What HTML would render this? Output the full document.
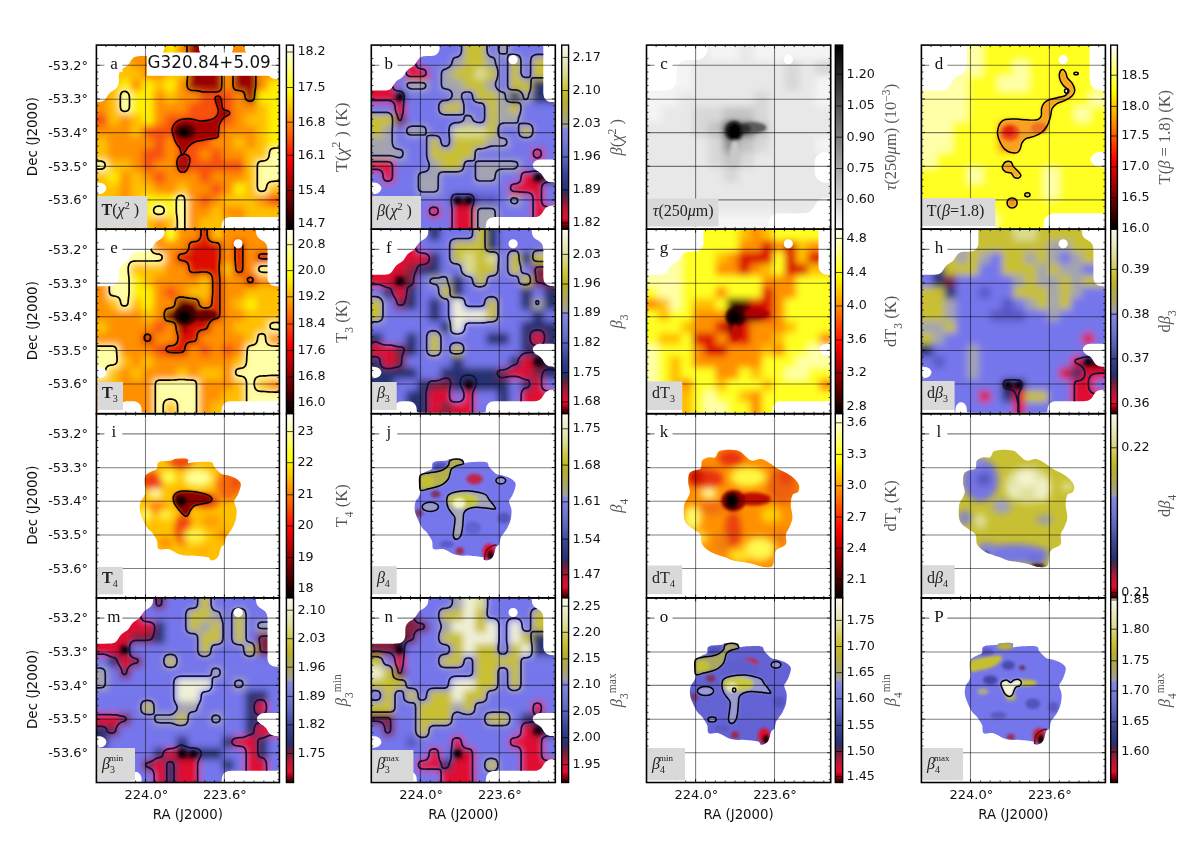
<!DOCTYPE html><html><head><meta charset="utf-8"><title>G320.84+5.09 maps</title><style>html,body{margin:0;padding:0;background:#fff;}svg{display:block}</style></head><body>
<svg width="1200" height="842" viewBox="0 0 1200 842">
<defs>
<linearGradient id="ghot" x1="0" y1="1" x2="0" y2="0"><stop offset="0.000" stop-color="#000000"/><stop offset="0.125" stop-color="#550000"/><stop offset="0.250" stop-color="#aa0000"/><stop offset="0.375" stop-color="#ff0000"/><stop offset="0.500" stop-color="#ff5500"/><stop offset="0.625" stop-color="#ffaa00"/><stop offset="0.750" stop-color="#ffff00"/><stop offset="0.875" stop-color="#ffff80"/><stop offset="1.000" stop-color="#ffffff"/></linearGradient>
<linearGradient id="gbeta" x1="0" y1="1" x2="0" y2="0"><stop offset="0.000" stop-color="#200000"/><stop offset="0.030" stop-color="#900010"/><stop offset="0.060" stop-color="#e01030"/><stop offset="0.120" stop-color="#b01838"/><stop offset="0.180" stop-color="#5a2444"/><stop offset="0.210" stop-color="#283070"/><stop offset="0.300" stop-color="#3a4490"/><stop offset="0.375" stop-color="#5860b8"/><stop offset="0.460" stop-color="#7078d0"/><stop offset="0.545" stop-color="#8888e0"/><stop offset="0.555" stop-color="#a0a0a8"/><stop offset="0.600" stop-color="#a8a470"/><stop offset="0.700" stop-color="#b8b030"/><stop offset="0.750" stop-color="#c8c030"/><stop offset="0.850" stop-color="#dcdc98"/><stop offset="0.930" stop-color="#ececc8"/><stop offset="1.000" stop-color="#f8f8f0"/></linearGradient>
<linearGradient id="ggrey" x1="0" y1="1" x2="0" y2="0"><stop offset="0.000" stop-color="#f8f8f8"/><stop offset="1.000" stop-color="#000000"/></linearGradient>
<filter id="bl" x="-5%" y="-5%" width="110%" height="110%"><feGaussianBlur stdDeviation="3.5"/></filter>
<filter id="bl2" x="-20%" y="-20%" width="140%" height="140%"><feGaussianBlur stdDeviation="1.5"/></filter>
</defs>
<rect width="1200" height="842" fill="#fff"/>
<clipPath id="cpa"><rect x="96.4" y="45.1" width="183.0" height="184.1"/></clipPath>
<g clip-path="url(#cpa)">
<clipPath id="fpa"><path clip-rule="evenodd" transform="translate(96.40,45.10)" d="M125.0,183.1 123.0,183.3 121.0,183.4 119.0,183.5 117.0,183.5 115.0,183.5 113.0,183.5 111.0,183.5 109.0,183.5 107.0,183.5 105.0,183.5 103.0,183.5 101.0,183.5 99.0,183.5 97.0,183.5 95.0,183.5 93.0,183.5 91.0,183.5 89.0,183.5 87.0,183.5 85.0,183.5 83.0,183.5 81.0,183.5 79.0,183.5 77.0,183.5 75.0,183.5 73.0,183.5 71.0,183.5 69.0,183.5 67.0,183.5 65.0,183.5 63.0,183.5 61.0,183.5 59.0,183.5 57.0,183.5 55.0,183.5 53.0,183.5 51.0,183.5 49.0,183.5 47.0,183.5 45.0,183.5 43.0,183.5 41.0,183.5 39.0,183.5 37.0,183.5 35.0,183.5 33.0,183.5 31.0,183.5 29.0,183.5 27.0,183.5 25.0,183.5 23.0,183.5 21.0,183.5 19.0,183.5 17.0,183.5 15.0,183.5 13.0,183.5 11.0,183.5 9.0,183.5 7.0,183.5 5.0,183.5 3.0,183.5 1.0,183.5 -0.5,183.0 -0.5,181.0 -0.5,179.0 -0.5,177.0 -0.5,175.0 -0.5,173.0 -0.5,171.0 -0.5,169.0 -0.5,167.0 -0.5,165.0 -0.5,163.0 -0.5,161.0 -0.5,159.0 -0.5,157.0 -0.5,155.0 -0.4,153.0 -0.3,151.0 -0.0,149.0 1.0,149.0 3.0,148.9 5.0,148.6 6.6,148.0 8.0,147.0 9.0,146.0 9.6,145.0 10.0,143.0 9.3,141.0 8.6,140.0 7.4,139.0 6.0,138.2 5.0,137.9 3.0,137.6 1.0,137.5 -0.1,137.0 -0.3,135.0 -0.4,133.0 -0.5,131.0 -0.5,129.0 -0.5,127.0 -0.5,125.0 -0.5,123.0 -0.5,121.0 -0.5,119.0 -0.5,117.0 -0.5,115.0 -0.5,113.0 -0.5,111.0 -0.5,109.0 -0.5,107.0 -0.5,105.0 -0.5,103.0 -0.5,101.0 -0.5,99.0 -0.5,97.0 -0.5,95.0 -0.5,93.0 -0.5,91.0 -0.5,89.0 -0.5,87.0 -0.5,85.0 -0.5,83.0 -0.5,81.0 -0.5,79.0 -0.5,77.0 -0.5,75.0 -0.5,73.0 -0.5,71.0 -0.5,69.0 -0.5,67.0 -0.5,65.0 -0.5,63.0 -0.4,61.0 -0.3,59.0 -0.0,57.0 1.0,57.0 3.0,56.9 5.0,56.6 6.6,56.0 8.0,55.1 9.0,54.1 9.9,53.0 10.5,52.0 11.1,51.0 12.0,49.5 13.0,48.3 14.0,47.3 15.0,46.5 16.0,45.9 17.5,45.0 19.0,44.0 20.0,43.1 20.9,42.0 21.5,41.0 22.0,39.5 22.3,38.0 22.4,36.0 22.4,34.0 22.4,32.0 22.5,30.0 22.9,28.0 23.3,27.0 24.0,25.8 25.0,24.7 26.0,23.8 27.3,23.0 28.9,22.0 30.0,21.3 31.0,20.5 32.0,19.5 33.0,18.1 33.7,17.0 34.3,16.0 35.0,14.9 36.0,13.6 37.0,12.7 38.2,12.0 40.0,11.3 42.0,11.1 44.0,11.0 46.0,11.0 48.0,11.0 50.0,11.0 52.0,11.0 54.0,11.0 56.0,11.0 58.0,11.0 60.0,10.9 62.0,10.7 63.8,10.0 65.0,9.2 66.0,8.3 66.9,7.0 67.4,6.0 68.0,4.0 68.1,3.0 68.1,1.0 69.0,-0.1 71.0,-0.3 73.0,-0.4 75.0,-0.5 77.0,-0.5 79.0,-0.5 81.0,-0.5 83.0,-0.5 85.0,-0.5 87.0,-0.5 89.0,-0.5 91.0,-0.5 93.0,-0.5 95.0,-0.5 97.0,-0.5 99.0,-0.4 101.0,-0.2 102.4,0.0 102.5,2.0 102.6,4.0 103.0,5.6 103.6,7.0 104.3,8.0 105.3,9.0 106.8,10.0 108.0,10.5 110.0,10.9 112.0,11.0 114.0,11.0 116.0,11.0 118.0,11.0 120.0,11.0 122.0,11.0 124.0,11.0 126.0,11.0 128.0,11.0 130.0,10.8 132.0,10.2 133.0,9.7 134.0,8.9 135.0,7.8 136.0,6.1 136.4,5.0 136.7,3.0 136.7,1.0 137.0,-0.0 139.0,-0.3 141.0,-0.4 143.0,-0.4 145.0,-0.3 147.0,-0.2 148.2,0.0 148.2,2.0 148.4,4.0 148.9,6.0 149.4,7.0 150.1,8.0 151.1,9.0 152.5,10.0 154.0,10.6 156.0,10.9 158.0,11.0 159.6,11.0 161.0,11.0 163.0,11.1 165.0,11.3 166.7,12.0 168.0,12.8 169.0,13.8 169.9,15.0 170.4,16.0 170.9,18.0 171.0,19.1 171.1,21.0 171.1,23.0 171.1,25.0 171.2,27.0 171.8,29.0 172.2,30.0 173.0,31.1 174.0,32.1 175.4,33.0 177.0,33.6 179.0,33.9 181.0,34.0 182.0,34.0 182.3,36.0 182.4,38.0 182.5,40.0 182.5,42.0 182.5,44.0 182.5,46.0 182.5,48.0 182.5,50.0 182.5,52.0 182.5,54.0 182.5,56.0 182.5,58.0 182.5,60.0 182.5,62.0 182.5,64.0 182.5,66.0 182.5,68.0 182.5,70.0 182.5,72.0 182.5,74.0 182.5,76.0 182.5,78.0 182.5,80.0 182.5,82.0 182.5,84.0 182.5,86.0 182.5,88.0 182.5,90.0 182.5,92.0 182.5,94.0 182.5,96.0 182.5,98.0 182.5,100.0 182.5,102.0 182.5,104.0 182.5,106.0 182.5,108.0 182.5,110.0 182.5,112.0 182.5,114.0 182.5,116.0 182.5,118.0 182.5,120.0 182.5,122.0 182.5,124.0 182.5,126.0 182.5,128.0 182.5,130.0 182.5,132.0 182.5,134.0 182.5,136.0 182.5,138.0 182.5,140.0 182.5,142.0 182.5,144.0 182.5,146.0 182.5,148.0 182.5,150.0 182.5,152.0 182.5,154.0 182.5,156.0 182.5,158.0 182.5,160.0 182.5,162.0 182.5,164.0 182.5,166.0 182.4,168.0 182.3,170.0 182.0,172.0 180.0,172.0 178.0,172.0 176.0,172.0 174.0,172.0 172.0,172.0 170.0,172.0 168.0,172.0 166.0,172.0 164.0,172.0 162.0,172.0 160.0,172.0 158.0,172.0 156.0,172.0 154.0,172.0 152.0,172.0 150.0,172.0 148.0,172.0 146.0,172.0 144.0,172.0 142.0,172.0 140.0,172.0 138.0,172.0 136.0,172.0 134.0,172.0 132.0,172.2 130.0,172.8 129.0,173.4 128.0,174.2 127.0,175.3 126.0,177.0 125.7,178.0 125.4,180.0 125.3,182.0 125.0,183.1Z"/></clipPath>
<g clip-path="url(#fpa)"><g filter="url(#bl)">
<rect x="88.40" y="37.10" width="31.48" height="20.11" fill="#ffc000"/>
<rect x="119.28" y="37.10" width="46.35" height="20.11" fill="#ff9000"/>
<rect x="165.02" y="37.10" width="12.04" height="20.11" fill="#fff000"/>
<rect x="176.46" y="37.10" width="12.04" height="20.11" fill="#ff9000"/>
<rect x="187.90" y="37.10" width="34.91" height="20.11" fill="#9a0000"/>
<rect x="222.21" y="37.10" width="65.79" height="20.11" fill="#ff9000"/>
<rect x="88.40" y="56.61" width="42.91" height="12.11" fill="#ffc000"/>
<rect x="130.71" y="56.61" width="57.79" height="12.11" fill="#ff9000"/>
<rect x="187.90" y="56.61" width="34.91" height="12.11" fill="#9a0000"/>
<rect x="222.21" y="56.61" width="12.04" height="12.11" fill="#ff9000"/>
<rect x="233.65" y="56.61" width="12.04" height="12.11" fill="#9a0000"/>
<rect x="245.09" y="56.61" width="42.91" height="12.11" fill="#ff9000"/>
<rect x="88.40" y="68.11" width="54.35" height="12.11" fill="#ffc000"/>
<rect x="142.15" y="68.11" width="23.47" height="12.11" fill="#ff9000"/>
<rect x="165.02" y="68.11" width="23.48" height="12.11" fill="#ffc000"/>
<rect x="187.90" y="68.11" width="34.91" height="12.11" fill="#9a0000"/>
<rect x="222.21" y="68.11" width="12.04" height="12.11" fill="#ff9000"/>
<rect x="233.65" y="68.11" width="23.48" height="12.11" fill="#9a0000"/>
<rect x="256.52" y="68.11" width="31.48" height="12.11" fill="#ff9000"/>
<rect x="88.40" y="79.62" width="31.48" height="12.11" fill="#ffc000"/>
<rect x="119.28" y="79.62" width="12.04" height="12.11" fill="#fff000"/>
<rect x="130.71" y="79.62" width="12.04" height="12.11" fill="#ff9000"/>
<rect x="142.15" y="79.62" width="12.04" height="12.11" fill="#fff000"/>
<rect x="153.59" y="79.62" width="12.04" height="12.11" fill="#ffc000"/>
<rect x="165.02" y="79.62" width="12.04" height="12.11" fill="#fff000"/>
<rect x="176.46" y="79.62" width="12.04" height="12.11" fill="#ff9000"/>
<rect x="187.90" y="79.62" width="34.91" height="12.11" fill="#9a0000"/>
<rect x="222.21" y="79.62" width="12.04" height="12.11" fill="#ff9000"/>
<rect x="233.65" y="79.62" width="23.48" height="12.11" fill="#9a0000"/>
<rect x="256.52" y="79.62" width="12.04" height="12.11" fill="#ff9000"/>
<rect x="267.96" y="79.62" width="20.04" height="12.11" fill="#fff000"/>
<rect x="88.40" y="91.12" width="20.04" height="12.11" fill="#ff9000"/>
<rect x="107.84" y="91.12" width="12.04" height="12.11" fill="#ffc000"/>
<rect x="119.28" y="91.12" width="12.04" height="12.11" fill="#ffffa8"/>
<rect x="130.71" y="91.12" width="23.48" height="12.11" fill="#fff000"/>
<rect x="153.59" y="91.12" width="12.04" height="12.11" fill="#ff9000"/>
<rect x="165.02" y="91.12" width="12.04" height="12.11" fill="#ffc000"/>
<rect x="176.46" y="91.12" width="23.48" height="12.11" fill="#ff9000"/>
<rect x="199.34" y="91.12" width="34.91" height="12.11" fill="#f85010"/>
<rect x="233.65" y="91.12" width="12.04" height="12.11" fill="#ff9000"/>
<rect x="245.09" y="91.12" width="12.04" height="12.11" fill="#9a0000"/>
<rect x="256.52" y="91.12" width="31.48" height="12.11" fill="#fff000"/>
<rect x="88.40" y="102.63" width="20.04" height="12.11" fill="#ff9000"/>
<rect x="107.84" y="102.63" width="12.04" height="12.11" fill="#ffc000"/>
<rect x="119.28" y="102.63" width="12.04" height="12.11" fill="#ffffa8"/>
<rect x="130.71" y="102.63" width="23.48" height="12.11" fill="#fff000"/>
<rect x="153.59" y="102.63" width="34.91" height="12.11" fill="#ff9000"/>
<rect x="187.90" y="102.63" width="46.35" height="12.11" fill="#f85010"/>
<rect x="233.65" y="102.63" width="23.48" height="12.11" fill="#ff9000"/>
<rect x="256.52" y="102.63" width="12.04" height="12.11" fill="#ffc000"/>
<rect x="267.96" y="102.63" width="20.04" height="12.11" fill="#fff000"/>
<rect x="88.40" y="114.14" width="20.04" height="12.11" fill="#f85010"/>
<rect x="107.84" y="114.14" width="12.04" height="12.11" fill="#ffc000"/>
<rect x="119.28" y="114.14" width="12.04" height="12.11" fill="#ff9000"/>
<rect x="130.71" y="114.14" width="12.04" height="12.11" fill="#ffc000"/>
<rect x="142.15" y="114.14" width="12.04" height="12.11" fill="#fff000"/>
<rect x="153.59" y="114.14" width="12.04" height="12.11" fill="#ff9000"/>
<rect x="165.02" y="114.14" width="69.22" height="12.11" fill="#f85010"/>
<rect x="233.65" y="114.14" width="12.04" height="12.11" fill="#ff9000"/>
<rect x="245.09" y="114.14" width="23.48" height="12.11" fill="#ffc000"/>
<rect x="267.96" y="114.14" width="20.04" height="12.11" fill="#fff000"/>
<rect x="88.40" y="125.64" width="42.91" height="12.11" fill="#ff9000"/>
<rect x="130.71" y="125.64" width="12.04" height="12.11" fill="#ffc000"/>
<rect x="142.15" y="125.64" width="80.66" height="12.11" fill="#f85010"/>
<rect x="222.21" y="125.64" width="34.91" height="12.11" fill="#ff9000"/>
<rect x="256.52" y="125.64" width="12.04" height="12.11" fill="#ffc000"/>
<rect x="267.96" y="125.64" width="20.04" height="12.11" fill="#fff000"/>
<rect x="88.40" y="137.15" width="20.04" height="12.11" fill="#ffc000"/>
<rect x="107.84" y="137.15" width="46.35" height="12.11" fill="#ff9000"/>
<rect x="153.59" y="137.15" width="12.04" height="12.11" fill="#f85010"/>
<rect x="165.02" y="137.15" width="12.04" height="12.11" fill="#ff9000"/>
<rect x="176.46" y="137.15" width="34.91" height="12.11" fill="#f85010"/>
<rect x="210.77" y="137.15" width="23.48" height="12.11" fill="#ff9000"/>
<rect x="233.65" y="137.15" width="12.04" height="12.11" fill="#ffc000"/>
<rect x="245.09" y="137.15" width="12.04" height="12.11" fill="#ff9000"/>
<rect x="256.52" y="137.15" width="12.04" height="12.11" fill="#ffc000"/>
<rect x="267.96" y="137.15" width="20.04" height="12.11" fill="#fff000"/>
<rect x="88.40" y="148.66" width="20.04" height="12.11" fill="#ffc000"/>
<rect x="107.84" y="148.66" width="34.91" height="12.11" fill="#ff9000"/>
<rect x="142.15" y="148.66" width="23.47" height="12.11" fill="#f85010"/>
<rect x="165.02" y="148.66" width="12.04" height="12.11" fill="#ff9000"/>
<rect x="176.46" y="148.66" width="23.48" height="12.11" fill="#f85010"/>
<rect x="199.34" y="148.66" width="12.04" height="12.11" fill="#ff9000"/>
<rect x="210.77" y="148.66" width="12.04" height="12.11" fill="#f85010"/>
<rect x="222.21" y="148.66" width="23.48" height="12.11" fill="#ff9000"/>
<rect x="245.09" y="148.66" width="23.48" height="12.11" fill="#ffc000"/>
<rect x="267.96" y="148.66" width="20.04" height="12.11" fill="#ffffa8"/>
<rect x="88.40" y="160.16" width="20.04" height="12.11" fill="#ffffa8"/>
<rect x="107.84" y="160.16" width="23.48" height="12.11" fill="#ffc000"/>
<rect x="130.71" y="160.16" width="12.04" height="12.11" fill="#ff9000"/>
<rect x="142.15" y="160.16" width="12.04" height="12.11" fill="#f85010"/>
<rect x="153.59" y="160.16" width="23.47" height="12.11" fill="#ff9000"/>
<rect x="176.46" y="160.16" width="69.22" height="12.11" fill="#f85010"/>
<rect x="245.09" y="160.16" width="12.04" height="12.11" fill="#ffc000"/>
<rect x="256.52" y="160.16" width="31.48" height="12.11" fill="#ffffa8"/>
<rect x="88.40" y="171.67" width="20.04" height="12.11" fill="#ffc000"/>
<rect x="107.84" y="171.67" width="12.04" height="12.11" fill="#fff000"/>
<rect x="119.28" y="171.67" width="12.04" height="12.11" fill="#ff9000"/>
<rect x="130.71" y="171.67" width="12.04" height="12.11" fill="#ffc000"/>
<rect x="142.15" y="171.67" width="12.04" height="12.11" fill="#ff9000"/>
<rect x="153.59" y="171.67" width="12.04" height="12.11" fill="#f85010"/>
<rect x="165.02" y="171.67" width="34.91" height="12.11" fill="#ff9000"/>
<rect x="199.34" y="171.67" width="12.04" height="12.11" fill="#f85010"/>
<rect x="210.77" y="171.67" width="34.91" height="12.11" fill="#ff9000"/>
<rect x="245.09" y="171.67" width="12.04" height="12.11" fill="#ffc000"/>
<rect x="256.52" y="171.67" width="31.48" height="12.11" fill="#ffffa8"/>
<rect x="88.40" y="183.17" width="31.48" height="12.11" fill="#ffc000"/>
<rect x="119.28" y="183.17" width="12.04" height="12.11" fill="#ff9000"/>
<rect x="130.71" y="183.17" width="23.48" height="12.11" fill="#ffc000"/>
<rect x="153.59" y="183.17" width="23.47" height="12.11" fill="#ff9000"/>
<rect x="176.46" y="183.17" width="12.04" height="12.11" fill="#ffc000"/>
<rect x="187.90" y="183.17" width="23.48" height="12.11" fill="#ff9000"/>
<rect x="210.77" y="183.17" width="12.04" height="12.11" fill="#f85010"/>
<rect x="222.21" y="183.17" width="12.04" height="12.11" fill="#ff9000"/>
<rect x="233.65" y="183.17" width="12.04" height="12.11" fill="#fff000"/>
<rect x="245.09" y="183.17" width="12.04" height="12.11" fill="#ffc000"/>
<rect x="256.52" y="183.17" width="12.04" height="12.11" fill="#ffffa8"/>
<rect x="267.96" y="183.17" width="20.04" height="12.11" fill="#ffc000"/>
<rect x="88.40" y="194.68" width="31.48" height="12.11" fill="#ffc000"/>
<rect x="119.28" y="194.68" width="12.04" height="12.11" fill="#ff9000"/>
<rect x="130.71" y="194.68" width="12.04" height="12.11" fill="#ffc000"/>
<rect x="142.15" y="194.68" width="34.91" height="12.11" fill="#fff000"/>
<rect x="176.46" y="194.68" width="12.04" height="12.11" fill="#ffffa8"/>
<rect x="187.90" y="194.68" width="12.04" height="12.11" fill="#ff9000"/>
<rect x="199.34" y="194.68" width="12.04" height="12.11" fill="#f85010"/>
<rect x="210.77" y="194.68" width="12.04" height="12.11" fill="#ff9000"/>
<rect x="222.21" y="194.68" width="34.91" height="12.11" fill="#ffc000"/>
<rect x="256.52" y="194.68" width="12.04" height="12.11" fill="#ff9000"/>
<rect x="267.96" y="194.68" width="20.04" height="12.11" fill="#f85010"/>
<rect x="88.40" y="206.19" width="31.48" height="12.11" fill="#ffc000"/>
<rect x="119.28" y="206.19" width="12.04" height="12.11" fill="#ff9000"/>
<rect x="130.71" y="206.19" width="23.48" height="12.11" fill="#fff000"/>
<rect x="153.59" y="206.19" width="12.04" height="12.11" fill="#ffffa8"/>
<rect x="165.02" y="206.19" width="12.04" height="12.11" fill="#fff000"/>
<rect x="176.46" y="206.19" width="12.04" height="12.11" fill="#ffffa8"/>
<rect x="187.90" y="206.19" width="23.48" height="12.11" fill="#ff9000"/>
<rect x="210.77" y="206.19" width="12.04" height="12.11" fill="#ffc000"/>
<rect x="222.21" y="206.19" width="23.48" height="12.11" fill="#ff9000"/>
<rect x="245.09" y="206.19" width="42.91" height="12.11" fill="#ffc000"/>
<rect x="88.40" y="217.69" width="65.79" height="20.11" fill="#ffc000"/>
<rect x="153.59" y="217.69" width="12.04" height="20.11" fill="#ff9000"/>
<rect x="165.02" y="217.69" width="12.04" height="20.11" fill="#ffc000"/>
<rect x="176.46" y="217.69" width="12.04" height="20.11" fill="#ffffa8"/>
<rect x="187.90" y="217.69" width="12.04" height="20.11" fill="#ff9000"/>
<rect x="199.34" y="217.69" width="34.91" height="20.11" fill="#ffc000"/>
<rect x="233.65" y="217.69" width="12.04" height="20.11" fill="#ff9000"/>
<rect x="245.09" y="217.69" width="42.91" height="20.11" fill="#ffc000"/>
</g>
<g transform="translate(96.40,45.10)"><g filter="url(#bl2)"><path d="M75.8,83.5 C76.5,80.8 78.6,77.5 81.3,75.8 C84.1,74.2 88.6,73.6 92.3,73.6 C96.0,73.6 99.6,75.6 103.3,75.8 C107.0,76.0 111.5,75.5 114.3,74.7 C117.0,74.0 118.5,72.9 119.8,71.4 C121.1,70.0 122.0,68.1 122.0,65.9 C122.0,63.7 120.3,60.4 119.8,58.2 C119.2,56.0 118.3,54.0 118.7,52.7 C119.0,51.5 121.0,50.8 122.0,51.0 C123.0,51.2 124.1,51.7 124.8,53.8 C125.6,56.0 125.2,61.7 126.4,63.7 C127.5,65.8 130.8,65.0 131.9,65.9 C133.0,66.8 133.7,68.1 133.0,69.2 C132.2,70.3 129.1,70.9 127.5,72.5 C125.8,74.2 124.0,76.6 123.1,79.1 C122.2,81.7 122.3,85.7 122.0,87.9 C121.6,90.1 122.9,91.2 120.9,92.3 C118.9,93.4 113.6,93.8 109.9,94.5 C106.2,95.2 101.8,95.6 98.9,96.7 C96.0,97.8 94.1,99.3 92.3,101.1 C90.5,102.9 89.1,106.2 87.9,107.7 C86.7,109.2 86.0,110.6 85.3,109.9 C84.5,109.2 84.4,105.1 83.5,103.3 C82.7,101.5 81.2,100.7 80.2,98.9 C79.2,97.1 78.1,94.9 77.4,92.3 C76.6,89.7 75.2,86.3 75.8,83.5Z" fill="#a80000" /><path d="M80.9,114.3 C81.5,112.5 83.1,110.7 84.6,109.9 C86.2,109.1 88.6,108.9 90.1,109.5 C91.6,110.0 93.0,111.3 93.4,113.2 C93.8,115.1 93.0,118.7 92.3,120.9 C91.6,123.1 90.5,125.5 89.0,126.4 C87.5,127.3 84.9,127.3 83.5,126.4 C82.2,125.5 81.3,122.9 80.9,120.9 C80.4,118.9 80.3,116.1 80.9,114.3Z" fill="#b00808" /><ellipse cx="89.0" cy="86.2" rx="10.5" ry="7.9" fill="#500000" transform="rotate(0 89.0 86.2)"/><ellipse cx="87.5" cy="86.8" rx="5.7" ry="4.8" fill="#0a0000" transform="rotate(0 87.5 86.8)"/></g></g>
<path transform="translate(96.40,45.10)" d="M90.6,-1.0 90.6,1.0 90.6,3.0 90.6,5.0 90.6,7.0 90.6,9.0 90.6,11.0 90.6,13.0 90.6,15.0 90.6,17.0 90.7,19.0 90.9,21.0 91.0,22.4 91.2,24.0 91.3,26.0 91.3,28.0 91.3,30.0 91.2,32.0 91.0,33.6 90.9,35.0 90.7,37.0 90.7,39.0 90.8,41.0 91.0,42.0 92.0,43.8 93.0,44.5 94.1,45.0 96.0,45.3 98.0,45.4 100.0,45.6 102.0,45.9 103.0,46.1 105.0,46.5 107.0,46.8 109.0,46.9 111.0,46.9 113.0,46.9 115.0,46.9 117.0,46.9 119.0,46.9 121.0,46.7 123.0,46.1 124.0,45.3 124.8,44.0 125.1,43.0 125.3,41.0 125.4,39.0 125.4,37.0 125.4,35.0 125.4,33.0 125.4,31.0 125.4,29.0 125.4,27.0 125.4,25.0 125.4,23.0 125.4,21.0 125.4,19.0 125.4,17.0 125.4,15.0 125.4,13.0 125.4,11.0 125.4,9.0 125.4,7.0 125.4,5.0 125.4,3.0 125.4,1.0 125.4,-1.0M154.9,56.0 156.0,55.6 157.0,54.7 157.8,53.0 158.0,52.0 158.2,50.0 158.3,48.0 158.6,46.0 158.9,44.0 159.1,43.0 159.3,41.0 159.4,39.0 159.4,37.0 159.4,35.0 159.4,33.0 159.4,31.0 159.4,29.0 159.2,27.0 159.0,26.0 158.0,24.2 157.0,23.4 155.9,23.0 154.0,22.6 152.0,22.2 151.0,21.8 149.9,21.0 149.0,19.6 148.6,18.0 148.3,16.0 148.0,14.1 147.5,13.0 146.8,12.0 145.0,11.0 144.0,10.8 142.0,10.7 140.2,11.0 139.0,11.5 138.0,12.2 137.0,14.0 136.8,15.0 136.6,17.0 136.6,19.0 136.6,21.0 136.6,23.0 136.6,25.0 136.6,27.0 136.6,29.0 136.6,31.0 136.6,33.0 136.6,35.0 136.6,37.0 136.6,39.0 136.8,41.0 137.0,42.3 137.9,44.0 139.0,44.8 140.0,45.1 142.0,45.4 144.0,45.6 145.6,46.0 147.0,46.9 147.8,48.0 148.2,49.0 148.6,51.0 149.0,52.9 149.5,54.0 150.2,55.0 152.0,55.9 153.0,56.1 154.9,56.0ZM30.0,66.0 28.0,66.2 26.6,66.0 25.0,65.1 24.4,64.0 24.0,62.2 23.9,61.0 23.9,59.0 23.9,57.0 23.9,55.0 23.9,53.0 24.0,51.0 24.1,50.0 24.8,48.0 25.7,47.0 27.0,46.4 29.0,46.3 30.6,47.0 31.7,48.0 32.3,49.0 32.9,51.0 33.0,52.0 33.1,54.0 33.1,56.0 33.1,58.0 33.1,60.0 33.0,62.0 32.9,63.0 32.0,64.9 31.0,65.6 30.0,66.0ZM183.0,136.1 181.0,136.1 179.0,136.1 177.0,136.2 175.0,136.4 173.1,137.0 172.0,137.8 171.1,139.0 170.6,140.0 170.1,142.0 169.9,143.0 169.0,144.9 168.0,145.7 167.0,146.1 165.0,146.2 163.6,146.0 162.0,145.1 161.4,144.0 161.0,142.2 160.9,141.0 160.9,139.0 160.9,137.0 160.9,135.0 160.9,133.0 160.9,131.0 160.9,129.0 160.9,127.0 160.9,125.0 160.9,123.0 161.0,121.0 161.0,120.0 161.6,118.0 162.4,117.0 164.0,116.2 165.1,116.0 167.0,115.8 169.0,115.4 170.0,114.9 171.2,114.0 172.0,112.9 172.6,111.0 172.9,109.0 173.0,107.8 173.4,106.0 174.0,104.7 175.0,103.8 177.0,103.1 178.0,103.0 180.0,102.9 182.0,102.9 183.0,102.9M-1.0,115.9 1.0,115.9 3.0,115.9 4.4,116.0 6.0,116.3 7.4,117.0 8.3,118.0 8.8,120.0 8.4,122.0 7.7,123.0 6.0,123.8 4.7,124.0 3.0,124.1 1.0,124.1 -1.0,124.1M80.9,184.0 80.9,182.0 80.9,180.0 80.9,178.0 80.9,176.0 80.8,174.0 80.6,172.0 80.3,170.0 80.0,168.0 80.0,167.0 79.9,165.0 79.9,163.0 79.9,161.0 79.9,159.0 79.9,157.0 80.0,155.0 80.1,154.0 80.9,152.0 81.9,151.0 83.0,150.5 85.0,150.3 87.0,151.0 87.7,152.0 88.1,153.0 88.3,155.0 88.4,157.0 88.4,159.0 88.4,161.0 88.4,163.0 88.4,165.0 88.4,167.0 88.4,169.0 88.4,171.0 88.4,173.0 88.4,175.0 88.4,177.0 88.4,179.0 88.4,181.0 88.4,183.0 88.4,184.0M65.0,169.0 63.0,169.3 61.0,169.2 59.9,169.0 58.1,168.0 57.5,167.0 57.2,165.0 57.8,163.0 58.8,162.0 60.0,161.4 62.0,161.0 64.0,161.1 66.0,161.8 67.0,162.8 67.6,164.0 67.8,166.0 67.0,167.9 66.0,168.6 65.0,169.0Z" fill="none" stroke="#000" stroke-width="1.7" stroke-linejoin="round"/>
</g>
<line x1="96.4" x2="279.4" y1="65.3" y2="65.3" stroke="#000" stroke-width="1.1" opacity="0.5"/>
<line x1="96.4" x2="279.4" y1="99.2" y2="99.2" stroke="#000" stroke-width="1.1" opacity="0.5"/>
<line x1="96.4" x2="279.4" y1="132.6" y2="132.6" stroke="#000" stroke-width="1.1" opacity="0.5"/>
<line x1="96.4" x2="279.4" y1="166.4" y2="166.4" stroke="#000" stroke-width="1.1" opacity="0.5"/>
<line x1="96.4" x2="279.4" y1="199.9" y2="199.9" stroke="#000" stroke-width="1.1" opacity="0.5"/>
<line x1="145.5" x2="145.5" y1="45.1" y2="229.2" stroke="#000" stroke-width="1.1" opacity="0.5"/>
<line x1="224.4" x2="224.4" y1="45.1" y2="229.2" stroke="#000" stroke-width="1.1" opacity="0.5"/>
<g transform="translate(96.40,45.10)" fill="none" stroke="#000" stroke-width="1.5" stroke-linejoin="round"><path d="M75.8,83.5 C76.5,80.8 78.6,77.5 81.3,75.8 C84.1,74.2 88.6,73.6 92.3,73.6 C96.0,73.6 99.6,75.6 103.3,75.8 C107.0,76.0 111.5,75.5 114.3,74.7 C117.0,74.0 118.5,72.9 119.8,71.4 C121.1,70.0 122.0,68.1 122.0,65.9 C122.0,63.7 120.3,60.4 119.8,58.2 C119.2,56.0 118.3,54.0 118.7,52.7 C119.0,51.5 121.0,50.8 122.0,51.0 C123.0,51.2 124.1,51.7 124.8,53.8 C125.6,56.0 125.2,61.7 126.4,63.7 C127.5,65.8 130.8,65.0 131.9,65.9 C133.0,66.8 133.7,68.1 133.0,69.2 C132.2,70.3 129.1,70.9 127.5,72.5 C125.8,74.2 124.0,76.6 123.1,79.1 C122.2,81.7 122.3,85.7 122.0,87.9 C121.6,90.1 122.9,91.2 120.9,92.3 C118.9,93.4 113.6,93.8 109.9,94.5 C106.2,95.2 101.8,95.6 98.9,96.7 C96.0,97.8 94.1,99.3 92.3,101.1 C90.5,102.9 89.1,106.2 87.9,107.7 C86.7,109.2 86.0,110.6 85.3,109.9 C84.5,109.2 84.4,105.1 83.5,103.3 C82.7,101.5 81.2,100.7 80.2,98.9 C79.2,97.1 78.1,94.9 77.4,92.3 C76.6,89.7 75.2,86.3 75.8,83.5Z"/><path d="M80.9,114.3 C81.5,112.5 83.1,110.7 84.6,109.9 C86.2,109.1 88.6,108.9 90.1,109.5 C91.6,110.0 93.0,111.3 93.4,113.2 C93.8,115.1 93.0,118.7 92.3,120.9 C91.6,123.1 90.5,125.5 89.0,126.4 C87.5,127.3 84.9,127.3 83.5,126.4 C82.2,125.5 81.3,122.9 80.9,120.9 C80.4,118.9 80.3,116.1 80.9,114.3Z"/></g>
<path d="M96.4,58.6h2M279.4,58.6h-2M96.4,65.3h3.5M279.4,65.3h-3.5M96.4,72.0h2M279.4,72.0h-2M96.4,78.8h2M279.4,78.8h-2M96.4,85.5h2M279.4,85.5h-2M96.4,92.2h2M279.4,92.2h-2M96.4,98.9h3.5M279.4,98.9h-3.5M96.4,105.7h2M279.4,105.7h-2M96.4,112.4h2M279.4,112.4h-2M96.4,119.1h2M279.4,119.1h-2M96.4,125.9h2M279.4,125.9h-2M96.4,132.6h3.5M279.4,132.6h-3.5M96.4,139.3h2M279.4,139.3h-2M96.4,146.1h2M279.4,146.1h-2M96.4,152.8h2M279.4,152.8h-2M96.4,159.5h2M279.4,159.5h-2M96.4,166.2h3.5M279.4,166.2h-3.5M96.4,173.0h2M279.4,173.0h-2M96.4,179.7h2M279.4,179.7h-2M96.4,186.4h2M279.4,186.4h-2M96.4,193.2h2M279.4,193.2h-2M96.4,199.9h3.5M279.4,199.9h-3.5M96.4,206.6h2M279.4,206.6h-2M96.4,213.4h2M279.4,213.4h-2M96.4,220.1h2M279.4,220.1h-2M96.4,226.8h2M279.4,226.8h-2M106.0,229.2v-2M106.0,45.1v2M115.9,229.2v-2M115.9,45.1v2M125.8,229.2v-2M125.8,45.1v2M135.6,229.2v-2M135.6,45.1v2M145.5,229.2v-3.5M145.5,45.1v3.5M155.4,229.2v-2M155.4,45.1v2M165.2,229.2v-2M165.2,45.1v2M175.1,229.2v-2M175.1,45.1v2M184.9,229.2v-2M184.9,45.1v2M194.8,229.2v-2M194.8,45.1v2M204.7,229.2v-2M204.7,45.1v2M214.5,229.2v-2M214.5,45.1v2M224.4,229.2v-3.5M224.4,45.1v3.5M234.3,229.2v-2M234.3,45.1v2M244.1,229.2v-2M244.1,45.1v2M254.0,229.2v-2M254.0,45.1v2M263.9,229.2v-2M263.9,45.1v2M273.7,229.2v-2M273.7,45.1v2" stroke="#000" stroke-width="0.8" fill="none"/>
<rect x="104.4" y="57.1" width="18" height="15" fill="#fff"/>
<text x="113.9" y="68.7" font-family="'Liberation Serif','DejaVu Serif',serif" font-size="17" text-anchor="middle" fill="#111">a</text>
<rect x="97.0" y="227.5" width="50.4" height="2.2" fill="#fff"/>
<rect x="97.0" y="196.0" width="50.4" height="31.5" fill="#d9d9d9"/>
<text x="101.6" y="214.7" font-family="'Liberation Serif','DejaVu Serif',serif" font-size="16" fill="#222"><tspan font-weight="bold">T</tspan><tspan>(</tspan><tspan font-style="italic">χ</tspan><tspan dy="-6" font-size="10">2</tspan><tspan dy="6"> )</tspan></text>
</g>
<rect x="96.4" y="45.1" width="183.0" height="184.1" fill="none" stroke="#000" stroke-width="1.6"/>
<rect x="286.4" y="45.1" width="7.1" height="184.1" fill="url(#ghot)" stroke="#000" stroke-width="1.4"/>
<line x1="286.4" x2="293.5" y1="52.0" y2="52.0" stroke="#000" stroke-width="0.9" opacity="0.8"/>
<text x="297.4" y="55.4" font-family="'DejaVu Sans','Liberation Sans',sans-serif" font-size="12.7" fill="#111">18.2</text>
<line x1="286.4" x2="293.5" y1="87.5" y2="87.5" stroke="#000" stroke-width="0.9" opacity="0.8"/>
<text x="297.4" y="90.9" font-family="'DejaVu Sans','Liberation Sans',sans-serif" font-size="12.7" fill="#111">17.5</text>
<line x1="286.4" x2="293.5" y1="122.2" y2="122.2" stroke="#000" stroke-width="0.9" opacity="0.8"/>
<text x="297.4" y="125.6" font-family="'DejaVu Sans','Liberation Sans',sans-serif" font-size="12.7" fill="#111">16.8</text>
<line x1="286.4" x2="293.5" y1="155.3" y2="155.3" stroke="#000" stroke-width="0.9" opacity="0.8"/>
<text x="297.4" y="158.7" font-family="'DejaVu Sans','Liberation Sans',sans-serif" font-size="12.7" fill="#111">16.1</text>
<line x1="286.4" x2="293.5" y1="190.5" y2="190.5" stroke="#000" stroke-width="0.9" opacity="0.8"/>
<text x="297.4" y="193.9" font-family="'DejaVu Sans','Liberation Sans',sans-serif" font-size="12.7" fill="#111">15.4</text>
<line x1="286.4" x2="293.5" y1="224.0" y2="224.0" stroke="#000" stroke-width="0.9" opacity="0.8"/>
<text x="297.4" y="227.4" font-family="'DejaVu Sans','Liberation Sans',sans-serif" font-size="12.7" fill="#111">14.7</text>
<text transform="translate(346.5,137.2) rotate(-90)" text-anchor="middle" font-family="'Liberation Serif','DejaVu Serif',serif" font-size="17.6" fill="#555"><tspan>T(</tspan><tspan font-style="italic">χ</tspan><tspan baseline-shift="super" font-size="70%">2</tspan><tspan> ) (K)</tspan></text>
<clipPath id="cpb"><rect x="371.3" y="45.1" width="184.0" height="184.1"/></clipPath>
<g clip-path="url(#cpb)">
<clipPath id="fpb"><path clip-rule="evenodd" transform="translate(371.30,45.10)" d="M114.0,183.1 112.0,183.3 110.0,183.4 108.0,183.5 106.0,183.5 104.0,183.5 102.0,183.5 100.0,183.5 98.0,183.5 96.0,183.5 94.0,183.5 92.0,183.5 90.0,183.5 88.0,183.5 86.0,183.5 84.0,183.5 82.0,183.5 80.0,183.5 78.0,183.5 76.0,183.5 74.0,183.5 72.0,183.5 70.0,183.5 68.0,183.5 66.0,183.5 64.0,183.5 62.0,183.5 60.0,183.5 58.0,183.5 56.0,183.5 54.0,183.5 52.0,183.5 50.0,183.5 48.0,183.5 46.0,183.5 44.0,183.5 42.0,183.5 40.0,183.5 38.0,183.5 36.0,183.5 34.0,183.5 32.0,183.5 30.0,183.5 28.0,183.5 26.0,183.5 24.0,183.5 22.0,183.5 20.0,183.5 18.0,183.5 16.0,183.5 14.0,183.5 12.0,183.5 10.0,183.5 8.0,183.5 6.0,183.5 4.0,183.5 2.0,183.5 0.0,183.5 -0.5,182.0 -0.5,180.0 -0.5,178.0 -0.5,176.0 -0.5,174.0 -0.5,172.0 -0.5,170.0 -0.5,168.0 -0.5,166.0 -0.5,164.0 -0.5,162.0 -0.5,160.0 -0.5,158.0 -0.5,156.0 -0.4,154.0 -0.3,152.0 -0.1,150.0 0.0,149.0 2.0,149.0 4.0,148.8 6.0,148.3 7.0,147.8 8.1,147.0 9.0,146.0 10.0,144.0 10.1,143.0 9.9,142.0 9.0,140.5 8.0,139.4 7.0,138.7 5.4,138.0 4.0,137.7 2.0,137.5 0.0,137.5 -0.2,136.0 -0.4,134.0 -0.5,132.0 -0.5,130.0 -0.5,128.0 -0.5,126.0 -0.5,124.0 -0.5,122.0 -0.5,120.0 -0.5,118.0 -0.5,116.0 -0.5,114.0 -0.5,112.0 -0.5,110.0 -0.5,108.0 -0.5,106.0 -0.5,104.0 -0.5,102.0 -0.5,100.0 -0.5,98.0 -0.5,96.0 -0.5,94.0 -0.5,92.0 -0.5,90.0 -0.5,88.0 -0.5,86.0 -0.5,84.0 -0.5,82.0 -0.5,80.0 -0.5,78.0 -0.5,76.0 -0.5,74.0 -0.5,72.0 -0.5,70.0 -0.5,68.0 -0.5,66.0 -0.5,64.0 -0.5,62.0 -0.5,60.0 -0.5,58.0 -0.5,56.0 -0.5,54.0 -0.5,52.0 -0.4,50.0 -0.3,48.0 -0.1,46.0 1.0,45.5 3.0,45.5 5.0,45.5 7.0,45.5 9.0,45.5 11.0,45.5 13.0,45.5 15.0,45.4 17.0,45.0 18.0,44.6 19.0,44.0 20.2,43.0 21.0,42.0 22.0,40.6 22.9,39.0 23.6,38.0 24.4,37.0 25.3,36.0 26.6,35.0 28.0,34.1 29.0,33.6 30.0,32.9 31.2,32.0 32.1,31.0 33.0,29.9 34.0,28.2 34.8,27.0 35.4,26.0 36.3,25.0 37.4,24.0 38.9,23.0 40.0,22.4 41.0,21.7 42.1,21.0 43.2,20.0 44.1,19.0 45.0,17.6 45.9,16.0 46.6,15.0 47.4,14.0 48.4,13.0 49.8,12.0 51.0,11.5 53.0,11.1 55.0,11.0 57.0,11.0 58.0,11.0 60.0,11.0 62.0,10.7 64.0,10.1 65.0,9.5 66.0,8.6 67.0,7.5 67.8,6.0 68.1,5.0 68.4,3.0 68.5,1.0 69.0,-0.1 71.0,-0.3 73.0,-0.4 75.0,-0.5 77.0,-0.5 79.0,-0.5 81.0,-0.5 83.0,-0.5 85.0,-0.5 87.0,-0.5 89.0,-0.5 91.0,-0.5 93.0,-0.5 95.0,-0.5 97.0,-0.5 99.0,-0.5 101.0,-0.5 103.0,-0.5 105.0,-0.5 107.0,-0.5 109.0,-0.5 111.0,-0.5 113.0,-0.5 115.0,-0.5 117.0,-0.5 119.0,-0.5 121.0,-0.5 123.0,-0.5 125.0,-0.5 127.0,-0.5 129.0,-0.5 131.0,-0.5 133.0,-0.5 135.0,-0.5 137.0,-0.5 139.0,-0.5 141.0,-0.5 143.0,-0.5 145.0,-0.5 147.0,-0.5 149.0,-0.5 151.0,-0.5 153.0,-0.5 155.0,-0.5 157.0,-0.5 159.0,-0.5 161.0,-0.5 163.0,-0.5 165.0,-0.5 167.0,-0.4 169.0,-0.3 171.0,-0.1 172.0,1.0 172.0,3.0 172.0,5.0 172.0,7.0 172.0,9.0 172.0,11.0 172.0,13.0 172.0,15.0 172.0,17.0 172.0,19.0 172.0,21.0 172.0,23.0 172.0,25.0 172.0,27.0 172.0,29.0 172.0,31.0 172.0,33.0 172.0,35.0 172.0,37.0 172.0,39.0 172.0,41.0 172.0,43.0 172.0,45.0 172.0,47.0 172.1,49.0 172.4,51.0 173.0,52.6 173.9,54.0 174.9,55.0 176.0,55.8 177.0,56.3 179.0,56.8 181.0,57.0 183.0,57.0 183.1,58.0 183.3,60.0 183.4,62.0 183.5,64.0 183.5,66.0 183.5,68.0 183.5,70.0 183.5,72.0 183.5,74.0 183.5,76.0 183.5,78.0 183.5,80.0 183.5,82.0 183.5,84.0 183.5,86.0 183.5,88.0 183.5,90.0 183.5,92.0 183.5,94.0 183.5,96.0 183.5,98.0 183.5,100.0 183.5,102.0 183.5,104.0 183.5,106.0 183.5,108.0 183.4,110.0 183.3,112.0 183.1,114.0 182.0,114.5 180.0,114.5 178.0,114.5 176.0,114.5 174.0,114.5 172.0,114.5 170.0,114.5 168.0,114.6 166.0,115.0 165.0,115.4 164.0,116.0 162.9,117.0 162.0,118.2 161.4,120.0 161.8,122.0 162.5,123.0 163.4,124.0 164.6,125.0 166.0,125.9 167.0,126.4 168.0,127.1 169.2,128.0 170.1,129.0 171.0,130.1 172.0,131.7 172.8,133.0 173.5,134.0 174.3,135.0 175.5,136.0 177.0,136.8 178.0,137.1 180.0,137.4 182.0,137.5 183.1,138.0 183.3,140.0 183.4,142.0 183.5,144.0 183.5,146.0 183.5,148.0 183.5,150.0 183.5,152.0 183.5,154.0 183.4,156.0 183.3,158.0 183.1,160.0 182.0,160.5 180.0,160.6 178.0,160.9 177.0,161.2 175.5,162.0 174.3,163.0 173.5,164.0 172.8,165.0 172.0,166.2 171.0,167.9 170.1,169.0 169.1,170.0 168.0,170.8 167.0,171.3 165.0,171.8 163.0,172.0 161.0,172.0 159.0,172.0 157.0,172.0 155.0,172.0 153.0,172.0 151.0,172.0 149.0,172.0 147.0,172.0 145.0,172.0 143.0,172.0 141.0,172.0 139.0,172.0 137.0,172.0 135.0,172.0 133.0,172.0 131.0,172.0 129.0,172.0 127.0,172.0 125.0,172.0 123.0,172.0 121.0,172.3 119.0,172.9 118.0,173.5 117.0,174.4 116.0,175.5 115.2,177.0 114.9,178.0 114.6,180.0 114.5,182.0 114.0,183.1ZM137.2,14.6a4.6,4.6 0 1,0 9.2,0a4.6,4.6 0 1,0 -9.2,0Z"/></clipPath>
<g clip-path="url(#fpb)"><g filter="url(#bl)">
<rect x="363.30" y="37.10" width="20.10" height="20.11" fill="#7676ec"/>
<rect x="382.80" y="37.10" width="23.60" height="20.11" fill="#e01030"/>
<rect x="405.80" y="37.10" width="58.10" height="20.11" fill="#7676ec"/>
<rect x="463.30" y="37.10" width="23.60" height="20.11" fill="#c8c030"/>
<rect x="486.30" y="37.10" width="12.10" height="20.11" fill="#7676ec"/>
<rect x="497.80" y="37.10" width="12.10" height="20.11" fill="#a4a4b0"/>
<rect x="509.30" y="37.10" width="54.60" height="20.11" fill="#7676ec"/>
<rect x="363.30" y="56.61" width="31.60" height="12.11" fill="#7676ec"/>
<rect x="394.30" y="56.61" width="23.60" height="12.11" fill="#e01030"/>
<rect x="417.30" y="56.61" width="35.10" height="12.11" fill="#7676ec"/>
<rect x="451.80" y="56.61" width="12.10" height="12.11" fill="#a4a4b0"/>
<rect x="463.30" y="56.61" width="23.60" height="12.11" fill="#c8c030"/>
<rect x="486.30" y="56.61" width="12.10" height="12.11" fill="#a4a4b0"/>
<rect x="497.80" y="56.61" width="12.10" height="12.11" fill="#7676ec"/>
<rect x="509.30" y="56.61" width="12.10" height="12.11" fill="#c8c030"/>
<rect x="520.80" y="56.61" width="12.10" height="12.11" fill="#7676ec"/>
<rect x="532.30" y="56.61" width="31.60" height="12.11" fill="#c8c030"/>
<rect x="363.30" y="68.11" width="20.10" height="12.11" fill="#e01030"/>
<rect x="382.80" y="68.11" width="23.60" height="12.11" fill="#7676ec"/>
<rect x="405.80" y="68.11" width="23.60" height="12.11" fill="#e01030"/>
<rect x="428.80" y="68.11" width="12.10" height="12.11" fill="#7676ec"/>
<rect x="440.30" y="68.11" width="12.10" height="12.11" fill="#a4a4b0"/>
<rect x="451.80" y="68.11" width="23.60" height="12.11" fill="#c8c030"/>
<rect x="474.80" y="68.11" width="12.10" height="12.11" fill="#dcdc90"/>
<rect x="486.30" y="68.11" width="12.10" height="12.11" fill="#c8c030"/>
<rect x="497.80" y="68.11" width="12.10" height="12.11" fill="#7676ec"/>
<rect x="509.30" y="68.11" width="12.10" height="12.11" fill="#c8c030"/>
<rect x="520.80" y="68.11" width="12.10" height="12.11" fill="#7676ec"/>
<rect x="532.30" y="68.11" width="31.60" height="12.11" fill="#c8c030"/>
<rect x="363.30" y="79.62" width="31.60" height="12.11" fill="#e01030"/>
<rect x="394.30" y="79.62" width="12.10" height="12.11" fill="#7676ec"/>
<rect x="405.80" y="79.62" width="23.60" height="12.11" fill="#a4a4b0"/>
<rect x="428.80" y="79.62" width="12.10" height="12.11" fill="#7676ec"/>
<rect x="440.30" y="79.62" width="23.60" height="12.11" fill="#a4a4b0"/>
<rect x="463.30" y="79.62" width="23.60" height="12.11" fill="#c8c030"/>
<rect x="486.30" y="79.62" width="12.10" height="12.11" fill="#a4a4b0"/>
<rect x="497.80" y="79.62" width="12.10" height="12.11" fill="#7676ec"/>
<rect x="509.30" y="79.62" width="23.60" height="12.11" fill="#c8c030"/>
<rect x="532.30" y="79.62" width="31.60" height="12.11" fill="#283070"/>
<rect x="363.30" y="91.12" width="31.60" height="12.11" fill="#e01030"/>
<rect x="394.30" y="91.12" width="12.10" height="12.11" fill="#200008"/>
<rect x="405.80" y="91.12" width="46.60" height="12.11" fill="#7676ec"/>
<rect x="451.80" y="91.12" width="12.10" height="12.11" fill="#a4a4b0"/>
<rect x="463.30" y="91.12" width="12.10" height="12.11" fill="#7676ec"/>
<rect x="474.80" y="91.12" width="23.60" height="12.11" fill="#c8c030"/>
<rect x="497.80" y="91.12" width="12.10" height="12.11" fill="#a4a4b0"/>
<rect x="509.30" y="91.12" width="12.10" height="12.11" fill="#283070"/>
<rect x="520.80" y="91.12" width="12.10" height="12.11" fill="#a4a4b0"/>
<rect x="532.30" y="91.12" width="31.60" height="12.11" fill="#283070"/>
<rect x="363.30" y="102.63" width="31.60" height="12.11" fill="#7676ec"/>
<rect x="394.30" y="102.63" width="12.10" height="12.11" fill="#e01030"/>
<rect x="405.80" y="102.63" width="35.10" height="12.11" fill="#7676ec"/>
<rect x="440.30" y="102.63" width="23.60" height="12.11" fill="#c8c030"/>
<rect x="463.30" y="102.63" width="23.60" height="12.11" fill="#7676ec"/>
<rect x="486.30" y="102.63" width="12.10" height="12.11" fill="#c8c030"/>
<rect x="497.80" y="102.63" width="12.10" height="12.11" fill="#a4a4b0"/>
<rect x="509.30" y="102.63" width="12.10" height="12.11" fill="#c8c030"/>
<rect x="520.80" y="102.63" width="43.10" height="12.11" fill="#7676ec"/>
<rect x="363.30" y="114.14" width="31.60" height="12.11" fill="#c8c030"/>
<rect x="394.30" y="114.14" width="12.10" height="12.11" fill="#802040"/>
<rect x="405.80" y="114.14" width="58.10" height="12.11" fill="#7676ec"/>
<rect x="463.30" y="114.14" width="12.10" height="12.11" fill="#a4a4b0"/>
<rect x="474.80" y="114.14" width="12.10" height="12.11" fill="#7676ec"/>
<rect x="486.30" y="114.14" width="12.10" height="12.11" fill="#c8c030"/>
<rect x="497.80" y="114.14" width="23.60" height="12.11" fill="#a4a4b0"/>
<rect x="520.80" y="114.14" width="43.10" height="12.11" fill="#7676ec"/>
<rect x="363.30" y="125.64" width="20.10" height="12.11" fill="#c8c030"/>
<rect x="382.80" y="125.64" width="12.10" height="12.11" fill="#a4a4b0"/>
<rect x="394.30" y="125.64" width="12.10" height="12.11" fill="#7676ec"/>
<rect x="405.80" y="125.64" width="23.60" height="12.11" fill="#a4a4b0"/>
<rect x="428.80" y="125.64" width="23.60" height="12.11" fill="#7676ec"/>
<rect x="451.80" y="125.64" width="35.10" height="12.11" fill="#dcdc90"/>
<rect x="486.30" y="125.64" width="12.10" height="12.11" fill="#c8c030"/>
<rect x="497.80" y="125.64" width="23.60" height="12.11" fill="#7676ec"/>
<rect x="520.80" y="125.64" width="12.10" height="12.11" fill="#c8c030"/>
<rect x="532.30" y="125.64" width="31.60" height="12.11" fill="#7676ec"/>
<rect x="363.30" y="137.15" width="31.60" height="12.11" fill="#a4a4b0"/>
<rect x="394.30" y="137.15" width="35.10" height="12.11" fill="#7676ec"/>
<rect x="428.80" y="137.15" width="12.10" height="12.11" fill="#c8c030"/>
<rect x="440.30" y="137.15" width="12.10" height="12.11" fill="#7676ec"/>
<rect x="451.80" y="137.15" width="35.10" height="12.11" fill="#c8c030"/>
<rect x="486.30" y="137.15" width="23.60" height="12.11" fill="#a4a4b0"/>
<rect x="509.30" y="137.15" width="54.60" height="12.11" fill="#7676ec"/>
<rect x="363.30" y="148.66" width="43.10" height="12.11" fill="#a4a4b0"/>
<rect x="405.80" y="148.66" width="23.60" height="12.11" fill="#7676ec"/>
<rect x="428.80" y="148.66" width="46.60" height="12.11" fill="#c8c030"/>
<rect x="474.80" y="148.66" width="58.10" height="12.11" fill="#7676ec"/>
<rect x="532.30" y="148.66" width="12.10" height="12.11" fill="#e01030"/>
<rect x="543.80" y="148.66" width="20.10" height="12.11" fill="#7676ec"/>
<rect x="363.30" y="160.16" width="31.60" height="12.11" fill="#e01030"/>
<rect x="394.30" y="160.16" width="35.10" height="12.11" fill="#7676ec"/>
<rect x="428.80" y="160.16" width="12.10" height="12.11" fill="#a4a4b0"/>
<rect x="440.30" y="160.16" width="23.60" height="12.11" fill="#c8c030"/>
<rect x="463.30" y="160.16" width="12.10" height="12.11" fill="#7676ec"/>
<rect x="474.80" y="160.16" width="46.60" height="12.11" fill="#a4a4b0"/>
<rect x="520.80" y="160.16" width="43.10" height="12.11" fill="#7676ec"/>
<rect x="363.30" y="171.67" width="20.10" height="12.11" fill="#7676ec"/>
<rect x="382.80" y="171.67" width="12.10" height="12.11" fill="#e01030"/>
<rect x="394.30" y="171.67" width="23.60" height="12.11" fill="#7676ec"/>
<rect x="417.30" y="171.67" width="23.60" height="12.11" fill="#a4a4b0"/>
<rect x="440.30" y="171.67" width="35.10" height="12.11" fill="#7676ec"/>
<rect x="474.80" y="171.67" width="23.60" height="12.11" fill="#a4a4b0"/>
<rect x="497.80" y="171.67" width="23.60" height="12.11" fill="#7676ec"/>
<rect x="520.80" y="171.67" width="12.10" height="12.11" fill="#e01030"/>
<rect x="532.30" y="171.67" width="31.60" height="12.11" fill="#200008"/>
<rect x="363.30" y="183.17" width="54.60" height="12.11" fill="#7676ec"/>
<rect x="417.30" y="183.17" width="23.60" height="12.11" fill="#a4a4b0"/>
<rect x="440.30" y="183.17" width="69.60" height="12.11" fill="#7676ec"/>
<rect x="509.30" y="183.17" width="35.10" height="12.11" fill="#e01030"/>
<rect x="543.80" y="183.17" width="20.10" height="12.11" fill="#7676ec"/>
<rect x="363.30" y="194.68" width="89.10" height="12.11" fill="#7676ec"/>
<rect x="451.80" y="194.68" width="23.60" height="12.11" fill="#200008"/>
<rect x="474.80" y="194.68" width="23.60" height="12.11" fill="#5656c4"/>
<rect x="497.80" y="194.68" width="12.10" height="12.11" fill="#7676ec"/>
<rect x="509.30" y="194.68" width="12.10" height="12.11" fill="#a4a4b0"/>
<rect x="520.80" y="194.68" width="12.10" height="12.11" fill="#7676ec"/>
<rect x="532.30" y="194.68" width="12.10" height="12.11" fill="#e01030"/>
<rect x="543.80" y="194.68" width="20.10" height="12.11" fill="#7676ec"/>
<rect x="363.30" y="206.19" width="66.10" height="12.11" fill="#7676ec"/>
<rect x="428.80" y="206.19" width="12.10" height="12.11" fill="#e01030"/>
<rect x="440.30" y="206.19" width="12.10" height="12.11" fill="#7676ec"/>
<rect x="451.80" y="206.19" width="23.60" height="12.11" fill="#e01030"/>
<rect x="474.80" y="206.19" width="23.60" height="12.11" fill="#a4a4b0"/>
<rect x="497.80" y="206.19" width="35.10" height="12.11" fill="#7676ec"/>
<rect x="532.30" y="206.19" width="31.60" height="12.11" fill="#e01030"/>
<rect x="363.30" y="217.69" width="89.10" height="20.11" fill="#7676ec"/>
<rect x="451.80" y="217.69" width="23.60" height="20.11" fill="#e01030"/>
<rect x="474.80" y="217.69" width="23.60" height="20.11" fill="#a4a4b0"/>
<rect x="497.80" y="217.69" width="35.10" height="20.11" fill="#7676ec"/>
<rect x="532.30" y="217.69" width="31.60" height="20.11" fill="#e01030"/>
</g>
<g fill="#100008" filter="url(#bl2)"><circle cx="400.1" cy="96.9" r="3.4"/><circle cx="538.0" cy="177.4" r="3.4"/><circle cx="457.5" cy="200.4" r="3.4"/><circle cx="469.0" cy="200.4" r="3.4"/></g>
<path transform="translate(371.30,45.10)" d="M11.8,-1.0 11.8,1.0 11.9,3.0 12.0,5.0 12.2,6.0 13.0,7.7 14.0,8.5 15.7,9.0 17.0,9.2 19.0,9.4 20.7,10.0 22.0,10.9 22.9,12.0 23.3,13.0 23.7,15.0 23.9,17.0 24.2,18.0 25.0,19.7 26.0,20.5 27.6,21.0 29.0,21.2 31.0,21.7 32.0,22.1 33.1,23.0 34.0,24.3 34.6,26.0 35.0,28.0 35.3,29.0 36.0,30.2 37.4,31.0 39.0,31.3 41.0,31.4 43.0,31.4 45.0,31.4 47.0,31.4 49.0,31.4 51.0,31.3 52.6,31.0 54.0,30.1 54.6,29.0 54.7,27.0 54.0,25.3 53.0,24.5 51.4,24.0 50.0,23.8 48.0,23.3 47.0,22.9 45.9,22.0 45.0,20.7 44.4,19.0 44.2,17.0 44.0,15.7 43.5,14.0 42.7,13.0 41.0,12.2 40.0,11.9 38.0,11.7 36.0,11.3 35.0,10.9 33.9,10.0 33.0,8.7 32.4,7.0 32.2,5.0 32.2,3.0 32.2,1.0 32.2,-1.0M-1.0,55.2 1.0,55.2 3.0,55.2 5.0,55.2 7.0,55.2 9.0,55.2 11.0,55.2 13.0,55.2 15.0,55.2 17.0,55.2 19.0,55.5 20.2,56.0 21.7,57.0 22.6,58.0 23.1,59.0 23.7,61.0 23.9,63.0 24.0,64.1 24.4,66.0 25.0,67.9 25.5,69.0 26.0,70.6 26.5,72.0 27.0,74.0 27.7,75.0 29.0,75.2 30.0,74.2 30.3,73.0 30.8,71.0 31.1,70.0 31.6,68.0 31.9,66.0 32.0,65.0 32.1,63.0 32.2,61.0 32.3,59.0 32.6,57.0 32.8,55.0 32.9,53.0 32.9,51.0 32.5,49.0 31.9,48.0 30.9,47.0 29.0,46.2 27.7,46.0 26.0,45.8 24.0,45.2 23.0,44.6 22.0,43.3 21.5,42.0 21.2,40.0 21.0,38.7 20.5,37.0 19.7,36.0 18.0,35.2 17.0,34.9 15.0,34.7 13.0,34.3 12.0,33.9 10.9,33.0 10.0,31.7 9.4,30.0 9.1,28.0 8.9,27.0 8.0,25.3 7.0,24.5 5.2,24.0 4.0,23.9 2.0,23.9 0.0,23.8 -1.0,23.8M168.7,112.0 169.4,111.0 170.0,109.0 169.8,107.0 169.0,105.3 168.0,104.6 166.0,104.1 164.0,104.6 163.0,105.3 162.2,107.0 162.0,109.0 162.6,111.0 163.3,112.0 165.0,112.8 167.0,112.8 168.7,112.0ZM-1.0,124.2 1.0,124.2 3.0,124.2 5.0,124.2 7.0,124.4 8.7,125.0 10.0,125.9 10.9,127.0 11.3,128.0 11.7,130.0 11.9,132.0 12.2,133.0 13.0,134.7 14.0,135.5 16.0,136.0 18.0,135.8 19.7,135.0 20.5,134.0 21.0,132.2 21.1,131.0 21.1,129.0 21.2,127.0 21.2,125.0 21.1,123.0 21.1,121.0 21.0,120.0 20.1,118.0 19.0,117.2 18.0,116.9 16.0,116.6 14.0,116.6 12.0,116.6 10.0,116.6 8.0,116.6 6.0,116.6 4.0,116.6 2.0,116.6 0.0,116.6 -1.0,116.6M184.0,126.0 182.0,126.0 180.0,126.0 178.0,126.0 176.0,126.0 174.0,126.0 172.0,126.0 170.0,126.0 168.0,126.0 166.0,126.0 164.9,126.0 163.0,126.1 161.0,126.3 159.0,126.5 157.0,126.7 155.0,126.9 153.9,127.0 152.0,127.6 151.0,128.4 150.2,130.0 150.0,131.0 149.7,133.0 149.3,135.0 148.9,136.0 148.0,137.1 146.7,138.0 145.0,138.6 143.0,138.9 142.0,139.1 140.3,140.0 139.6,141.0 139.2,143.0 139.9,145.0 141.0,145.8 142.0,146.2 144.0,146.4 146.0,146.5 148.0,146.7 150.0,146.9 151.0,147.0 153.0,147.1 155.0,147.2 157.0,147.4 158.7,148.0 160.0,148.9 160.9,150.0 161.3,151.0 161.7,153.0 161.8,155.0 161.8,157.0 161.8,159.0 161.8,161.0 161.8,163.0 161.8,165.0 161.8,167.0 161.8,169.0 161.8,171.0 161.8,173.0 161.8,175.0 161.8,177.0 161.8,179.0 161.8,181.0 161.8,183.0 161.8,184.0M184.0,161.8 182.0,161.8 180.0,161.8 178.0,161.8 176.0,161.7 174.0,161.3 173.0,160.9 171.9,160.0 171.0,158.7 170.4,157.0 170.2,155.0 170.2,153.0 170.2,151.0 170.2,149.0 170.2,147.0 170.2,145.0 170.3,143.0 170.6,141.0 171.0,140.0 172.0,138.8 173.1,138.0 175.0,137.3 177.0,137.1 179.0,137.1 181.0,137.0 183.0,137.0 184.0,137.0M100.4,184.0 100.4,182.0 100.4,180.0 100.4,178.0 100.4,176.0 100.4,174.0 100.4,172.0 100.4,170.0 100.4,168.0 100.5,166.0 100.6,164.0 101.0,162.3 101.3,161.0 102.0,159.1 102.3,158.0 102.7,156.0 102.7,154.0 102.3,152.0 101.7,151.0 100.6,150.0 99.0,149.3 97.0,149.0 96.0,149.0 94.0,149.0 92.0,149.0 90.0,149.0 88.0,149.0 86.0,149.0 85.0,149.1 83.0,149.4 81.9,150.0 80.9,151.0 80.2,153.0 80.0,155.0 80.0,157.0 80.2,159.0 80.4,161.0 80.7,163.0 80.8,165.0 80.8,167.0 80.8,169.0 80.8,171.0 80.8,173.0 80.8,175.0 80.8,177.0 80.8,179.0 80.8,181.0 80.8,183.0 80.8,184.0M65.7,169.0 66.4,168.0 66.9,166.0 66.4,164.0 65.7,163.0 64.0,162.2 62.0,162.0 60.0,162.6 59.0,163.3 58.2,165.0 58.2,167.0 59.0,168.7 60.0,169.4 62.0,170.0 64.0,169.8 65.7,169.0ZM115.7,-1.0 115.7,1.0 115.7,3.0 115.8,5.0 116.0,7.0 116.2,8.0 117.0,9.7 118.0,10.8 119.0,11.5 120.5,12.0 122.0,12.5 123.0,13.3 123.7,15.0 124.0,16.6 124.2,18.0 124.9,20.0 125.3,21.0 126.0,23.0 126.2,24.0 126.6,26.0 126.6,28.0 126.6,30.0 126.2,32.0 126.0,33.0 125.3,35.0 124.9,36.0 124.3,38.0 124.2,40.0 124.8,42.0 125.4,43.0 126.2,44.0 127.2,45.0 128.6,46.0 130.0,46.7 131.2,47.0 133.0,47.8 133.7,49.0 134.0,50.2 134.2,52.0 134.6,54.0 135.1,55.0 136.0,56.0 138.0,56.9 139.0,57.1 141.0,57.3 143.0,57.3 145.0,57.4 147.0,57.6 148.1,58.0 149.1,59.0 149.6,61.0 149.7,63.0 149.6,65.0 149.2,67.0 149.0,68.0 148.3,70.0 147.9,71.0 147.2,73.0 147.0,74.6 146.8,76.0 146.0,77.5 144.0,77.9 142.0,77.9 140.0,77.9 138.0,77.9 136.0,77.9 134.0,77.9 132.5,78.0 131.0,78.2 129.3,79.0 128.2,80.0 127.6,81.0 127.0,82.9 126.8,84.0 126.8,86.0 126.8,88.0 127.0,89.3 127.6,91.0 128.4,92.0 130.0,92.8 131.0,93.0 133.0,93.4 134.2,94.0 135.1,95.0 135.6,97.0 135.1,99.0 134.2,100.0 133.0,100.5 131.0,100.8 129.0,100.9 127.0,100.9 125.0,100.9 123.0,100.9 121.0,101.0 120.0,101.1 118.0,101.5 116.7,102.0 115.0,102.6 113.9,103.0 112.0,103.4 110.0,103.7 108.0,103.8 107.0,104.0 105.0,105.0 104.4,106.0 104.0,107.0 103.8,109.0 103.7,111.0 103.6,113.0 103.1,115.0 102.0,115.5 100.0,115.7 98.0,115.8 96.0,116.0 95.0,116.4 94.0,117.0 93.0,118.9 92.8,120.0 92.4,122.0 92.0,123.4 91.0,124.9 90.0,125.7 89.0,126.1 87.0,126.6 85.0,126.7 83.0,126.7 81.0,126.7 79.0,126.7 77.0,126.7 75.0,126.7 73.0,126.8 71.0,126.9 70.0,127.2 68.3,128.0 67.5,129.0 67.0,131.0 67.0,132.0 66.9,134.0 66.9,136.0 66.9,138.0 66.9,140.0 66.9,142.0 66.6,144.0 66.0,145.2 65.0,146.2 63.0,146.8 61.0,146.9 59.0,146.9 57.0,146.9 55.0,146.9 53.0,146.9 51.0,146.8 49.0,146.2 48.0,145.2 47.4,144.0 47.1,142.0 47.1,140.0 47.1,138.0 47.1,136.0 47.1,134.0 47.1,132.0 47.4,130.0 48.0,128.8 49.0,127.8 51.0,127.2 52.0,127.0 54.0,126.6 55.3,126.0 56.5,125.0 57.2,124.0 57.8,122.0 57.9,120.0 57.5,118.0 57.0,116.7 56.4,115.0 56.0,113.9 55.6,112.0 55.4,110.0 55.3,108.0 55.3,106.0 55.3,104.0 55.3,102.0 55.3,100.0 55.3,98.0 55.3,96.0 55.3,94.0 55.5,92.0 56.0,90.9 58.0,90.4 60.0,90.3 62.0,90.3 64.0,90.4 66.0,90.9 67.0,91.3 68.0,92.1 69.0,93.6 69.4,95.0 69.8,97.0 70.0,98.1 71.0,100.0 72.0,100.6 73.6,101.0 74.4,101.0 76.0,100.6 77.0,100.0 78.0,98.0 78.1,97.0 78.2,95.0 78.1,93.0 78.0,92.0 77.8,90.0 77.7,88.0 77.6,86.0 77.7,84.0 78.0,82.4 78.4,81.0 79.1,80.0 80.1,79.0 82.0,78.1 83.0,77.8 85.0,77.6 87.0,77.5 89.0,77.1 90.0,76.7 91.2,76.0 92.2,75.0 92.9,73.0 93.1,72.0 94.0,70.5 96.0,70.2 98.0,70.5 99.3,71.0 100.2,72.0 101.0,73.5 101.8,75.0 102.7,76.0 104.0,76.7 105.0,77.1 107.0,77.4 109.0,77.5 111.0,77.1 112.0,76.4 112.9,75.0 113.1,74.0 113.3,72.0 113.3,70.0 113.3,68.0 113.3,66.0 113.3,64.0 113.2,62.0 113.0,61.0 112.0,59.0 111.0,58.4 110.0,58.0 108.0,57.7 106.0,57.4 104.7,57.0 103.1,56.0 102.3,55.0 101.8,54.0 101.4,52.0 101.0,50.0 100.6,49.0 100.0,48.0 98.0,47.0 97.0,46.9 95.0,46.9 93.7,47.0 92.0,47.6 91.0,48.4 90.3,50.0 90.3,52.0 90.9,54.0 91.3,55.0 92.0,57.0 92.2,58.0 92.6,60.0 92.7,62.0 92.7,64.0 92.7,66.0 92.5,68.0 92.0,69.1 90.0,69.6 88.0,69.7 86.0,69.7 84.0,69.7 82.0,69.7 80.0,69.7 78.0,69.7 76.0,69.7 74.0,69.7 72.0,69.4 70.7,69.0 69.1,68.0 68.3,67.0 67.9,66.0 67.4,64.0 67.4,62.0 67.6,60.0 68.0,58.7 69.0,57.1 70.0,56.3 71.0,55.8 73.0,55.4 75.0,55.2 76.2,55.0 78.0,54.4 79.0,53.8 80.0,52.7 80.7,51.0 80.8,49.0 80.2,47.0 79.5,46.0 78.3,45.0 77.0,44.4 75.0,44.0 74.0,43.8 72.0,43.2 71.0,42.2 70.4,41.0 70.1,39.0 70.1,37.0 70.1,35.0 70.1,33.0 70.1,31.0 70.1,29.0 70.4,27.0 71.0,25.7 72.0,24.8 74.0,24.0 75.0,23.7 76.4,23.0 77.8,22.0 78.8,21.0 79.6,20.0 80.2,19.0 80.9,17.0 81.1,16.0 81.8,14.0 82.7,13.0 84.0,12.4 85.4,12.0 87.0,11.5 88.0,10.8 89.0,9.7 89.8,8.0 90.0,7.0 90.2,5.0 90.3,3.0 90.3,1.0 90.3,-1.0M135.9,-1.0 135.9,1.0 135.9,3.0 135.9,5.0 135.8,7.0 135.0,8.5 133.0,8.8 131.0,8.8 129.0,8.4 128.0,7.7 127.3,6.0 127.1,4.0 127.1,2.0 127.1,0.0 127.1,-1.0M184.0,32.7 182.0,32.7 180.0,32.7 178.0,32.7 176.0,32.7 174.0,32.7 172.0,32.7 170.0,32.7 168.0,32.7 166.0,32.7 164.0,32.7 162.0,32.8 160.9,33.0 160.0,34.0 159.7,36.0 159.7,38.0 159.6,40.0 159.5,42.0 159.2,44.0 159.0,45.0 158.3,47.0 157.9,48.0 157.3,50.0 157.0,51.6 156.5,53.0 155.7,54.0 154.0,54.4 152.9,54.0 152.0,52.0 151.8,51.0 151.1,49.0 150.5,48.0 149.6,47.0 148.3,46.0 147.0,45.4 145.6,45.0 144.0,44.8 142.0,44.7 140.0,44.5 138.0,44.0 137.0,43.1 136.6,42.0 136.3,40.0 136.3,38.0 136.3,36.0 136.3,34.0 136.3,32.0 136.3,30.0 136.3,28.0 136.3,26.0 136.3,24.0 136.3,22.0 136.3,20.0 136.3,18.0 136.3,16.0 136.3,14.0 136.4,12.0 136.9,10.0 138.0,9.5 140.0,9.3 142.0,9.3 144.0,9.4 146.0,9.9 147.0,10.3 148.0,11.1 149.0,12.7 149.4,14.0 149.7,16.0 149.7,18.0 149.7,20.0 149.7,22.0 149.7,24.0 149.7,26.0 149.8,28.0 150.0,29.0 151.0,31.0 152.0,31.6 153.0,32.0 155.0,32.2 157.0,32.2 158.1,32.0 159.0,31.0 159.2,29.0 159.3,27.0 159.3,25.0 159.3,23.0 159.3,21.0 159.3,19.0 159.3,17.0 159.4,15.0 159.9,13.0 160.3,12.0 161.1,11.0 162.7,10.0 164.0,9.6 166.0,9.3 168.0,9.3 170.0,9.3 172.0,9.3 174.0,9.3 176.0,9.3 178.0,9.3 180.0,9.3 182.0,9.3 184.0,9.3M53.0,43.2 51.0,43.8 49.0,43.9 47.0,43.9 45.0,43.9 43.0,43.9 41.0,43.9 39.0,43.6 37.7,43.0 36.5,42.0 35.9,41.0 35.9,39.0 37.0,38.0 38.0,37.8 40.0,37.6 42.0,37.6 44.0,37.5 46.0,37.5 48.0,37.6 50.0,37.6 52.0,37.8 53.0,38.0 54.2,39.0 54.5,41.0 54.0,42.2 53.0,43.2ZM-1.0,67.3 1.0,67.3 3.0,67.3 5.0,67.3 7.0,67.3 9.0,67.3 11.0,67.3 13.0,67.3 15.0,67.3 17.0,67.6 18.1,68.0 19.5,69.0 20.2,70.0 21.0,72.0 21.1,73.0 21.3,75.0 21.3,77.0 21.2,79.0 21.2,81.0 21.0,83.0 21.0,84.0 20.9,86.0 20.9,88.0 20.9,90.0 20.9,92.0 20.9,94.0 20.9,96.0 21.0,97.3 21.2,99.0 21.8,101.0 22.5,102.0 23.7,103.0 25.0,103.6 27.0,104.0 28.0,104.2 30.0,104.8 31.0,105.8 31.5,107.0 31.7,109.0 31.1,111.0 30.2,112.0 29.0,112.5 27.0,112.5 25.0,112.0 24.0,111.7 22.0,111.1 21.0,110.9 19.0,110.6 17.0,110.5 15.0,110.5 13.0,110.5 11.0,110.5 9.0,110.5 7.0,110.5 5.0,110.5 3.0,110.5 1.0,110.5 -1.0,110.5M158.0,92.1 156.0,92.6 154.0,92.6 152.0,92.4 150.7,92.0 149.1,91.0 148.3,90.0 147.9,89.0 147.4,87.0 147.3,85.0 147.3,83.0 147.4,81.0 147.9,79.0 149.0,78.5 151.0,78.3 153.0,78.3 155.0,78.4 157.0,78.6 158.3,79.0 159.9,80.0 160.7,81.0 161.1,82.0 161.6,84.0 161.6,86.0 161.4,88.0 161.0,89.3 160.0,90.9 159.0,91.7 158.0,92.1ZM54.0,89.5 52.0,89.9 50.0,89.9 48.0,89.9 46.0,89.9 44.0,89.9 42.0,89.9 40.0,89.9 38.0,89.6 36.8,89.0 35.9,88.0 35.4,86.0 35.7,84.0 36.3,83.0 37.4,82.0 39.0,81.4 41.0,81.1 43.0,81.1 45.0,81.1 47.0,81.1 49.0,81.1 51.0,81.2 53.0,81.8 54.0,82.8 54.5,84.0 54.8,86.0 54.8,88.0 54.0,89.5ZM122.0,135.2 120.0,135.8 118.0,135.9 116.0,135.9 114.0,135.9 112.0,135.9 110.0,135.9 108.0,135.8 106.0,135.2 105.0,134.2 104.4,133.0 104.1,131.0 104.1,129.0 104.1,127.0 104.1,125.0 104.1,123.0 104.1,121.0 104.1,119.0 104.5,117.0 106.0,116.2 108.0,116.1 110.0,116.1 112.0,116.1 114.0,116.1 116.0,116.1 118.0,116.1 120.0,116.1 122.0,116.1 124.0,116.1 126.0,116.1 128.0,116.1 130.0,116.1 132.0,116.1 134.0,116.1 136.0,116.1 138.0,116.1 140.0,116.1 142.0,116.2 144.0,116.5 145.2,117.0 146.1,118.0 146.4,120.0 146.0,121.4 145.0,122.6 144.0,123.3 142.0,123.8 140.0,123.9 138.0,123.9 136.0,123.9 134.0,123.9 132.0,123.9 130.7,124.0 129.0,124.2 127.0,124.8 126.0,125.5 125.0,126.7 124.4,128.0 124.0,130.0 123.9,131.0 123.6,133.0 123.0,134.2 122.0,135.2ZM145.0,158.1 143.0,158.6 141.0,158.1 140.0,157.2 139.5,156.0 139.8,154.0 141.0,153.0 142.0,152.8 144.0,152.9 145.0,153.2 146.1,154.0 146.4,156.0 146.0,157.2 145.0,158.1ZM106.5,184.0 106.5,182.0 106.5,180.0 106.5,178.0 106.5,176.0 106.5,174.0 106.5,172.0 106.5,170.0 106.6,168.0 106.7,166.0 107.0,165.0 108.0,163.9 110.0,163.3 112.0,163.2 114.0,163.2 116.0,163.2 118.0,163.2 120.0,163.4 122.0,163.8 123.0,164.6 123.6,166.0 123.9,168.0 123.9,170.0 123.9,172.0 123.9,174.0 123.9,176.0 123.9,178.0 123.9,180.0 123.9,182.0 123.9,184.0" fill="none" stroke="#10103a" stroke-width="1.7" stroke-linejoin="round"/>
</g>
<line x1="371.3" x2="555.3" y1="65.3" y2="65.3" stroke="#000" stroke-width="1.1" opacity="0.5"/>
<line x1="371.3" x2="555.3" y1="99.2" y2="99.2" stroke="#000" stroke-width="1.1" opacity="0.5"/>
<line x1="371.3" x2="555.3" y1="132.6" y2="132.6" stroke="#000" stroke-width="1.1" opacity="0.5"/>
<line x1="371.3" x2="555.3" y1="166.4" y2="166.4" stroke="#000" stroke-width="1.1" opacity="0.5"/>
<line x1="371.3" x2="555.3" y1="199.9" y2="199.9" stroke="#000" stroke-width="1.1" opacity="0.5"/>
<line x1="420.4" x2="420.4" y1="45.1" y2="229.2" stroke="#000" stroke-width="1.1" opacity="0.5"/>
<line x1="499.3" x2="499.3" y1="45.1" y2="229.2" stroke="#000" stroke-width="1.1" opacity="0.5"/>
<path d="M371.3,58.6h2M555.3,58.6h-2M371.3,65.3h3.5M555.3,65.3h-3.5M371.3,72.0h2M555.3,72.0h-2M371.3,78.8h2M555.3,78.8h-2M371.3,85.5h2M555.3,85.5h-2M371.3,92.2h2M555.3,92.2h-2M371.3,98.9h3.5M555.3,98.9h-3.5M371.3,105.7h2M555.3,105.7h-2M371.3,112.4h2M555.3,112.4h-2M371.3,119.1h2M555.3,119.1h-2M371.3,125.9h2M555.3,125.9h-2M371.3,132.6h3.5M555.3,132.6h-3.5M371.3,139.3h2M555.3,139.3h-2M371.3,146.1h2M555.3,146.1h-2M371.3,152.8h2M555.3,152.8h-2M371.3,159.5h2M555.3,159.5h-2M371.3,166.2h3.5M555.3,166.2h-3.5M371.3,173.0h2M555.3,173.0h-2M371.3,179.7h2M555.3,179.7h-2M371.3,186.4h2M555.3,186.4h-2M371.3,193.2h2M555.3,193.2h-2M371.3,199.9h3.5M555.3,199.9h-3.5M371.3,206.6h2M555.3,206.6h-2M371.3,213.4h2M555.3,213.4h-2M371.3,220.1h2M555.3,220.1h-2M371.3,226.8h2M555.3,226.8h-2M381.0,229.2v-2M381.0,45.1v2M390.8,229.2v-2M390.8,45.1v2M400.7,229.2v-2M400.7,45.1v2M410.5,229.2v-2M410.5,45.1v2M420.4,229.2v-3.5M420.4,45.1v3.5M430.3,229.2v-2M430.3,45.1v2M440.1,229.2v-2M440.1,45.1v2M450.0,229.2v-2M450.0,45.1v2M459.9,229.2v-2M459.9,45.1v2M469.7,229.2v-2M469.7,45.1v2M479.6,229.2v-2M479.6,45.1v2M489.4,229.2v-2M489.4,45.1v2M499.3,229.2v-3.5M499.3,45.1v3.5M509.2,229.2v-2M509.2,45.1v2M519.0,229.2v-2M519.0,45.1v2M528.9,229.2v-2M528.9,45.1v2M538.8,229.2v-2M538.8,45.1v2M548.6,229.2v-2M548.6,45.1v2" stroke="#000" stroke-width="0.8" fill="none"/>
<rect x="379.3" y="57.1" width="18" height="15" fill="#fff"/>
<text x="388.8" y="68.7" font-family="'Liberation Serif','DejaVu Serif',serif" font-size="17" text-anchor="middle" fill="#111">b</text>
<rect x="372.0" y="227.3" width="49" height="2.4" fill="#fff"/>
<rect x="372.0" y="196.0" width="49" height="31.3" fill="#d9d9d9"/>
<text x="377.1" y="215.7" font-family="'Liberation Serif','DejaVu Serif',serif" font-size="16" fill="#222"><tspan font-style="italic">β</tspan><tspan>(</tspan><tspan font-style="italic">χ</tspan><tspan dy="-6" font-size="10">2</tspan><tspan dy="6"> )</tspan></text>
</g>
<rect x="371.3" y="45.1" width="184.0" height="184.1" fill="none" stroke="#000" stroke-width="1.6"/>
<rect x="561.7" y="45.1" width="6.9" height="184.1" fill="url(#gbeta)" stroke="#000" stroke-width="1.4"/>
<line x1="561.7" x2="568.6" y1="57.4" y2="57.4" stroke="#000" stroke-width="0.9" opacity="0.8"/>
<text x="572.5" y="60.8" font-family="'DejaVu Sans','Liberation Sans',sans-serif" font-size="12.7" fill="#111">2.17</text>
<line x1="561.7" x2="568.6" y1="90.5" y2="90.5" stroke="#000" stroke-width="0.9" opacity="0.8"/>
<text x="572.5" y="93.9" font-family="'DejaVu Sans','Liberation Sans',sans-serif" font-size="12.7" fill="#111">2.10</text>
<line x1="561.7" x2="568.6" y1="124.0" y2="124.0" stroke="#000" stroke-width="0.9" opacity="0.8"/>
<text x="572.5" y="127.4" font-family="'DejaVu Sans','Liberation Sans',sans-serif" font-size="12.7" fill="#111">2.03</text>
<line x1="561.7" x2="568.6" y1="157.0" y2="157.0" stroke="#000" stroke-width="0.9" opacity="0.8"/>
<text x="572.5" y="160.4" font-family="'DejaVu Sans','Liberation Sans',sans-serif" font-size="12.7" fill="#111">1.96</text>
<line x1="561.7" x2="568.6" y1="190.0" y2="190.0" stroke="#000" stroke-width="0.9" opacity="0.8"/>
<text x="572.5" y="193.4" font-family="'DejaVu Sans','Liberation Sans',sans-serif" font-size="12.7" fill="#111">1.89</text>
<line x1="561.7" x2="568.6" y1="223.0" y2="223.0" stroke="#000" stroke-width="0.9" opacity="0.8"/>
<text x="572.5" y="226.4" font-family="'DejaVu Sans','Liberation Sans',sans-serif" font-size="12.7" fill="#111">1.82</text>
<text transform="translate(621.6,137.2) rotate(-90)" text-anchor="middle" font-family="'Liberation Serif','DejaVu Serif',serif" font-size="16.5" fill="#555"><tspan font-style="italic">β</tspan><tspan>(</tspan><tspan font-style="italic">χ</tspan><tspan baseline-shift="super" font-size="70%">2</tspan><tspan> )</tspan></text>
<clipPath id="cpc"><rect x="646.5" y="45.1" width="184.2" height="184.1"/></clipPath>
<g clip-path="url(#cpc)">
<clipPath id="fpc"><path clip-rule="evenodd" transform="translate(646.50,45.10)" d="M122.0,183.0 120.0,183.2 118.0,183.4 116.0,183.4 114.0,183.5 112.0,183.5 110.0,183.5 108.0,183.5 106.0,183.5 104.0,183.5 102.0,183.5 100.0,183.5 98.0,183.5 96.0,183.5 94.0,183.5 92.0,183.5 90.0,183.5 88.0,183.5 86.0,183.5 84.0,183.5 82.0,183.5 80.0,183.5 78.0,183.5 76.0,183.5 74.0,183.5 72.0,183.5 70.0,183.5 68.0,183.5 66.0,183.5 64.0,183.5 62.0,183.5 60.0,183.5 58.0,183.5 56.0,183.5 54.0,183.5 52.0,183.5 50.0,183.5 48.0,183.5 46.0,183.5 44.0,183.5 42.0,183.5 40.0,183.5 38.0,183.5 36.0,183.5 34.0,183.5 32.0,183.5 30.0,183.5 28.0,183.5 26.0,183.5 24.0,183.5 22.0,183.5 20.0,183.5 18.0,183.5 16.0,183.5 14.0,183.5 12.0,183.5 10.0,183.5 8.0,183.5 6.0,183.5 4.0,183.5 2.0,183.5 0.0,183.5 -0.5,182.0 -0.5,180.0 -0.5,178.0 -0.5,176.0 -0.5,174.0 -0.5,172.0 -0.5,170.0 -0.5,168.0 -0.5,166.0 -0.5,164.0 -0.5,162.0 -0.5,160.0 -0.5,158.0 -0.5,156.0 -0.5,154.0 -0.5,152.0 -0.5,150.0 -0.5,148.0 -0.5,146.0 -0.5,144.0 -0.5,142.0 -0.5,140.0 -0.5,138.0 -0.5,136.0 -0.5,134.0 -0.5,132.0 -0.5,130.0 -0.5,128.0 -0.5,126.0 -0.5,124.0 -0.5,122.0 -0.5,120.0 -0.5,118.0 -0.5,116.0 -0.5,114.0 -0.5,112.0 -0.5,110.0 -0.5,108.0 -0.5,106.0 -0.5,104.0 -0.5,102.0 -0.5,100.0 -0.5,98.0 -0.5,96.0 -0.5,94.0 -0.5,92.0 -0.5,90.0 -0.5,88.0 -0.5,86.0 -0.5,84.0 -0.5,82.0 -0.5,80.0 -0.5,78.0 -0.5,76.0 -0.5,74.0 -0.5,72.0 -0.5,70.0 -0.5,68.0 -0.5,66.0 -0.5,64.0 -0.5,62.0 -0.5,60.0 -0.5,58.0 -0.5,56.0 -0.5,54.0 -0.4,52.0 -0.4,50.0 -0.2,48.0 -0.1,46.0 1.0,45.5 3.0,45.5 5.0,45.5 7.0,45.5 9.0,45.5 11.0,45.5 13.0,45.5 15.0,45.5 17.0,45.5 19.0,45.5 21.0,45.4 22.7,45.0 24.0,44.5 25.0,43.9 26.2,43.0 27.3,42.0 28.1,41.0 29.0,39.6 29.7,38.0 30.0,36.5 30.1,35.0 30.2,33.0 30.2,31.0 30.2,29.0 30.2,27.0 30.2,25.0 30.5,23.0 31.0,21.4 31.7,20.0 32.5,19.0 33.4,18.0 34.5,17.0 36.0,16.0 37.0,15.5 39.0,15.0 40.0,14.9 42.0,14.8 44.0,14.8 46.0,14.8 48.0,14.8 50.0,14.8 52.0,14.7 54.0,14.1 55.0,13.7 56.1,13.0 57.3,12.0 58.3,11.0 59.0,10.0 60.0,8.3 60.5,7.0 60.8,5.0 60.8,3.0 60.8,1.0 61.0,-0.0 63.0,-0.2 65.0,-0.4 67.0,-0.4 69.0,-0.5 71.0,-0.5 73.0,-0.5 75.0,-0.5 77.0,-0.5 79.0,-0.5 81.0,-0.5 83.0,-0.5 85.0,-0.5 87.0,-0.5 89.0,-0.5 91.0,-0.5 93.0,-0.5 95.0,-0.5 97.0,-0.5 99.0,-0.5 101.0,-0.5 103.0,-0.5 105.0,-0.5 107.0,-0.5 109.0,-0.5 111.0,-0.5 113.0,-0.5 115.0,-0.5 117.0,-0.5 119.0,-0.5 121.0,-0.5 123.0,-0.5 125.0,-0.5 127.0,-0.5 129.0,-0.5 131.0,-0.5 133.0,-0.5 135.0,-0.5 137.0,-0.5 139.0,-0.5 141.0,-0.5 143.0,-0.5 145.0,-0.5 147.0,-0.5 149.0,-0.5 151.0,-0.5 153.0,-0.5 155.0,-0.5 157.0,-0.5 159.0,-0.5 161.0,-0.5 163.0,-0.5 165.0,-0.5 167.0,-0.5 169.0,-0.5 171.0,-0.5 173.0,-0.5 175.0,-0.5 177.0,-0.5 179.0,-0.5 181.0,-0.5 183.0,-0.5 183.5,1.0 183.5,3.0 183.5,5.0 183.5,7.0 183.5,9.0 183.5,11.0 183.5,13.0 183.5,15.0 183.5,17.0 183.5,19.0 183.5,21.0 183.5,23.0 183.5,25.0 183.5,27.0 183.5,29.0 183.5,31.0 183.5,33.0 183.5,35.0 183.5,37.0 183.5,39.0 183.5,41.0 183.5,43.0 183.5,45.0 183.5,47.0 183.5,49.0 183.5,51.0 183.5,53.0 183.5,55.0 183.5,57.0 183.5,59.0 183.5,61.0 183.5,63.0 183.5,65.0 183.5,67.0 183.5,69.0 183.5,71.0 183.5,73.0 183.5,75.0 183.5,77.0 183.5,79.0 183.5,81.0 183.5,83.0 183.5,85.0 183.5,87.0 183.5,89.0 183.5,91.0 183.5,93.0 183.5,95.0 183.5,97.0 183.5,99.0 183.4,101.0 183.3,103.0 183.2,105.0 183.0,106.8 181.0,106.8 179.0,106.9 177.1,107.0 176.0,107.2 174.0,108.0 173.0,108.6 172.0,109.4 171.0,110.4 170.0,111.6 169.2,113.0 168.7,114.0 168.3,116.0 168.2,118.0 168.2,120.0 168.2,122.0 168.2,124.0 168.2,126.0 168.3,128.0 168.6,130.0 169.0,131.0 170.0,132.7 171.0,134.0 172.0,134.9 173.0,135.7 174.0,136.3 175.6,137.0 177.0,137.3 179.0,137.5 181.0,137.5 183.0,137.5 183.2,139.0 183.3,141.0 183.4,143.0 183.4,145.0 183.4,147.0 183.3,149.0 183.2,151.0 183.0,152.8 181.0,152.8 179.0,152.9 177.1,153.0 176.0,153.2 174.0,154.0 173.0,154.6 172.0,155.4 171.0,156.4 170.0,157.6 169.0,159.0 168.4,160.0 167.9,161.0 167.0,162.5 166.0,163.9 165.0,165.0 164.0,165.9 163.0,166.6 162.0,167.2 160.0,167.9 159.0,168.0 157.0,168.1 155.0,168.2 153.0,168.2 151.0,168.2 149.0,168.2 147.0,168.2 145.0,168.2 143.0,168.2 141.0,168.2 139.0,168.2 137.0,168.2 135.0,168.2 133.0,168.2 131.0,168.3 129.0,168.9 128.0,169.3 126.9,170.0 125.7,171.0 124.7,172.0 124.0,173.0 123.0,174.7 122.5,176.0 122.2,178.0 122.2,180.0 122.2,182.0 122.0,183.0ZM137.2,14.6a4.6,4.6 0 1,0 9.2,0a4.6,4.6 0 1,0 -9.2,0Z"/></clipPath>
<g clip-path="url(#fpc)"><g filter="url(#bl)">
<rect x="638.50" y="37.10" width="54.65" height="23.94" fill="#f4f4f4"/>
<rect x="692.55" y="37.10" width="15.95" height="23.94" fill="#e8e8e8"/>
<rect x="707.90" y="37.10" width="31.30" height="23.94" fill="#f4f4f4"/>
<rect x="738.60" y="37.10" width="15.95" height="23.94" fill="#e8e8e8"/>
<rect x="753.95" y="37.10" width="85.35" height="23.94" fill="#f4f4f4"/>
<rect x="638.50" y="60.44" width="54.65" height="15.94" fill="#f4f4f4"/>
<rect x="692.55" y="60.44" width="92.70" height="15.94" fill="#e8e8e8"/>
<rect x="784.65" y="60.44" width="15.95" height="15.94" fill="#d8d8d8"/>
<rect x="800.00" y="60.44" width="15.95" height="15.94" fill="#e8e8e8"/>
<rect x="815.35" y="60.44" width="23.95" height="15.94" fill="#d8d8d8"/>
<rect x="638.50" y="75.78" width="54.65" height="15.94" fill="#f4f4f4"/>
<rect x="692.55" y="75.78" width="92.70" height="15.94" fill="#e8e8e8"/>
<rect x="784.65" y="75.78" width="15.95" height="15.94" fill="#d8d8d8"/>
<rect x="800.00" y="75.78" width="15.95" height="15.94" fill="#e8e8e8"/>
<rect x="815.35" y="75.78" width="23.95" height="15.94" fill="#f4f4f4"/>
<rect x="638.50" y="91.12" width="39.30" height="15.94" fill="#f4f4f4"/>
<rect x="677.20" y="91.12" width="77.35" height="15.94" fill="#e8e8e8"/>
<rect x="753.95" y="91.12" width="15.95" height="15.94" fill="#d8d8d8"/>
<rect x="769.30" y="91.12" width="46.65" height="15.94" fill="#e8e8e8"/>
<rect x="815.35" y="91.12" width="23.95" height="15.94" fill="#f4f4f4"/>
<rect x="638.50" y="106.47" width="23.95" height="15.94" fill="#f4f4f4"/>
<rect x="661.85" y="106.47" width="31.30" height="15.94" fill="#e8e8e8"/>
<rect x="692.55" y="106.47" width="31.30" height="15.94" fill="#d8d8d8"/>
<rect x="723.25" y="106.47" width="31.30" height="15.94" fill="#c4c4c4"/>
<rect x="753.95" y="106.47" width="15.95" height="15.94" fill="#d8d8d8"/>
<rect x="769.30" y="106.47" width="70.00" height="15.94" fill="#e8e8e8"/>
<rect x="638.50" y="121.81" width="54.65" height="15.94" fill="#e8e8e8"/>
<rect x="692.55" y="121.81" width="15.95" height="15.94" fill="#d8d8d8"/>
<rect x="707.90" y="121.81" width="15.95" height="15.94" fill="#c4c4c4"/>
<rect x="723.25" y="121.81" width="15.95" height="15.94" fill="#101010"/>
<rect x="738.60" y="121.81" width="15.95" height="15.94" fill="#707070"/>
<rect x="753.95" y="121.81" width="15.95" height="15.94" fill="#c4c4c4"/>
<rect x="769.30" y="121.81" width="70.00" height="15.94" fill="#e8e8e8"/>
<rect x="638.50" y="137.15" width="70.00" height="15.94" fill="#e8e8e8"/>
<rect x="707.90" y="137.15" width="15.95" height="15.94" fill="#d8d8d8"/>
<rect x="723.25" y="137.15" width="15.95" height="15.94" fill="#909090"/>
<rect x="738.60" y="137.15" width="15.95" height="15.94" fill="#c4c4c4"/>
<rect x="753.95" y="137.15" width="15.95" height="15.94" fill="#d8d8d8"/>
<rect x="769.30" y="137.15" width="46.65" height="15.94" fill="#e8e8e8"/>
<rect x="815.35" y="137.15" width="23.95" height="15.94" fill="#f4f4f4"/>
<rect x="638.50" y="152.49" width="70.00" height="15.94" fill="#e8e8e8"/>
<rect x="707.90" y="152.49" width="15.95" height="15.94" fill="#d8d8d8"/>
<rect x="723.25" y="152.49" width="15.95" height="15.94" fill="#c4c4c4"/>
<rect x="738.60" y="152.49" width="15.95" height="15.94" fill="#d8d8d8"/>
<rect x="753.95" y="152.49" width="85.35" height="15.94" fill="#e8e8e8"/>
<rect x="638.50" y="167.83" width="85.35" height="15.94" fill="#e8e8e8"/>
<rect x="723.25" y="167.83" width="15.95" height="15.94" fill="#d8d8d8"/>
<rect x="738.60" y="167.83" width="100.70" height="15.94" fill="#e8e8e8"/>
<rect x="638.50" y="183.17" width="200.80" height="15.94" fill="#e8e8e8"/>
<rect x="638.50" y="198.52" width="200.80" height="15.94" fill="#e8e8e8"/>
<rect x="638.50" y="213.86" width="54.65" height="23.94" fill="#e8e8e8"/>
<rect x="692.55" y="213.86" width="92.70" height="23.94" fill="#f4f4f4"/>
<rect x="784.65" y="213.86" width="54.65" height="23.94" fill="#e8e8e8"/>
</g>
<g transform="translate(646.50,45.10)"><g filter="url(#bl2)"><ellipse cx="88.5" cy="109.3" rx="5.2" ry="14.2" fill="#c8c8c8" transform="rotate(0 88.5 109.3)"/><ellipse cx="106.0" cy="82.6" rx="14.0" ry="5.7" fill="#5a5a5a" transform="rotate(0 106.0 82.6)"/><ellipse cx="97.2" cy="83.5" rx="7.4" ry="5.2" fill="#303030" transform="rotate(0 97.2 83.5)"/><ellipse cx="87.8" cy="85.7" rx="9.2" ry="10.1" fill="#202020" transform="rotate(0 87.8 85.7)"/><ellipse cx="87.8" cy="86.3" rx="6.6" ry="7.9" fill="#000000" transform="rotate(0 87.8 86.3)"/></g></g>
</g>
<line x1="646.5" x2="830.7" y1="65.3" y2="65.3" stroke="#000" stroke-width="1.1" opacity="0.5"/>
<line x1="646.5" x2="830.7" y1="99.2" y2="99.2" stroke="#000" stroke-width="1.1" opacity="0.5"/>
<line x1="646.5" x2="830.7" y1="132.6" y2="132.6" stroke="#000" stroke-width="1.1" opacity="0.5"/>
<line x1="646.5" x2="830.7" y1="166.4" y2="166.4" stroke="#000" stroke-width="1.1" opacity="0.5"/>
<line x1="646.5" x2="830.7" y1="199.9" y2="199.9" stroke="#000" stroke-width="1.1" opacity="0.5"/>
<line x1="695.6" x2="695.6" y1="45.1" y2="229.2" stroke="#000" stroke-width="1.1" opacity="0.5"/>
<line x1="774.5" x2="774.5" y1="45.1" y2="229.2" stroke="#000" stroke-width="1.1" opacity="0.5"/>
<path d="M646.5,58.6h2M830.7,58.6h-2M646.5,65.3h3.5M830.7,65.3h-3.5M646.5,72.0h2M830.7,72.0h-2M646.5,78.8h2M830.7,78.8h-2M646.5,85.5h2M830.7,85.5h-2M646.5,92.2h2M830.7,92.2h-2M646.5,98.9h3.5M830.7,98.9h-3.5M646.5,105.7h2M830.7,105.7h-2M646.5,112.4h2M830.7,112.4h-2M646.5,119.1h2M830.7,119.1h-2M646.5,125.9h2M830.7,125.9h-2M646.5,132.6h3.5M830.7,132.6h-3.5M646.5,139.3h2M830.7,139.3h-2M646.5,146.1h2M830.7,146.1h-2M646.5,152.8h2M830.7,152.8h-2M646.5,159.5h2M830.7,159.5h-2M646.5,166.2h3.5M830.7,166.2h-3.5M646.5,173.0h2M830.7,173.0h-2M646.5,179.7h2M830.7,179.7h-2M646.5,186.4h2M830.7,186.4h-2M646.5,193.2h2M830.7,193.2h-2M646.5,199.9h3.5M830.7,199.9h-3.5M646.5,206.6h2M830.7,206.6h-2M646.5,213.4h2M830.7,213.4h-2M646.5,220.1h2M830.7,220.1h-2M646.5,226.8h2M830.7,226.8h-2M656.1,229.2v-2M656.1,45.1v2M666.0,229.2v-2M666.0,45.1v2M675.9,229.2v-2M675.9,45.1v2M685.7,229.2v-2M685.7,45.1v2M695.6,229.2v-3.5M695.6,45.1v3.5M705.5,229.2v-2M705.5,45.1v2M715.3,229.2v-2M715.3,45.1v2M725.2,229.2v-2M725.2,45.1v2M735.1,229.2v-2M735.1,45.1v2M744.9,229.2v-2M744.9,45.1v2M754.8,229.2v-2M754.8,45.1v2M764.6,229.2v-2M764.6,45.1v2M774.5,229.2v-3.5M774.5,45.1v3.5M784.4,229.2v-2M784.4,45.1v2M794.2,229.2v-2M794.2,45.1v2M804.1,229.2v-2M804.1,45.1v2M814.0,229.2v-2M814.0,45.1v2M823.8,229.2v-2M823.8,45.1v2" stroke="#000" stroke-width="0.8" fill="none"/>
<rect x="654.5" y="57.1" width="18" height="15" fill="#fff"/>
<text x="664.0" y="68.7" font-family="'Liberation Serif','DejaVu Serif',serif" font-size="17" text-anchor="middle" fill="#111">c</text>
<rect x="647.0" y="226.5" width="71.5" height="3.2" fill="#fff"/>
<rect x="647.0" y="198.5" width="71.5" height="28" fill="#d9d9d9"/>
<text x="652.7" y="215.5" font-family="'Liberation Serif','DejaVu Serif',serif" font-size="16" fill="#222"><tspan font-style="italic">τ</tspan><tspan>(250</tspan><tspan font-style="italic">μ</tspan><tspan>m)</tspan></text>
</g>
<rect x="646.5" y="45.1" width="184.2" height="184.1" fill="none" stroke="#000" stroke-width="1.6"/>
<rect x="835.3" y="45.1" width="7.4" height="184.1" fill="url(#ggrey)" stroke="#000" stroke-width="1.4"/>
<line x1="835.3" x2="842.7" y1="74.3" y2="74.3" stroke="#000" stroke-width="0.9" opacity="0.8"/>
<text x="846.6" y="77.7" font-family="'DejaVu Sans','Liberation Sans',sans-serif" font-size="12.7" fill="#111">1.20</text>
<line x1="835.3" x2="842.7" y1="106.0" y2="106.0" stroke="#000" stroke-width="0.9" opacity="0.8"/>
<text x="846.6" y="109.4" font-family="'DejaVu Sans','Liberation Sans',sans-serif" font-size="12.7" fill="#111">1.05</text>
<line x1="835.3" x2="842.7" y1="137.2" y2="137.2" stroke="#000" stroke-width="0.9" opacity="0.8"/>
<text x="846.6" y="140.6" font-family="'DejaVu Sans','Liberation Sans',sans-serif" font-size="12.7" fill="#111">0.90</text>
<line x1="835.3" x2="842.7" y1="168.5" y2="168.5" stroke="#000" stroke-width="0.9" opacity="0.8"/>
<text x="846.6" y="171.9" font-family="'DejaVu Sans','Liberation Sans',sans-serif" font-size="12.7" fill="#111">0.75</text>
<line x1="835.3" x2="842.7" y1="199.3" y2="199.3" stroke="#000" stroke-width="0.9" opacity="0.8"/>
<text x="846.6" y="202.7" font-family="'DejaVu Sans','Liberation Sans',sans-serif" font-size="12.7" fill="#111">0.60</text>
<text transform="translate(895.7,137.2) rotate(-90)" text-anchor="middle" font-family="'Liberation Serif','DejaVu Serif',serif" font-size="16.5" fill="#555"><tspan font-style="italic">τ</tspan><tspan>(250</tspan><tspan font-style="italic">μ</tspan><tspan>m) (10</tspan><tspan baseline-shift="super" font-size="70%">−3</tspan><tspan>)</tspan></text>
<clipPath id="cpd"><rect x="921.4" y="45.1" width="184.0" height="184.1"/></clipPath>
<g clip-path="url(#cpd)">
<clipPath id="fpd"><path clip-rule="evenodd" transform="translate(921.40,45.10)" d="M122.0,183.0 120.0,183.2 118.0,183.4 116.0,183.4 114.0,183.5 112.0,183.5 110.0,183.5 108.0,183.5 106.0,183.5 104.0,183.5 102.0,183.5 100.0,183.5 98.0,183.5 96.0,183.5 94.0,183.5 92.0,183.5 90.0,183.5 88.0,183.5 86.0,183.5 84.0,183.5 82.0,183.5 80.0,183.5 78.0,183.5 76.0,183.5 74.0,183.5 72.0,183.5 70.0,183.5 68.0,183.5 66.0,183.5 64.0,183.5 62.0,183.5 60.0,183.5 58.0,183.5 56.0,183.5 54.0,183.5 52.0,183.5 50.0,183.5 48.0,183.5 46.0,183.5 44.0,183.5 42.0,183.5 40.0,183.5 38.0,183.5 36.0,183.5 34.0,183.5 32.0,183.5 30.0,183.5 28.0,183.5 26.0,183.5 24.0,183.5 22.0,183.5 20.0,183.5 18.0,183.5 16.0,183.5 14.0,183.5 12.0,183.5 10.0,183.5 8.0,183.5 6.0,183.5 4.0,183.5 2.0,183.5 0.0,183.5 -0.5,182.0 -0.5,180.0 -0.5,178.0 -0.5,176.0 -0.5,174.0 -0.5,172.0 -0.5,170.0 -0.5,168.0 -0.5,166.0 -0.5,164.0 -0.5,162.0 -0.5,160.0 -0.5,158.0 -0.5,156.0 -0.5,154.0 -0.5,152.0 -0.5,150.0 -0.5,148.0 -0.5,146.0 -0.5,144.0 -0.5,142.0 -0.5,140.0 -0.5,138.0 -0.5,136.0 -0.5,134.0 -0.5,132.0 -0.5,130.0 -0.5,128.0 -0.5,126.0 -0.5,124.0 -0.5,122.0 -0.5,120.0 -0.5,118.0 -0.5,116.0 -0.5,114.0 -0.5,112.0 -0.5,110.0 -0.5,108.0 -0.5,106.0 -0.5,104.0 -0.5,102.0 -0.5,100.0 -0.5,98.0 -0.5,96.0 -0.5,94.0 -0.5,92.0 -0.5,90.0 -0.5,88.0 -0.5,86.0 -0.5,84.0 -0.5,82.0 -0.5,80.0 -0.5,78.0 -0.5,76.0 -0.5,74.0 -0.5,72.0 -0.5,70.0 -0.5,68.0 -0.5,66.0 -0.5,64.0 -0.5,62.0 -0.5,60.0 -0.5,58.0 -0.5,56.0 -0.5,54.0 -0.4,52.0 -0.4,50.0 -0.2,48.0 -0.1,46.0 1.0,45.5 3.0,45.5 5.0,45.5 7.0,45.5 9.0,45.5 11.0,45.5 13.0,45.5 15.0,45.5 17.0,45.5 19.0,45.5 21.0,45.4 22.7,45.0 24.0,44.5 25.0,43.9 26.2,43.0 27.3,42.0 28.2,41.0 29.0,39.8 30.0,38.1 30.6,37.0 31.2,36.0 32.0,34.9 33.0,33.7 34.0,32.7 35.0,31.9 36.4,31.0 38.0,30.1 39.0,29.5 40.0,28.9 41.2,28.0 42.3,27.0 43.2,26.0 44.0,24.9 44.9,23.0 45.2,22.0 45.4,20.0 45.5,18.0 45.5,16.0 45.5,14.0 45.5,12.0 45.5,10.0 45.5,8.0 45.5,6.0 45.5,4.0 45.5,2.0 45.5,0.0 47.0,-0.2 49.0,-0.3 51.0,-0.4 53.0,-0.5 55.0,-0.5 57.0,-0.5 59.0,-0.5 61.0,-0.5 63.0,-0.5 65.0,-0.5 67.0,-0.5 69.0,-0.5 71.0,-0.5 73.0,-0.5 75.0,-0.5 77.0,-0.5 79.0,-0.5 81.0,-0.5 83.0,-0.5 85.0,-0.5 87.0,-0.5 89.0,-0.5 91.0,-0.5 93.0,-0.5 95.0,-0.5 97.0,-0.5 99.0,-0.5 101.0,-0.5 103.0,-0.5 105.0,-0.5 107.0,-0.5 109.0,-0.5 111.0,-0.5 113.0,-0.5 115.0,-0.5 117.0,-0.5 119.0,-0.5 121.0,-0.5 123.0,-0.5 125.0,-0.5 127.0,-0.5 129.0,-0.5 131.0,-0.5 133.0,-0.5 135.0,-0.5 137.0,-0.5 139.0,-0.5 141.0,-0.5 143.0,-0.5 145.0,-0.5 147.0,-0.5 149.0,-0.5 151.0,-0.5 153.0,-0.5 155.0,-0.5 157.0,-0.5 159.0,-0.5 161.0,-0.5 163.0,-0.4 165.0,-0.3 167.0,-0.1 168.2,0.0 168.2,2.0 168.2,4.0 168.2,6.0 168.2,8.0 168.2,10.0 168.2,12.0 168.2,14.0 168.2,16.0 168.2,18.0 168.2,20.0 168.2,22.0 168.2,24.0 168.2,26.0 168.2,28.0 168.2,30.0 168.2,32.0 168.2,34.0 168.3,36.0 168.6,38.0 169.0,39.0 170.0,40.7 171.0,42.0 172.0,42.9 173.0,43.7 174.0,44.3 175.6,45.0 177.0,45.3 179.0,45.5 181.0,45.5 183.0,45.5 183.2,47.0 183.3,49.0 183.4,51.0 183.5,53.0 183.5,55.0 183.5,57.0 183.5,59.0 183.5,61.0 183.5,63.0 183.5,65.0 183.5,67.0 183.5,69.0 183.5,71.0 183.5,73.0 183.5,75.0 183.5,77.0 183.5,79.0 183.5,81.0 183.5,83.0 183.5,85.0 183.5,87.0 183.5,89.0 183.5,91.0 183.5,93.0 183.5,95.0 183.5,97.0 183.5,99.0 183.4,101.0 183.3,103.0 183.2,105.0 183.0,106.8 181.0,106.8 179.0,106.9 177.1,107.0 176.0,107.2 174.0,108.0 173.0,108.6 172.0,109.4 171.0,110.4 170.0,111.7 169.3,113.0 169.1,115.0 169.8,117.0 170.5,118.0 171.4,119.0 172.5,120.0 174.0,121.0 175.0,121.5 177.0,122.0 178.0,122.1 180.0,122.2 182.0,122.2 183.1,123.0 183.3,125.0 183.4,127.0 183.5,129.0 183.5,131.0 183.5,133.0 183.5,135.0 183.5,137.0 183.5,139.0 183.5,141.0 183.5,143.0 183.5,145.0 183.5,147.0 183.5,149.0 183.5,151.0 183.5,153.0 183.5,155.0 183.5,157.0 183.5,159.0 183.5,161.0 183.4,163.0 183.3,165.0 183.1,167.0 183.0,168.2 181.0,168.2 179.0,168.2 177.0,168.2 175.0,168.2 173.0,168.2 171.0,168.2 169.0,168.2 167.0,168.2 165.0,168.2 163.0,168.2 161.0,168.2 159.0,168.2 157.0,168.2 155.0,168.2 153.0,168.2 151.0,168.2 149.0,168.2 147.0,168.2 145.0,168.2 143.0,168.2 141.0,168.2 139.0,168.2 137.0,168.2 135.0,168.2 133.0,168.2 131.0,168.3 129.0,168.9 128.0,169.3 126.9,170.0 125.7,171.0 124.7,172.0 124.0,173.0 123.0,174.7 122.5,176.0 122.2,178.0 122.2,180.0 122.2,182.0 122.0,183.0ZM137.2,14.6a4.6,4.6 0 1,0 9.2,0a4.6,4.6 0 1,0 -9.2,0Z"/></clipPath>
<g clip-path="url(#fpd)"><g filter="url(#bl)">
<rect x="913.40" y="37.10" width="69.93" height="23.94" fill="#ffffa8"/>
<rect x="982.73" y="37.10" width="131.27" height="23.94" fill="#ffff20"/>
<rect x="913.40" y="60.44" width="69.93" height="15.94" fill="#ffffa8"/>
<rect x="982.73" y="60.44" width="31.27" height="15.94" fill="#ffff20"/>
<rect x="1013.40" y="60.44" width="15.93" height="15.94" fill="#ffffa8"/>
<rect x="1028.73" y="60.44" width="85.27" height="15.94" fill="#ffff20"/>
<rect x="913.40" y="75.78" width="54.60" height="15.94" fill="#ffffa8"/>
<rect x="967.40" y="75.78" width="31.27" height="15.94" fill="#ffff20"/>
<rect x="998.07" y="75.78" width="31.27" height="15.94" fill="#ffffa8"/>
<rect x="1028.73" y="75.78" width="85.27" height="15.94" fill="#ffff20"/>
<rect x="913.40" y="91.12" width="54.60" height="15.94" fill="#ffffa8"/>
<rect x="967.40" y="91.12" width="123.27" height="15.94" fill="#ffff20"/>
<rect x="1090.07" y="91.12" width="23.93" height="15.94" fill="#ffffa8"/>
<rect x="913.40" y="106.47" width="54.60" height="15.94" fill="#ffffa8"/>
<rect x="967.40" y="106.47" width="107.93" height="15.94" fill="#ffff20"/>
<rect x="1074.73" y="106.47" width="15.93" height="15.94" fill="#ffffa8"/>
<rect x="1090.07" y="106.47" width="23.93" height="15.94" fill="#ffff20"/>
<rect x="913.40" y="121.81" width="39.27" height="15.94" fill="#ffffa8"/>
<rect x="952.07" y="121.81" width="46.60" height="15.94" fill="#ffff20"/>
<rect x="998.07" y="121.81" width="31.27" height="15.94" fill="#ff9000"/>
<rect x="1028.73" y="121.81" width="85.27" height="15.94" fill="#ffff20"/>
<rect x="913.40" y="137.15" width="39.27" height="15.94" fill="#ffffa8"/>
<rect x="952.07" y="137.15" width="46.60" height="15.94" fill="#ffff20"/>
<rect x="998.07" y="137.15" width="15.93" height="15.94" fill="#ff9000"/>
<rect x="1013.40" y="137.15" width="100.60" height="15.94" fill="#ffff20"/>
<rect x="913.40" y="152.49" width="23.93" height="15.94" fill="#ffffa8"/>
<rect x="936.73" y="152.49" width="177.27" height="15.94" fill="#ffff20"/>
<rect x="913.40" y="167.83" width="54.60" height="15.94" fill="#ffff20"/>
<rect x="967.40" y="167.83" width="15.93" height="15.94" fill="#ffffa8"/>
<rect x="982.73" y="167.83" width="61.93" height="15.94" fill="#ffff20"/>
<rect x="1044.07" y="167.83" width="15.93" height="15.94" fill="#ffffa8"/>
<rect x="1059.40" y="167.83" width="54.60" height="15.94" fill="#ffff20"/>
<rect x="913.40" y="183.17" width="131.27" height="15.94" fill="#ffff20"/>
<rect x="1044.07" y="183.17" width="15.93" height="15.94" fill="#ffffa8"/>
<rect x="1059.40" y="183.17" width="54.60" height="15.94" fill="#ffff20"/>
<rect x="913.40" y="198.52" width="200.60" height="15.94" fill="#ffff20"/>
<rect x="913.40" y="213.86" width="54.60" height="23.94" fill="#ffff20"/>
<rect x="967.40" y="213.86" width="31.27" height="23.94" fill="#ffffa8"/>
<rect x="998.07" y="213.86" width="115.93" height="23.94" fill="#ffff20"/>
</g>
<g transform="translate(921.40,45.10)"><g filter="url(#bl2)"><path d="M141.0,24.5 C142.0,24.3 143.4,25.9 144.2,27.3 C145.1,28.7 144.9,31.0 146.0,32.8 C147.1,34.6 149.5,36.2 150.8,38.2 C152.0,40.2 153.4,42.7 153.4,44.8 C153.4,46.9 152.3,49.0 150.8,50.7 C149.3,52.4 146.8,53.8 144.2,55.1 C141.7,56.4 137.7,57.2 135.5,58.6 C133.2,60.0 131.8,61.1 130.7,63.4 C129.6,65.6 129.8,69.2 128.9,72.1 C128.1,75.0 127.0,78.4 125.7,80.9 C124.3,83.3 122.8,85.2 120.6,87.0 C118.4,88.7 115.2,90.3 112.5,91.3 C109.8,92.4 106.5,92.4 104.5,93.5 C102.5,94.6 101.5,96.2 100.5,97.9 C99.6,99.6 99.6,102.2 98.8,103.8 C98.0,105.4 97.4,107.0 95.7,107.5 C94.0,108.1 90.6,107.7 88.5,107.1 C86.4,106.5 84.6,105.3 83.0,103.8 C81.5,102.3 80.2,100.1 79.1,97.9 C78.0,95.7 76.9,93.0 76.5,90.7 C76.0,88.4 76.0,86.3 76.5,84.1 C76.9,81.9 77.8,79.2 79.1,77.6 C80.4,75.9 81.7,74.9 84.1,74.3 C86.6,73.7 90.5,73.8 94.0,73.9 C97.4,73.9 101.3,74.6 104.9,74.7 C108.5,74.9 113.3,75.4 115.8,74.7 C118.3,74.1 119.0,72.9 119.8,71.0 C120.5,69.1 119.7,65.6 120.2,63.4 C120.7,61.2 121.5,59.4 122.8,57.9 C124.1,56.5 125.5,55.5 127.8,54.6 C130.1,53.7 133.9,53.2 136.6,52.4 C139.3,51.7 142.6,51.5 144.2,50.3 C145.9,49.0 146.8,46.4 146.4,44.8 C146.1,43.2 143.3,42.1 142.0,40.4 C140.8,38.8 139.4,37.0 138.8,35.0 C138.1,33.0 137.7,30.2 138.1,28.4 C138.5,26.7 139.9,24.7 141.0,24.5Z" fill="#f8a020" /><path d="M84.1,116.9 C85.6,116.0 88.3,116.2 89.6,116.9 C90.9,117.6 90.7,119.8 91.8,121.3 C92.9,122.7 94.9,124.2 96.2,125.7 C97.4,127.1 99.2,128.8 99.4,130.0 C99.6,131.2 98.3,132.5 97.2,132.9 C96.2,133.2 94.2,133.0 92.9,132.2 C91.6,131.4 91.1,128.8 89.6,127.8 C88.1,126.9 85.6,127.7 84.1,126.7 C82.7,125.8 80.9,124.0 80.9,122.4 C80.9,120.7 82.7,117.8 84.1,116.9Z" fill="#f8a828" /><ellipse cx="90.7" cy="157.8" rx="4.8" ry="4.8" fill="#f09020" transform="rotate(0 90.7 157.8)"/><ellipse cx="106.0" cy="149.7" rx="2.4" ry="1.7" fill="#f8b030" transform="rotate(0 106.0 149.7)"/><ellipse cx="88.5" cy="87.4" rx="9.8" ry="8.7" fill="#f05018" transform="rotate(0 88.5 87.4)"/><ellipse cx="87.4" cy="86.3" rx="5.5" ry="5.5" fill="#e82010" transform="rotate(0 87.4 86.3)"/><ellipse cx="118.0" cy="83.0" rx="8.7" ry="5.5" fill="#f07020" transform="rotate(0 118.0 83.0)"/><ellipse cx="145.3" cy="45.9" rx="2.0" ry="2.0" fill="#ffffe0" transform="rotate(0 145.3 45.9)"/></g></g>
</g>
<line x1="921.4" x2="1105.4" y1="65.3" y2="65.3" stroke="#000" stroke-width="1.1" opacity="0.5"/>
<line x1="921.4" x2="1105.4" y1="99.2" y2="99.2" stroke="#000" stroke-width="1.1" opacity="0.5"/>
<line x1="921.4" x2="1105.4" y1="132.6" y2="132.6" stroke="#000" stroke-width="1.1" opacity="0.5"/>
<line x1="921.4" x2="1105.4" y1="166.4" y2="166.4" stroke="#000" stroke-width="1.1" opacity="0.5"/>
<line x1="921.4" x2="1105.4" y1="199.9" y2="199.9" stroke="#000" stroke-width="1.1" opacity="0.5"/>
<line x1="970.5" x2="970.5" y1="45.1" y2="229.2" stroke="#000" stroke-width="1.1" opacity="0.5"/>
<line x1="1049.4" x2="1049.4" y1="45.1" y2="229.2" stroke="#000" stroke-width="1.1" opacity="0.5"/>
<g transform="translate(921.40,45.10)" fill="none" stroke="#000" stroke-width="1.5" stroke-linejoin="round"><path d="M141.0,24.5 C142.0,24.3 143.4,25.9 144.2,27.3 C145.1,28.7 144.9,31.0 146.0,32.8 C147.1,34.6 149.5,36.2 150.8,38.2 C152.0,40.2 153.4,42.7 153.4,44.8 C153.4,46.9 152.3,49.0 150.8,50.7 C149.3,52.4 146.8,53.8 144.2,55.1 C141.7,56.4 137.7,57.2 135.5,58.6 C133.2,60.0 131.8,61.1 130.7,63.4 C129.6,65.6 129.8,69.2 128.9,72.1 C128.1,75.0 127.0,78.4 125.7,80.9 C124.3,83.3 122.8,85.2 120.6,87.0 C118.4,88.7 115.2,90.3 112.5,91.3 C109.8,92.4 106.5,92.4 104.5,93.5 C102.5,94.6 101.5,96.2 100.5,97.9 C99.6,99.6 99.6,102.2 98.8,103.8 C98.0,105.4 97.4,107.0 95.7,107.5 C94.0,108.1 90.6,107.7 88.5,107.1 C86.4,106.5 84.6,105.3 83.0,103.8 C81.5,102.3 80.2,100.1 79.1,97.9 C78.0,95.7 76.9,93.0 76.5,90.7 C76.0,88.4 76.0,86.3 76.5,84.1 C76.9,81.9 77.8,79.2 79.1,77.6 C80.4,75.9 81.7,74.9 84.1,74.3 C86.6,73.7 90.5,73.8 94.0,73.9 C97.4,73.9 101.3,74.6 104.9,74.7 C108.5,74.9 113.3,75.4 115.8,74.7 C118.3,74.1 119.0,72.9 119.8,71.0 C120.5,69.1 119.7,65.6 120.2,63.4 C120.7,61.2 121.5,59.4 122.8,57.9 C124.1,56.5 125.5,55.5 127.8,54.6 C130.1,53.7 133.9,53.2 136.6,52.4 C139.3,51.7 142.6,51.5 144.2,50.3 C145.9,49.0 146.8,46.4 146.4,44.8 C146.1,43.2 143.3,42.1 142.0,40.4 C140.8,38.8 139.4,37.0 138.8,35.0 C138.1,33.0 137.7,30.2 138.1,28.4 C138.5,26.7 139.9,24.7 141.0,24.5Z"/><path d="M84.1,116.9 C85.6,116.0 88.3,116.2 89.6,116.9 C90.9,117.6 90.7,119.8 91.8,121.3 C92.9,122.7 94.9,124.2 96.2,125.7 C97.4,127.1 99.2,128.8 99.4,130.0 C99.6,131.2 98.3,132.5 97.2,132.9 C96.2,133.2 94.2,133.0 92.9,132.2 C91.6,131.4 91.1,128.8 89.6,127.8 C88.1,126.9 85.6,127.7 84.1,126.7 C82.7,125.8 80.9,124.0 80.9,122.4 C80.9,120.7 82.7,117.8 84.1,116.9Z"/><circle cx="90.7" cy="157.8" r="5.0"/><ellipse cx="106.0" cy="149.7" rx="2.6" ry="2.0"/><ellipse cx="154.7" cy="28.4" rx="2.2" ry="1.3"/><circle cx="145.3" cy="45.9" r="2.2"/></g>
<path d="M921.4,58.6h2M1105.4,58.6h-2M921.4,65.3h3.5M1105.4,65.3h-3.5M921.4,72.0h2M1105.4,72.0h-2M921.4,78.8h2M1105.4,78.8h-2M921.4,85.5h2M1105.4,85.5h-2M921.4,92.2h2M1105.4,92.2h-2M921.4,98.9h3.5M1105.4,98.9h-3.5M921.4,105.7h2M1105.4,105.7h-2M921.4,112.4h2M1105.4,112.4h-2M921.4,119.1h2M1105.4,119.1h-2M921.4,125.9h2M1105.4,125.9h-2M921.4,132.6h3.5M1105.4,132.6h-3.5M921.4,139.3h2M1105.4,139.3h-2M921.4,146.1h2M1105.4,146.1h-2M921.4,152.8h2M1105.4,152.8h-2M921.4,159.5h2M1105.4,159.5h-2M921.4,166.2h3.5M1105.4,166.2h-3.5M921.4,173.0h2M1105.4,173.0h-2M921.4,179.7h2M1105.4,179.7h-2M921.4,186.4h2M1105.4,186.4h-2M921.4,193.2h2M1105.4,193.2h-2M921.4,199.9h3.5M1105.4,199.9h-3.5M921.4,206.6h2M1105.4,206.6h-2M921.4,213.4h2M1105.4,213.4h-2M921.4,220.1h2M1105.4,220.1h-2M921.4,226.8h2M1105.4,226.8h-2M931.0,229.2v-2M931.0,45.1v2M940.9,229.2v-2M940.9,45.1v2M950.8,229.2v-2M950.8,45.1v2M960.6,229.2v-2M960.6,45.1v2M970.5,229.2v-3.5M970.5,45.1v3.5M980.4,229.2v-2M980.4,45.1v2M990.2,229.2v-2M990.2,45.1v2M1000.1,229.2v-2M1000.1,45.1v2M1010.0,229.2v-2M1010.0,45.1v2M1019.8,229.2v-2M1019.8,45.1v2M1029.7,229.2v-2M1029.7,45.1v2M1039.5,229.2v-2M1039.5,45.1v2M1049.4,229.2v-3.5M1049.4,45.1v3.5M1059.3,229.2v-2M1059.3,45.1v2M1069.1,229.2v-2M1069.1,45.1v2M1079.0,229.2v-2M1079.0,45.1v2M1088.8,229.2v-2M1088.8,45.1v2M1098.7,229.2v-2M1098.7,45.1v2" stroke="#000" stroke-width="0.8" fill="none"/>
<rect x="929.4" y="57.1" width="18" height="15" fill="#fff"/>
<text x="938.9" y="68.7" font-family="'Liberation Serif','DejaVu Serif',serif" font-size="17" text-anchor="middle" fill="#111">d</text>
<rect x="922.0" y="226.0" width="73.4" height="3.7" fill="#fff"/>
<rect x="922.0" y="198.0" width="73.4" height="28" fill="#d9d9d9"/>
<text x="926.8" y="215.5" font-family="'Liberation Serif','DejaVu Serif',serif" font-size="16" fill="#222"><tspan>T(</tspan><tspan font-style="italic">β</tspan><tspan>=1.8)</tspan></text>
</g>
<rect x="921.4" y="45.1" width="184.0" height="184.1" fill="none" stroke="#000" stroke-width="1.6"/>
<rect x="1110.7" y="45.1" width="6.7" height="184.1" fill="url(#ghot)" stroke="#000" stroke-width="1.4"/>
<line x1="1110.7" x2="1117.4" y1="75.2" y2="75.2" stroke="#000" stroke-width="0.9" opacity="0.8"/>
<text x="1121.3" y="78.6" font-family="'DejaVu Sans','Liberation Sans',sans-serif" font-size="12.7" fill="#111">18.5</text>
<line x1="1110.7" x2="1117.4" y1="106.4" y2="106.4" stroke="#000" stroke-width="0.9" opacity="0.8"/>
<text x="1121.3" y="109.8" font-family="'DejaVu Sans','Liberation Sans',sans-serif" font-size="12.7" fill="#111">18.0</text>
<line x1="1110.7" x2="1117.4" y1="136.0" y2="136.0" stroke="#000" stroke-width="0.9" opacity="0.8"/>
<text x="1121.3" y="139.4" font-family="'DejaVu Sans','Liberation Sans',sans-serif" font-size="12.7" fill="#111">17.5</text>
<line x1="1110.7" x2="1117.4" y1="166.9" y2="166.9" stroke="#000" stroke-width="0.9" opacity="0.8"/>
<text x="1121.3" y="170.3" font-family="'DejaVu Sans','Liberation Sans',sans-serif" font-size="12.7" fill="#111">17.0</text>
<line x1="1110.7" x2="1117.4" y1="198.0" y2="198.0" stroke="#000" stroke-width="0.9" opacity="0.8"/>
<text x="1121.3" y="201.4" font-family="'DejaVu Sans','Liberation Sans',sans-serif" font-size="12.7" fill="#111">16.5</text>
<line x1="1110.7" x2="1117.4" y1="228.7" y2="228.7" stroke="#000" stroke-width="0.9" opacity="0.8"/>
<text x="1121.3" y="232.1" font-family="'DejaVu Sans','Liberation Sans',sans-serif" font-size="12.7" fill="#111">16.0</text>
<text transform="translate(1170.4,137.2) rotate(-90)" text-anchor="middle" font-family="'Liberation Serif','DejaVu Serif',serif" font-size="16.5" fill="#555"><tspan>T(</tspan><tspan font-style="italic">β</tspan><tspan> = 1.8) (K)</tspan></text>
<clipPath id="cpe"><rect x="96.4" y="229.2" width="183.0" height="184.5"/></clipPath>
<g clip-path="url(#cpe)">
<clipPath id="fpe"><path clip-rule="evenodd" transform="translate(96.40,229.20)" d="M125.0,183.1 123.0,183.3 121.0,183.4 119.0,183.5 117.0,183.5 115.0,183.5 113.0,183.5 111.0,183.5 109.0,183.5 107.0,183.5 105.0,183.5 103.0,183.5 101.0,183.5 99.0,183.5 97.0,183.5 95.0,183.5 93.0,183.5 91.0,183.5 89.0,183.5 87.0,183.5 85.0,183.5 83.0,183.5 81.0,183.5 79.0,183.5 77.0,183.5 75.0,183.5 73.0,183.5 71.0,183.5 69.0,183.5 67.0,183.5 65.0,183.5 63.0,183.5 61.0,183.5 59.0,183.5 57.0,183.5 55.0,183.5 53.0,183.5 51.0,183.5 49.0,183.4 47.0,183.2 45.2,183.0 45.2,181.0 45.1,179.0 44.9,178.0 44.1,176.0 43.4,175.0 42.4,174.0 41.0,173.0 40.0,172.6 38.0,172.1 36.0,172.0 34.0,172.0 32.0,172.0 30.0,172.1 28.0,172.5 26.7,173.0 25.2,174.0 24.3,175.0 23.6,176.0 23.0,177.2 22.5,179.0 22.4,181.0 22.4,183.0 21.0,183.2 19.0,183.4 17.0,183.5 15.0,183.5 13.0,183.5 11.0,183.5 9.0,183.5 7.0,183.5 5.0,183.5 3.0,183.5 1.0,183.5 -0.5,183.0 -0.5,181.0 -0.5,179.0 -0.5,177.0 -0.5,175.0 -0.5,173.0 -0.5,171.0 -0.5,169.0 -0.5,167.0 -0.5,165.0 -0.5,163.0 -0.5,161.0 -0.5,159.0 -0.5,157.0 -0.5,155.0 -0.4,153.0 -0.3,151.0 -0.0,149.0 1.0,149.0 3.0,148.9 5.0,148.6 6.6,148.0 8.0,147.0 9.0,146.0 9.6,145.0 10.0,143.0 9.3,141.0 8.6,140.0 7.4,139.0 6.0,138.2 5.0,137.9 3.0,137.6 1.0,137.5 -0.1,137.0 -0.3,135.0 -0.4,133.0 -0.5,131.0 -0.5,129.0 -0.5,127.0 -0.5,125.0 -0.5,123.0 -0.5,121.0 -0.5,119.0 -0.5,117.0 -0.5,115.0 -0.5,113.0 -0.5,111.0 -0.5,109.0 -0.5,107.0 -0.5,105.0 -0.5,103.0 -0.5,101.0 -0.5,99.0 -0.5,97.0 -0.5,95.0 -0.5,93.0 -0.5,91.0 -0.5,89.0 -0.5,87.0 -0.5,85.0 -0.5,83.0 -0.5,81.0 -0.5,79.0 -0.5,77.0 -0.5,75.0 -0.5,73.0 -0.5,71.0 -0.5,69.0 -0.5,67.0 -0.5,65.0 -0.5,63.0 -0.4,61.0 -0.3,59.0 0.0,57.0 2.0,57.0 4.0,57.0 6.0,57.0 8.0,57.0 10.0,57.0 12.0,57.0 14.0,57.0 16.0,56.7 18.0,56.0 19.0,55.4 20.0,54.5 21.0,53.3 21.7,52.0 22.0,51.0 22.3,49.0 22.4,47.0 22.4,45.0 22.4,43.0 22.5,41.0 23.0,39.2 23.6,38.0 24.3,37.0 25.2,36.0 26.5,35.0 28.0,34.1 29.0,33.5 30.0,32.8 31.0,32.0 32.0,31.0 33.0,29.6 34.0,28.0 34.6,27.0 35.3,26.0 36.1,25.0 37.3,24.0 39.0,23.1 40.0,22.8 42.0,22.6 44.0,22.5 46.0,22.5 48.0,22.5 50.0,22.3 51.2,22.0 53.0,21.1 54.0,20.4 55.0,19.3 55.9,18.0 56.5,17.0 57.1,16.0 58.0,14.7 59.0,13.5 60.0,12.6 61.0,11.9 62.4,11.0 64.0,10.0 65.0,9.3 66.0,8.3 66.9,7.0 67.4,6.0 68.0,4.0 68.1,3.0 68.1,1.0 69.0,-0.1 71.0,-0.3 73.0,-0.4 75.0,-0.5 77.0,-0.5 79.0,-0.5 81.0,-0.5 83.0,-0.5 85.0,-0.5 87.0,-0.5 89.0,-0.5 91.0,-0.5 93.0,-0.5 95.0,-0.5 97.0,-0.5 99.0,-0.5 101.0,-0.5 103.0,-0.5 105.0,-0.5 107.0,-0.5 109.0,-0.5 111.0,-0.5 113.0,-0.5 115.0,-0.5 117.0,-0.5 119.0,-0.5 121.0,-0.5 123.0,-0.5 125.0,-0.5 127.0,-0.5 129.0,-0.5 131.0,-0.5 133.0,-0.5 135.0,-0.5 137.0,-0.5 139.0,-0.5 141.0,-0.5 143.0,-0.5 145.0,-0.5 147.0,-0.5 149.0,-0.5 151.0,-0.5 153.0,-0.5 155.0,-0.4 157.0,-0.3 159.0,-0.1 159.6,1.0 159.7,3.0 160.0,5.0 160.3,6.0 161.0,7.3 162.0,8.6 163.0,9.5 164.0,10.2 165.3,11.0 167.0,12.0 168.0,12.8 169.0,13.8 169.9,15.0 170.4,16.0 170.9,18.0 171.0,19.1 171.1,21.0 171.1,23.0 171.1,25.0 171.1,27.0 171.1,29.0 171.1,31.0 171.1,33.0 171.1,35.0 171.1,37.0 171.1,39.0 171.1,41.0 171.1,43.0 171.1,45.0 171.1,47.0 171.1,49.0 171.4,51.0 172.0,52.5 173.0,54.0 173.9,55.0 175.0,55.8 176.0,56.3 178.0,56.8 180.0,57.0 182.0,57.0 182.1,58.0 182.3,60.0 182.4,62.0 182.5,64.0 182.5,66.0 182.5,68.0 182.5,70.0 182.5,72.0 182.5,74.0 182.5,76.0 182.5,78.0 182.5,80.0 182.5,82.0 182.5,84.0 182.5,86.0 182.5,88.0 182.5,90.0 182.5,92.0 182.5,94.0 182.5,96.0 182.5,98.0 182.5,100.0 182.5,102.0 182.5,104.0 182.5,106.0 182.5,108.0 182.5,110.0 182.5,112.0 182.5,114.0 182.5,116.0 182.5,118.0 182.5,120.0 182.5,122.0 182.5,124.0 182.5,126.0 182.5,128.0 182.5,130.0 182.5,132.0 182.5,134.0 182.5,136.0 182.5,138.0 182.5,140.0 182.5,142.0 182.5,144.0 182.5,146.0 182.5,148.0 182.5,150.0 182.5,152.0 182.5,154.0 182.5,156.0 182.5,158.0 182.5,160.0 182.5,162.0 182.5,164.0 182.5,166.0 182.4,168.0 182.3,170.0 182.0,172.0 180.0,172.0 178.0,172.0 176.0,172.0 174.0,172.0 172.0,172.0 170.0,172.0 168.0,172.0 166.0,172.0 164.0,172.0 162.0,172.0 160.0,172.0 158.0,172.0 156.0,172.0 154.0,172.0 152.0,172.0 150.0,172.0 148.0,172.0 146.0,172.0 144.0,172.0 142.0,172.0 140.0,172.0 138.0,172.0 136.0,172.0 134.0,172.0 132.0,172.2 130.0,172.8 129.0,173.4 128.0,174.2 127.0,175.3 126.0,177.0 125.7,178.0 125.4,180.0 125.3,182.0 125.0,183.1ZM137.2,14.6a4.6,4.6 0 1,0 9.2,0a4.6,4.6 0 1,0 -9.2,0Z"/></clipPath>
<g clip-path="url(#fpe)"><g filter="url(#bl)">
<rect x="88.40" y="221.20" width="54.35" height="20.13" fill="#ffffa8"/>
<rect x="142.15" y="221.20" width="23.47" height="20.13" fill="#ff9000"/>
<rect x="165.02" y="221.20" width="12.04" height="20.13" fill="#ffff20"/>
<rect x="176.46" y="221.20" width="23.48" height="20.13" fill="#ff9000"/>
<rect x="199.34" y="221.20" width="12.04" height="20.13" fill="#dc1000"/>
<rect x="210.77" y="221.20" width="12.04" height="20.13" fill="#ffc000"/>
<rect x="222.21" y="221.20" width="65.79" height="20.13" fill="#ff9000"/>
<rect x="88.40" y="240.73" width="65.79" height="12.13" fill="#ffffa8"/>
<rect x="153.59" y="240.73" width="34.91" height="12.13" fill="#ff9000"/>
<rect x="187.90" y="240.73" width="34.91" height="12.13" fill="#dc1000"/>
<rect x="222.21" y="240.73" width="12.04" height="12.13" fill="#ff9000"/>
<rect x="233.65" y="240.73" width="12.04" height="12.13" fill="#dc1000"/>
<rect x="245.09" y="240.73" width="42.91" height="12.13" fill="#ff9000"/>
<rect x="88.40" y="252.26" width="77.22" height="12.13" fill="#ffffa8"/>
<rect x="165.02" y="252.26" width="12.04" height="12.13" fill="#ff9000"/>
<rect x="176.46" y="252.26" width="46.35" height="12.13" fill="#dc1000"/>
<rect x="222.21" y="252.26" width="12.04" height="12.13" fill="#ff9000"/>
<rect x="233.65" y="252.26" width="12.04" height="12.13" fill="#dc1000"/>
<rect x="245.09" y="252.26" width="12.04" height="12.13" fill="#ff9000"/>
<rect x="256.52" y="252.26" width="31.48" height="12.13" fill="#dc1000"/>
<rect x="88.40" y="263.79" width="20.04" height="12.13" fill="#ff9000"/>
<rect x="107.84" y="263.79" width="23.48" height="12.13" fill="#ffffa8"/>
<rect x="130.71" y="263.79" width="34.91" height="12.13" fill="#ffc000"/>
<rect x="165.02" y="263.79" width="23.48" height="12.13" fill="#ff9000"/>
<rect x="187.90" y="263.79" width="34.91" height="12.13" fill="#dc1000"/>
<rect x="222.21" y="263.79" width="12.04" height="12.13" fill="#ffc000"/>
<rect x="233.65" y="263.79" width="12.04" height="12.13" fill="#dc1000"/>
<rect x="245.09" y="263.79" width="12.04" height="12.13" fill="#ff9000"/>
<rect x="256.52" y="263.79" width="31.48" height="12.13" fill="#ffffa8"/>
<rect x="88.40" y="275.32" width="20.04" height="12.13" fill="#ff9000"/>
<rect x="107.84" y="275.32" width="23.48" height="12.13" fill="#ffffa8"/>
<rect x="130.71" y="275.32" width="12.04" height="12.13" fill="#fff000"/>
<rect x="142.15" y="275.32" width="12.04" height="12.13" fill="#ffc000"/>
<rect x="153.59" y="275.32" width="46.35" height="12.13" fill="#ff9000"/>
<rect x="199.34" y="275.32" width="12.04" height="12.13" fill="#ffc000"/>
<rect x="210.77" y="275.32" width="12.04" height="12.13" fill="#dc1000"/>
<rect x="222.21" y="275.32" width="23.48" height="12.13" fill="#ff9000"/>
<rect x="245.09" y="275.32" width="12.04" height="12.13" fill="#dc1000"/>
<rect x="256.52" y="275.32" width="31.48" height="12.13" fill="#ff9000"/>
<rect x="88.40" y="286.86" width="20.04" height="12.13" fill="#ff9000"/>
<rect x="107.84" y="286.86" width="23.48" height="12.13" fill="#ffffa8"/>
<rect x="130.71" y="286.86" width="23.48" height="12.13" fill="#fff000"/>
<rect x="153.59" y="286.86" width="12.04" height="12.13" fill="#ff9000"/>
<rect x="165.02" y="286.86" width="12.04" height="12.13" fill="#f85010"/>
<rect x="176.46" y="286.86" width="12.04" height="12.13" fill="#ff9000"/>
<rect x="187.90" y="286.86" width="23.48" height="12.13" fill="#ffc000"/>
<rect x="210.77" y="286.86" width="12.04" height="12.13" fill="#dc1000"/>
<rect x="222.21" y="286.86" width="23.48" height="12.13" fill="#ff9000"/>
<rect x="245.09" y="286.86" width="42.91" height="12.13" fill="#ffc000"/>
<rect x="88.40" y="298.39" width="20.04" height="12.13" fill="#ff9000"/>
<rect x="107.84" y="298.39" width="12.04" height="12.13" fill="#ffc000"/>
<rect x="119.28" y="298.39" width="12.04" height="12.13" fill="#ffffa8"/>
<rect x="130.71" y="298.39" width="12.04" height="12.13" fill="#ffc000"/>
<rect x="142.15" y="298.39" width="12.04" height="12.13" fill="#fff000"/>
<rect x="153.59" y="298.39" width="23.47" height="12.13" fill="#ff9000"/>
<rect x="176.46" y="298.39" width="12.04" height="12.13" fill="#5a0000"/>
<rect x="187.90" y="298.39" width="12.04" height="12.13" fill="#9a0000"/>
<rect x="199.34" y="298.39" width="12.04" height="12.13" fill="#ff9000"/>
<rect x="210.77" y="298.39" width="12.04" height="12.13" fill="#dc1000"/>
<rect x="222.21" y="298.39" width="12.04" height="12.13" fill="#ff9000"/>
<rect x="233.65" y="298.39" width="12.04" height="12.13" fill="#ffc000"/>
<rect x="245.09" y="298.39" width="12.04" height="12.13" fill="#fff000"/>
<rect x="256.52" y="298.39" width="31.48" height="12.13" fill="#ffc000"/>
<rect x="88.40" y="309.92" width="54.35" height="12.13" fill="#ff9000"/>
<rect x="142.15" y="309.92" width="12.04" height="12.13" fill="#ffc000"/>
<rect x="153.59" y="309.92" width="12.04" height="12.13" fill="#ff9000"/>
<rect x="165.02" y="309.92" width="12.04" height="12.13" fill="#5a0000"/>
<rect x="176.46" y="309.92" width="23.48" height="12.13" fill="#140000"/>
<rect x="199.34" y="309.92" width="12.04" height="12.13" fill="#5a0000"/>
<rect x="210.77" y="309.92" width="12.04" height="12.13" fill="#dc1000"/>
<rect x="222.21" y="309.92" width="23.48" height="12.13" fill="#ff9000"/>
<rect x="245.09" y="309.92" width="42.91" height="12.13" fill="#ffc000"/>
<rect x="88.40" y="321.45" width="20.04" height="12.13" fill="#ffc000"/>
<rect x="107.84" y="321.45" width="46.35" height="12.13" fill="#ff9000"/>
<rect x="153.59" y="321.45" width="12.04" height="12.13" fill="#f85010"/>
<rect x="165.02" y="321.45" width="12.04" height="12.13" fill="#ff9000"/>
<rect x="176.46" y="321.45" width="12.04" height="12.13" fill="#9a0000"/>
<rect x="187.90" y="321.45" width="23.48" height="12.13" fill="#dc1000"/>
<rect x="210.77" y="321.45" width="23.48" height="12.13" fill="#ff9000"/>
<rect x="233.65" y="321.45" width="34.91" height="12.13" fill="#ffc000"/>
<rect x="267.96" y="321.45" width="20.04" height="12.13" fill="#ffffa8"/>
<rect x="88.40" y="332.98" width="54.35" height="12.13" fill="#ff9000"/>
<rect x="142.15" y="332.98" width="12.04" height="12.13" fill="#dc1000"/>
<rect x="153.59" y="332.98" width="23.47" height="12.13" fill="#ff9000"/>
<rect x="176.46" y="332.98" width="23.48" height="12.13" fill="#dc1000"/>
<rect x="199.34" y="332.98" width="46.35" height="12.13" fill="#ff9000"/>
<rect x="245.09" y="332.98" width="12.04" height="12.13" fill="#ffc000"/>
<rect x="256.52" y="332.98" width="12.04" height="12.13" fill="#ffffa8"/>
<rect x="267.96" y="332.98" width="20.04" height="12.13" fill="#ff9000"/>
<rect x="88.40" y="344.51" width="31.48" height="12.13" fill="#ffffa8"/>
<rect x="119.28" y="344.51" width="34.91" height="12.13" fill="#ff9000"/>
<rect x="153.59" y="344.51" width="12.04" height="12.13" fill="#f85010"/>
<rect x="165.02" y="344.51" width="23.48" height="12.13" fill="#dc1000"/>
<rect x="187.90" y="344.51" width="12.04" height="12.13" fill="#ff9000"/>
<rect x="199.34" y="344.51" width="12.04" height="12.13" fill="#f85010"/>
<rect x="210.77" y="344.51" width="12.04" height="12.13" fill="#ff9000"/>
<rect x="222.21" y="344.51" width="12.04" height="12.13" fill="#f85010"/>
<rect x="233.65" y="344.51" width="12.04" height="12.13" fill="#ff9000"/>
<rect x="245.09" y="344.51" width="42.91" height="12.13" fill="#ffffa8"/>
<rect x="88.40" y="356.04" width="31.48" height="12.13" fill="#ffffa8"/>
<rect x="119.28" y="356.04" width="12.04" height="12.13" fill="#ffc000"/>
<rect x="130.71" y="356.04" width="12.04" height="12.13" fill="#ff9000"/>
<rect x="142.15" y="356.04" width="12.04" height="12.13" fill="#ffc000"/>
<rect x="153.59" y="356.04" width="80.66" height="12.13" fill="#ff9000"/>
<rect x="233.65" y="356.04" width="12.04" height="12.13" fill="#ffc000"/>
<rect x="245.09" y="356.04" width="42.91" height="12.13" fill="#ffffa8"/>
<rect x="88.40" y="367.57" width="20.04" height="12.13" fill="#ffffa8"/>
<rect x="107.84" y="367.57" width="12.04" height="12.13" fill="#ffc000"/>
<rect x="119.28" y="367.57" width="12.04" height="12.13" fill="#ff9000"/>
<rect x="130.71" y="367.57" width="12.04" height="12.13" fill="#ffc000"/>
<rect x="142.15" y="367.57" width="34.91" height="12.13" fill="#ff9000"/>
<rect x="176.46" y="367.57" width="12.04" height="12.13" fill="#ffc000"/>
<rect x="187.90" y="367.57" width="12.04" height="12.13" fill="#ff9000"/>
<rect x="199.34" y="367.57" width="23.48" height="12.13" fill="#ffc000"/>
<rect x="222.21" y="367.57" width="12.04" height="12.13" fill="#ff9000"/>
<rect x="233.65" y="367.57" width="54.35" height="12.13" fill="#ffffa8"/>
<rect x="88.40" y="379.11" width="31.48" height="12.13" fill="#ffc000"/>
<rect x="119.28" y="379.11" width="34.91" height="12.13" fill="#ff9000"/>
<rect x="153.59" y="379.11" width="46.35" height="12.13" fill="#ffffa8"/>
<rect x="199.34" y="379.11" width="34.91" height="12.13" fill="#ff9000"/>
<rect x="233.65" y="379.11" width="12.04" height="12.13" fill="#ffc000"/>
<rect x="245.09" y="379.11" width="12.04" height="12.13" fill="#ffffa8"/>
<rect x="256.52" y="379.11" width="12.04" height="12.13" fill="#ffc000"/>
<rect x="267.96" y="379.11" width="20.04" height="12.13" fill="#ff9000"/>
<rect x="88.40" y="390.64" width="65.79" height="12.13" fill="#ff9000"/>
<rect x="153.59" y="390.64" width="46.35" height="12.13" fill="#ffffa8"/>
<rect x="199.34" y="390.64" width="23.48" height="12.13" fill="#ff9000"/>
<rect x="222.21" y="390.64" width="23.48" height="12.13" fill="#ffc000"/>
<rect x="245.09" y="390.64" width="42.91" height="12.13" fill="#ffffa8"/>
<rect x="88.40" y="402.17" width="65.79" height="20.13" fill="#ff9000"/>
<rect x="153.59" y="402.17" width="12.04" height="20.13" fill="#ffffa8"/>
<rect x="165.02" y="402.17" width="12.04" height="20.13" fill="#ffc000"/>
<rect x="176.46" y="402.17" width="23.48" height="20.13" fill="#ffffa8"/>
<rect x="199.34" y="402.17" width="12.04" height="20.13" fill="#ff9000"/>
<rect x="210.77" y="402.17" width="34.91" height="20.13" fill="#ffc000"/>
<rect x="245.09" y="402.17" width="42.91" height="20.13" fill="#ffffa8"/>
</g>
<g transform="translate(96.40,229.20)"><g filter="url(#bl2)"><ellipse cx="89.0" cy="86.2" rx="11.0" ry="9.9" fill="#400000" transform="rotate(0 89.0 86.2)"/><ellipse cx="87.9" cy="87.5" rx="6.6" ry="6.2" fill="#050000" transform="rotate(0 87.9 87.5)"/><ellipse cx="109.9" cy="85.7" rx="11.0" ry="5.5" fill="#700000" transform="rotate(0 109.9 85.7)"/></g></g>
<path transform="translate(96.40,229.20)" d="M104.6,-1.0 104.6,1.0 104.6,3.0 104.6,5.0 104.4,7.0 104.0,8.4 103.2,10.0 102.3,11.0 101.0,11.8 100.0,12.2 98.0,12.5 96.0,12.8 95.0,13.0 93.6,14.0 93.0,15.0 92.6,17.0 92.4,19.0 92.0,20.4 91.2,22.0 90.3,23.0 89.0,23.8 88.0,24.2 86.0,24.6 84.0,25.0 83.0,25.6 82.1,27.0 82.0,28.0 82.1,29.0 83.0,30.4 84.0,31.0 86.0,31.4 88.0,31.8 89.0,32.2 90.3,33.0 91.2,34.0 92.0,35.6 92.4,37.0 92.6,39.0 93.0,41.0 93.6,42.0 95.0,43.0 96.0,43.2 98.0,43.3 100.0,43.2 102.0,43.1 103.0,43.0 105.0,42.8 107.0,42.8 109.0,42.8 110.3,43.0 112.0,43.4 113.2,44.0 114.4,45.0 115.1,46.0 115.9,48.0 116.1,49.0 116.2,51.0 116.3,53.0 116.3,55.0 116.3,57.0 116.3,59.0 116.3,61.0 116.3,63.0 116.2,65.0 116.1,67.0 116.0,68.1 115.8,70.0 115.7,72.0 115.5,74.0 115.1,76.0 114.5,77.0 113.2,78.0 112.0,78.4 110.0,78.6 108.0,78.6 106.0,78.3 105.0,77.9 103.9,77.0 103.0,75.7 102.4,74.0 102.0,72.6 101.1,71.0 100.0,70.2 99.0,69.8 97.0,69.4 95.0,69.3 93.0,69.0 92.0,68.9 90.0,68.4 88.0,68.1 87.0,67.9 85.0,67.8 83.0,68.0 82.0,68.2 80.4,69.0 79.6,70.0 79.0,71.8 78.8,73.0 78.5,75.0 78.0,76.3 77.0,77.5 76.0,78.2 74.0,78.7 72.3,79.0 71.0,79.4 69.9,80.0 68.9,81.0 68.1,83.0 67.9,84.0 67.8,86.0 68.0,88.0 68.2,89.0 69.0,90.6 70.0,91.4 71.8,92.0 73.0,92.2 75.0,92.5 76.7,93.0 78.0,93.9 78.8,95.0 79.2,96.0 79.6,98.0 79.8,100.0 80.0,101.0 80.5,103.0 81.0,104.9 81.3,106.0 81.5,108.0 81.5,110.0 81.1,112.0 80.8,113.0 80.0,114.3 79.0,115.2 77.4,116.0 76.0,116.4 74.0,116.7 72.2,117.0 71.0,117.6 70.0,118.6 69.6,120.0 70.0,121.4 71.0,122.4 72.2,123.0 74.0,123.3 76.0,123.4 78.0,123.4 80.0,123.4 82.0,123.4 84.0,123.3 86.0,123.0 87.0,122.4 88.0,121.0 88.3,120.0 88.6,118.0 89.0,116.6 89.8,115.0 90.7,114.0 92.0,113.2 93.0,112.9 95.0,112.5 97.0,112.3 98.1,112.0 99.5,111.0 100.0,110.0 100.4,108.0 100.6,106.0 101.0,104.6 101.8,103.0 102.7,102.0 104.0,101.2 105.0,100.8 107.0,100.4 109.0,100.0 110.0,99.4 111.0,98.2 111.4,97.0 112.0,95.6 112.8,94.0 113.6,93.0 114.6,92.0 115.8,91.0 117.0,90.2 118.0,89.8 120.0,89.3 121.1,89.0 122.4,88.0 123.0,87.0 123.3,85.0 123.4,83.0 123.4,81.0 123.4,79.0 123.4,77.0 123.4,75.0 123.4,73.0 123.4,71.0 123.4,69.0 123.4,67.0 123.4,65.0 123.4,63.0 123.4,61.0 123.4,59.0 123.4,57.0 123.4,55.0 123.4,53.0 123.4,51.0 123.3,49.0 123.2,47.0 123.0,45.1 122.9,44.0 122.8,42.0 122.7,40.0 122.7,38.0 122.8,36.0 123.0,34.0 123.1,33.0 123.2,31.0 123.3,29.0 123.4,27.0 123.4,25.0 123.4,23.0 123.4,21.0 123.4,19.0 123.3,17.0 123.0,15.6 122.0,14.1 121.0,13.7 119.0,13.3 117.0,13.1 116.0,12.9 114.0,12.1 113.0,11.4 112.0,10.2 111.4,9.0 111.0,7.3 110.8,6.0 110.7,4.0 110.7,2.0 110.7,0.0 110.7,-1.0M144.2,43.0 145.6,42.0 146.1,41.0 146.3,39.0 146.4,37.0 146.4,35.0 146.4,33.0 146.4,31.0 146.4,29.0 146.4,27.0 146.4,25.0 146.4,23.0 146.4,21.0 146.4,19.0 146.3,17.0 146.0,15.0 145.4,14.0 144.0,13.0 143.0,12.9 141.2,13.0 140.0,13.6 139.0,15.0 138.8,16.0 138.6,18.0 138.6,20.0 138.6,22.0 138.6,24.0 138.6,26.0 138.6,28.0 138.7,30.0 138.8,32.0 139.0,33.9 139.1,35.0 139.2,37.0 139.4,39.0 139.7,41.0 140.2,42.0 141.7,43.0 143.0,43.2 144.2,43.0ZM183.0,24.6 181.0,24.6 179.0,24.6 177.0,24.6 175.0,24.6 173.0,24.6 171.0,24.6 169.0,24.6 167.0,24.7 165.0,24.8 164.0,25.0 162.7,26.0 162.4,28.0 163.2,29.0 165.0,29.5 167.0,29.6 169.0,29.6 171.0,29.6 173.0,29.6 175.0,29.6 177.0,29.6 179.0,29.6 181.0,29.6 183.0,29.6M155.5,53.0 156.5,52.0 156.6,50.0 156.0,48.9 154.0,48.0 152.0,48.5 151.0,50.0 151.4,52.0 152.4,53.0 154.0,53.3 155.5,53.0ZM51.5,112.0 53.0,111.5 54.0,110.0 54.2,109.0 54.0,107.0 53.5,106.0 52.0,105.1 51.0,105.0 50.0,105.1 48.6,106.0 48.0,107.2 47.9,109.0 48.1,110.0 49.0,111.4 50.6,112.0 51.5,112.0ZM43.1,-1.0 43.1,1.0 43.1,3.0 43.2,5.0 43.4,7.0 43.9,9.0 44.4,10.0 45.3,11.0 46.8,12.0 48.0,12.5 50.0,12.8 51.0,13.0 53.0,14.0 53.6,15.0 54.0,16.2 54.2,18.0 54.5,20.0 55.0,21.2 56.0,22.7 57.0,23.6 58.0,24.1 60.0,24.7 62.0,24.9 63.0,25.0 65.0,26.0 65.6,27.0 65.7,29.0 65.0,30.4 64.0,31.2 62.0,31.7 60.0,31.7 58.0,31.8 56.0,31.8 54.0,31.8 52.0,31.8 50.0,31.8 48.0,31.8 46.0,31.8 44.0,31.8 42.0,31.8 40.0,31.8 38.0,31.9 37.0,32.0 35.0,32.6 34.0,33.3 33.0,34.4 32.3,36.0 32.0,37.3 31.8,39.0 31.8,41.0 31.9,43.0 32.0,44.0 32.2,46.0 32.5,48.0 32.6,50.0 32.7,52.0 32.7,54.0 32.7,56.0 32.7,58.0 32.7,60.0 32.7,62.0 32.6,64.0 32.5,66.0 32.2,68.0 32.0,70.0 31.9,71.0 31.7,73.0 31.2,75.0 30.5,76.0 29.0,76.7 27.0,76.7 25.5,76.0 24.8,75.0 24.2,73.0 24.0,72.0 23.4,70.0 22.7,69.0 21.6,68.0 20.0,67.3 18.8,67.0 17.0,66.7 15.0,66.2 14.0,65.5 13.2,64.0 13.0,63.0 12.9,61.0 12.9,59.0 12.9,57.0 12.9,55.0 12.9,53.0 12.9,51.0 12.9,49.0 12.9,47.0 12.9,45.0 12.9,43.0 12.9,41.0 12.8,39.0 12.6,37.0 12.1,35.0 11.6,34.0 10.7,33.0 9.2,32.0 8.0,31.5 6.0,31.2 4.0,31.2 2.0,31.1 0.0,31.1 -1.0,31.1M183.0,43.1 181.0,43.1 179.0,43.1 177.0,43.1 175.0,43.1 173.0,43.1 171.0,43.1 169.0,43.1 167.0,43.1 165.6,43.0 164.0,42.6 163.0,41.9 162.3,40.0 162.8,38.0 164.0,37.2 165.0,36.9 167.0,36.8 169.0,36.8 171.0,36.8 173.0,36.8 175.0,36.8 177.0,36.8 179.0,36.8 181.0,36.8 183.0,36.8M183.0,100.1 181.0,100.1 179.0,100.1 177.0,100.0 176.0,99.9 174.2,99.0 173.7,98.0 173.7,96.0 174.1,95.0 175.0,94.0 177.0,93.4 179.0,93.3 181.0,93.2 183.0,93.2M150.2,184.0 150.2,182.0 150.2,180.0 150.2,178.0 150.2,176.0 150.2,174.0 150.2,172.0 150.2,170.0 150.2,168.0 150.2,166.0 150.2,164.0 150.2,162.0 150.2,160.0 150.2,158.0 150.2,156.0 150.2,154.0 150.0,152.3 149.7,151.0 149.0,149.4 148.0,148.3 147.0,147.6 145.0,147.0 144.0,146.9 142.0,146.5 140.6,146.0 139.7,145.0 139.2,143.0 139.7,141.0 140.6,140.0 142.0,139.5 144.0,139.1 145.0,139.0 147.0,138.4 148.0,137.7 149.0,136.6 149.7,135.0 150.0,133.7 150.2,132.0 150.3,130.0 150.4,128.0 150.5,126.0 150.7,124.0 150.8,122.0 151.0,120.0 151.2,119.0 152.0,117.5 153.0,116.8 155.0,116.2 156.0,116.0 158.0,115.4 159.0,114.7 160.0,113.6 160.7,112.0 161.0,110.8 161.2,109.0 161.6,107.0 162.0,106.0 163.0,105.0 165.0,104.5 167.0,104.7 168.0,105.2 168.9,107.0 169.1,108.0 169.2,110.0 169.5,112.0 170.0,113.2 171.0,114.7 172.0,115.6 173.0,116.1 175.0,116.6 177.0,116.8 179.0,116.9 181.0,116.9 183.0,116.9M-1.0,116.9 1.0,116.9 3.0,116.9 5.0,116.9 7.0,116.9 9.0,116.9 11.0,116.9 13.0,116.9 15.0,116.9 16.6,117.0 18.0,117.4 19.0,118.0 20.0,120.0 20.1,121.0 20.2,123.0 20.4,125.0 20.5,127.0 20.7,129.0 20.7,131.0 20.4,133.0 19.9,134.0 18.8,135.0 17.0,135.6 15.0,135.9 14.0,136.0 12.0,136.6 11.0,137.3 10.0,138.4 9.3,140.0 9.0,141.1 8.7,143.0 8.0,145.0 7.0,146.0 6.0,146.4 4.0,146.7 2.0,146.8 0.0,146.8 -1.0,146.8M183.0,146.1 181.0,146.1 179.0,146.1 177.0,146.2 175.0,146.2 173.0,146.3 171.0,146.5 169.0,146.6 167.0,146.7 165.0,146.8 163.3,147.0 162.0,147.3 160.4,148.0 159.3,149.0 158.6,150.0 158.0,152.0 157.9,153.0 157.8,155.0 158.0,156.7 158.3,158.0 159.0,159.6 160.0,160.7 161.0,161.4 163.0,162.0 164.0,162.1 166.0,162.2 168.0,162.3 170.0,162.5 172.0,162.6 174.0,162.8 176.0,162.8 178.0,162.9 180.0,162.9 182.0,162.9 183.0,162.9M58.9,184.0 58.9,182.0 58.9,180.0 58.9,178.0 58.9,176.0 58.9,174.0 58.9,172.0 58.9,170.0 58.9,168.0 58.9,166.0 58.9,164.0 58.9,162.0 58.9,160.0 58.9,158.0 58.9,156.0 59.0,154.4 59.4,153.0 60.0,152.0 62.0,151.1 63.0,150.9 65.0,150.9 67.0,150.9 69.0,150.9 71.0,150.9 73.0,150.9 75.0,150.8 77.0,150.8 79.0,150.6 81.0,150.5 83.0,150.3 85.0,150.3 87.0,150.3 89.0,150.5 91.0,150.6 93.0,150.8 95.0,150.9 96.8,151.0 98.0,151.3 99.1,152.0 100.0,154.0 100.1,155.0 100.1,157.0 100.1,159.0 100.1,161.0 100.1,163.0 100.1,165.0 100.1,167.0 100.1,169.0 100.1,171.0 100.1,173.0 100.1,175.0 100.1,177.0 100.1,179.0 100.1,181.0 100.1,183.0 100.1,184.0M81.2,184.0 81.2,182.0 81.2,180.0 81.2,178.0 81.1,176.0 81.0,175.0 80.4,173.0 79.7,172.0 78.6,171.0 77.0,170.3 75.5,170.0 74.0,169.9 72.5,170.0 71.0,170.3 69.4,171.0 68.3,172.0 67.6,173.0 67.0,175.0 66.9,176.0 66.8,178.0 66.8,180.0 66.8,182.0 66.8,184.0" fill="none" stroke="#000" stroke-width="1.7" stroke-linejoin="round"/>
</g>
<line x1="96.4" x2="279.4" y1="249.4" y2="249.4" stroke="#000" stroke-width="1.1" opacity="0.5"/>
<line x1="96.4" x2="279.4" y1="283.3" y2="283.3" stroke="#000" stroke-width="1.1" opacity="0.5"/>
<line x1="96.4" x2="279.4" y1="316.7" y2="316.7" stroke="#000" stroke-width="1.1" opacity="0.5"/>
<line x1="96.4" x2="279.4" y1="350.5" y2="350.5" stroke="#000" stroke-width="1.1" opacity="0.5"/>
<line x1="96.4" x2="279.4" y1="384.0" y2="384.0" stroke="#000" stroke-width="1.1" opacity="0.5"/>
<line x1="145.5" x2="145.5" y1="229.2" y2="413.7" stroke="#000" stroke-width="1.1" opacity="0.5"/>
<line x1="224.4" x2="224.4" y1="229.2" y2="413.7" stroke="#000" stroke-width="1.1" opacity="0.5"/>
<path d="M96.4,242.7h2M279.4,242.7h-2M96.4,249.4h3.5M279.4,249.4h-3.5M96.4,256.1h2M279.4,256.1h-2M96.4,262.9h2M279.4,262.9h-2M96.4,269.6h2M279.4,269.6h-2M96.4,276.3h2M279.4,276.3h-2M96.4,283.0h3.5M279.4,283.0h-3.5M96.4,289.8h2M279.4,289.8h-2M96.4,296.5h2M279.4,296.5h-2M96.4,303.2h2M279.4,303.2h-2M96.4,310.0h2M279.4,310.0h-2M96.4,316.7h3.5M279.4,316.7h-3.5M96.4,323.4h2M279.4,323.4h-2M96.4,330.2h2M279.4,330.2h-2M96.4,336.9h2M279.4,336.9h-2M96.4,343.6h2M279.4,343.6h-2M96.4,350.3h3.5M279.4,350.3h-3.5M96.4,357.1h2M279.4,357.1h-2M96.4,363.8h2M279.4,363.8h-2M96.4,370.5h2M279.4,370.5h-2M96.4,377.3h2M279.4,377.3h-2M96.4,384.0h3.5M279.4,384.0h-3.5M96.4,390.7h2M279.4,390.7h-2M96.4,397.5h2M279.4,397.5h-2M96.4,404.2h2M279.4,404.2h-2M96.4,410.9h2M279.4,410.9h-2M106.0,413.7v-2M106.0,229.2v2M115.9,413.7v-2M115.9,229.2v2M125.8,413.7v-2M125.8,229.2v2M135.6,413.7v-2M135.6,229.2v2M145.5,413.7v-3.5M145.5,229.2v3.5M155.4,413.7v-2M155.4,229.2v2M165.2,413.7v-2M165.2,229.2v2M175.1,413.7v-2M175.1,229.2v2M184.9,413.7v-2M184.9,229.2v2M194.8,413.7v-2M194.8,229.2v2M204.7,413.7v-2M204.7,229.2v2M214.5,413.7v-2M214.5,229.2v2M224.4,413.7v-3.5M224.4,229.2v3.5M234.3,413.7v-2M234.3,229.2v2M244.1,413.7v-2M244.1,229.2v2M254.0,413.7v-2M254.0,229.2v2M263.9,413.7v-2M263.9,229.2v2M273.7,413.7v-2M273.7,229.2v2" stroke="#000" stroke-width="0.8" fill="none"/>
<rect x="104.4" y="241.2" width="18" height="15" fill="#fff"/>
<text x="113.9" y="252.8" font-family="'Liberation Serif','DejaVu Serif',serif" font-size="17" text-anchor="middle" fill="#111">e</text>
<rect x="97.4" y="410.0" width="25.6" height="4.2" fill="#fff"/>
<rect x="97.4" y="382.0" width="25.6" height="28" fill="#d9d9d9"/>
<text x="102.0" y="398.4" font-family="'Liberation Serif','DejaVu Serif',serif" font-size="16" fill="#222"><tspan font-weight="bold">T</tspan><tspan dy="4" font-size="10">3</tspan></text>
</g>
<rect x="96.4" y="229.2" width="183.0" height="184.5" fill="none" stroke="#000" stroke-width="1.6"/>
<rect x="286.4" y="229.2" width="7.1" height="184.5" fill="url(#ghot)" stroke="#000" stroke-width="1.4"/>
<line x1="286.4" x2="293.5" y1="244.7" y2="244.7" stroke="#000" stroke-width="0.9" opacity="0.8"/>
<text x="297.4" y="248.1" font-family="'DejaVu Sans','Liberation Sans',sans-serif" font-size="12.7" fill="#111">20.8</text>
<line x1="286.4" x2="293.5" y1="270.6" y2="270.6" stroke="#000" stroke-width="0.9" opacity="0.8"/>
<text x="297.4" y="274.0" font-family="'DejaVu Sans','Liberation Sans',sans-serif" font-size="12.7" fill="#111">20.0</text>
<line x1="286.4" x2="293.5" y1="296.8" y2="296.8" stroke="#000" stroke-width="0.9" opacity="0.8"/>
<text x="297.4" y="300.2" font-family="'DejaVu Sans','Liberation Sans',sans-serif" font-size="12.7" fill="#111">19.2</text>
<line x1="286.4" x2="293.5" y1="324.0" y2="324.0" stroke="#000" stroke-width="0.9" opacity="0.8"/>
<text x="297.4" y="327.4" font-family="'DejaVu Sans','Liberation Sans',sans-serif" font-size="12.7" fill="#111">18.4</text>
<line x1="286.4" x2="293.5" y1="350.5" y2="350.5" stroke="#000" stroke-width="0.9" opacity="0.8"/>
<text x="297.4" y="353.9" font-family="'DejaVu Sans','Liberation Sans',sans-serif" font-size="12.7" fill="#111">17.6</text>
<line x1="286.4" x2="293.5" y1="377.0" y2="377.0" stroke="#000" stroke-width="0.9" opacity="0.8"/>
<text x="297.4" y="380.4" font-family="'DejaVu Sans','Liberation Sans',sans-serif" font-size="12.7" fill="#111">16.8</text>
<line x1="286.4" x2="293.5" y1="402.8" y2="402.8" stroke="#000" stroke-width="0.9" opacity="0.8"/>
<text x="297.4" y="406.2" font-family="'DejaVu Sans','Liberation Sans',sans-serif" font-size="12.7" fill="#111">16.0</text>
<text transform="translate(346.5,321.4) rotate(-90)" text-anchor="middle" font-family="'Liberation Serif','DejaVu Serif',serif" font-size="16.5" fill="#555"><tspan>T</tspan><tspan baseline-shift="sub" font-size="70%">3</tspan><tspan> (K)</tspan></text>
<clipPath id="cpf"><rect x="371.3" y="229.2" width="184.0" height="184.5"/></clipPath>
<g clip-path="url(#cpf)">
<clipPath id="fpf"><path clip-rule="evenodd" transform="translate(371.30,229.20)" d="M114.0,183.1 112.0,183.3 110.0,183.4 108.0,183.5 106.0,183.5 104.0,183.5 102.0,183.5 100.0,183.5 98.0,183.5 96.0,183.5 94.0,183.5 92.0,183.5 90.0,183.5 88.0,183.5 86.0,183.5 84.0,183.5 82.0,183.5 80.0,183.5 78.0,183.5 76.0,183.5 74.0,183.5 72.0,183.5 70.0,183.5 68.0,183.5 66.0,183.5 64.0,183.5 62.0,183.5 60.0,183.5 58.0,183.5 56.0,183.5 54.0,183.5 52.0,183.5 50.0,183.4 48.0,183.3 46.0,183.1 45.5,182.0 45.4,180.0 45.1,178.0 44.8,177.0 44.0,175.5 43.0,174.4 42.0,173.5 41.0,172.9 39.0,172.3 37.0,172.0 35.0,172.0 33.0,172.0 31.0,172.0 29.0,172.3 27.0,172.9 26.0,173.5 25.0,174.4 24.0,175.5 23.2,177.0 22.9,178.0 22.6,180.0 22.5,182.0 22.0,183.1 20.0,183.3 18.0,183.4 16.0,183.5 14.0,183.5 12.0,183.5 10.0,183.5 8.0,183.5 6.0,183.5 4.0,183.5 2.0,183.5 0.0,183.5 -0.5,182.0 -0.5,180.0 -0.5,178.0 -0.5,176.0 -0.5,174.0 -0.5,172.0 -0.5,170.0 -0.5,168.0 -0.5,166.0 -0.5,164.0 -0.5,162.0 -0.5,160.0 -0.5,158.0 -0.5,156.0 -0.4,154.0 -0.3,152.0 -0.1,150.0 0.0,149.0 2.0,149.0 4.0,148.8 6.0,148.3 7.0,147.8 8.1,147.0 9.0,146.0 10.0,144.0 10.1,143.0 9.9,142.0 9.0,140.5 8.0,139.4 7.0,138.7 5.4,138.0 4.0,137.7 2.0,137.5 0.0,137.5 -0.2,136.0 -0.4,134.0 -0.5,132.0 -0.5,130.0 -0.5,128.0 -0.5,126.0 -0.5,124.0 -0.5,122.0 -0.5,120.0 -0.5,118.0 -0.5,116.0 -0.5,114.0 -0.5,112.0 -0.5,110.0 -0.5,108.0 -0.5,106.0 -0.5,104.0 -0.5,102.0 -0.5,100.0 -0.5,98.0 -0.5,96.0 -0.5,94.0 -0.5,92.0 -0.5,90.0 -0.5,88.0 -0.5,86.0 -0.5,84.0 -0.5,82.0 -0.5,80.0 -0.5,78.0 -0.5,76.0 -0.5,74.0 -0.5,72.0 -0.5,70.0 -0.5,68.0 -0.5,66.0 -0.5,64.0 -0.5,62.0 -0.5,60.0 -0.5,58.0 -0.5,56.0 -0.5,54.0 -0.5,52.0 -0.4,50.0 -0.3,48.0 -0.1,46.0 1.0,45.5 3.0,45.5 5.0,45.5 7.0,45.5 9.0,45.5 11.0,45.5 13.0,45.5 15.0,45.4 17.0,45.0 18.0,44.6 19.0,44.0 20.2,43.0 21.0,42.0 22.0,40.6 22.9,39.0 23.6,38.0 24.4,37.0 25.3,36.0 26.6,35.0 28.0,34.1 29.0,33.6 30.0,32.9 31.2,32.0 32.1,31.0 33.0,29.9 34.0,28.2 34.8,27.0 35.4,26.0 36.3,25.0 37.4,24.0 38.9,23.0 40.0,22.4 41.0,21.7 42.1,21.0 43.2,20.0 44.1,19.0 45.0,17.6 45.9,16.0 46.6,15.0 47.4,14.0 48.3,13.0 49.6,12.0 51.0,11.1 52.0,10.6 53.0,9.9 54.2,9.0 55.1,8.0 56.0,6.6 56.6,5.0 56.9,3.0 57.0,1.0 57.0,-0.0 59.0,-0.3 61.0,-0.4 63.0,-0.5 65.0,-0.5 67.0,-0.5 69.0,-0.5 71.0,-0.5 73.0,-0.5 75.0,-0.5 77.0,-0.5 79.0,-0.5 81.0,-0.5 83.0,-0.5 85.0,-0.5 87.0,-0.5 89.0,-0.5 91.0,-0.5 93.0,-0.5 95.0,-0.5 97.0,-0.5 99.0,-0.5 101.0,-0.5 103.0,-0.5 105.0,-0.5 107.0,-0.5 109.0,-0.5 111.0,-0.5 113.0,-0.5 115.0,-0.5 117.0,-0.5 119.0,-0.5 121.0,-0.5 123.0,-0.5 125.0,-0.5 127.0,-0.5 129.0,-0.5 131.0,-0.5 133.0,-0.5 135.0,-0.5 137.0,-0.5 139.0,-0.5 141.0,-0.5 143.0,-0.5 145.0,-0.5 147.0,-0.5 149.0,-0.5 151.0,-0.5 153.0,-0.5 155.0,-0.5 157.0,-0.4 159.0,-0.2 160.5,0.0 160.5,2.0 160.7,4.0 161.0,5.4 161.7,7.0 162.4,8.0 163.3,9.0 164.6,10.0 166.0,10.9 167.0,11.4 168.0,12.1 169.2,13.0 170.1,14.0 171.0,15.4 171.6,17.0 171.9,19.0 172.0,21.0 172.0,23.0 172.0,25.0 172.0,27.0 172.0,29.0 172.0,31.0 172.0,33.0 172.0,35.0 172.0,37.0 172.0,39.0 172.0,41.0 172.0,43.0 172.0,45.0 172.0,47.0 172.1,49.0 172.4,51.0 173.0,52.6 173.9,54.0 174.9,55.0 176.0,55.8 177.0,56.3 179.0,56.8 181.0,57.0 183.0,57.0 183.1,58.0 183.3,60.0 183.4,62.0 183.5,64.0 183.5,66.0 183.5,68.0 183.5,70.0 183.5,72.0 183.5,74.0 183.5,76.0 183.5,78.0 183.5,80.0 183.5,82.0 183.5,84.0 183.5,86.0 183.5,88.0 183.5,90.0 183.5,92.0 183.5,94.0 183.5,96.0 183.5,98.0 183.5,100.0 183.5,102.0 183.5,104.0 183.5,106.0 183.5,108.0 183.4,110.0 183.3,112.0 183.1,114.0 182.0,114.5 180.0,114.5 178.0,114.5 176.0,114.5 174.0,114.5 172.0,114.5 170.0,114.5 168.0,114.6 166.0,115.0 165.0,115.4 164.0,116.0 162.9,117.0 162.0,118.2 161.4,120.0 161.8,122.0 162.5,123.0 163.4,124.0 164.6,125.0 166.0,125.9 167.0,126.4 168.0,127.1 169.2,128.0 170.1,129.0 171.0,130.1 172.0,131.7 172.8,133.0 173.5,134.0 174.3,135.0 175.5,136.0 177.0,136.8 178.0,137.1 180.0,137.4 182.0,137.5 183.1,138.0 183.3,140.0 183.4,142.0 183.5,144.0 183.5,146.0 183.5,148.0 183.5,150.0 183.5,152.0 183.5,154.0 183.4,156.0 183.3,158.0 183.1,160.0 182.0,160.5 180.0,160.6 178.0,160.9 177.0,161.2 175.5,162.0 174.3,163.0 173.5,164.0 172.8,165.0 172.0,166.2 171.0,167.9 170.1,169.0 169.1,170.0 168.0,170.8 167.0,171.3 165.0,171.8 163.0,172.0 161.0,172.0 159.0,172.0 157.0,172.0 155.0,172.0 153.0,172.0 151.0,172.0 149.0,172.0 147.0,172.0 145.0,172.0 143.0,172.0 141.0,172.0 139.0,172.0 137.0,172.0 135.0,172.0 133.0,172.0 131.0,172.0 129.0,172.0 127.0,172.0 125.0,172.0 123.0,172.0 121.0,172.3 119.0,172.9 118.0,173.5 117.0,174.4 116.0,175.5 115.2,177.0 114.9,178.0 114.6,180.0 114.5,182.0 114.0,183.1ZM137.2,14.6a4.6,4.6 0 1,0 9.2,0a4.6,4.6 0 1,0 -9.2,0Z"/></clipPath>
<g clip-path="url(#fpf)"><g filter="url(#bl)">
<rect x="363.30" y="221.20" width="43.10" height="20.13" fill="#e01030"/>
<rect x="405.80" y="221.20" width="23.60" height="20.13" fill="#7676ec"/>
<rect x="428.80" y="221.20" width="12.10" height="20.13" fill="#283070"/>
<rect x="440.30" y="221.20" width="35.10" height="20.13" fill="#7676ec"/>
<rect x="474.80" y="221.20" width="12.10" height="20.13" fill="#c8c030"/>
<rect x="486.30" y="221.20" width="12.10" height="20.13" fill="#283070"/>
<rect x="497.80" y="221.20" width="66.10" height="20.13" fill="#7676ec"/>
<rect x="363.30" y="240.73" width="54.60" height="12.13" fill="#e01030"/>
<rect x="417.30" y="240.73" width="35.10" height="12.13" fill="#7676ec"/>
<rect x="451.80" y="240.73" width="35.10" height="12.13" fill="#c8c030"/>
<rect x="486.30" y="240.73" width="12.10" height="12.13" fill="#283070"/>
<rect x="497.80" y="240.73" width="66.10" height="12.13" fill="#7676ec"/>
<rect x="363.30" y="252.26" width="66.10" height="12.13" fill="#e01030"/>
<rect x="428.80" y="252.26" width="12.10" height="12.13" fill="#283070"/>
<rect x="440.30" y="252.26" width="12.10" height="12.13" fill="#7676ec"/>
<rect x="451.80" y="252.26" width="12.10" height="12.13" fill="#c8c030"/>
<rect x="463.30" y="252.26" width="12.10" height="12.13" fill="#dcdc90"/>
<rect x="474.80" y="252.26" width="12.10" height="12.13" fill="#c8c030"/>
<rect x="486.30" y="252.26" width="12.10" height="12.13" fill="#dcdc90"/>
<rect x="497.80" y="252.26" width="12.10" height="12.13" fill="#7676ec"/>
<rect x="509.30" y="252.26" width="12.10" height="12.13" fill="#c8c030"/>
<rect x="520.80" y="252.26" width="12.10" height="12.13" fill="#283070"/>
<rect x="532.30" y="252.26" width="31.60" height="12.13" fill="#c8c030"/>
<rect x="363.30" y="263.79" width="43.10" height="12.13" fill="#e01030"/>
<rect x="405.80" y="263.79" width="12.10" height="12.13" fill="#802040"/>
<rect x="417.30" y="263.79" width="23.60" height="12.13" fill="#283070"/>
<rect x="440.30" y="263.79" width="23.60" height="12.13" fill="#7676ec"/>
<rect x="463.30" y="263.79" width="12.10" height="12.13" fill="#dcdc90"/>
<rect x="474.80" y="263.79" width="23.60" height="12.13" fill="#c8c030"/>
<rect x="497.80" y="263.79" width="12.10" height="12.13" fill="#7676ec"/>
<rect x="509.30" y="263.79" width="12.10" height="12.13" fill="#c8c030"/>
<rect x="520.80" y="263.79" width="12.10" height="12.13" fill="#7676ec"/>
<rect x="532.30" y="263.79" width="31.60" height="12.13" fill="#802040"/>
<rect x="363.30" y="275.32" width="31.60" height="12.13" fill="#e01030"/>
<rect x="394.30" y="275.32" width="12.10" height="12.13" fill="#200008"/>
<rect x="405.80" y="275.32" width="12.10" height="12.13" fill="#802040"/>
<rect x="417.30" y="275.32" width="12.10" height="12.13" fill="#7676ec"/>
<rect x="428.80" y="275.32" width="23.60" height="12.13" fill="#a4a4b0"/>
<rect x="451.80" y="275.32" width="12.10" height="12.13" fill="#283070"/>
<rect x="463.30" y="275.32" width="12.10" height="12.13" fill="#7676ec"/>
<rect x="474.80" y="275.32" width="12.10" height="12.13" fill="#c8c030"/>
<rect x="486.30" y="275.32" width="35.10" height="12.13" fill="#7676ec"/>
<rect x="520.80" y="275.32" width="12.10" height="12.13" fill="#c8c030"/>
<rect x="532.30" y="275.32" width="31.60" height="12.13" fill="#802040"/>
<rect x="363.30" y="286.86" width="20.10" height="12.13" fill="#7676ec"/>
<rect x="382.80" y="286.86" width="12.10" height="12.13" fill="#283070"/>
<rect x="394.30" y="286.86" width="12.10" height="12.13" fill="#e01030"/>
<rect x="405.80" y="286.86" width="12.10" height="12.13" fill="#283070"/>
<rect x="417.30" y="286.86" width="23.60" height="12.13" fill="#7676ec"/>
<rect x="440.30" y="286.86" width="12.10" height="12.13" fill="#c8c030"/>
<rect x="451.80" y="286.86" width="12.10" height="12.13" fill="#283070"/>
<rect x="463.30" y="286.86" width="58.10" height="12.13" fill="#7676ec"/>
<rect x="520.80" y="286.86" width="12.10" height="12.13" fill="#283070"/>
<rect x="532.30" y="286.86" width="12.10" height="12.13" fill="#7676ec"/>
<rect x="543.80" y="286.86" width="20.10" height="12.13" fill="#283070"/>
<rect x="363.30" y="298.39" width="20.10" height="12.13" fill="#c8c030"/>
<rect x="382.80" y="298.39" width="12.10" height="12.13" fill="#7676ec"/>
<rect x="394.30" y="298.39" width="12.10" height="12.13" fill="#802040"/>
<rect x="405.80" y="298.39" width="12.10" height="12.13" fill="#283070"/>
<rect x="417.30" y="298.39" width="12.10" height="12.13" fill="#7676ec"/>
<rect x="428.80" y="298.39" width="12.10" height="12.13" fill="#283070"/>
<rect x="440.30" y="298.39" width="12.10" height="12.13" fill="#7676ec"/>
<rect x="451.80" y="298.39" width="12.10" height="12.13" fill="#f0f0d8"/>
<rect x="463.30" y="298.39" width="23.60" height="12.13" fill="#7676ec"/>
<rect x="486.30" y="298.39" width="12.10" height="12.13" fill="#c8c030"/>
<rect x="497.80" y="298.39" width="23.60" height="12.13" fill="#7676ec"/>
<rect x="520.80" y="298.39" width="12.10" height="12.13" fill="#283070"/>
<rect x="532.30" y="298.39" width="12.10" height="12.13" fill="#a4a4b0"/>
<rect x="543.80" y="298.39" width="20.10" height="12.13" fill="#283070"/>
<rect x="363.30" y="309.92" width="20.10" height="12.13" fill="#c8c030"/>
<rect x="382.80" y="309.92" width="46.60" height="12.13" fill="#7676ec"/>
<rect x="428.80" y="309.92" width="12.10" height="12.13" fill="#283070"/>
<rect x="440.30" y="309.92" width="12.10" height="12.13" fill="#7676ec"/>
<rect x="451.80" y="309.92" width="35.10" height="12.13" fill="#f0f0d8"/>
<rect x="486.30" y="309.92" width="12.10" height="12.13" fill="#c8c030"/>
<rect x="497.80" y="309.92" width="35.10" height="12.13" fill="#7676ec"/>
<rect x="532.30" y="309.92" width="12.10" height="12.13" fill="#283070"/>
<rect x="543.80" y="309.92" width="20.10" height="12.13" fill="#7676ec"/>
<rect x="363.30" y="321.45" width="77.60" height="12.13" fill="#7676ec"/>
<rect x="440.30" y="321.45" width="12.10" height="12.13" fill="#283070"/>
<rect x="451.80" y="321.45" width="12.10" height="12.13" fill="#f0f0d8"/>
<rect x="463.30" y="321.45" width="58.10" height="12.13" fill="#7676ec"/>
<rect x="520.80" y="321.45" width="43.10" height="12.13" fill="#283070"/>
<rect x="363.30" y="332.98" width="20.10" height="12.13" fill="#283070"/>
<rect x="382.80" y="332.98" width="23.60" height="12.13" fill="#7676ec"/>
<rect x="405.80" y="332.98" width="12.10" height="12.13" fill="#283070"/>
<rect x="417.30" y="332.98" width="12.10" height="12.13" fill="#7676ec"/>
<rect x="428.80" y="332.98" width="12.10" height="12.13" fill="#c8c030"/>
<rect x="440.30" y="332.98" width="46.60" height="12.13" fill="#7676ec"/>
<rect x="486.30" y="332.98" width="23.60" height="12.13" fill="#283070"/>
<rect x="509.30" y="332.98" width="12.10" height="12.13" fill="#7676ec"/>
<rect x="520.80" y="332.98" width="12.10" height="12.13" fill="#283070"/>
<rect x="532.30" y="332.98" width="12.10" height="12.13" fill="#e01030"/>
<rect x="543.80" y="332.98" width="20.10" height="12.13" fill="#283070"/>
<rect x="363.30" y="344.51" width="31.60" height="12.13" fill="#e01030"/>
<rect x="394.30" y="344.51" width="12.10" height="12.13" fill="#802040"/>
<rect x="405.80" y="344.51" width="12.10" height="12.13" fill="#283070"/>
<rect x="417.30" y="344.51" width="12.10" height="12.13" fill="#7676ec"/>
<rect x="428.80" y="344.51" width="12.10" height="12.13" fill="#c8c030"/>
<rect x="440.30" y="344.51" width="12.10" height="12.13" fill="#7676ec"/>
<rect x="451.80" y="344.51" width="12.10" height="12.13" fill="#c8c030"/>
<rect x="463.30" y="344.51" width="58.10" height="12.13" fill="#7676ec"/>
<rect x="520.80" y="344.51" width="43.10" height="12.13" fill="#283070"/>
<rect x="363.30" y="356.04" width="20.10" height="12.13" fill="#283070"/>
<rect x="382.80" y="356.04" width="12.10" height="12.13" fill="#e01030"/>
<rect x="394.30" y="356.04" width="12.10" height="12.13" fill="#802040"/>
<rect x="405.80" y="356.04" width="46.60" height="12.13" fill="#7676ec"/>
<rect x="451.80" y="356.04" width="12.10" height="12.13" fill="#283070"/>
<rect x="463.30" y="356.04" width="46.60" height="12.13" fill="#7676ec"/>
<rect x="509.30" y="356.04" width="12.10" height="12.13" fill="#283070"/>
<rect x="520.80" y="356.04" width="12.10" height="12.13" fill="#e01030"/>
<rect x="532.30" y="356.04" width="31.60" height="12.13" fill="#200008"/>
<rect x="363.30" y="367.57" width="54.60" height="12.13" fill="#283070"/>
<rect x="417.30" y="367.57" width="23.60" height="12.13" fill="#7676ec"/>
<rect x="440.30" y="367.57" width="58.10" height="12.13" fill="#283070"/>
<rect x="497.80" y="367.57" width="12.10" height="12.13" fill="#802040"/>
<rect x="509.30" y="367.57" width="23.60" height="12.13" fill="#e01030"/>
<rect x="532.30" y="367.57" width="12.10" height="12.13" fill="#802040"/>
<rect x="543.80" y="367.57" width="20.10" height="12.13" fill="#283070"/>
<rect x="363.30" y="379.11" width="31.60" height="12.13" fill="#283070"/>
<rect x="394.30" y="379.11" width="23.60" height="12.13" fill="#7676ec"/>
<rect x="417.30" y="379.11" width="12.10" height="12.13" fill="#283070"/>
<rect x="428.80" y="379.11" width="23.60" height="12.13" fill="#802040"/>
<rect x="451.80" y="379.11" width="12.10" height="12.13" fill="#283070"/>
<rect x="463.30" y="379.11" width="12.10" height="12.13" fill="#200008"/>
<rect x="474.80" y="379.11" width="35.10" height="12.13" fill="#283070"/>
<rect x="509.30" y="379.11" width="12.10" height="12.13" fill="#7676ec"/>
<rect x="520.80" y="379.11" width="12.10" height="12.13" fill="#283070"/>
<rect x="532.30" y="379.11" width="12.10" height="12.13" fill="#e01030"/>
<rect x="543.80" y="379.11" width="20.10" height="12.13" fill="#7676ec"/>
<rect x="363.30" y="390.64" width="43.10" height="12.13" fill="#7676ec"/>
<rect x="405.80" y="390.64" width="23.60" height="12.13" fill="#283070"/>
<rect x="428.80" y="390.64" width="23.60" height="12.13" fill="#e01030"/>
<rect x="451.80" y="390.64" width="12.10" height="12.13" fill="#7676ec"/>
<rect x="463.30" y="390.64" width="12.10" height="12.13" fill="#e01030"/>
<rect x="474.80" y="390.64" width="23.60" height="12.13" fill="#7676ec"/>
<rect x="497.80" y="390.64" width="12.10" height="12.13" fill="#283070"/>
<rect x="509.30" y="390.64" width="12.10" height="12.13" fill="#7676ec"/>
<rect x="520.80" y="390.64" width="43.10" height="12.13" fill="#e01030"/>
<rect x="363.30" y="402.17" width="43.10" height="20.13" fill="#7676ec"/>
<rect x="405.80" y="402.17" width="23.60" height="20.13" fill="#283070"/>
<rect x="428.80" y="402.17" width="12.10" height="20.13" fill="#e01030"/>
<rect x="440.30" y="402.17" width="12.10" height="20.13" fill="#802040"/>
<rect x="451.80" y="402.17" width="23.60" height="20.13" fill="#e01030"/>
<rect x="474.80" y="402.17" width="23.60" height="20.13" fill="#7676ec"/>
<rect x="497.80" y="402.17" width="12.10" height="20.13" fill="#283070"/>
<rect x="509.30" y="402.17" width="12.10" height="20.13" fill="#7676ec"/>
<rect x="520.80" y="402.17" width="43.10" height="20.13" fill="#e01030"/>
</g>
<g fill="#100008" filter="url(#bl2)"><circle cx="400.1" cy="281.1" r="3.4"/><circle cx="538.0" cy="361.8" r="3.4"/><circle cx="469.0" cy="384.9" r="3.4"/></g>
<path transform="translate(371.30,229.20)" d="M-1.0,55.2 1.0,55.2 3.0,55.2 5.0,55.2 7.0,55.3 9.0,55.6 10.2,56.0 12.0,56.7 13.0,57.2 15.0,58.0 16.0,58.3 18.0,58.8 19.0,59.4 20.0,60.6 20.5,62.0 21.0,63.7 21.5,65.0 22.0,66.0 23.0,67.5 23.9,69.0 24.5,70.0 25.0,71.4 25.5,73.0 26.0,74.5 27.0,75.6 28.0,76.0 30.0,76.0 31.0,75.7 32.2,75.0 33.0,74.0 33.8,72.0 34.0,71.0 34.6,69.0 35.0,67.1 35.2,66.0 35.4,64.0 35.5,62.0 35.9,60.0 36.3,59.0 37.0,58.0 38.3,57.0 40.0,56.1 41.0,55.2 41.7,54.0 42.1,53.0 42.3,51.0 42.5,49.0 42.8,47.0 43.1,46.0 43.8,44.0 44.3,43.0 45.0,41.2 45.4,40.0 46.0,38.1 46.8,37.0 48.0,36.1 49.0,35.8 51.0,35.4 53.0,35.2 54.0,34.9 55.9,34.0 56.9,33.0 57.5,32.0 58.0,30.4 58.1,29.0 58.0,28.0 57.0,26.1 56.0,25.3 55.0,24.7 53.0,24.1 52.0,23.9 50.0,23.7 48.0,23.3 47.0,22.9 45.9,22.0 45.0,20.7 44.4,19.0 44.2,17.0 44.0,15.7 43.5,14.0 42.7,13.0 41.0,12.2 40.0,11.9 38.0,11.7 36.0,11.3 35.0,10.9 33.9,10.0 33.0,8.7 32.4,7.0 32.2,5.0 32.2,3.0 32.2,1.0 32.2,-1.0M184.0,37.7 182.0,37.7 180.0,37.7 178.0,37.7 176.0,37.7 174.0,37.7 172.0,37.7 170.0,37.7 168.0,37.8 166.0,37.9 165.0,38.3 164.0,39.6 163.8,41.0 163.9,43.0 164.0,44.0 164.4,46.0 164.6,48.0 164.8,50.0 165.0,51.3 166.0,52.8 167.0,53.2 169.0,53.6 170.6,54.0 172.0,54.4 173.4,55.0 175.0,55.7 176.0,56.1 178.0,56.4 180.0,56.5 182.0,56.5 184.0,56.5M168.6,116.0 170.0,115.6 171.0,114.9 172.0,113.9 172.9,112.0 173.1,111.0 173.3,109.0 173.3,107.0 173.0,105.4 172.6,104.0 171.9,103.0 170.9,102.0 169.0,101.1 168.0,100.9 166.0,100.7 164.0,100.9 163.0,101.1 161.1,102.0 160.1,103.0 159.4,104.0 159.0,105.4 158.7,107.0 158.7,109.0 158.9,111.0 159.1,112.0 160.0,113.9 161.0,114.9 162.0,115.6 163.4,116.0 165.0,116.3 167.0,116.3 168.6,116.0ZM-1.0,127.4 1.0,127.4 3.0,127.4 5.0,127.6 6.5,128.0 7.7,129.0 8.2,130.0 8.6,132.0 8.8,134.0 9.1,135.0 10.0,136.9 11.0,137.9 12.0,138.6 13.4,139.0 15.0,139.3 17.0,139.4 19.0,139.3 21.0,139.0 22.0,138.8 24.0,138.3 25.2,138.0 27.0,137.6 28.5,137.0 29.5,136.0 30.0,135.0 30.3,133.0 30.4,131.0 30.5,129.0 30.8,127.0 31.1,126.0 31.8,124.0 32.3,123.0 32.9,121.0 32.5,119.0 31.0,118.0 30.0,117.8 28.0,117.6 26.0,117.4 24.5,117.0 23.0,116.7 21.0,116.2 19.4,116.0 18.0,115.9 16.0,115.8 14.0,115.7 12.0,115.4 10.8,115.0 9.0,114.3 8.0,113.8 6.0,113.0 5.0,112.8 3.0,112.6 1.0,112.6 -1.0,112.6M184.0,122.8 182.0,122.8 180.0,122.8 178.0,122.8 176.0,122.8 174.0,122.8 172.0,122.8 170.0,122.8 168.0,122.8 166.0,122.8 164.0,122.8 162.0,123.0 161.0,123.1 159.0,123.3 157.0,123.5 155.0,123.7 153.6,124.0 152.0,124.6 151.0,125.3 150.0,126.1 149.0,127.2 148.0,128.5 147.1,130.0 146.8,131.0 146.3,133.0 145.8,134.0 144.7,135.0 143.0,135.7 142.0,136.1 140.1,137.0 139.0,137.6 138.0,138.3 136.8,139.0 135.0,139.9 134.0,140.2 132.0,140.6 130.0,140.8 128.8,141.0 127.0,141.9 126.2,143.0 125.9,144.0 126.0,145.0 127.0,146.9 128.0,147.7 129.0,148.1 131.0,148.4 133.0,148.2 134.1,148.0 136.0,147.6 138.0,147.3 140.0,147.2 142.0,147.2 144.0,147.2 146.0,147.4 148.0,147.9 149.0,148.3 150.6,149.0 152.0,149.6 153.1,150.0 155.0,150.5 156.8,151.0 157.8,152.0 158.2,153.0 158.4,155.0 158.0,156.5 157.0,157.7 156.0,158.3 154.0,158.9 153.0,159.3 152.0,160.1 151.0,161.3 150.3,163.0 150.0,164.7 149.9,166.0 149.9,168.0 149.8,170.0 149.8,172.0 149.8,174.0 149.8,176.0 149.8,178.0 149.8,180.0 149.8,182.0 149.8,184.0M184.0,161.8 182.0,161.8 180.0,161.8 178.0,161.8 176.0,161.7 174.0,161.3 173.0,160.9 171.9,160.0 171.0,158.7 170.4,157.0 170.2,155.0 170.2,153.0 170.2,151.0 170.3,149.0 170.6,147.0 171.0,145.3 171.4,144.0 172.0,142.6 173.0,141.5 174.0,140.9 176.0,140.4 178.0,140.2 180.0,140.2 182.0,140.2 184.0,140.2M101.2,184.0 101.2,182.0 101.2,180.0 101.2,178.0 101.2,176.0 101.2,174.0 101.2,172.0 101.2,170.0 101.2,168.0 101.2,166.0 101.4,164.0 102.0,162.0 102.4,161.0 103.0,159.7 103.9,158.0 104.4,157.0 105.0,155.0 105.1,154.0 105.0,152.3 104.8,151.0 104.0,149.0 103.3,148.0 102.0,147.0 101.0,146.5 99.0,146.0 98.0,145.9 96.0,145.9 95.0,146.0 93.0,146.5 92.0,147.0 90.7,148.0 90.0,149.0 89.2,151.0 89.0,152.3 88.9,154.0 89.0,155.0 89.6,157.0 90.1,158.0 91.0,159.7 91.6,161.0 92.0,162.0 92.6,164.0 92.7,166.0 92.6,168.0 92.0,169.7 91.1,171.0 90.0,171.9 89.0,172.3 87.0,172.7 85.0,172.8 83.0,172.7 81.0,172.3 80.0,171.7 79.0,170.5 78.5,169.0 78.2,167.0 78.2,165.0 78.2,163.0 78.3,161.0 78.6,159.0 79.0,157.1 79.2,156.0 79.4,154.0 79.1,152.0 78.7,151.0 78.0,150.0 76.2,149.0 75.0,148.8 73.0,149.0 72.0,149.3 70.4,150.0 69.0,150.6 67.6,151.0 66.0,151.4 64.0,151.6 62.0,151.7 60.0,151.9 59.0,152.3 57.8,153.0 57.0,154.1 56.4,156.0 56.0,157.8 55.7,159.0 55.2,161.0 55.0,162.0 54.7,164.0 54.6,166.0 54.6,168.0 54.6,170.0 54.6,172.0 54.6,174.0 54.6,176.0 54.6,178.0 54.6,180.0 54.6,182.0 54.6,184.0M113.7,-1.0 113.7,1.0 113.7,3.0 113.7,5.0 113.7,7.0 113.7,9.0 113.7,11.0 113.7,13.0 113.7,15.0 113.8,17.0 114.0,18.6 114.5,20.0 115.2,21.0 116.7,22.0 118.0,22.4 120.0,22.6 122.0,22.7 123.6,23.0 125.0,23.5 126.0,24.2 127.0,26.0 127.2,27.0 127.3,29.0 127.3,31.0 127.1,33.0 127.0,34.3 126.9,36.0 126.7,38.0 126.7,40.0 126.4,42.0 126.0,43.3 125.0,44.9 124.0,45.7 123.0,46.2 121.0,46.6 119.0,47.0 118.0,47.3 117.0,48.0 116.0,49.9 115.8,51.0 115.4,53.0 115.0,54.4 114.0,55.9 113.0,56.7 112.0,57.1 110.0,57.6 108.0,57.6 106.0,57.4 104.7,57.0 103.1,56.0 102.3,55.0 101.8,54.0 101.4,52.0 101.0,50.3 100.4,49.0 99.2,48.0 98.0,47.6 96.0,47.1 95.0,46.8 93.5,46.0 92.2,45.0 91.3,44.0 90.7,43.0 90.0,41.3 89.7,40.0 89.3,38.0 89.0,37.0 88.0,35.7 86.5,35.0 85.0,34.7 83.0,34.4 81.7,34.0 80.1,33.0 79.3,32.0 78.9,31.0 78.4,29.0 78.3,27.0 78.3,25.0 78.3,23.0 78.3,21.0 78.3,19.0 78.3,17.0 78.4,15.0 78.9,13.0 79.3,12.0 80.1,11.0 81.7,10.0 83.0,9.6 85.0,9.3 87.0,9.3 89.0,9.3 91.0,9.3 93.0,9.3 95.0,9.3 97.0,9.2 98.0,9.0 100.0,8.0 100.6,7.0 101.0,6.0 101.2,4.0 101.3,2.0 101.3,0.0 101.3,-1.0M157.0,55.2 155.0,55.6 153.0,55.6 151.0,55.3 149.8,55.0 148.4,54.0 147.8,53.0 147.3,51.0 147.0,49.1 146.5,48.0 145.0,47.0 144.0,46.8 142.0,46.6 140.0,46.2 139.0,45.7 138.0,44.9 137.0,43.3 136.6,42.0 136.3,40.0 136.3,38.0 136.3,36.0 136.3,34.0 136.3,32.0 136.3,30.0 136.3,28.0 136.6,26.0 137.0,24.7 138.0,23.1 139.0,22.3 140.0,21.9 142.0,21.5 144.0,21.6 145.3,22.0 146.5,23.0 147.1,24.0 147.5,26.0 147.7,28.0 147.8,30.0 148.0,31.5 148.3,33.0 148.8,35.0 149.1,36.0 149.5,38.0 149.7,40.0 150.0,41.8 150.5,43.0 152.0,44.0 153.0,44.2 155.0,44.5 156.3,45.0 157.6,46.0 158.3,47.0 159.0,49.0 159.1,50.0 159.1,52.0 158.9,53.0 158.0,54.5 157.0,55.2ZM184.0,32.3 182.0,32.3 180.0,32.3 178.0,32.3 176.0,32.3 174.0,32.3 172.0,32.3 170.0,32.3 168.0,32.3 166.0,32.2 164.4,32.0 163.0,31.4 162.0,30.3 161.6,29.0 161.5,27.0 161.7,25.0 162.0,23.8 163.0,22.4 164.0,21.8 166.0,21.4 168.0,21.3 170.0,21.3 172.0,21.3 174.0,21.3 176.0,21.3 178.0,21.3 180.0,21.3 182.0,21.3 184.0,21.3M90.0,104.1 88.0,104.6 86.0,104.8 84.0,104.7 82.0,104.1 81.0,103.5 80.0,102.2 79.6,101.0 79.3,99.0 79.1,97.0 79.0,95.0 78.9,94.0 78.5,92.0 78.0,90.0 77.7,89.0 77.3,87.0 77.2,85.0 77.2,83.0 77.2,81.0 77.2,79.0 77.2,77.0 77.2,75.0 77.1,73.0 76.9,72.0 76.0,70.4 75.0,69.9 73.0,69.4 71.9,69.0 70.2,68.0 69.2,67.0 68.5,66.0 67.9,65.0 67.4,63.0 67.3,61.0 67.1,59.0 66.8,58.0 66.0,56.3 65.0,55.5 63.1,55.0 62.0,54.8 60.0,54.1 59.0,53.1 58.7,52.0 59.0,50.6 60.0,49.7 62.0,49.0 63.0,49.0 65.0,48.8 67.0,48.6 69.0,48.2 70.0,47.9 72.0,47.5 74.0,47.6 75.0,48.2 75.9,50.0 76.1,51.0 76.6,53.0 77.0,54.2 77.6,56.0 78.0,57.1 78.4,59.0 78.6,61.0 78.7,63.0 78.8,65.0 79.0,66.0 80.0,67.4 82.0,68.0 83.0,68.1 85.0,68.1 87.0,68.2 89.0,68.4 91.0,68.9 92.0,69.5 93.0,70.7 93.5,72.0 93.9,74.0 94.3,75.0 95.0,76.1 97.0,77.0 98.0,77.1 100.0,77.2 102.0,77.2 104.0,77.2 106.0,77.2 108.0,77.1 109.7,77.0 111.0,76.7 112.1,76.0 113.0,74.5 113.3,73.0 113.8,71.0 114.3,70.0 115.1,69.0 116.7,68.0 118.0,67.6 120.0,67.4 122.0,67.6 123.3,68.0 124.9,69.0 125.7,70.0 126.1,71.0 126.6,73.0 126.7,75.0 126.7,77.0 126.7,79.0 126.7,81.0 126.7,83.0 126.7,85.0 126.6,87.0 126.1,89.0 125.7,90.0 124.9,91.0 123.3,92.0 122.0,92.4 120.0,92.7 118.0,92.9 116.8,93.0 115.0,93.3 113.0,93.6 111.0,93.7 109.0,93.8 107.0,93.8 105.0,93.8 103.0,93.8 101.0,93.8 99.0,93.8 97.0,94.0 96.0,94.3 94.9,95.0 94.0,96.8 93.8,98.0 93.4,100.0 93.0,101.1 92.0,102.7 91.0,103.5 90.0,104.1ZM-1.0,67.3 1.0,67.3 3.0,67.3 5.0,67.4 7.0,67.9 8.0,68.5 9.0,69.2 10.0,70.2 11.0,71.9 11.4,73.0 11.7,75.0 11.7,77.0 11.7,79.0 11.7,81.0 11.7,83.0 11.7,85.0 11.6,87.0 11.1,89.0 10.7,90.0 9.9,91.0 8.3,92.0 7.0,92.4 5.0,92.7 3.0,92.7 1.0,92.7 -1.0,92.7M166.0,75.2 165.0,74.9 164.5,73.0 165.0,71.7 167.0,71.7 167.5,73.0 167.0,74.9 166.0,75.2ZM66.0,126.1 64.0,126.6 62.0,126.6 60.0,126.4 58.7,126.0 57.1,125.0 56.3,124.0 55.9,123.0 55.4,121.0 55.3,119.0 55.3,117.0 55.3,115.0 55.3,113.0 55.3,111.0 55.3,109.0 55.4,107.0 55.9,105.0 56.3,104.0 57.1,103.0 58.7,102.0 60.0,101.6 62.0,101.4 64.0,101.6 65.1,102.0 66.8,103.0 67.8,104.0 68.5,105.0 69.1,106.0 69.6,108.0 69.7,110.0 69.7,112.0 69.7,114.0 69.7,116.0 69.7,118.0 69.7,120.0 69.4,122.0 69.0,123.3 68.0,124.9 67.0,125.7 66.0,126.1ZM90.0,124.1 88.0,124.5 86.0,124.6 84.0,124.6 82.0,124.3 80.8,124.0 79.4,123.0 78.8,122.0 78.5,120.0 78.6,118.0 79.0,116.7 80.0,115.1 81.0,114.3 82.0,113.9 84.0,113.4 86.0,113.4 88.0,113.6 89.3,114.0 90.9,115.0 91.7,116.0 92.1,117.0 92.5,119.0 92.4,121.0 92.0,122.3 91.0,123.5 90.0,124.1Z" fill="none" stroke="#10103a" stroke-width="1.7" stroke-linejoin="round"/>
</g>
<line x1="371.3" x2="555.3" y1="249.4" y2="249.4" stroke="#000" stroke-width="1.1" opacity="0.5"/>
<line x1="371.3" x2="555.3" y1="283.3" y2="283.3" stroke="#000" stroke-width="1.1" opacity="0.5"/>
<line x1="371.3" x2="555.3" y1="316.7" y2="316.7" stroke="#000" stroke-width="1.1" opacity="0.5"/>
<line x1="371.3" x2="555.3" y1="350.5" y2="350.5" stroke="#000" stroke-width="1.1" opacity="0.5"/>
<line x1="371.3" x2="555.3" y1="384.0" y2="384.0" stroke="#000" stroke-width="1.1" opacity="0.5"/>
<line x1="420.4" x2="420.4" y1="229.2" y2="413.7" stroke="#000" stroke-width="1.1" opacity="0.5"/>
<line x1="499.3" x2="499.3" y1="229.2" y2="413.7" stroke="#000" stroke-width="1.1" opacity="0.5"/>
<path d="M371.3,242.7h2M555.3,242.7h-2M371.3,249.4h3.5M555.3,249.4h-3.5M371.3,256.1h2M555.3,256.1h-2M371.3,262.9h2M555.3,262.9h-2M371.3,269.6h2M555.3,269.6h-2M371.3,276.3h2M555.3,276.3h-2M371.3,283.0h3.5M555.3,283.0h-3.5M371.3,289.8h2M555.3,289.8h-2M371.3,296.5h2M555.3,296.5h-2M371.3,303.2h2M555.3,303.2h-2M371.3,310.0h2M555.3,310.0h-2M371.3,316.7h3.5M555.3,316.7h-3.5M371.3,323.4h2M555.3,323.4h-2M371.3,330.2h2M555.3,330.2h-2M371.3,336.9h2M555.3,336.9h-2M371.3,343.6h2M555.3,343.6h-2M371.3,350.3h3.5M555.3,350.3h-3.5M371.3,357.1h2M555.3,357.1h-2M371.3,363.8h2M555.3,363.8h-2M371.3,370.5h2M555.3,370.5h-2M371.3,377.3h2M555.3,377.3h-2M371.3,384.0h3.5M555.3,384.0h-3.5M371.3,390.7h2M555.3,390.7h-2M371.3,397.5h2M555.3,397.5h-2M371.3,404.2h2M555.3,404.2h-2M371.3,410.9h2M555.3,410.9h-2M381.0,413.7v-2M381.0,229.2v2M390.8,413.7v-2M390.8,229.2v2M400.7,413.7v-2M400.7,229.2v2M410.5,413.7v-2M410.5,229.2v2M420.4,413.7v-3.5M420.4,229.2v3.5M430.3,413.7v-2M430.3,229.2v2M440.1,413.7v-2M440.1,229.2v2M450.0,413.7v-2M450.0,229.2v2M459.9,413.7v-2M459.9,229.2v2M469.7,413.7v-2M469.7,229.2v2M479.6,413.7v-2M479.6,229.2v2M489.4,413.7v-2M489.4,229.2v2M499.3,413.7v-3.5M499.3,229.2v3.5M509.2,413.7v-2M509.2,229.2v2M519.0,413.7v-2M519.0,229.2v2M528.9,413.7v-2M528.9,229.2v2M538.8,413.7v-2M538.8,229.2v2M548.6,413.7v-2M548.6,229.2v2" stroke="#000" stroke-width="0.8" fill="none"/>
<rect x="379.3" y="241.2" width="18" height="15" fill="#fff"/>
<text x="388.8" y="252.8" font-family="'Liberation Serif','DejaVu Serif',serif" font-size="17" text-anchor="middle" fill="#111">f</text>
<rect x="372.0" y="410.0" width="24.7" height="4.2" fill="#fff"/>
<rect x="372.0" y="382.0" width="24.7" height="28" fill="#d9d9d9"/>
<text x="376.9" y="398.4" font-family="'Liberation Serif','DejaVu Serif',serif" font-size="16" fill="#222"><tspan font-style="italic">β</tspan><tspan dy="4" font-size="10">3</tspan></text>
</g>
<rect x="371.3" y="229.2" width="184.0" height="184.5" fill="none" stroke="#000" stroke-width="1.6"/>
<rect x="561.7" y="229.2" width="6.9" height="184.5" fill="url(#gbeta)" stroke="#000" stroke-width="1.4"/>
<line x1="561.7" x2="568.6" y1="254.4" y2="254.4" stroke="#000" stroke-width="0.9" opacity="0.8"/>
<text x="572.5" y="257.8" font-family="'DejaVu Sans','Liberation Sans',sans-serif" font-size="12.7" fill="#111">2.03</text>
<line x1="561.7" x2="568.6" y1="284.0" y2="284.0" stroke="#000" stroke-width="0.9" opacity="0.8"/>
<text x="572.5" y="287.4" font-family="'DejaVu Sans','Liberation Sans',sans-serif" font-size="12.7" fill="#111">1.96</text>
<line x1="561.7" x2="568.6" y1="313.0" y2="313.0" stroke="#000" stroke-width="0.9" opacity="0.8"/>
<text x="572.5" y="316.4" font-family="'DejaVu Sans','Liberation Sans',sans-serif" font-size="12.7" fill="#111">1.89</text>
<line x1="561.7" x2="568.6" y1="343.0" y2="343.0" stroke="#000" stroke-width="0.9" opacity="0.8"/>
<text x="572.5" y="346.4" font-family="'DejaVu Sans','Liberation Sans',sans-serif" font-size="12.7" fill="#111">1.82</text>
<line x1="561.7" x2="568.6" y1="372.7" y2="372.7" stroke="#000" stroke-width="0.9" opacity="0.8"/>
<text x="572.5" y="376.1" font-family="'DejaVu Sans','Liberation Sans',sans-serif" font-size="12.7" fill="#111">1.75</text>
<line x1="561.7" x2="568.6" y1="402.0" y2="402.0" stroke="#000" stroke-width="0.9" opacity="0.8"/>
<text x="572.5" y="405.4" font-family="'DejaVu Sans','Liberation Sans',sans-serif" font-size="12.7" fill="#111">1.68</text>
<text transform="translate(621.6,321.4) rotate(-90)" text-anchor="middle" font-family="'Liberation Serif','DejaVu Serif',serif" font-size="16.5" fill="#555"><tspan font-style="italic">β</tspan><tspan baseline-shift="sub" font-size="70%">3</tspan></text>
<clipPath id="cpg"><rect x="646.5" y="229.2" width="184.2" height="184.5"/></clipPath>
<g clip-path="url(#cpg)">
<clipPath id="fpg"><path clip-rule="evenodd" transform="translate(646.50,229.20)" d="M126.0,183.0 124.0,183.3 122.0,183.4 120.0,183.5 118.0,183.5 116.0,183.5 114.0,183.5 112.0,183.5 110.0,183.5 108.0,183.5 106.0,183.5 104.0,183.5 102.0,183.5 100.0,183.5 98.0,183.5 96.0,183.5 94.0,183.5 92.0,183.5 90.0,183.5 88.0,183.5 86.0,183.5 84.0,183.5 82.0,183.5 80.0,183.5 78.0,183.5 76.0,183.5 74.0,183.5 72.0,183.5 70.0,183.5 68.0,183.5 66.0,183.5 64.0,183.5 62.0,183.5 60.0,183.5 58.0,183.5 56.0,183.5 54.0,183.5 52.0,183.5 50.0,183.5 48.0,183.5 46.0,183.5 44.0,183.5 42.0,183.5 40.0,183.5 38.0,183.5 36.0,183.5 34.0,183.5 32.0,183.5 30.0,183.5 28.0,183.5 26.0,183.5 24.0,183.5 22.0,183.5 20.0,183.5 18.0,183.5 16.0,183.5 14.0,183.5 12.0,183.5 10.0,183.5 8.0,183.5 6.0,183.5 4.0,183.5 2.0,183.5 0.0,183.5 -0.5,182.0 -0.5,180.0 -0.5,178.0 -0.5,176.0 -0.5,174.0 -0.5,172.0 -0.5,170.0 -0.5,168.0 -0.5,166.0 -0.5,164.0 -0.5,162.0 -0.5,160.0 -0.5,158.0 -0.5,156.0 -0.5,154.0 -0.5,152.0 -0.5,150.0 -0.5,148.0 -0.5,146.0 -0.5,144.0 -0.5,142.0 -0.5,140.0 -0.5,138.0 -0.5,136.0 -0.5,134.0 -0.5,132.0 -0.5,130.0 -0.5,128.0 -0.5,126.0 -0.5,124.0 -0.5,122.0 -0.5,120.0 -0.5,118.0 -0.5,116.0 -0.5,114.0 -0.5,112.0 -0.5,110.0 -0.5,108.0 -0.5,106.0 -0.5,104.0 -0.5,102.0 -0.5,100.0 -0.5,98.0 -0.5,96.0 -0.5,94.0 -0.5,92.0 -0.5,90.0 -0.5,88.0 -0.5,86.0 -0.5,84.0 -0.5,82.0 -0.5,80.0 -0.5,78.0 -0.5,76.0 -0.5,74.0 -0.5,72.0 -0.5,70.0 -0.5,68.0 -0.5,66.0 -0.5,64.0 -0.5,62.0 -0.5,60.0 -0.5,58.0 -0.5,56.0 -0.5,54.0 -0.5,52.0 -0.4,50.0 -0.3,48.0 -0.1,46.0 1.0,45.5 3.0,45.5 5.0,45.5 7.0,45.5 9.0,45.5 11.0,45.5 13.0,45.5 15.0,45.4 17.0,45.0 18.0,44.6 19.0,44.0 20.2,43.0 21.0,42.0 22.0,40.6 22.9,39.0 23.6,38.0 24.4,37.0 25.3,36.0 26.6,35.0 28.0,34.1 29.0,33.6 30.0,32.9 31.2,32.0 32.1,31.0 33.0,29.9 34.0,28.3 34.8,27.0 35.5,26.0 36.3,25.0 37.5,24.0 39.0,23.2 40.0,22.9 42.0,22.6 44.0,22.5 46.0,22.5 48.0,22.5 50.0,22.3 51.4,22.0 53.0,21.3 54.0,20.6 55.0,19.6 56.0,18.1 56.5,17.0 56.9,15.0 57.0,13.0 57.0,11.0 57.0,9.0 57.0,7.0 57.0,5.0 57.0,3.0 57.0,1.0 58.0,-0.1 60.0,-0.3 62.0,-0.4 64.0,-0.5 66.0,-0.5 68.0,-0.5 70.0,-0.5 72.0,-0.5 74.0,-0.5 76.0,-0.5 78.0,-0.5 80.0,-0.5 82.0,-0.5 84.0,-0.5 86.0,-0.5 88.0,-0.5 90.0,-0.5 92.0,-0.5 94.0,-0.5 96.0,-0.5 98.0,-0.5 100.0,-0.5 102.0,-0.5 104.0,-0.5 106.0,-0.5 108.0,-0.5 110.0,-0.5 112.0,-0.5 114.0,-0.5 116.0,-0.5 118.0,-0.5 120.0,-0.5 122.0,-0.5 124.0,-0.5 126.0,-0.5 128.0,-0.5 130.0,-0.5 132.0,-0.5 134.0,-0.5 136.0,-0.5 138.0,-0.5 140.0,-0.5 142.0,-0.5 144.0,-0.5 146.0,-0.5 148.0,-0.5 150.0,-0.5 152.0,-0.5 154.0,-0.5 156.0,-0.5 158.0,-0.5 160.0,-0.5 162.0,-0.5 164.0,-0.5 166.0,-0.5 168.0,-0.4 170.0,-0.3 172.0,0.0 172.0,2.0 172.0,4.0 172.0,6.0 172.0,8.0 172.0,10.0 172.0,12.0 172.0,14.0 172.0,16.0 172.0,18.0 172.0,20.0 172.0,22.0 172.0,24.0 172.0,26.0 172.0,28.0 172.0,30.0 172.0,32.0 172.0,34.0 172.0,36.0 172.1,38.0 172.5,40.0 173.0,41.1 174.0,42.6 175.0,43.6 176.0,44.3 177.6,45.0 179.0,45.3 181.0,45.5 183.0,45.5 183.2,47.0 183.4,49.0 183.5,51.0 183.5,53.0 183.5,55.0 183.5,57.0 183.5,59.0 183.5,61.0 183.5,63.0 183.5,65.0 183.5,67.0 183.5,69.0 183.5,71.0 183.5,73.0 183.5,75.0 183.5,77.0 183.5,79.0 183.5,81.0 183.5,83.0 183.5,85.0 183.5,87.0 183.5,89.0 183.5,91.0 183.5,93.0 183.5,95.0 183.5,97.0 183.5,99.0 183.5,101.0 183.5,103.0 183.5,105.0 183.5,107.0 183.5,109.0 183.4,111.0 183.2,113.0 183.0,114.5 181.0,114.5 179.0,114.7 177.6,115.0 176.0,115.7 175.0,116.4 174.0,117.5 173.1,119.0 172.9,120.0 173.0,121.0 174.0,123.0 174.9,124.0 176.0,124.8 177.0,125.3 179.0,125.8 181.0,126.0 183.0,126.0 183.1,127.0 183.3,129.0 183.4,131.0 183.5,133.0 183.5,135.0 183.5,137.0 183.5,139.0 183.5,141.0 183.5,143.0 183.5,145.0 183.5,147.0 183.5,149.0 183.5,151.0 183.5,153.0 183.5,155.0 183.5,157.0 183.5,159.0 183.5,161.0 183.5,163.0 183.5,165.0 183.4,167.0 183.3,169.0 183.1,171.0 182.0,172.0 180.0,172.0 178.0,172.0 176.0,172.0 174.0,172.0 172.0,172.0 170.0,172.0 168.0,172.0 166.0,172.0 164.0,172.0 162.0,172.0 160.0,172.0 158.0,172.0 156.0,172.0 154.0,172.0 152.0,172.0 150.0,172.0 148.0,172.0 146.0,172.0 144.0,172.0 142.0,172.0 140.0,172.0 138.0,172.0 136.0,172.0 134.0,172.1 132.0,172.4 130.4,173.0 129.0,173.9 128.0,174.9 127.2,176.0 126.7,177.0 126.2,179.0 126.0,181.0 126.0,183.0 126.0,183.0ZM137.2,14.6a4.6,4.6 0 1,0 9.2,0a4.6,4.6 0 1,0 -9.2,0Z"/></clipPath>
<g clip-path="url(#fpg)"><g filter="url(#bl)">
<rect x="638.50" y="221.20" width="20.11" height="20.13" fill="#ffffa8"/>
<rect x="658.01" y="221.20" width="81.19" height="20.13" fill="#ffff20"/>
<rect x="738.60" y="221.20" width="12.11" height="20.13" fill="#ffc000"/>
<rect x="750.11" y="221.20" width="12.11" height="20.13" fill="#ff9000"/>
<rect x="761.62" y="221.20" width="12.11" height="20.13" fill="#ffc000"/>
<rect x="773.14" y="221.20" width="66.16" height="20.13" fill="#ffff20"/>
<rect x="638.50" y="240.73" width="31.62" height="12.13" fill="#ffffa8"/>
<rect x="669.52" y="240.73" width="69.68" height="12.13" fill="#ffff20"/>
<rect x="738.60" y="240.73" width="23.62" height="12.13" fill="#ff9000"/>
<rect x="761.62" y="240.73" width="12.11" height="12.13" fill="#dc1000"/>
<rect x="773.14" y="240.73" width="12.11" height="12.13" fill="#ff9000"/>
<rect x="784.65" y="240.73" width="12.11" height="12.13" fill="#dc1000"/>
<rect x="796.16" y="240.73" width="12.11" height="12.13" fill="#ffc000"/>
<rect x="807.68" y="240.73" width="31.62" height="12.13" fill="#ff9000"/>
<rect x="638.50" y="252.26" width="43.14" height="12.13" fill="#ffffa8"/>
<rect x="681.04" y="252.26" width="35.14" height="12.13" fill="#ffff20"/>
<rect x="715.58" y="252.26" width="12.11" height="12.13" fill="#ffc000"/>
<rect x="727.09" y="252.26" width="12.11" height="12.13" fill="#ff9000"/>
<rect x="738.60" y="252.26" width="35.14" height="12.13" fill="#dc1000"/>
<rect x="773.14" y="252.26" width="12.11" height="12.13" fill="#ffff20"/>
<rect x="784.65" y="252.26" width="12.11" height="12.13" fill="#dc1000"/>
<rect x="796.16" y="252.26" width="12.11" height="12.13" fill="#ffc000"/>
<rect x="807.68" y="252.26" width="31.62" height="12.13" fill="#dc1000"/>
<rect x="638.50" y="263.79" width="43.14" height="12.13" fill="#ffffa8"/>
<rect x="681.04" y="263.79" width="35.14" height="12.13" fill="#ffff20"/>
<rect x="715.58" y="263.79" width="23.62" height="12.13" fill="#ff9000"/>
<rect x="738.60" y="263.79" width="12.11" height="12.13" fill="#dc1000"/>
<rect x="750.11" y="263.79" width="12.11" height="12.13" fill="#ff9000"/>
<rect x="761.62" y="263.79" width="12.11" height="12.13" fill="#ffc000"/>
<rect x="773.14" y="263.79" width="12.11" height="12.13" fill="#ffff20"/>
<rect x="784.65" y="263.79" width="23.62" height="12.13" fill="#dc1000"/>
<rect x="807.68" y="263.79" width="31.62" height="12.13" fill="#ffc000"/>
<rect x="638.50" y="275.32" width="43.14" height="12.13" fill="#ffffa8"/>
<rect x="681.04" y="275.32" width="81.19" height="12.13" fill="#ffff20"/>
<rect x="761.62" y="275.32" width="35.14" height="12.13" fill="#ff9000"/>
<rect x="796.16" y="275.32" width="43.14" height="12.13" fill="#ffff20"/>
<rect x="638.50" y="286.86" width="20.11" height="12.13" fill="#ffff20"/>
<rect x="658.01" y="286.86" width="23.62" height="12.13" fill="#ffffa8"/>
<rect x="681.04" y="286.86" width="35.14" height="12.13" fill="#ffff20"/>
<rect x="715.58" y="286.86" width="12.11" height="12.13" fill="#ff9000"/>
<rect x="727.09" y="286.86" width="35.14" height="12.13" fill="#ffff20"/>
<rect x="761.62" y="286.86" width="12.11" height="12.13" fill="#dc1000"/>
<rect x="773.14" y="286.86" width="23.62" height="12.13" fill="#ff9000"/>
<rect x="796.16" y="286.86" width="43.14" height="12.13" fill="#ffff20"/>
<rect x="638.50" y="298.39" width="20.11" height="12.13" fill="#ff9000"/>
<rect x="658.01" y="298.39" width="12.11" height="12.13" fill="#ffc000"/>
<rect x="669.52" y="298.39" width="12.11" height="12.13" fill="#ffffa8"/>
<rect x="681.04" y="298.39" width="12.11" height="12.13" fill="#ffff20"/>
<rect x="692.55" y="298.39" width="23.63" height="12.13" fill="#ffc000"/>
<rect x="715.58" y="298.39" width="12.11" height="12.13" fill="#ffff20"/>
<rect x="727.09" y="298.39" width="12.11" height="12.13" fill="#140000"/>
<rect x="738.60" y="298.39" width="12.11" height="12.13" fill="#5a0000"/>
<rect x="750.11" y="298.39" width="23.62" height="12.13" fill="#dc1000"/>
<rect x="773.14" y="298.39" width="12.11" height="12.13" fill="#ff9000"/>
<rect x="784.65" y="298.39" width="54.65" height="12.13" fill="#ffff20"/>
<rect x="638.50" y="309.92" width="20.11" height="12.13" fill="#ffff20"/>
<rect x="658.01" y="309.92" width="12.11" height="12.13" fill="#ffc000"/>
<rect x="669.52" y="309.92" width="23.62" height="12.13" fill="#ffff20"/>
<rect x="692.55" y="309.92" width="35.14" height="12.13" fill="#ff9000"/>
<rect x="727.09" y="309.92" width="23.63" height="12.13" fill="#140000"/>
<rect x="750.11" y="309.92" width="12.11" height="12.13" fill="#5a0000"/>
<rect x="761.62" y="309.92" width="12.11" height="12.13" fill="#dc1000"/>
<rect x="773.14" y="309.92" width="12.11" height="12.13" fill="#ff9000"/>
<rect x="784.65" y="309.92" width="54.65" height="12.13" fill="#ffff20"/>
<rect x="638.50" y="321.45" width="43.14" height="12.13" fill="#ffff20"/>
<rect x="681.04" y="321.45" width="12.11" height="12.13" fill="#ffc000"/>
<rect x="692.55" y="321.45" width="23.63" height="12.13" fill="#ff9000"/>
<rect x="715.58" y="321.45" width="12.11" height="12.13" fill="#dc1000"/>
<rect x="727.09" y="321.45" width="12.11" height="12.13" fill="#5a0000"/>
<rect x="738.60" y="321.45" width="12.11" height="12.13" fill="#dc1000"/>
<rect x="750.11" y="321.45" width="35.14" height="12.13" fill="#ff9000"/>
<rect x="784.65" y="321.45" width="12.11" height="12.13" fill="#ffc000"/>
<rect x="796.16" y="321.45" width="43.14" height="12.13" fill="#ffff20"/>
<rect x="638.50" y="332.98" width="20.11" height="12.13" fill="#ffff20"/>
<rect x="658.01" y="332.98" width="23.62" height="12.13" fill="#ffc000"/>
<rect x="681.04" y="332.98" width="12.11" height="12.13" fill="#ffff20"/>
<rect x="692.55" y="332.98" width="23.63" height="12.13" fill="#dc1000"/>
<rect x="715.58" y="332.98" width="12.11" height="12.13" fill="#ff9000"/>
<rect x="727.09" y="332.98" width="23.63" height="12.13" fill="#dc1000"/>
<rect x="750.11" y="332.98" width="23.62" height="12.13" fill="#ff9000"/>
<rect x="773.14" y="332.98" width="12.11" height="12.13" fill="#ffc000"/>
<rect x="784.65" y="332.98" width="35.14" height="12.13" fill="#ffff20"/>
<rect x="819.19" y="332.98" width="20.11" height="12.13" fill="#ff9000"/>
<rect x="638.50" y="344.51" width="20.11" height="12.13" fill="#ffffa8"/>
<rect x="658.01" y="344.51" width="35.14" height="12.13" fill="#ffff20"/>
<rect x="692.55" y="344.51" width="12.11" height="12.13" fill="#ff9000"/>
<rect x="704.06" y="344.51" width="23.62" height="12.13" fill="#dc1000"/>
<rect x="727.09" y="344.51" width="35.14" height="12.13" fill="#ff9000"/>
<rect x="761.62" y="344.51" width="12.11" height="12.13" fill="#ffc000"/>
<rect x="773.14" y="344.51" width="12.11" height="12.13" fill="#ff9000"/>
<rect x="784.65" y="344.51" width="23.62" height="12.13" fill="#ffff20"/>
<rect x="807.68" y="344.51" width="31.62" height="12.13" fill="#ffffa8"/>
<rect x="638.50" y="356.04" width="20.11" height="12.13" fill="#ffffa8"/>
<rect x="658.01" y="356.04" width="12.11" height="12.13" fill="#ffff20"/>
<rect x="669.52" y="356.04" width="12.11" height="12.13" fill="#ffc000"/>
<rect x="681.04" y="356.04" width="12.11" height="12.13" fill="#ffff20"/>
<rect x="692.55" y="356.04" width="69.68" height="12.13" fill="#ff9000"/>
<rect x="761.62" y="356.04" width="35.14" height="12.13" fill="#ffff20"/>
<rect x="796.16" y="356.04" width="43.14" height="12.13" fill="#ffffa8"/>
<rect x="638.50" y="367.57" width="20.11" height="12.13" fill="#ffffa8"/>
<rect x="658.01" y="367.57" width="12.11" height="12.13" fill="#ffff20"/>
<rect x="669.52" y="367.57" width="12.11" height="12.13" fill="#ffc000"/>
<rect x="681.04" y="367.57" width="35.14" height="12.13" fill="#ffff20"/>
<rect x="715.58" y="367.57" width="23.62" height="12.13" fill="#ff9000"/>
<rect x="738.60" y="367.57" width="12.11" height="12.13" fill="#ffff20"/>
<rect x="750.11" y="367.57" width="12.11" height="12.13" fill="#ffc000"/>
<rect x="761.62" y="367.57" width="23.63" height="12.13" fill="#ffff20"/>
<rect x="784.65" y="367.57" width="23.62" height="12.13" fill="#ffffa8"/>
<rect x="807.68" y="367.57" width="31.62" height="12.13" fill="#ffff20"/>
<rect x="638.50" y="379.11" width="20.11" height="12.13" fill="#ffffa8"/>
<rect x="658.01" y="379.11" width="12.11" height="12.13" fill="#ffff20"/>
<rect x="669.52" y="379.11" width="12.11" height="12.13" fill="#ffc000"/>
<rect x="681.04" y="379.11" width="12.11" height="12.13" fill="#ff9000"/>
<rect x="692.55" y="379.11" width="23.63" height="12.13" fill="#ffff20"/>
<rect x="715.58" y="379.11" width="12.11" height="12.13" fill="#ffc000"/>
<rect x="727.09" y="379.11" width="35.14" height="12.13" fill="#ffff20"/>
<rect x="761.62" y="379.11" width="12.11" height="12.13" fill="#ffc000"/>
<rect x="773.14" y="379.11" width="46.65" height="12.13" fill="#ffff20"/>
<rect x="819.19" y="379.11" width="20.11" height="12.13" fill="#ff9000"/>
<rect x="638.50" y="390.64" width="20.11" height="12.13" fill="#ffffa8"/>
<rect x="658.01" y="390.64" width="12.11" height="12.13" fill="#ffff20"/>
<rect x="669.52" y="390.64" width="23.62" height="12.13" fill="#ffc000"/>
<rect x="692.55" y="390.64" width="12.11" height="12.13" fill="#ffff20"/>
<rect x="704.06" y="390.64" width="12.11" height="12.13" fill="#ffffa8"/>
<rect x="715.58" y="390.64" width="23.62" height="12.13" fill="#ffff20"/>
<rect x="738.60" y="390.64" width="12.11" height="12.13" fill="#ffc000"/>
<rect x="750.11" y="390.64" width="12.11" height="12.13" fill="#ff9000"/>
<rect x="761.62" y="390.64" width="77.68" height="12.13" fill="#ffff20"/>
<rect x="638.50" y="402.17" width="20.11" height="20.13" fill="#ffffa8"/>
<rect x="658.01" y="402.17" width="35.14" height="20.13" fill="#ffc000"/>
<rect x="692.55" y="402.17" width="12.11" height="20.13" fill="#ffff20"/>
<rect x="704.06" y="402.17" width="23.62" height="20.13" fill="#ffffa8"/>
<rect x="727.09" y="402.17" width="23.63" height="20.13" fill="#ffff20"/>
<rect x="750.11" y="402.17" width="12.11" height="20.13" fill="#ff9000"/>
<rect x="761.62" y="402.17" width="77.68" height="20.13" fill="#ffff20"/>
</g>
<g transform="translate(646.50,229.20)"><g filter="url(#bl2)"><ellipse cx="109.9" cy="84.6" rx="13.2" ry="4.8" fill="#b00000" transform="rotate(0 109.9 84.6)"/><ellipse cx="89.0" cy="87.5" rx="9.9" ry="9.9" fill="#300000" transform="rotate(0 89.0 87.5)"/><ellipse cx="87.9" cy="87.9" rx="6.2" ry="6.6" fill="#000000" transform="rotate(0 87.9 87.9)"/><ellipse cx="89.0" cy="103.3" rx="4.0" ry="7.7" fill="#c01000" transform="rotate(0 89.0 103.3)"/></g></g>
</g>
<line x1="646.5" x2="830.7" y1="249.4" y2="249.4" stroke="#000" stroke-width="1.1" opacity="0.5"/>
<line x1="646.5" x2="830.7" y1="283.3" y2="283.3" stroke="#000" stroke-width="1.1" opacity="0.5"/>
<line x1="646.5" x2="830.7" y1="316.7" y2="316.7" stroke="#000" stroke-width="1.1" opacity="0.5"/>
<line x1="646.5" x2="830.7" y1="350.5" y2="350.5" stroke="#000" stroke-width="1.1" opacity="0.5"/>
<line x1="646.5" x2="830.7" y1="384.0" y2="384.0" stroke="#000" stroke-width="1.1" opacity="0.5"/>
<line x1="695.6" x2="695.6" y1="229.2" y2="413.7" stroke="#000" stroke-width="1.1" opacity="0.5"/>
<line x1="774.5" x2="774.5" y1="229.2" y2="413.7" stroke="#000" stroke-width="1.1" opacity="0.5"/>
<path d="M646.5,242.7h2M830.7,242.7h-2M646.5,249.4h3.5M830.7,249.4h-3.5M646.5,256.1h2M830.7,256.1h-2M646.5,262.9h2M830.7,262.9h-2M646.5,269.6h2M830.7,269.6h-2M646.5,276.3h2M830.7,276.3h-2M646.5,283.0h3.5M830.7,283.0h-3.5M646.5,289.8h2M830.7,289.8h-2M646.5,296.5h2M830.7,296.5h-2M646.5,303.2h2M830.7,303.2h-2M646.5,310.0h2M830.7,310.0h-2M646.5,316.7h3.5M830.7,316.7h-3.5M646.5,323.4h2M830.7,323.4h-2M646.5,330.2h2M830.7,330.2h-2M646.5,336.9h2M830.7,336.9h-2M646.5,343.6h2M830.7,343.6h-2M646.5,350.3h3.5M830.7,350.3h-3.5M646.5,357.1h2M830.7,357.1h-2M646.5,363.8h2M830.7,363.8h-2M646.5,370.5h2M830.7,370.5h-2M646.5,377.3h2M830.7,377.3h-2M646.5,384.0h3.5M830.7,384.0h-3.5M646.5,390.7h2M830.7,390.7h-2M646.5,397.5h2M830.7,397.5h-2M646.5,404.2h2M830.7,404.2h-2M646.5,410.9h2M830.7,410.9h-2M656.1,413.7v-2M656.1,229.2v2M666.0,413.7v-2M666.0,229.2v2M675.9,413.7v-2M675.9,229.2v2M685.7,413.7v-2M685.7,229.2v2M695.6,413.7v-3.5M695.6,229.2v3.5M705.5,413.7v-2M705.5,229.2v2M715.3,413.7v-2M715.3,229.2v2M725.2,413.7v-2M725.2,229.2v2M735.1,413.7v-2M735.1,229.2v2M744.9,413.7v-2M744.9,229.2v2M754.8,413.7v-2M754.8,229.2v2M764.6,413.7v-2M764.6,229.2v2M774.5,413.7v-3.5M774.5,229.2v3.5M784.4,413.7v-2M784.4,229.2v2M794.2,413.7v-2M794.2,229.2v2M804.1,413.7v-2M804.1,229.2v2M814.0,413.7v-2M814.0,229.2v2M823.8,413.7v-2M823.8,229.2v2" stroke="#000" stroke-width="0.8" fill="none"/>
<rect x="654.5" y="241.2" width="18" height="15" fill="#fff"/>
<text x="664.0" y="252.8" font-family="'Liberation Serif','DejaVu Serif',serif" font-size="17" text-anchor="middle" fill="#111">g</text>
<rect x="647.0" y="410.0" width="35.2" height="4.2" fill="#fff"/>
<rect x="647.0" y="381.3" width="35.2" height="28.7" fill="#d9d9d9"/>
<text x="652.1" y="398.4" font-family="'Liberation Serif','DejaVu Serif',serif" font-size="16" fill="#222"><tspan>dT</tspan><tspan dy="4" font-size="10">3</tspan></text>
</g>
<rect x="646.5" y="229.2" width="184.2" height="184.5" fill="none" stroke="#000" stroke-width="1.6"/>
<rect x="835.3" y="229.2" width="7.4" height="184.5" fill="url(#ghot)" stroke="#000" stroke-width="1.4"/>
<line x1="835.3" x2="842.7" y1="238.4" y2="238.4" stroke="#000" stroke-width="0.9" opacity="0.8"/>
<text x="846.6" y="241.8" font-family="'DejaVu Sans','Liberation Sans',sans-serif" font-size="12.7" fill="#111">4.8</text>
<line x1="835.3" x2="842.7" y1="272.5" y2="272.5" stroke="#000" stroke-width="0.9" opacity="0.8"/>
<text x="846.6" y="275.9" font-family="'DejaVu Sans','Liberation Sans',sans-serif" font-size="12.7" fill="#111">4.4</text>
<line x1="835.3" x2="842.7" y1="306.0" y2="306.0" stroke="#000" stroke-width="0.9" opacity="0.8"/>
<text x="846.6" y="309.4" font-family="'DejaVu Sans','Liberation Sans',sans-serif" font-size="12.7" fill="#111">4.0</text>
<line x1="835.3" x2="842.7" y1="340.0" y2="340.0" stroke="#000" stroke-width="0.9" opacity="0.8"/>
<text x="846.6" y="343.4" font-family="'DejaVu Sans','Liberation Sans',sans-serif" font-size="12.7" fill="#111">3.6</text>
<line x1="835.3" x2="842.7" y1="373.0" y2="373.0" stroke="#000" stroke-width="0.9" opacity="0.8"/>
<text x="846.6" y="376.4" font-family="'DejaVu Sans','Liberation Sans',sans-serif" font-size="12.7" fill="#111">3.2</text>
<line x1="835.3" x2="842.7" y1="406.7" y2="406.7" stroke="#000" stroke-width="0.9" opacity="0.8"/>
<text x="846.6" y="410.1" font-family="'DejaVu Sans','Liberation Sans',sans-serif" font-size="12.7" fill="#111">2.8</text>
<text transform="translate(895.7,321.4) rotate(-90)" text-anchor="middle" font-family="'Liberation Serif','DejaVu Serif',serif" font-size="16.5" fill="#555"><tspan>dT</tspan><tspan baseline-shift="sub" font-size="70%">3</tspan><tspan> (K)</tspan></text>
<clipPath id="cph"><rect x="921.4" y="229.2" width="184.0" height="184.5"/></clipPath>
<g clip-path="url(#cph)">
<clipPath id="fph"><path clip-rule="evenodd" transform="translate(921.40,229.20)" d="M126.0,183.0 124.0,183.3 122.0,183.4 120.0,183.5 118.0,183.5 116.0,183.5 114.0,183.5 112.0,183.5 110.0,183.5 108.0,183.5 106.0,183.5 104.0,183.5 102.0,183.5 100.0,183.5 98.0,183.5 96.0,183.5 94.0,183.5 92.0,183.5 90.0,183.5 88.0,183.5 86.0,183.5 84.0,183.5 82.0,183.5 80.0,183.5 78.0,183.5 76.0,183.5 74.0,183.5 72.0,183.5 70.0,183.5 68.0,183.5 66.0,183.5 64.0,183.5 62.0,183.5 60.0,183.5 58.0,183.5 56.0,183.5 54.0,183.5 52.0,183.5 50.0,183.4 48.0,183.3 46.0,183.1 45.5,182.0 45.4,180.0 45.1,178.0 44.8,177.0 44.0,175.6 43.0,174.4 42.0,173.6 40.3,173.0 39.2,173.0 38.0,173.4 37.0,174.0 35.9,175.0 35.0,176.4 34.4,178.0 34.1,180.0 34.0,182.0 34.0,183.0 32.0,183.3 30.0,183.4 28.0,183.5 26.0,183.5 24.0,183.5 22.0,183.5 20.0,183.5 18.0,183.5 16.0,183.5 14.0,183.5 12.0,183.5 10.0,183.5 8.0,183.5 6.0,183.5 4.0,183.5 2.0,183.5 0.0,183.5 -0.5,182.0 -0.5,180.0 -0.5,178.0 -0.5,176.0 -0.5,174.0 -0.5,172.0 -0.5,170.0 -0.5,168.0 -0.5,166.0 -0.5,164.0 -0.5,162.0 -0.5,160.0 -0.5,158.0 -0.5,156.0 -0.4,154.0 -0.3,152.0 -0.1,150.0 0.0,149.0 2.0,149.0 4.0,148.8 6.0,148.3 7.0,147.8 8.1,147.0 9.0,146.0 10.0,144.0 10.1,143.0 9.9,142.0 9.0,140.5 8.0,139.4 7.0,138.7 5.4,138.0 4.0,137.7 2.0,137.5 0.0,137.5 -0.2,136.0 -0.4,134.0 -0.5,132.0 -0.5,130.0 -0.5,128.0 -0.5,126.0 -0.5,124.0 -0.5,122.0 -0.5,120.0 -0.5,118.0 -0.5,116.0 -0.5,114.0 -0.5,112.0 -0.5,110.0 -0.5,108.0 -0.5,106.0 -0.5,104.0 -0.5,102.0 -0.5,100.0 -0.5,98.0 -0.5,96.0 -0.5,94.0 -0.5,92.0 -0.5,90.0 -0.5,88.0 -0.5,86.0 -0.5,84.0 -0.5,82.0 -0.5,80.0 -0.5,78.0 -0.5,76.0 -0.5,74.0 -0.5,72.0 -0.5,70.0 -0.5,68.0 -0.5,66.0 -0.5,64.0 -0.5,62.0 -0.5,60.0 -0.5,58.0 -0.5,56.0 -0.5,54.0 -0.5,52.0 -0.4,50.0 -0.3,48.0 -0.1,46.0 1.0,45.5 3.0,45.5 5.0,45.5 7.0,45.5 9.0,45.5 11.0,45.5 13.0,45.5 15.0,45.4 17.0,45.0 18.0,44.6 19.0,44.0 20.2,43.0 21.0,42.0 22.0,40.6 22.9,39.0 23.6,38.0 24.4,37.0 25.3,36.0 26.6,35.0 28.0,34.1 29.0,33.6 30.0,32.9 31.2,32.0 32.1,31.0 33.0,29.9 34.0,28.3 34.8,27.0 35.5,26.0 36.3,25.0 37.5,24.0 39.0,23.2 40.0,22.9 42.0,22.6 44.0,22.5 46.0,22.5 48.0,22.5 50.0,22.3 51.4,22.0 53.0,21.3 54.0,20.6 55.0,19.6 56.0,18.1 56.5,17.0 56.9,15.0 57.0,13.0 57.0,11.0 57.0,9.0 57.0,7.0 57.0,5.0 57.0,3.0 57.0,1.0 58.0,-0.1 60.0,-0.3 62.0,-0.4 64.0,-0.5 66.0,-0.5 68.0,-0.5 70.0,-0.5 72.0,-0.5 74.0,-0.5 76.0,-0.5 78.0,-0.5 80.0,-0.5 82.0,-0.5 84.0,-0.5 86.0,-0.5 88.0,-0.5 90.0,-0.5 92.0,-0.5 94.0,-0.5 96.0,-0.5 98.0,-0.5 100.0,-0.5 102.0,-0.5 104.0,-0.5 106.0,-0.5 108.0,-0.5 110.0,-0.5 112.0,-0.5 114.0,-0.5 116.0,-0.5 118.0,-0.5 120.0,-0.5 122.0,-0.5 124.0,-0.5 126.0,-0.5 128.0,-0.5 130.0,-0.5 132.0,-0.5 134.0,-0.5 136.0,-0.5 138.0,-0.5 140.0,-0.5 142.0,-0.5 144.0,-0.5 146.0,-0.5 148.0,-0.5 150.0,-0.5 152.0,-0.5 154.0,-0.5 156.0,-0.4 158.0,-0.3 160.0,-0.1 160.5,1.0 160.6,3.0 160.9,5.0 161.2,6.0 162.0,7.5 163.0,8.7 164.0,9.5 165.0,10.2 166.2,11.0 167.9,12.0 169.0,12.9 170.0,13.9 170.8,15.0 171.3,16.0 171.8,18.0 172.0,20.0 172.0,22.0 172.0,24.0 172.0,26.0 172.0,28.0 172.0,30.0 172.0,32.0 172.0,34.0 172.0,36.0 172.0,38.0 172.0,40.0 172.0,42.0 172.0,44.0 172.0,46.0 172.0,48.0 172.2,50.0 172.7,52.0 173.2,53.0 174.0,54.1 175.0,55.1 176.4,56.0 178.0,56.6 180.0,56.9 182.0,57.0 183.0,57.0 183.3,59.0 183.4,61.0 183.5,63.0 183.5,65.0 183.5,67.0 183.5,69.0 183.5,71.0 183.5,73.0 183.5,75.0 183.5,77.0 183.5,79.0 183.5,81.0 183.5,83.0 183.5,85.0 183.5,87.0 183.5,89.0 183.5,91.0 183.5,93.0 183.5,95.0 183.5,97.0 183.5,99.0 183.5,101.0 183.5,103.0 183.5,105.0 183.5,107.0 183.5,109.0 183.4,111.0 183.2,113.0 183.0,114.5 181.0,114.5 179.0,114.5 177.0,114.5 175.0,114.5 173.0,114.5 171.0,114.5 169.0,114.5 167.0,114.8 166.0,115.0 164.0,116.0 163.0,116.9 162.1,118.0 161.6,119.0 161.5,121.0 162.0,122.3 163.0,123.6 164.0,124.5 165.0,125.2 166.3,126.0 167.9,127.0 169.0,127.9 170.0,128.8 170.9,130.0 171.6,131.0 172.1,132.0 173.0,133.4 174.0,134.7 175.0,135.6 176.0,136.3 177.6,137.0 179.0,137.3 181.0,137.5 183.0,137.5 183.2,139.0 183.4,141.0 183.5,143.0 183.5,145.0 183.5,147.0 183.5,149.0 183.5,151.0 183.5,153.0 183.5,155.0 183.4,157.0 183.2,159.0 183.0,160.5 181.0,160.5 179.0,160.7 177.6,161.0 176.0,161.7 175.0,162.4 174.0,163.3 173.0,164.6 172.1,166.0 171.6,167.0 170.9,168.0 170.0,169.2 169.0,170.1 167.6,171.0 166.0,171.6 164.0,171.9 162.0,172.0 160.0,172.0 158.0,172.0 156.0,172.0 154.0,172.0 152.0,172.0 150.0,172.0 148.0,172.0 146.0,172.0 144.0,172.0 142.0,172.0 140.0,172.0 138.0,172.0 136.0,172.0 134.0,172.1 132.0,172.4 130.4,173.0 129.0,173.9 128.0,174.9 127.2,176.0 126.7,177.0 126.2,179.0 126.0,181.0 126.0,183.0 126.0,183.0ZM137.2,14.6a4.6,4.6 0 1,0 9.2,0a4.6,4.6 0 1,0 -9.2,0Z"/></clipPath>
<g clip-path="url(#fph)"><g filter="url(#bl)">
<rect x="913.40" y="221.20" width="20.10" height="20.13" fill="#c8c030"/>
<rect x="932.90" y="221.20" width="35.10" height="20.13" fill="#a4a4b0"/>
<rect x="967.40" y="221.20" width="46.60" height="20.13" fill="#c8c030"/>
<rect x="1013.40" y="221.20" width="23.60" height="20.13" fill="#dcdc90"/>
<rect x="1036.40" y="221.20" width="77.60" height="20.13" fill="#c8c030"/>
<rect x="913.40" y="240.73" width="31.60" height="12.13" fill="#c8c030"/>
<rect x="944.40" y="240.73" width="23.60" height="12.13" fill="#a4a4b0"/>
<rect x="967.40" y="240.73" width="81.10" height="12.13" fill="#c8c030"/>
<rect x="1047.90" y="240.73" width="23.60" height="12.13" fill="#a4a4b0"/>
<rect x="1070.90" y="240.73" width="43.10" height="12.13" fill="#c8c030"/>
<rect x="913.40" y="252.26" width="20.10" height="12.13" fill="#7676ec"/>
<rect x="932.90" y="252.26" width="23.60" height="12.13" fill="#c8c030"/>
<rect x="955.90" y="252.26" width="12.10" height="12.13" fill="#a4a4b0"/>
<rect x="967.40" y="252.26" width="12.10" height="12.13" fill="#c8c030"/>
<rect x="978.90" y="252.26" width="12.10" height="12.13" fill="#a4a4b0"/>
<rect x="990.40" y="252.26" width="12.10" height="12.13" fill="#7676ec"/>
<rect x="1001.90" y="252.26" width="23.60" height="12.13" fill="#c8c030"/>
<rect x="1024.90" y="252.26" width="12.10" height="12.13" fill="#a4a4b0"/>
<rect x="1036.40" y="252.26" width="12.10" height="12.13" fill="#c8c030"/>
<rect x="1047.90" y="252.26" width="12.10" height="12.13" fill="#a4a4b0"/>
<rect x="1059.40" y="252.26" width="12.10" height="12.13" fill="#7676ec"/>
<rect x="1070.90" y="252.26" width="12.10" height="12.13" fill="#a4a4b0"/>
<rect x="1082.40" y="252.26" width="31.60" height="12.13" fill="#c8c030"/>
<rect x="913.40" y="263.79" width="20.10" height="12.13" fill="#7676ec"/>
<rect x="932.90" y="263.79" width="12.10" height="12.13" fill="#283070"/>
<rect x="944.40" y="263.79" width="35.10" height="12.13" fill="#c8c030"/>
<rect x="978.90" y="263.79" width="23.60" height="12.13" fill="#7676ec"/>
<rect x="1001.90" y="263.79" width="35.10" height="12.13" fill="#c8c030"/>
<rect x="1036.40" y="263.79" width="12.10" height="12.13" fill="#a4a4b0"/>
<rect x="1047.90" y="263.79" width="12.10" height="12.13" fill="#c8c030"/>
<rect x="1059.40" y="263.79" width="23.60" height="12.13" fill="#a4a4b0"/>
<rect x="1082.40" y="263.79" width="31.60" height="12.13" fill="#7676ec"/>
<rect x="913.40" y="275.32" width="20.10" height="12.13" fill="#7676ec"/>
<rect x="932.90" y="275.32" width="12.10" height="12.13" fill="#283070"/>
<rect x="944.40" y="275.32" width="12.10" height="12.13" fill="#802040"/>
<rect x="955.90" y="275.32" width="58.10" height="12.13" fill="#7676ec"/>
<rect x="1013.40" y="275.32" width="12.10" height="12.13" fill="#a4a4b0"/>
<rect x="1024.90" y="275.32" width="12.10" height="12.13" fill="#c8c030"/>
<rect x="1036.40" y="275.32" width="23.60" height="12.13" fill="#a4a4b0"/>
<rect x="1059.40" y="275.32" width="12.10" height="12.13" fill="#c8c030"/>
<rect x="1070.90" y="275.32" width="12.10" height="12.13" fill="#a4a4b0"/>
<rect x="1082.40" y="275.32" width="31.60" height="12.13" fill="#c8c030"/>
<rect x="913.40" y="286.86" width="31.60" height="12.13" fill="#c8c030"/>
<rect x="944.40" y="286.86" width="12.10" height="12.13" fill="#283070"/>
<rect x="955.90" y="286.86" width="23.60" height="12.13" fill="#7676ec"/>
<rect x="978.90" y="286.86" width="12.10" height="12.13" fill="#5656c4"/>
<rect x="990.40" y="286.86" width="23.60" height="12.13" fill="#7676ec"/>
<rect x="1013.40" y="286.86" width="35.10" height="12.13" fill="#c8c030"/>
<rect x="1047.90" y="286.86" width="12.10" height="12.13" fill="#a4a4b0"/>
<rect x="1059.40" y="286.86" width="12.10" height="12.13" fill="#c8c030"/>
<rect x="1070.90" y="286.86" width="12.10" height="12.13" fill="#a4a4b0"/>
<rect x="1082.40" y="286.86" width="31.60" height="12.13" fill="#7676ec"/>
<rect x="913.40" y="298.39" width="31.60" height="12.13" fill="#c8c030"/>
<rect x="944.40" y="298.39" width="12.10" height="12.13" fill="#a4a4b0"/>
<rect x="955.90" y="298.39" width="46.60" height="12.13" fill="#7676ec"/>
<rect x="1001.90" y="298.39" width="12.10" height="12.13" fill="#5656c4"/>
<rect x="1013.40" y="298.39" width="12.10" height="12.13" fill="#7676ec"/>
<rect x="1024.90" y="298.39" width="12.10" height="12.13" fill="#a4a4b0"/>
<rect x="1036.40" y="298.39" width="12.10" height="12.13" fill="#c8c030"/>
<rect x="1047.90" y="298.39" width="12.10" height="12.13" fill="#a4a4b0"/>
<rect x="1059.40" y="298.39" width="12.10" height="12.13" fill="#c8c030"/>
<rect x="1070.90" y="298.39" width="43.10" height="12.13" fill="#7676ec"/>
<rect x="913.40" y="309.92" width="31.60" height="12.13" fill="#c8c030"/>
<rect x="944.40" y="309.92" width="12.10" height="12.13" fill="#a4a4b0"/>
<rect x="955.90" y="309.92" width="35.10" height="12.13" fill="#7676ec"/>
<rect x="990.40" y="309.92" width="35.10" height="12.13" fill="#5656c4"/>
<rect x="1024.90" y="309.92" width="23.60" height="12.13" fill="#7676ec"/>
<rect x="1047.90" y="309.92" width="12.10" height="12.13" fill="#a4a4b0"/>
<rect x="1059.40" y="309.92" width="54.60" height="12.13" fill="#7676ec"/>
<rect x="913.40" y="321.45" width="31.60" height="12.13" fill="#a4a4b0"/>
<rect x="944.40" y="321.45" width="12.10" height="12.13" fill="#c8c030"/>
<rect x="955.90" y="321.45" width="158.10" height="12.13" fill="#7676ec"/>
<rect x="913.40" y="332.98" width="20.10" height="12.13" fill="#c8c030"/>
<rect x="932.90" y="332.98" width="12.10" height="12.13" fill="#a4a4b0"/>
<rect x="944.40" y="332.98" width="138.60" height="12.13" fill="#7676ec"/>
<rect x="1082.40" y="332.98" width="12.10" height="12.13" fill="#e01030"/>
<rect x="1093.90" y="332.98" width="20.10" height="12.13" fill="#7676ec"/>
<rect x="913.40" y="344.51" width="20.10" height="12.13" fill="#283070"/>
<rect x="932.90" y="344.51" width="35.10" height="12.13" fill="#7676ec"/>
<rect x="967.40" y="344.51" width="12.10" height="12.13" fill="#a4a4b0"/>
<rect x="978.90" y="344.51" width="135.10" height="12.13" fill="#7676ec"/>
<rect x="913.40" y="356.04" width="20.10" height="12.13" fill="#7676ec"/>
<rect x="932.90" y="356.04" width="12.10" height="12.13" fill="#5656c4"/>
<rect x="944.40" y="356.04" width="23.60" height="12.13" fill="#7676ec"/>
<rect x="967.40" y="356.04" width="12.10" height="12.13" fill="#a4a4b0"/>
<rect x="978.90" y="356.04" width="92.60" height="12.13" fill="#7676ec"/>
<rect x="1070.90" y="356.04" width="12.10" height="12.13" fill="#e01030"/>
<rect x="1082.40" y="356.04" width="31.60" height="12.13" fill="#200008"/>
<rect x="913.40" y="367.57" width="54.60" height="12.13" fill="#7676ec"/>
<rect x="967.40" y="367.57" width="12.10" height="12.13" fill="#a4a4b0"/>
<rect x="978.90" y="367.57" width="81.10" height="12.13" fill="#7676ec"/>
<rect x="1059.40" y="367.57" width="12.10" height="12.13" fill="#e01030"/>
<rect x="1070.90" y="367.57" width="12.10" height="12.13" fill="#283070"/>
<rect x="1082.40" y="367.57" width="31.60" height="12.13" fill="#e01030"/>
<rect x="913.40" y="379.11" width="89.10" height="12.13" fill="#7676ec"/>
<rect x="1001.90" y="379.11" width="23.60" height="12.13" fill="#200008"/>
<rect x="1024.90" y="379.11" width="46.60" height="12.13" fill="#7676ec"/>
<rect x="1070.90" y="379.11" width="23.60" height="12.13" fill="#e01030"/>
<rect x="1093.90" y="379.11" width="20.10" height="12.13" fill="#7676ec"/>
<rect x="913.40" y="390.64" width="66.10" height="12.13" fill="#7676ec"/>
<rect x="978.90" y="390.64" width="12.10" height="12.13" fill="#e01030"/>
<rect x="990.40" y="390.64" width="12.10" height="12.13" fill="#7676ec"/>
<rect x="1001.90" y="390.64" width="12.10" height="12.13" fill="#283070"/>
<rect x="1013.40" y="390.64" width="12.10" height="12.13" fill="#e01030"/>
<rect x="1024.90" y="390.64" width="23.60" height="12.13" fill="#c8c030"/>
<rect x="1047.90" y="390.64" width="23.60" height="12.13" fill="#7676ec"/>
<rect x="1070.90" y="390.64" width="43.10" height="12.13" fill="#e01030"/>
<rect x="913.40" y="402.17" width="100.60" height="20.13" fill="#7676ec"/>
<rect x="1013.40" y="402.17" width="12.10" height="20.13" fill="#e01030"/>
<rect x="1024.90" y="402.17" width="46.60" height="20.13" fill="#7676ec"/>
<rect x="1070.90" y="402.17" width="43.10" height="20.13" fill="#e01030"/>
</g>
<g fill="#100008" filter="url(#bl2)"><circle cx="1088.2" cy="361.8" r="3.5"/><circle cx="1007.7" cy="384.9" r="3.5"/><circle cx="1019.2" cy="384.9" r="3.5"/></g>
<path transform="translate(921.40,229.20)" d="M184.0,127.7 182.0,127.7 180.0,127.7 178.0,127.7 176.0,127.7 174.0,127.7 172.0,127.7 170.0,127.7 168.0,127.7 166.0,127.7 164.0,127.8 162.6,128.0 161.0,128.4 159.0,129.0 158.0,129.3 156.0,129.9 155.0,130.2 153.9,131.0 153.8,133.0 154.7,134.0 156.0,134.5 157.0,135.0 158.7,136.0 160.0,137.0 161.0,138.0 161.8,139.0 162.5,140.0 163.0,141.1 163.5,143.0 163.5,145.0 163.1,147.0 162.7,148.0 162.0,149.0 161.0,150.0 159.2,151.0 158.0,151.4 156.0,151.7 154.9,152.0 153.7,153.0 153.1,155.0 153.0,157.0 153.0,159.0 153.0,161.0 153.0,163.0 153.0,165.0 153.0,167.0 153.0,169.0 153.0,171.0 153.0,173.0 153.0,175.0 153.0,177.0 153.0,179.0 153.0,181.0 153.0,183.0 153.0,184.0M184.0,165.0 182.0,165.0 180.0,165.0 178.3,165.0 177.0,165.0 175.0,164.9 173.0,164.6 171.5,164.0 170.0,163.1 169.0,162.1 168.2,161.0 167.8,160.0 167.2,158.0 167.1,156.0 167.0,154.0 167.1,152.0 167.4,150.0 168.0,148.5 168.9,147.0 169.9,146.0 171.0,145.2 172.0,144.8 174.0,144.3 176.0,144.1 178.0,144.0 180.0,144.0 182.0,144.0 184.0,144.0M97.3,184.0 97.3,182.0 97.3,180.0 97.3,178.0 97.3,176.0 97.2,174.0 97.1,172.0 97.0,170.0 97.0,168.0 97.1,166.0 97.5,164.0 98.0,163.0 98.8,161.0 99.2,160.0 99.8,158.0 100.0,157.0 100.2,155.0 100.0,153.5 99.3,152.0 98.0,151.1 97.0,150.9 95.0,150.7 93.0,150.7 91.0,150.7 89.0,150.7 87.0,150.7 85.0,150.9 84.0,151.1 82.7,152.0 82.0,153.6 81.9,155.0 82.0,156.4 82.6,158.0 83.6,159.0 85.0,159.7 87.0,160.0 88.0,160.1 90.0,160.6 91.0,161.1 92.3,162.0 93.3,163.0 94.0,164.2 94.8,166.0 95.0,167.4 95.5,169.0 95.9,171.0 96.1,172.0 96.6,174.0 96.7,176.0 96.7,178.0 96.7,180.0 96.7,182.0 96.7,184.0" fill="none" stroke="#10103a" stroke-width="1.7" stroke-linejoin="round"/>
</g>
<line x1="921.4" x2="1105.4" y1="249.4" y2="249.4" stroke="#000" stroke-width="1.1" opacity="0.5"/>
<line x1="921.4" x2="1105.4" y1="283.3" y2="283.3" stroke="#000" stroke-width="1.1" opacity="0.5"/>
<line x1="921.4" x2="1105.4" y1="316.7" y2="316.7" stroke="#000" stroke-width="1.1" opacity="0.5"/>
<line x1="921.4" x2="1105.4" y1="350.5" y2="350.5" stroke="#000" stroke-width="1.1" opacity="0.5"/>
<line x1="921.4" x2="1105.4" y1="384.0" y2="384.0" stroke="#000" stroke-width="1.1" opacity="0.5"/>
<line x1="970.5" x2="970.5" y1="229.2" y2="413.7" stroke="#000" stroke-width="1.1" opacity="0.5"/>
<line x1="1049.4" x2="1049.4" y1="229.2" y2="413.7" stroke="#000" stroke-width="1.1" opacity="0.5"/>
<path d="M921.4,242.7h2M1105.4,242.7h-2M921.4,249.4h3.5M1105.4,249.4h-3.5M921.4,256.1h2M1105.4,256.1h-2M921.4,262.9h2M1105.4,262.9h-2M921.4,269.6h2M1105.4,269.6h-2M921.4,276.3h2M1105.4,276.3h-2M921.4,283.0h3.5M1105.4,283.0h-3.5M921.4,289.8h2M1105.4,289.8h-2M921.4,296.5h2M1105.4,296.5h-2M921.4,303.2h2M1105.4,303.2h-2M921.4,310.0h2M1105.4,310.0h-2M921.4,316.7h3.5M1105.4,316.7h-3.5M921.4,323.4h2M1105.4,323.4h-2M921.4,330.2h2M1105.4,330.2h-2M921.4,336.9h2M1105.4,336.9h-2M921.4,343.6h2M1105.4,343.6h-2M921.4,350.3h3.5M1105.4,350.3h-3.5M921.4,357.1h2M1105.4,357.1h-2M921.4,363.8h2M1105.4,363.8h-2M921.4,370.5h2M1105.4,370.5h-2M921.4,377.3h2M1105.4,377.3h-2M921.4,384.0h3.5M1105.4,384.0h-3.5M921.4,390.7h2M1105.4,390.7h-2M921.4,397.5h2M1105.4,397.5h-2M921.4,404.2h2M1105.4,404.2h-2M921.4,410.9h2M1105.4,410.9h-2M931.0,413.7v-2M931.0,229.2v2M940.9,413.7v-2M940.9,229.2v2M950.8,413.7v-2M950.8,229.2v2M960.6,413.7v-2M960.6,229.2v2M970.5,413.7v-3.5M970.5,229.2v3.5M980.4,413.7v-2M980.4,229.2v2M990.2,413.7v-2M990.2,229.2v2M1000.1,413.7v-2M1000.1,229.2v2M1010.0,413.7v-2M1010.0,229.2v2M1019.8,413.7v-2M1019.8,229.2v2M1029.7,413.7v-2M1029.7,229.2v2M1039.5,413.7v-2M1039.5,229.2v2M1049.4,413.7v-3.5M1049.4,229.2v3.5M1059.3,413.7v-2M1059.3,229.2v2M1069.1,413.7v-2M1069.1,229.2v2M1079.0,413.7v-2M1079.0,229.2v2M1088.8,413.7v-2M1088.8,229.2v2M1098.7,413.7v-2M1098.7,229.2v2" stroke="#000" stroke-width="0.8" fill="none"/>
<rect x="929.4" y="241.2" width="18" height="15" fill="#fff"/>
<text x="938.9" y="252.8" font-family="'Liberation Serif','DejaVu Serif',serif" font-size="17" text-anchor="middle" fill="#111">h</text>
<rect x="922.0" y="410.0" width="32.6" height="4.2" fill="#fff"/>
<rect x="922.0" y="381.0" width="32.6" height="29" fill="#d9d9d9"/>
<text x="927.0" y="398.4" font-family="'Liberation Serif','DejaVu Serif',serif" font-size="16" fill="#222"><tspan>d</tspan><tspan font-style="italic">β</tspan><tspan dy="4" font-size="10">3</tspan></text>
</g>
<rect x="921.4" y="229.2" width="184.0" height="184.5" fill="none" stroke="#000" stroke-width="1.6"/>
<rect x="1110.7" y="229.2" width="6.7" height="184.5" fill="url(#gbeta)" stroke="#000" stroke-width="1.4"/>
<line x1="1110.7" x2="1117.4" y1="269.4" y2="269.4" stroke="#000" stroke-width="0.9" opacity="0.8"/>
<text x="1121.3" y="272.8" font-family="'DejaVu Sans','Liberation Sans',sans-serif" font-size="12.7" fill="#111">0.39</text>
<line x1="1110.7" x2="1117.4" y1="314.2" y2="314.2" stroke="#000" stroke-width="0.9" opacity="0.8"/>
<text x="1121.3" y="317.6" font-family="'DejaVu Sans','Liberation Sans',sans-serif" font-size="12.7" fill="#111">0.38</text>
<line x1="1110.7" x2="1117.4" y1="358.9" y2="358.9" stroke="#000" stroke-width="0.9" opacity="0.8"/>
<text x="1121.3" y="362.3" font-family="'DejaVu Sans','Liberation Sans',sans-serif" font-size="12.7" fill="#111">0.37</text>
<line x1="1110.7" x2="1117.4" y1="403.7" y2="403.7" stroke="#000" stroke-width="0.9" opacity="0.8"/>
<text x="1121.3" y="407.1" font-family="'DejaVu Sans','Liberation Sans',sans-serif" font-size="12.7" fill="#111">0.36</text>
<text transform="translate(1170.4,321.4) rotate(-90)" text-anchor="middle" font-family="'Liberation Serif','DejaVu Serif',serif" font-size="16.5" fill="#555"><tspan>d</tspan><tspan font-style="italic">β</tspan><tspan baseline-shift="sub" font-size="70%">3</tspan></text>
<clipPath id="cpi"><rect x="96.4" y="413.7" width="183.0" height="184.2"/></clipPath>
<g clip-path="url(#cpi)">
<clipPath id="fpi"><path clip-rule="evenodd" transform="translate(96.40,413.70)" d="M62.3,48.5 C64.8,47.2 72.7,47.4 75.4,46.9 C78.1,46.3 76.1,45.5 78.7,45.3 C81.3,45.0 88.8,44.6 91.0,45.3 C93.2,45.9 90.6,48.8 91.8,49.3 C93.0,49.9 94.5,48.7 98.4,48.5 C102.2,48.4 111.5,47.7 114.8,48.5 C118.0,49.3 116.4,51.5 118.0,53.4 C119.7,55.4 122.4,58.6 124.6,60.0 C126.8,61.4 128.7,60.8 131.1,61.6 C133.6,62.5 137.2,63.6 139.3,64.9 C141.5,66.3 143.7,67.7 144.3,69.8 C144.8,72.0 143.4,75.6 142.6,78.0 C141.8,80.5 140.2,83.0 139.3,84.6 C138.5,86.2 137.6,86.0 137.7,87.9 C137.8,89.8 139.9,93.1 140.2,96.1 C140.4,99.1 140.0,102.9 139.3,105.9 C138.7,108.9 137.2,111.9 136.1,114.1 C135.0,116.3 133.9,117.4 132.8,119.0 C131.7,120.7 130.3,122.0 129.5,123.9 C128.7,125.9 128.7,128.9 127.9,130.5 C127.0,132.1 125.7,131.6 124.6,133.8 C123.5,136.0 123.0,141.4 121.3,143.6 C119.7,145.8 116.4,146.9 114.8,146.9 C113.1,146.9 114.2,144.4 111.5,143.6 C108.7,142.8 101.6,142.2 98.4,142.0 C95.1,141.7 94.5,142.2 91.8,142.0 C89.1,141.7 85.2,141.4 82.0,140.3 C78.7,139.2 75.4,136.2 72.1,135.4 C68.9,134.6 64.2,136.8 62.3,135.4 C60.4,134.0 61.7,130.0 60.7,127.2 C59.6,124.5 57.4,121.2 55.7,119.0 C54.1,116.8 52.5,116.6 50.8,114.1 C49.2,111.6 47.1,107.3 45.9,104.3 C44.7,101.3 43.7,98.8 43.4,96.1 C43.2,93.3 43.6,90.1 44.3,87.9 C44.9,85.7 46.7,84.6 47.5,83.0 C48.4,81.3 49.0,80.2 49.2,78.0 C49.3,75.9 48.4,72.6 48.4,69.8 C48.4,67.1 48.0,63.7 49.2,61.6 C50.4,59.6 53.8,58.6 55.7,57.5 C57.7,56.5 59.6,56.6 60.7,55.1 C61.7,53.6 59.8,49.9 62.3,48.5Z"/></clipPath>
<g clip-path="url(#fpi)"><g filter="url(#bl)">
<rect x="88.40" y="405.70" width="199.60" height="23.95" fill="#ffc000"/>
<rect x="88.40" y="429.05" width="199.60" height="15.95" fill="#ffc000"/>
<rect x="88.40" y="444.40" width="199.60" height="15.95" fill="#ffc000"/>
<rect x="88.40" y="459.75" width="199.60" height="15.95" fill="#ffc000"/>
<rect x="88.40" y="475.10" width="199.60" height="15.95" fill="#ffc000"/>
<rect x="88.40" y="490.45" width="199.60" height="15.95" fill="#ffc000"/>
<rect x="88.40" y="505.80" width="199.60" height="15.95" fill="#ffc000"/>
<rect x="88.40" y="521.15" width="199.60" height="15.95" fill="#ffc000"/>
<rect x="88.40" y="536.50" width="199.60" height="15.95" fill="#ffc000"/>
<rect x="88.40" y="551.85" width="199.60" height="15.95" fill="#ffc000"/>
<rect x="88.40" y="567.20" width="199.60" height="15.95" fill="#ffc000"/>
<rect x="88.40" y="582.55" width="199.60" height="23.95" fill="#ffc000"/>
</g>
<g transform="translate(96.40,413.70)"><g filter="url(#bl)"><ellipse cx="84.4" cy="48.5" rx="12.3" ry="6.6" fill="#f04010"/><ellipse cx="55.7" cy="67.4" rx="12.3" ry="9.0" fill="#f03a10"/><ellipse cx="132.8" cy="71.5" rx="13.1" ry="15.6" fill="#f86a10"/><ellipse cx="141.0" cy="68.2" rx="6.6" ry="8.2" fill="#f04810"/><ellipse cx="109.8" cy="87.1" rx="13.1" ry="7.4" fill="#e84010"/><ellipse cx="86.9" cy="115.7" rx="8.2" ry="15.6" fill="#f04010"/><ellipse cx="60.7" cy="94.4" rx="9.8" ry="6.6" fill="#ff8000"/><ellipse cx="59.0" cy="79.7" rx="7.4" ry="4.6" fill="#ffffb0"/><ellipse cx="101.6" cy="64.1" rx="14.8" ry="9.0" fill="#ffff90"/><ellipse cx="72.1" cy="63.3" rx="8.2" ry="6.6" fill="#ffff50"/><ellipse cx="98.4" cy="122.3" rx="11.5" ry="8.2" fill="#fff040"/><ellipse cx="68.9" cy="101.0" rx="7.4" ry="5.7" fill="#fff040"/><ellipse cx="114.8" cy="107.5" rx="9.8" ry="6.6" fill="#ffa000"/><ellipse cx="68.9" cy="128.9" rx="7.4" ry="5.7" fill="#ff9000"/><ellipse cx="104.9" cy="137.1" rx="8.2" ry="4.9" fill="#ffb000"/><ellipse cx="126.2" cy="120.7" rx="5.7" ry="5.7" fill="#ff9000"/><ellipse cx="49.2" cy="101.0" rx="5.7" ry="7.4" fill="#ffff60"/></g><g filter="url(#bl2)"><path d="M77.0,83.0 C77.5,81.2 78.7,79.8 80.3,78.9 C82.0,77.9 83.9,77.4 86.9,77.2 C89.9,77.1 95.1,77.6 98.4,78.0 C101.6,78.4 104.1,79.0 106.6,79.7 C109.0,80.4 111.6,81.2 113.1,82.1 C114.6,83.1 115.6,84.3 115.6,85.4 C115.6,86.5 114.9,87.9 113.1,88.7 C111.3,89.5 107.4,89.8 104.9,90.3 C102.5,90.9 100.1,91.0 98.4,92.0 C96.6,92.9 95.4,94.6 94.3,96.1 C93.2,97.6 92.6,99.9 91.8,101.0 C91.0,102.1 90.4,102.9 89.3,102.6 C88.3,102.4 86.6,100.7 85.2,99.3 C83.9,98.0 82.4,96.1 81.1,94.4 C79.9,92.8 78.6,91.4 77.9,89.5 C77.2,87.6 76.6,84.7 77.0,83.0Z" fill="#8a0000"/><ellipse cx="84.9" cy="87.1" rx="5.6" ry="5.6" fill="#120000"/></g></g>
</g>
<line x1="96.4" x2="279.4" y1="433.9" y2="433.9" stroke="#000" stroke-width="1.1" opacity="0.5"/>
<line x1="96.4" x2="279.4" y1="467.8" y2="467.8" stroke="#000" stroke-width="1.1" opacity="0.5"/>
<line x1="96.4" x2="279.4" y1="501.2" y2="501.2" stroke="#000" stroke-width="1.1" opacity="0.5"/>
<line x1="96.4" x2="279.4" y1="535.0" y2="535.0" stroke="#000" stroke-width="1.1" opacity="0.5"/>
<line x1="96.4" x2="279.4" y1="568.5" y2="568.5" stroke="#000" stroke-width="1.1" opacity="0.5"/>
<line x1="145.5" x2="145.5" y1="413.7" y2="597.9" stroke="#000" stroke-width="1.1" opacity="0.5"/>
<line x1="224.4" x2="224.4" y1="413.7" y2="597.9" stroke="#000" stroke-width="1.1" opacity="0.5"/>
<g transform="translate(96.40,413.70)" fill="none" stroke="#000" stroke-width="1.5" stroke-linejoin="round"><path d="M77.0,83.0 C77.5,81.2 78.7,79.8 80.3,78.9 C82.0,77.9 83.9,77.4 86.9,77.2 C89.9,77.1 95.1,77.6 98.4,78.0 C101.6,78.4 104.1,79.0 106.6,79.7 C109.0,80.4 111.6,81.2 113.1,82.1 C114.6,83.1 115.6,84.3 115.6,85.4 C115.6,86.5 114.9,87.9 113.1,88.7 C111.3,89.5 107.4,89.8 104.9,90.3 C102.5,90.9 100.1,91.0 98.4,92.0 C96.6,92.9 95.4,94.6 94.3,96.1 C93.2,97.6 92.6,99.9 91.8,101.0 C91.0,102.1 90.4,102.9 89.3,102.6 C88.3,102.4 86.6,100.7 85.2,99.3 C83.9,98.0 82.4,96.1 81.1,94.4 C79.9,92.8 78.6,91.4 77.9,89.5 C77.2,87.6 76.6,84.7 77.0,83.0Z"/></g>
<path d="M96.4,427.2h2M279.4,427.2h-2M96.4,433.9h3.5M279.4,433.9h-3.5M96.4,440.6h2M279.4,440.6h-2M96.4,447.4h2M279.4,447.4h-2M96.4,454.1h2M279.4,454.1h-2M96.4,460.8h2M279.4,460.8h-2M96.4,467.5h3.5M279.4,467.5h-3.5M96.4,474.3h2M279.4,474.3h-2M96.4,481.0h2M279.4,481.0h-2M96.4,487.7h2M279.4,487.7h-2M96.4,494.5h2M279.4,494.5h-2M96.4,501.2h3.5M279.4,501.2h-3.5M96.4,507.9h2M279.4,507.9h-2M96.4,514.7h2M279.4,514.7h-2M96.4,521.4h2M279.4,521.4h-2M96.4,528.1h2M279.4,528.1h-2M96.4,534.9h3.5M279.4,534.9h-3.5M96.4,541.6h2M279.4,541.6h-2M96.4,548.3h2M279.4,548.3h-2M96.4,555.0h2M279.4,555.0h-2M96.4,561.8h2M279.4,561.8h-2M96.4,568.5h3.5M279.4,568.5h-3.5M96.4,575.2h2M279.4,575.2h-2M96.4,582.0h2M279.4,582.0h-2M96.4,588.7h2M279.4,588.7h-2M96.4,595.4h2M279.4,595.4h-2M106.0,597.9v-2M106.0,413.7v2M115.9,597.9v-2M115.9,413.7v2M125.8,597.9v-2M125.8,413.7v2M135.6,597.9v-2M135.6,413.7v2M145.5,597.9v-3.5M145.5,413.7v3.5M155.4,597.9v-2M155.4,413.7v2M165.2,597.9v-2M165.2,413.7v2M175.1,597.9v-2M175.1,413.7v2M184.9,597.9v-2M184.9,413.7v2M194.8,597.9v-2M194.8,413.7v2M204.7,597.9v-2M204.7,413.7v2M214.5,597.9v-2M214.5,413.7v2M224.4,597.9v-3.5M224.4,413.7v3.5M234.3,597.9v-2M234.3,413.7v2M244.1,597.9v-2M244.1,413.7v2M254.0,597.9v-2M254.0,413.7v2M263.9,597.9v-2M263.9,413.7v2M273.7,597.9v-2M273.7,413.7v2" stroke="#000" stroke-width="0.8" fill="none"/>
<rect x="104.4" y="425.7" width="18" height="15" fill="#fff"/>
<text x="113.9" y="437.3" font-family="'Liberation Serif','DejaVu Serif',serif" font-size="17" text-anchor="middle" fill="#111">i</text>
<rect x="97.4" y="594.4" width="25.5" height="4.0" fill="#fff"/>
<rect x="97.4" y="566.9" width="25.5" height="27.5" fill="#d9d9d9"/>
<text x="102.0" y="582.6" font-family="'Liberation Serif','DejaVu Serif',serif" font-size="16" fill="#222"><tspan font-weight="bold">T</tspan><tspan dy="4" font-size="10">4</tspan></text>
</g>
<rect x="96.4" y="413.7" width="183.0" height="184.2" fill="none" stroke="#000" stroke-width="1.6"/>
<rect x="286.4" y="413.7" width="7.1" height="184.2" fill="url(#ghot)" stroke="#000" stroke-width="1.4"/>
<line x1="286.4" x2="293.5" y1="431.6" y2="431.6" stroke="#000" stroke-width="0.9" opacity="0.8"/>
<text x="297.4" y="435.0" font-family="'DejaVu Sans','Liberation Sans',sans-serif" font-size="12.7" fill="#111">23</text>
<line x1="286.4" x2="293.5" y1="462.7" y2="462.7" stroke="#000" stroke-width="0.9" opacity="0.8"/>
<text x="297.4" y="466.1" font-family="'DejaVu Sans','Liberation Sans',sans-serif" font-size="12.7" fill="#111">22</text>
<line x1="286.4" x2="293.5" y1="494.8" y2="494.8" stroke="#000" stroke-width="0.9" opacity="0.8"/>
<text x="297.4" y="498.2" font-family="'DejaVu Sans','Liberation Sans',sans-serif" font-size="12.7" fill="#111">21</text>
<line x1="286.4" x2="293.5" y1="526.0" y2="526.0" stroke="#000" stroke-width="0.9" opacity="0.8"/>
<text x="297.4" y="529.4" font-family="'DejaVu Sans','Liberation Sans',sans-serif" font-size="12.7" fill="#111">20</text>
<line x1="286.4" x2="293.5" y1="557.5" y2="557.5" stroke="#000" stroke-width="0.9" opacity="0.8"/>
<text x="297.4" y="560.9" font-family="'DejaVu Sans','Liberation Sans',sans-serif" font-size="12.7" fill="#111">19</text>
<line x1="286.4" x2="293.5" y1="588.6" y2="588.6" stroke="#000" stroke-width="0.9" opacity="0.8"/>
<text x="297.4" y="592.0" font-family="'DejaVu Sans','Liberation Sans',sans-serif" font-size="12.7" fill="#111">18</text>
<text transform="translate(346.5,505.8) rotate(-90)" text-anchor="middle" font-family="'Liberation Serif','DejaVu Serif',serif" font-size="16.5" fill="#555"><tspan>T</tspan><tspan baseline-shift="sub" font-size="70%">4</tspan><tspan> (K)</tspan></text>
<clipPath id="cpj"><rect x="371.3" y="413.7" width="184.0" height="184.2"/></clipPath>
<g clip-path="url(#cpj)">
<clipPath id="fpj"><path clip-rule="evenodd" transform="translate(371.30,413.70)" d="M62.3,48.5 C64.8,47.2 72.7,47.4 75.4,46.9 C78.1,46.3 76.1,45.5 78.7,45.3 C81.3,45.0 88.8,44.6 91.0,45.3 C93.2,45.9 90.6,48.8 91.8,49.3 C93.0,49.9 94.5,48.7 98.4,48.5 C102.2,48.4 111.5,47.7 114.8,48.5 C118.0,49.3 116.4,51.5 118.0,53.4 C119.7,55.4 122.4,58.6 124.6,60.0 C126.8,61.4 128.7,60.8 131.1,61.6 C133.6,62.5 137.2,63.6 139.3,64.9 C141.5,66.3 143.7,67.7 144.3,69.8 C144.8,72.0 143.4,75.6 142.6,78.0 C141.8,80.5 140.2,83.0 139.3,84.6 C138.5,86.2 137.6,86.0 137.7,87.9 C137.8,89.8 139.9,93.1 140.2,96.1 C140.4,99.1 140.0,102.9 139.3,105.9 C138.7,108.9 137.2,111.9 136.1,114.1 C135.0,116.3 133.9,117.4 132.8,119.0 C131.7,120.7 130.3,122.0 129.5,123.9 C128.7,125.9 128.7,128.9 127.9,130.5 C127.0,132.1 125.7,131.6 124.6,133.8 C123.5,136.0 123.0,141.4 121.3,143.6 C119.7,145.8 116.4,146.9 114.8,146.9 C113.1,146.9 114.2,144.4 111.5,143.6 C108.7,142.8 101.6,142.2 98.4,142.0 C95.1,141.7 94.5,142.2 91.8,142.0 C89.1,141.7 85.2,141.4 82.0,140.3 C78.7,139.2 75.4,136.2 72.1,135.4 C68.9,134.6 64.2,136.8 62.3,135.4 C60.4,134.0 61.7,130.0 60.7,127.2 C59.6,124.5 57.4,121.2 55.7,119.0 C54.1,116.8 52.5,116.6 50.8,114.1 C49.2,111.6 47.1,107.3 45.9,104.3 C44.7,101.3 43.7,98.8 43.4,96.1 C43.2,93.3 43.6,90.1 44.3,87.9 C44.9,85.7 46.7,84.6 47.5,83.0 C48.4,81.3 49.0,80.2 49.2,78.0 C49.3,75.9 48.4,72.6 48.4,69.8 C48.4,67.1 48.0,63.7 49.2,61.6 C50.4,59.6 53.8,58.6 55.7,57.5 C57.7,56.5 59.6,56.6 60.7,55.1 C61.7,53.6 59.8,49.9 62.3,48.5Z"/></clipPath>
<g clip-path="url(#fpj)"><g filter="url(#bl)">
<rect x="363.30" y="405.70" width="200.60" height="23.95" fill="#7676ec"/>
<rect x="363.30" y="429.05" width="200.60" height="15.95" fill="#7676ec"/>
<rect x="363.30" y="444.40" width="200.60" height="15.95" fill="#7676ec"/>
<rect x="363.30" y="459.75" width="200.60" height="15.95" fill="#7676ec"/>
<rect x="363.30" y="475.10" width="200.60" height="15.95" fill="#7676ec"/>
<rect x="363.30" y="490.45" width="200.60" height="15.95" fill="#7676ec"/>
<rect x="363.30" y="505.80" width="200.60" height="15.95" fill="#7676ec"/>
<rect x="363.30" y="521.15" width="200.60" height="15.95" fill="#7676ec"/>
<rect x="363.30" y="536.50" width="200.60" height="15.95" fill="#7676ec"/>
<rect x="363.30" y="551.85" width="200.60" height="15.95" fill="#7676ec"/>
<rect x="363.30" y="567.20" width="200.60" height="15.95" fill="#7676ec"/>
<rect x="363.30" y="582.55" width="200.60" height="23.95" fill="#7676ec"/>
</g>
<g transform="translate(371.30,413.70)"><g filter="url(#bl2)"><ellipse cx="68.9" cy="53.4" rx="7.4" ry="4.9" fill="#5050b8"/><ellipse cx="132.8" cy="104.3" rx="6.6" ry="5.7" fill="#5555c0"/><ellipse cx="75.4" cy="130.5" rx="7.4" ry="3.6" fill="#5a5ac4"/><ellipse cx="101.6" cy="114.1" rx="8.2" ry="6.6" fill="#6262d4"/><ellipse cx="103.3" cy="65.3" rx="8.2" ry="5.2" fill="#c02848"/><ellipse cx="64.3" cy="80.5" rx="4.9" ry="3.6" fill="#803060"/><ellipse cx="88.5" cy="137.1" rx="4.1" ry="3.6" fill="#a02848"/><ellipse cx="47.5" cy="99.3" rx="4.1" ry="4.1" fill="#7a3a70"/><path d="M49.2,61.6 C50.7,59.9 54.6,59.8 57.4,59.2 C60.1,58.6 63.1,58.6 65.6,58.0 C68.0,57.5 70.2,56.9 72.1,55.9 C74.0,54.9 76.0,53.3 77.0,51.8 C78.1,50.3 77.3,48.0 78.7,46.9 C80.1,45.8 83.2,45.3 85.2,45.3 C87.3,45.3 89.9,46.1 91.0,46.9 C92.1,47.7 92.8,49.3 91.8,50.2 C90.8,51.0 87.2,51.3 85.2,52.1 C83.3,53.0 81.4,53.8 80.3,55.1 C79.2,56.4 79.2,58.3 78.7,60.0 C78.1,61.7 78.1,63.6 77.0,65.3 C76.0,66.9 74.0,68.9 72.1,70.2 C70.2,71.5 68.0,72.3 65.6,73.1 C63.1,73.9 60.1,74.5 57.4,75.1 C54.7,75.7 51.0,77.6 49.5,76.7 C48.0,75.9 48.4,72.4 48.4,69.8 C48.3,67.3 47.7,63.4 49.2,61.6Z" fill="#b4b048"/><ellipse cx="55.7" cy="68.2" rx="7.4" ry="5.7" fill="#c4c030"/><path d="M77.0,81.3 C78.7,79.7 81.7,78.7 85.2,78.0 C88.8,77.4 94.5,77.1 98.4,77.2 C102.2,77.4 105.5,78.2 108.2,78.9 C110.9,79.5 113.1,80.1 114.8,81.3 C116.4,82.5 116.8,84.6 118.0,86.2 C119.3,87.9 121.2,89.6 122.1,91.2 C123.1,92.7 125.0,94.7 123.8,95.3 C122.5,95.8 117.9,94.7 114.8,94.4 C111.6,94.2 107.9,93.5 104.9,93.6 C101.9,93.7 98.8,94.3 96.7,95.3 C94.7,96.2 93.4,97.3 92.6,99.3 C91.8,101.4 92.1,104.8 91.8,107.5 C91.5,110.3 91.4,113.3 91.0,115.7 C90.6,118.2 90.3,120.7 89.3,122.3 C88.4,123.9 86.5,125.6 85.2,125.6 C84.0,125.6 82.4,124.2 82.0,122.3 C81.6,120.4 82.5,117.1 82.8,114.1 C83.1,111.1 84.0,106.7 83.6,104.3 C83.2,101.8 81.4,101.0 80.3,99.3 C79.2,97.7 77.9,96.3 77.0,94.4 C76.2,92.5 75.4,90.1 75.4,87.9 C75.4,85.7 75.4,83.0 77.0,81.3Z" fill="#a8a8b8"/><ellipse cx="91.8" cy="87.1" rx="15.6" ry="7.4" fill="#c8c840"/><ellipse cx="87.7" cy="89.5" rx="6.2" ry="5.2" fill="#f4f4c8"/><ellipse cx="59.0" cy="93.1" rx="8.2" ry="4.6" fill="#9a9ac8"/><ellipse cx="129.5" cy="66.9" rx="4.6" ry="3.0" fill="#9a9ac8"/><ellipse cx="117.7" cy="137.9" rx="6.2" ry="7.9" fill="#e01030"/><ellipse cx="119.3" cy="141.2" rx="3.6" ry="5.2" fill="#100000"/></g></g>
</g>
<line x1="371.3" x2="555.3" y1="433.9" y2="433.9" stroke="#000" stroke-width="1.1" opacity="0.5"/>
<line x1="371.3" x2="555.3" y1="467.8" y2="467.8" stroke="#000" stroke-width="1.1" opacity="0.5"/>
<line x1="371.3" x2="555.3" y1="501.2" y2="501.2" stroke="#000" stroke-width="1.1" opacity="0.5"/>
<line x1="371.3" x2="555.3" y1="535.0" y2="535.0" stroke="#000" stroke-width="1.1" opacity="0.5"/>
<line x1="371.3" x2="555.3" y1="568.5" y2="568.5" stroke="#000" stroke-width="1.1" opacity="0.5"/>
<line x1="420.4" x2="420.4" y1="413.7" y2="597.9" stroke="#000" stroke-width="1.1" opacity="0.5"/>
<line x1="499.3" x2="499.3" y1="413.7" y2="597.9" stroke="#000" stroke-width="1.1" opacity="0.5"/>
<g transform="translate(371.30,413.70)" fill="none" stroke="#000" stroke-width="1.5" stroke-linejoin="round"><path d="M77.0,81.3 C78.7,79.7 81.7,78.7 85.2,78.0 C88.8,77.4 94.5,77.1 98.4,77.2 C102.2,77.4 105.5,78.2 108.2,78.9 C110.9,79.5 113.1,80.1 114.8,81.3 C116.4,82.5 116.8,84.6 118.0,86.2 C119.3,87.9 121.2,89.6 122.1,91.2 C123.1,92.7 125.0,94.7 123.8,95.3 C122.5,95.8 117.9,94.7 114.8,94.4 C111.6,94.2 107.9,93.5 104.9,93.6 C101.9,93.7 98.8,94.3 96.7,95.3 C94.7,96.2 93.4,97.3 92.6,99.3 C91.8,101.4 92.1,104.8 91.8,107.5 C91.5,110.3 91.4,113.3 91.0,115.7 C90.6,118.2 90.3,120.7 89.3,122.3 C88.4,123.9 86.5,125.6 85.2,125.6 C84.0,125.6 82.4,124.2 82.0,122.3 C81.6,120.4 82.5,117.1 82.8,114.1 C83.1,111.1 84.0,106.7 83.6,104.3 C83.2,101.8 81.4,101.0 80.3,99.3 C79.2,97.7 77.9,96.3 77.0,94.4 C76.2,92.5 75.4,90.1 75.4,87.9 C75.4,85.7 75.4,83.0 77.0,81.3Z"/><path d="M49.2,61.6 C50.7,59.9 54.6,59.8 57.4,59.2 C60.1,58.6 63.1,58.6 65.6,58.0 C68.0,57.5 70.2,56.9 72.1,55.9 C74.0,54.9 76.0,53.3 77.0,51.8 C78.1,50.3 77.3,48.0 78.7,46.9 C80.1,45.8 83.2,45.3 85.2,45.3 C87.3,45.3 89.9,46.1 91.0,46.9 C92.1,47.7 92.8,49.3 91.8,50.2 C90.8,51.0 87.2,51.3 85.2,52.1 C83.3,53.0 81.4,53.8 80.3,55.1 C79.2,56.4 79.2,58.3 78.7,60.0 C78.1,61.7 78.1,63.6 77.0,65.3 C76.0,66.9 74.0,68.9 72.1,70.2 C70.2,71.5 68.0,72.3 65.6,73.1 C63.1,73.9 60.1,74.5 57.4,75.1 C54.7,75.7 51.0,77.6 49.5,76.7 C48.0,75.9 48.4,72.4 48.4,69.8 C48.3,67.3 47.7,63.4 49.2,61.6Z"/><ellipse cx="59.0" cy="93.1" rx="8.2" ry="4.6"/><ellipse cx="129.5" cy="66.9" rx="4.9" ry="3.3"/><path d="M113.1,146.1 C113.4,144.6 113.4,139.4 114.8,137.1 C116.1,134.7 119.5,133.1 121.3,132.1 C123.1,131.2 124.7,131.5 125.4,131.3" stroke="#800010"/></g>
<path d="M371.3,427.2h2M555.3,427.2h-2M371.3,433.9h3.5M555.3,433.9h-3.5M371.3,440.6h2M555.3,440.6h-2M371.3,447.4h2M555.3,447.4h-2M371.3,454.1h2M555.3,454.1h-2M371.3,460.8h2M555.3,460.8h-2M371.3,467.5h3.5M555.3,467.5h-3.5M371.3,474.3h2M555.3,474.3h-2M371.3,481.0h2M555.3,481.0h-2M371.3,487.7h2M555.3,487.7h-2M371.3,494.5h2M555.3,494.5h-2M371.3,501.2h3.5M555.3,501.2h-3.5M371.3,507.9h2M555.3,507.9h-2M371.3,514.7h2M555.3,514.7h-2M371.3,521.4h2M555.3,521.4h-2M371.3,528.1h2M555.3,528.1h-2M371.3,534.9h3.5M555.3,534.9h-3.5M371.3,541.6h2M555.3,541.6h-2M371.3,548.3h2M555.3,548.3h-2M371.3,555.0h2M555.3,555.0h-2M371.3,561.8h2M555.3,561.8h-2M371.3,568.5h3.5M555.3,568.5h-3.5M371.3,575.2h2M555.3,575.2h-2M371.3,582.0h2M555.3,582.0h-2M371.3,588.7h2M555.3,588.7h-2M371.3,595.4h2M555.3,595.4h-2M381.0,597.9v-2M381.0,413.7v2M390.8,597.9v-2M390.8,413.7v2M400.7,597.9v-2M400.7,413.7v2M410.5,597.9v-2M410.5,413.7v2M420.4,597.9v-3.5M420.4,413.7v3.5M430.3,597.9v-2M430.3,413.7v2M440.1,597.9v-2M440.1,413.7v2M450.0,597.9v-2M450.0,413.7v2M459.9,597.9v-2M459.9,413.7v2M469.7,597.9v-2M469.7,413.7v2M479.6,597.9v-2M479.6,413.7v2M489.4,597.9v-2M489.4,413.7v2M499.3,597.9v-3.5M499.3,413.7v3.5M509.2,597.9v-2M509.2,413.7v2M519.0,597.9v-2M519.0,413.7v2M528.9,597.9v-2M528.9,413.7v2M538.8,597.9v-2M538.8,413.7v2M548.6,597.9v-2M548.6,413.7v2" stroke="#000" stroke-width="0.8" fill="none"/>
<rect x="379.3" y="425.7" width="18" height="15" fill="#fff"/>
<text x="388.8" y="437.3" font-family="'Liberation Serif','DejaVu Serif',serif" font-size="17" text-anchor="middle" fill="#111">j</text>
<rect x="372.0" y="594.2" width="24.7" height="4.2" fill="#fff"/>
<rect x="372.0" y="566.2" width="24.7" height="28" fill="#d9d9d9"/>
<text x="376.9" y="582.6" font-family="'Liberation Serif','DejaVu Serif',serif" font-size="16" fill="#222"><tspan font-style="italic">β</tspan><tspan dy="4" font-size="10">4</tspan></text>
</g>
<rect x="371.3" y="413.7" width="184.0" height="184.2" fill="none" stroke="#000" stroke-width="1.6"/>
<rect x="561.7" y="413.7" width="6.9" height="184.2" fill="url(#gbeta)" stroke="#000" stroke-width="1.4"/>
<line x1="561.7" x2="568.6" y1="428.8" y2="428.8" stroke="#000" stroke-width="0.9" opacity="0.8"/>
<text x="572.5" y="432.2" font-family="'DejaVu Sans','Liberation Sans',sans-serif" font-size="12.7" fill="#111">1.75</text>
<line x1="561.7" x2="568.6" y1="465.1" y2="465.1" stroke="#000" stroke-width="0.9" opacity="0.8"/>
<text x="572.5" y="468.5" font-family="'DejaVu Sans','Liberation Sans',sans-serif" font-size="12.7" fill="#111">1.68</text>
<line x1="561.7" x2="568.6" y1="501.9" y2="501.9" stroke="#000" stroke-width="0.9" opacity="0.8"/>
<text x="572.5" y="505.3" font-family="'DejaVu Sans','Liberation Sans',sans-serif" font-size="12.7" fill="#111">1.61</text>
<line x1="561.7" x2="568.6" y1="539.2" y2="539.2" stroke="#000" stroke-width="0.9" opacity="0.8"/>
<text x="572.5" y="542.6" font-family="'DejaVu Sans','Liberation Sans',sans-serif" font-size="12.7" fill="#111">1.54</text>
<line x1="561.7" x2="568.6" y1="574.8" y2="574.8" stroke="#000" stroke-width="0.9" opacity="0.8"/>
<text x="572.5" y="578.2" font-family="'DejaVu Sans','Liberation Sans',sans-serif" font-size="12.7" fill="#111">1.47</text>
<text transform="translate(621.6,505.8) rotate(-90)" text-anchor="middle" font-family="'Liberation Serif','DejaVu Serif',serif" font-size="16.5" fill="#555"><tspan font-style="italic">β</tspan><tspan baseline-shift="sub" font-size="70%">4</tspan></text>
<clipPath id="cpk"><rect x="646.5" y="413.7" width="184.2" height="184.2"/></clipPath>
<g clip-path="url(#cpk)">
<clipPath id="fpk"><path clip-rule="evenodd" transform="translate(646.50,413.70)" d="M72.1,37.9 C73.8,36.6 75.4,36.4 78.7,36.2 C82.0,36.1 88.5,36.1 91.8,37.1 C95.1,38.0 96.2,40.3 98.4,42.0 C100.5,43.6 102.2,46.3 104.9,46.9 C107.7,47.4 111.5,44.7 114.8,45.3 C118.0,45.8 121.9,48.5 124.6,50.2 C127.3,51.8 128.4,53.4 131.1,55.1 C133.9,56.7 138.3,58.4 141.0,60.0 C143.7,61.6 145.6,63.0 147.5,64.9 C149.5,66.8 151.8,69.3 152.5,71.5 C153.1,73.7 152.7,76.4 151.6,78.0 C150.5,79.7 147.1,79.1 145.9,81.3 C144.7,83.5 144.3,87.3 144.3,91.2 C144.3,95.0 146.2,100.4 145.9,104.3 C145.6,108.1 143.7,111.4 142.6,114.1 C141.5,116.8 139.9,117.9 139.3,120.7 C138.8,123.4 140.7,128.0 139.3,130.5 C138.0,133.0 133.1,133.8 131.1,135.4 C129.2,137.1 128.7,137.6 127.9,140.3 C127.0,143.1 127.9,149.6 126.2,151.8 C124.6,154.0 121.3,153.7 118.0,153.4 C114.8,153.2 109.8,151.0 106.6,150.2 C103.3,149.3 101.6,149.1 98.4,148.5 C95.1,148.0 90.2,147.7 86.9,146.9 C83.6,146.1 81.7,144.7 78.7,143.6 C75.7,142.5 71.6,141.4 68.9,140.3 C66.1,139.2 64.5,138.7 62.3,137.1 C60.1,135.4 57.1,133.2 55.7,130.5 C54.4,127.8 55.5,123.1 54.1,120.7 C52.7,118.2 49.7,117.4 47.5,115.7 C45.4,114.1 42.6,112.7 41.0,110.8 C39.3,108.9 38.3,107.5 37.7,104.3 C37.2,101.0 37.2,94.4 37.7,91.2 C38.3,87.9 40.0,86.8 41.0,84.6 C41.9,82.4 43.3,80.5 43.4,78.0 C43.6,75.6 41.9,72.8 41.8,69.8 C41.7,66.8 41.7,62.2 42.6,60.0 C43.6,57.8 45.6,57.5 47.5,56.7 C49.5,55.9 52.7,56.7 54.1,55.1 C55.5,53.4 54.4,48.8 55.7,46.9 C57.1,45.0 60.1,44.2 62.3,43.6 C64.5,43.1 67.2,44.6 68.9,43.6 C70.5,42.7 70.5,39.1 72.1,37.9Z"/></clipPath>
<g clip-path="url(#fpk)"><g filter="url(#bl)">
<rect x="638.50" y="405.70" width="200.80" height="23.95" fill="#ff9000"/>
<rect x="638.50" y="429.05" width="200.80" height="15.95" fill="#ff9000"/>
<rect x="638.50" y="444.40" width="200.80" height="15.95" fill="#ff9000"/>
<rect x="638.50" y="459.75" width="200.80" height="15.95" fill="#ff9000"/>
<rect x="638.50" y="475.10" width="200.80" height="15.95" fill="#ff9000"/>
<rect x="638.50" y="490.45" width="200.80" height="15.95" fill="#ff9000"/>
<rect x="638.50" y="505.80" width="200.80" height="15.95" fill="#ff9000"/>
<rect x="638.50" y="521.15" width="200.80" height="15.95" fill="#ff9000"/>
<rect x="638.50" y="536.50" width="200.80" height="15.95" fill="#ff9000"/>
<rect x="638.50" y="551.85" width="200.80" height="15.95" fill="#ff9000"/>
<rect x="638.50" y="567.20" width="200.80" height="15.95" fill="#ff9000"/>
<rect x="638.50" y="582.55" width="200.80" height="23.95" fill="#ff9000"/>
</g>
<g transform="translate(646.50,413.70)"><g filter="url(#bl)"><ellipse cx="84.4" cy="44.4" rx="13.1" ry="8.2" fill="#e83010"/><ellipse cx="59.0" cy="64.9" rx="18.0" ry="9.8" fill="#e83010"/><ellipse cx="49.2" cy="62.5" rx="8.2" ry="8.2" fill="#c81000"/><ellipse cx="136.1" cy="71.5" rx="15.6" ry="18.9" fill="#f06010"/><ellipse cx="139.3" cy="63.3" rx="6.6" ry="8.2" fill="#e84010"/><ellipse cx="101.6" cy="63.3" rx="18.0" ry="9.8" fill="#fff840"/><ellipse cx="62.3" cy="79.7" rx="8.2" ry="4.9" fill="#ffffa0"/><ellipse cx="65.6" cy="94.4" rx="13.9" ry="6.6" fill="#f07010"/><ellipse cx="45.9" cy="104.3" rx="9.0" ry="12.3" fill="#fff860"/><ellipse cx="86.9" cy="115.7" rx="8.2" ry="18.0" fill="#e84010"/><ellipse cx="106.6" cy="107.5" rx="11.5" ry="8.2" fill="#ff9000"/><ellipse cx="113.1" cy="135.4" rx="15.6" ry="11.5" fill="#fff850"/><ellipse cx="75.4" cy="130.5" rx="6.6" ry="11.5" fill="#f08010"/><ellipse cx="134.4" cy="122.3" rx="7.4" ry="9.0" fill="#f08010"/><ellipse cx="93.4" cy="142.0" rx="11.5" ry="6.6" fill="#ffe020"/><ellipse cx="124.6" cy="101.0" rx="9.8" ry="8.2" fill="#ffd000"/><ellipse cx="54.1" cy="123.9" rx="6.6" ry="6.6" fill="#ffe040"/></g><g filter="url(#bl2)"><ellipse cx="106.6" cy="85.4" rx="18.0" ry="6.6" fill="#c01000"/><ellipse cx="86.9" cy="87.1" rx="12.3" ry="10.7" fill="#900000"/><ellipse cx="85.6" cy="87.5" rx="7.4" ry="9.0" fill="#300000"/><ellipse cx="84.9" cy="86.6" rx="4.9" ry="6.2" fill="#000000"/></g></g>
</g>
<line x1="646.5" x2="830.7" y1="433.9" y2="433.9" stroke="#000" stroke-width="1.1" opacity="0.5"/>
<line x1="646.5" x2="830.7" y1="467.8" y2="467.8" stroke="#000" stroke-width="1.1" opacity="0.5"/>
<line x1="646.5" x2="830.7" y1="501.2" y2="501.2" stroke="#000" stroke-width="1.1" opacity="0.5"/>
<line x1="646.5" x2="830.7" y1="535.0" y2="535.0" stroke="#000" stroke-width="1.1" opacity="0.5"/>
<line x1="646.5" x2="830.7" y1="568.5" y2="568.5" stroke="#000" stroke-width="1.1" opacity="0.5"/>
<line x1="695.6" x2="695.6" y1="413.7" y2="597.9" stroke="#000" stroke-width="1.1" opacity="0.5"/>
<line x1="774.5" x2="774.5" y1="413.7" y2="597.9" stroke="#000" stroke-width="1.1" opacity="0.5"/>
<path d="M646.5,427.2h2M830.7,427.2h-2M646.5,433.9h3.5M830.7,433.9h-3.5M646.5,440.6h2M830.7,440.6h-2M646.5,447.4h2M830.7,447.4h-2M646.5,454.1h2M830.7,454.1h-2M646.5,460.8h2M830.7,460.8h-2M646.5,467.5h3.5M830.7,467.5h-3.5M646.5,474.3h2M830.7,474.3h-2M646.5,481.0h2M830.7,481.0h-2M646.5,487.7h2M830.7,487.7h-2M646.5,494.5h2M830.7,494.5h-2M646.5,501.2h3.5M830.7,501.2h-3.5M646.5,507.9h2M830.7,507.9h-2M646.5,514.7h2M830.7,514.7h-2M646.5,521.4h2M830.7,521.4h-2M646.5,528.1h2M830.7,528.1h-2M646.5,534.9h3.5M830.7,534.9h-3.5M646.5,541.6h2M830.7,541.6h-2M646.5,548.3h2M830.7,548.3h-2M646.5,555.0h2M830.7,555.0h-2M646.5,561.8h2M830.7,561.8h-2M646.5,568.5h3.5M830.7,568.5h-3.5M646.5,575.2h2M830.7,575.2h-2M646.5,582.0h2M830.7,582.0h-2M646.5,588.7h2M830.7,588.7h-2M646.5,595.4h2M830.7,595.4h-2M656.1,597.9v-2M656.1,413.7v2M666.0,597.9v-2M666.0,413.7v2M675.9,597.9v-2M675.9,413.7v2M685.7,597.9v-2M685.7,413.7v2M695.6,597.9v-3.5M695.6,413.7v3.5M705.5,597.9v-2M705.5,413.7v2M715.3,597.9v-2M715.3,413.7v2M725.2,597.9v-2M725.2,413.7v2M735.1,597.9v-2M735.1,413.7v2M744.9,597.9v-2M744.9,413.7v2M754.8,597.9v-2M754.8,413.7v2M764.6,597.9v-2M764.6,413.7v2M774.5,597.9v-3.5M774.5,413.7v3.5M784.4,597.9v-2M784.4,413.7v2M794.2,597.9v-2M794.2,413.7v2M804.1,597.9v-2M804.1,413.7v2M814.0,597.9v-2M814.0,413.7v2M823.8,597.9v-2M823.8,413.7v2" stroke="#000" stroke-width="0.8" fill="none"/>
<rect x="654.5" y="425.7" width="18" height="15" fill="#fff"/>
<text x="664.0" y="437.3" font-family="'Liberation Serif','DejaVu Serif',serif" font-size="17" text-anchor="middle" fill="#111">k</text>
<rect x="647.0" y="594.2" width="35.2" height="4.2" fill="#fff"/>
<rect x="647.0" y="565.5" width="35.2" height="28.7" fill="#d9d9d9"/>
<text x="652.1" y="582.6" font-family="'Liberation Serif','DejaVu Serif',serif" font-size="16" fill="#222"><tspan>dT</tspan><tspan dy="4" font-size="10">4</tspan></text>
</g>
<rect x="646.5" y="413.7" width="184.2" height="184.2" fill="none" stroke="#000" stroke-width="1.6"/>
<rect x="835.3" y="413.7" width="7.4" height="184.2" fill="url(#ghot)" stroke="#000" stroke-width="1.4"/>
<line x1="835.3" x2="842.7" y1="422.8" y2="422.8" stroke="#000" stroke-width="0.9" opacity="0.8"/>
<text x="846.6" y="426.2" font-family="'DejaVu Sans','Liberation Sans',sans-serif" font-size="12.7" fill="#111">3.6</text>
<line x1="835.3" x2="842.7" y1="454.4" y2="454.4" stroke="#000" stroke-width="0.9" opacity="0.8"/>
<text x="846.6" y="457.8" font-family="'DejaVu Sans','Liberation Sans',sans-serif" font-size="12.7" fill="#111">3.3</text>
<line x1="835.3" x2="842.7" y1="485.8" y2="485.8" stroke="#000" stroke-width="0.9" opacity="0.8"/>
<text x="846.6" y="489.2" font-family="'DejaVu Sans','Liberation Sans',sans-serif" font-size="12.7" fill="#111">3.0</text>
<line x1="835.3" x2="842.7" y1="517.1" y2="517.1" stroke="#000" stroke-width="0.9" opacity="0.8"/>
<text x="846.6" y="520.5" font-family="'DejaVu Sans','Liberation Sans',sans-serif" font-size="12.7" fill="#111">2.7</text>
<line x1="835.3" x2="842.7" y1="548.2" y2="548.2" stroke="#000" stroke-width="0.9" opacity="0.8"/>
<text x="846.6" y="551.6" font-family="'DejaVu Sans','Liberation Sans',sans-serif" font-size="12.7" fill="#111">2.4</text>
<line x1="835.3" x2="842.7" y1="579.1" y2="579.1" stroke="#000" stroke-width="0.9" opacity="0.8"/>
<text x="846.6" y="582.5" font-family="'DejaVu Sans','Liberation Sans',sans-serif" font-size="12.7" fill="#111">2.1</text>
<text transform="translate(895.7,505.8) rotate(-90)" text-anchor="middle" font-family="'Liberation Serif','DejaVu Serif',serif" font-size="16.5" fill="#555"><tspan>dT</tspan><tspan baseline-shift="sub" font-size="70%">4</tspan><tspan> (K)</tspan></text>
<clipPath id="cpl"><rect x="921.4" y="413.7" width="184.0" height="184.2"/></clipPath>
<g clip-path="url(#cpl)">
<clipPath id="fpl"><path clip-rule="evenodd" transform="translate(921.40,413.70)" d="M72.1,37.9 C73.8,36.6 75.4,36.4 78.7,36.2 C82.0,36.1 88.5,36.1 91.8,37.1 C95.1,38.0 96.2,40.3 98.4,42.0 C100.5,43.6 102.2,46.3 104.9,46.9 C107.7,47.4 111.5,44.7 114.8,45.3 C118.0,45.8 121.9,48.5 124.6,50.2 C127.3,51.8 128.4,53.4 131.1,55.1 C133.9,56.7 138.3,58.4 141.0,60.0 C143.7,61.6 145.6,63.0 147.5,64.9 C149.5,66.8 151.8,69.3 152.5,71.5 C153.1,73.7 152.7,76.4 151.6,78.0 C150.5,79.7 147.1,79.1 145.9,81.3 C144.7,83.5 144.3,87.3 144.3,91.2 C144.3,95.0 146.2,100.4 145.9,104.3 C145.6,108.1 143.7,111.4 142.6,114.1 C141.5,116.8 139.9,117.9 139.3,120.7 C138.8,123.4 140.7,128.0 139.3,130.5 C138.0,133.0 133.1,133.8 131.1,135.4 C129.2,137.1 128.7,137.6 127.9,140.3 C127.0,143.1 127.9,149.6 126.2,151.8 C124.6,154.0 121.3,153.7 118.0,153.4 C114.8,153.2 109.8,151.0 106.6,150.2 C103.3,149.3 101.6,149.1 98.4,148.5 C95.1,148.0 90.2,147.7 86.9,146.9 C83.6,146.1 81.7,144.7 78.7,143.6 C75.7,142.5 71.6,141.4 68.9,140.3 C66.1,139.2 64.5,138.7 62.3,137.1 C60.1,135.4 57.1,133.2 55.7,130.5 C54.4,127.8 55.5,123.1 54.1,120.7 C52.7,118.2 49.7,117.4 47.5,115.7 C45.4,114.1 42.6,112.7 41.0,110.8 C39.3,108.9 38.3,107.5 37.7,104.3 C37.2,101.0 37.2,94.4 37.7,91.2 C38.3,87.9 40.0,86.8 41.0,84.6 C41.9,82.4 43.3,80.5 43.4,78.0 C43.6,75.6 41.9,72.8 41.8,69.8 C41.7,66.8 41.7,62.2 42.6,60.0 C43.6,57.8 45.6,57.5 47.5,56.7 C49.5,55.9 52.7,56.7 54.1,55.1 C55.5,53.4 54.4,48.8 55.7,46.9 C57.1,45.0 60.1,44.2 62.3,43.6 C64.5,43.1 67.2,44.6 68.9,43.6 C70.5,42.7 70.5,39.1 72.1,37.9Z"/></clipPath>
<g clip-path="url(#fpl)"><g filter="url(#bl)">
<rect x="913.40" y="405.70" width="200.60" height="23.95" fill="#c8c030"/>
<rect x="913.40" y="429.05" width="200.60" height="15.95" fill="#c8c030"/>
<rect x="913.40" y="444.40" width="200.60" height="15.95" fill="#c8c030"/>
<rect x="913.40" y="459.75" width="200.60" height="15.95" fill="#c8c030"/>
<rect x="913.40" y="475.10" width="200.60" height="15.95" fill="#c8c030"/>
<rect x="913.40" y="490.45" width="200.60" height="15.95" fill="#c8c030"/>
<rect x="913.40" y="505.80" width="200.60" height="15.95" fill="#c8c030"/>
<rect x="913.40" y="521.15" width="200.60" height="15.95" fill="#c8c030"/>
<rect x="913.40" y="536.50" width="200.60" height="15.95" fill="#c8c030"/>
<rect x="913.40" y="551.85" width="200.60" height="15.95" fill="#c8c030"/>
<rect x="913.40" y="567.20" width="200.60" height="15.95" fill="#c8c030"/>
<rect x="913.40" y="582.55" width="200.60" height="23.95" fill="#c8c030"/>
</g>
<g transform="translate(921.40,413.70)"><g filter="url(#bl)"><ellipse cx="59.0" cy="66.6" rx="18.0" ry="21.3" fill="#7474e4"/><ellipse cx="62.3" cy="65.7" rx="7.4" ry="6.6" fill="#5454c0"/><ellipse cx="54.1" cy="48.5" rx="8.2" ry="6.6" fill="#8a8ae8"/><ellipse cx="106.6" cy="71.5" rx="23.0" ry="18.0" fill="#e0e0a0"/><ellipse cx="104.9" cy="64.9" rx="9.8" ry="8.2" fill="#f4f4d0"/><ellipse cx="121.3" cy="76.4" rx="7.4" ry="11.5" fill="#f0f0c8"/><ellipse cx="91.8" cy="78.0" rx="6.6" ry="6.6" fill="#ececc0"/><ellipse cx="80.3" cy="92.8" rx="9.8" ry="7.4" fill="#a0a0c0"/><ellipse cx="43.4" cy="104.3" rx="6.6" ry="7.4" fill="#8080d8"/><ellipse cx="123.0" cy="105.9" rx="8.2" ry="4.9" fill="#9a9ab8"/><ellipse cx="91.8" cy="140.3" rx="36.1" ry="9.8" fill="#7676e6"/><ellipse cx="65.6" cy="135.4" rx="9.8" ry="6.6" fill="#8080e0"/><ellipse cx="114.8" cy="146.9" rx="9.8" ry="4.9" fill="#6a6ad8"/><ellipse cx="145.9" cy="73.1" rx="5.7" ry="4.9" fill="#e0e090"/><ellipse cx="59.0" cy="107.5" rx="5.7" ry="7.4" fill="#e0e0a0"/></g><g filter="url(#bl2)"><ellipse cx="63.9" cy="140.7" rx="3.3" ry="2.3" fill="#100010"/><ellipse cx="116.4" cy="152.1" rx="7.4" ry="2.0" fill="#300020"/></g></g>
</g>
<line x1="921.4" x2="1105.4" y1="433.9" y2="433.9" stroke="#000" stroke-width="1.1" opacity="0.5"/>
<line x1="921.4" x2="1105.4" y1="467.8" y2="467.8" stroke="#000" stroke-width="1.1" opacity="0.5"/>
<line x1="921.4" x2="1105.4" y1="501.2" y2="501.2" stroke="#000" stroke-width="1.1" opacity="0.5"/>
<line x1="921.4" x2="1105.4" y1="535.0" y2="535.0" stroke="#000" stroke-width="1.1" opacity="0.5"/>
<line x1="921.4" x2="1105.4" y1="568.5" y2="568.5" stroke="#000" stroke-width="1.1" opacity="0.5"/>
<line x1="970.5" x2="970.5" y1="413.7" y2="597.9" stroke="#000" stroke-width="1.1" opacity="0.5"/>
<line x1="1049.4" x2="1049.4" y1="413.7" y2="597.9" stroke="#000" stroke-width="1.1" opacity="0.5"/>
<path d="M921.4,427.2h2M1105.4,427.2h-2M921.4,433.9h3.5M1105.4,433.9h-3.5M921.4,440.6h2M1105.4,440.6h-2M921.4,447.4h2M1105.4,447.4h-2M921.4,454.1h2M1105.4,454.1h-2M921.4,460.8h2M1105.4,460.8h-2M921.4,467.5h3.5M1105.4,467.5h-3.5M921.4,474.3h2M1105.4,474.3h-2M921.4,481.0h2M1105.4,481.0h-2M921.4,487.7h2M1105.4,487.7h-2M921.4,494.5h2M1105.4,494.5h-2M921.4,501.2h3.5M1105.4,501.2h-3.5M921.4,507.9h2M1105.4,507.9h-2M921.4,514.7h2M1105.4,514.7h-2M921.4,521.4h2M1105.4,521.4h-2M921.4,528.1h2M1105.4,528.1h-2M921.4,534.9h3.5M1105.4,534.9h-3.5M921.4,541.6h2M1105.4,541.6h-2M921.4,548.3h2M1105.4,548.3h-2M921.4,555.0h2M1105.4,555.0h-2M921.4,561.8h2M1105.4,561.8h-2M921.4,568.5h3.5M1105.4,568.5h-3.5M921.4,575.2h2M1105.4,575.2h-2M921.4,582.0h2M1105.4,582.0h-2M921.4,588.7h2M1105.4,588.7h-2M921.4,595.4h2M1105.4,595.4h-2M931.0,597.9v-2M931.0,413.7v2M940.9,597.9v-2M940.9,413.7v2M950.8,597.9v-2M950.8,413.7v2M960.6,597.9v-2M960.6,413.7v2M970.5,597.9v-3.5M970.5,413.7v3.5M980.4,597.9v-2M980.4,413.7v2M990.2,597.9v-2M990.2,413.7v2M1000.1,597.9v-2M1000.1,413.7v2M1010.0,597.9v-2M1010.0,413.7v2M1019.8,597.9v-2M1019.8,413.7v2M1029.7,597.9v-2M1029.7,413.7v2M1039.5,597.9v-2M1039.5,413.7v2M1049.4,597.9v-3.5M1049.4,413.7v3.5M1059.3,597.9v-2M1059.3,413.7v2M1069.1,597.9v-2M1069.1,413.7v2M1079.0,597.9v-2M1079.0,413.7v2M1088.8,597.9v-2M1088.8,413.7v2M1098.7,597.9v-2M1098.7,413.7v2" stroke="#000" stroke-width="0.8" fill="none"/>
<rect x="929.4" y="425.7" width="18" height="15" fill="#fff"/>
<text x="938.9" y="437.3" font-family="'Liberation Serif','DejaVu Serif',serif" font-size="17" text-anchor="middle" fill="#111">l</text>
<rect x="922.0" y="594.2" width="32.6" height="4.2" fill="#fff"/>
<rect x="922.0" y="565.2" width="32.6" height="29" fill="#d9d9d9"/>
<text x="927.0" y="582.6" font-family="'Liberation Serif','DejaVu Serif',serif" font-size="16" fill="#222"><tspan>d</tspan><tspan font-style="italic">β</tspan><tspan dy="4" font-size="10">4</tspan></text>
</g>
<rect x="921.4" y="413.7" width="184.0" height="184.2" fill="none" stroke="#000" stroke-width="1.6"/>
<rect x="1110.7" y="413.7" width="6.7" height="184.2" fill="url(#gbeta)" stroke="#000" stroke-width="1.4"/>
<line x1="1110.7" x2="1117.4" y1="447.8" y2="447.8" stroke="#000" stroke-width="0.9" opacity="0.8"/>
<text x="1121.3" y="451.2" font-family="'DejaVu Sans','Liberation Sans',sans-serif" font-size="12.7" fill="#111">0.22</text>
<line x1="1110.7" x2="1117.4" y1="592.6" y2="592.6" stroke="#000" stroke-width="0.9" opacity="0.8"/>
<text x="1121.3" y="596.0" font-family="'DejaVu Sans','Liberation Sans',sans-serif" font-size="12.7" fill="#111">0.21</text>
<text transform="translate(1170.4,505.8) rotate(-90)" text-anchor="middle" font-family="'Liberation Serif','DejaVu Serif',serif" font-size="16.5" fill="#555"><tspan>d</tspan><tspan font-style="italic">β</tspan><tspan baseline-shift="sub" font-size="70%">4</tspan></text>
<clipPath id="cpm"><rect x="96.4" y="597.9" width="183.0" height="184.6"/></clipPath>
<g clip-path="url(#cpm)">
<clipPath id="fpm"><path clip-rule="evenodd" transform="translate(96.40,597.90)" d="M125.0,184.1 123.0,184.3 121.0,184.4 119.0,184.5 117.0,184.5 115.0,184.5 113.0,184.5 111.0,184.5 109.0,184.5 107.0,184.5 105.0,184.5 103.0,184.5 101.0,184.5 99.0,184.5 97.0,184.5 95.0,184.5 93.0,184.5 91.0,184.5 89.0,184.5 87.0,184.5 85.0,184.5 83.0,184.5 81.0,184.5 79.0,184.5 77.0,184.5 75.0,184.5 73.0,184.5 71.0,184.5 69.0,184.5 67.0,184.5 65.0,184.5 63.0,184.5 61.0,184.5 59.0,184.5 57.0,184.5 55.0,184.5 53.0,184.5 51.0,184.5 49.0,184.4 47.0,184.2 45.2,184.0 45.2,182.0 45.1,180.0 44.9,179.0 44.1,177.0 43.4,176.0 42.3,175.0 41.0,174.2 40.0,173.9 38.7,174.0 37.0,174.8 36.0,175.7 35.0,177.0 34.5,178.0 34.0,179.9 33.9,181.0 33.8,183.0 33.0,184.1 31.0,184.3 29.0,184.4 27.0,184.5 25.0,184.5 23.0,184.5 21.0,184.5 19.0,184.5 17.0,184.5 15.0,184.5 13.0,184.5 11.0,184.5 9.0,184.5 7.0,184.5 5.0,184.5 3.0,184.5 1.0,184.5 -0.5,184.0 -0.5,182.0 -0.5,180.0 -0.5,178.0 -0.5,176.0 -0.5,174.0 -0.5,172.0 -0.5,170.0 -0.5,168.0 -0.5,166.0 -0.5,164.0 -0.5,162.0 -0.5,160.0 -0.5,158.0 -0.5,156.0 -0.4,154.0 -0.3,152.0 -0.0,150.0 1.0,149.8 3.0,149.7 5.0,149.4 6.2,149.0 7.8,148.0 8.8,147.0 9.5,146.0 10.0,144.3 10.0,143.8 9.5,142.0 8.8,141.0 7.7,140.0 6.1,139.0 5.0,138.6 3.0,138.3 1.0,138.3 -0.0,138.0 -0.3,136.0 -0.4,134.0 -0.5,132.0 -0.5,130.0 -0.5,128.0 -0.5,126.0 -0.5,124.0 -0.5,122.0 -0.5,120.0 -0.5,118.0 -0.5,116.0 -0.5,114.0 -0.5,112.0 -0.5,110.0 -0.5,108.0 -0.5,106.0 -0.5,104.0 -0.5,102.0 -0.5,100.0 -0.5,98.0 -0.5,96.0 -0.5,94.0 -0.5,92.0 -0.5,90.0 -0.5,88.0 -0.5,86.0 -0.5,84.0 -0.5,82.0 -0.5,80.0 -0.5,78.0 -0.5,76.0 -0.5,74.0 -0.5,72.0 -0.5,70.0 -0.5,68.0 -0.5,66.0 -0.5,64.0 -0.5,62.0 -0.5,60.0 -0.5,58.0 -0.5,56.0 -0.5,54.0 -0.5,52.0 -0.4,50.0 -0.3,48.0 -0.0,46.0 1.0,45.8 3.0,45.8 5.0,45.8 7.0,45.8 9.0,45.8 11.0,45.7 13.0,45.7 15.0,45.6 17.0,45.2 18.0,44.8 19.2,44.0 20.3,43.0 21.1,42.0 22.0,40.6 22.9,39.0 23.6,38.0 24.4,37.0 25.4,36.0 26.8,35.0 28.0,34.2 29.0,33.6 30.0,33.0 31.2,32.0 32.1,31.0 33.0,29.8 34.0,28.1 34.7,27.0 35.4,26.0 36.3,25.0 37.4,24.0 38.9,23.0 40.0,22.3 41.0,21.7 42.0,21.0 43.1,20.0 44.0,18.8 45.0,17.3 45.7,16.0 46.4,15.0 47.2,14.0 48.1,13.0 49.5,12.0 51.0,11.0 52.0,10.4 53.0,9.8 54.0,8.9 55.0,7.8 56.0,6.0 56.3,5.0 56.6,3.0 56.7,1.0 57.0,-0.1 59.0,-0.3 61.0,-0.4 63.0,-0.5 65.0,-0.5 67.0,-0.5 69.0,-0.5 71.0,-0.5 73.0,-0.5 75.0,-0.5 77.0,-0.5 79.0,-0.5 81.0,-0.5 83.0,-0.5 85.0,-0.5 87.0,-0.5 89.0,-0.5 91.0,-0.5 93.0,-0.5 95.0,-0.5 97.0,-0.5 99.0,-0.5 101.0,-0.5 103.0,-0.5 105.0,-0.5 107.0,-0.5 109.0,-0.5 111.0,-0.5 113.0,-0.5 115.0,-0.5 117.0,-0.5 119.0,-0.5 121.0,-0.5 123.0,-0.5 125.0,-0.5 127.0,-0.5 129.0,-0.5 131.0,-0.5 133.0,-0.5 135.0,-0.5 137.0,-0.5 139.0,-0.5 141.0,-0.5 143.0,-0.5 145.0,-0.5 147.0,-0.5 149.0,-0.5 151.0,-0.5 153.0,-0.5 155.0,-0.4 157.0,-0.3 159.0,-0.1 159.6,1.0 159.7,3.0 160.0,5.0 160.3,6.0 161.0,7.3 162.0,8.6 163.0,9.5 164.0,10.2 165.2,11.0 166.9,12.0 168.0,12.9 169.0,13.9 169.8,15.0 170.3,16.0 170.9,18.0 171.0,19.2 171.1,21.0 171.1,23.0 171.1,25.0 171.1,27.0 171.1,29.0 171.1,31.0 171.1,33.0 171.1,35.0 171.1,37.0 171.1,39.0 171.1,41.0 171.1,43.0 171.1,45.0 171.1,47.0 171.1,49.0 171.1,51.0 171.1,53.0 171.1,55.0 171.1,57.0 171.1,59.0 171.1,61.0 171.5,63.0 172.0,64.4 173.0,65.9 174.0,66.9 175.0,67.7 176.0,68.2 178.0,68.7 180.0,68.9 182.0,68.9 182.2,70.0 182.3,72.0 182.4,74.0 182.5,76.0 182.5,78.0 182.5,80.0 182.5,82.0 182.5,84.0 182.5,86.0 182.5,88.0 182.5,90.0 182.5,92.0 182.5,94.0 182.5,96.0 182.5,98.0 182.5,100.0 182.5,102.0 182.5,104.0 182.5,106.0 182.5,108.0 182.4,110.0 182.3,112.0 182.2,114.0 182.0,115.1 180.0,115.1 178.0,115.1 176.0,115.1 174.0,115.1 172.0,115.1 170.0,115.1 168.0,115.2 166.0,115.4 164.2,116.0 163.0,116.7 162.0,117.6 161.0,119.0 160.6,120.0 160.7,122.0 161.1,123.0 162.0,124.2 163.0,125.1 164.2,126.0 165.9,127.0 167.0,127.7 168.0,128.5 169.0,129.5 170.0,130.7 170.8,132.0 171.4,133.0 172.0,134.0 173.0,135.3 174.0,136.3 175.0,137.0 177.0,137.9 178.0,138.1 180.0,138.2 182.0,138.2 182.2,140.0 182.4,142.0 182.5,144.0 182.5,146.0 182.5,148.0 182.5,150.0 182.5,152.0 182.5,154.0 182.5,156.0 182.5,158.0 182.5,160.0 182.5,162.0 182.5,164.0 182.5,166.0 182.4,168.0 182.3,170.0 182.1,172.0 181.0,172.9 179.0,172.9 177.0,172.9 175.0,172.9 173.0,172.9 171.0,172.9 169.0,172.9 167.0,172.9 165.0,172.9 163.0,172.9 161.0,172.9 159.0,172.9 157.0,172.9 155.0,172.9 153.0,172.9 151.0,172.9 149.0,172.9 147.0,172.9 145.0,172.9 143.0,172.9 141.0,172.9 139.0,172.9 137.0,172.9 135.0,172.9 133.4,173.0 132.0,173.1 130.0,173.8 129.0,174.3 128.0,175.1 127.0,176.2 126.0,178.0 125.7,179.0 125.4,181.0 125.3,183.0 125.0,184.1ZM137.2,14.6a4.6,4.6 0 1,0 9.2,0a4.6,4.6 0 1,0 -9.2,0Z"/></clipPath>
<g clip-path="url(#fpm)"><g filter="url(#bl)">
<rect x="88.40" y="589.90" width="42.91" height="20.14" fill="#e01030"/>
<rect x="130.71" y="589.90" width="23.48" height="20.14" fill="#7676ec"/>
<rect x="153.59" y="589.90" width="12.04" height="20.14" fill="#802040"/>
<rect x="165.02" y="589.90" width="34.91" height="20.14" fill="#7676ec"/>
<rect x="199.34" y="589.90" width="12.04" height="20.14" fill="#c8c030"/>
<rect x="210.77" y="589.90" width="77.22" height="20.14" fill="#7676ec"/>
<rect x="88.40" y="609.44" width="54.35" height="12.14" fill="#e01030"/>
<rect x="142.15" y="609.44" width="46.35" height="12.14" fill="#7676ec"/>
<rect x="187.90" y="609.44" width="23.48" height="12.14" fill="#c8c030"/>
<rect x="210.77" y="609.44" width="12.04" height="12.14" fill="#a4a4b0"/>
<rect x="222.21" y="609.44" width="12.04" height="12.14" fill="#7676ec"/>
<rect x="233.65" y="609.44" width="12.04" height="12.14" fill="#c8c030"/>
<rect x="245.09" y="609.44" width="42.91" height="12.14" fill="#7676ec"/>
<rect x="88.40" y="620.98" width="65.79" height="12.14" fill="#e01030"/>
<rect x="153.59" y="620.98" width="12.04" height="12.14" fill="#283070"/>
<rect x="165.02" y="620.98" width="23.48" height="12.14" fill="#7676ec"/>
<rect x="187.90" y="620.98" width="12.04" height="12.14" fill="#c8c030"/>
<rect x="199.34" y="620.98" width="12.04" height="12.14" fill="#a4a4b0"/>
<rect x="210.77" y="620.98" width="12.04" height="12.14" fill="#c8c030"/>
<rect x="222.21" y="620.98" width="12.04" height="12.14" fill="#7676ec"/>
<rect x="233.65" y="620.98" width="12.04" height="12.14" fill="#c8c030"/>
<rect x="245.09" y="620.98" width="12.04" height="12.14" fill="#7676ec"/>
<rect x="256.52" y="620.98" width="31.48" height="12.14" fill="#a4a4b0"/>
<rect x="88.40" y="632.51" width="42.91" height="12.14" fill="#e01030"/>
<rect x="130.71" y="632.51" width="23.48" height="12.14" fill="#802040"/>
<rect x="153.59" y="632.51" width="12.04" height="12.14" fill="#283070"/>
<rect x="165.02" y="632.51" width="34.91" height="12.14" fill="#7676ec"/>
<rect x="199.34" y="632.51" width="23.48" height="12.14" fill="#c8c030"/>
<rect x="222.21" y="632.51" width="12.04" height="12.14" fill="#7676ec"/>
<rect x="233.65" y="632.51" width="12.04" height="12.14" fill="#c8c030"/>
<rect x="245.09" y="632.51" width="12.04" height="12.14" fill="#7676ec"/>
<rect x="256.52" y="632.51" width="31.48" height="12.14" fill="#802040"/>
<rect x="88.40" y="644.05" width="31.48" height="12.14" fill="#e01030"/>
<rect x="119.28" y="644.05" width="12.04" height="12.14" fill="#200008"/>
<rect x="130.71" y="644.05" width="69.22" height="12.14" fill="#7676ec"/>
<rect x="199.34" y="644.05" width="12.04" height="12.14" fill="#c8c030"/>
<rect x="210.77" y="644.05" width="34.91" height="12.14" fill="#7676ec"/>
<rect x="245.09" y="644.05" width="12.04" height="12.14" fill="#c8c030"/>
<rect x="256.52" y="644.05" width="31.48" height="12.14" fill="#802040"/>
<rect x="88.40" y="655.59" width="20.04" height="12.14" fill="#7676ec"/>
<rect x="107.84" y="655.59" width="12.04" height="12.14" fill="#283070"/>
<rect x="119.28" y="655.59" width="12.04" height="12.14" fill="#e01030"/>
<rect x="130.71" y="655.59" width="12.04" height="12.14" fill="#802040"/>
<rect x="142.15" y="655.59" width="23.47" height="12.14" fill="#7676ec"/>
<rect x="165.02" y="655.59" width="12.04" height="12.14" fill="#c8c030"/>
<rect x="176.46" y="655.59" width="111.54" height="12.14" fill="#7676ec"/>
<rect x="88.40" y="667.12" width="20.04" height="12.14" fill="#a4a4b0"/>
<rect x="107.84" y="667.12" width="12.04" height="12.14" fill="#7676ec"/>
<rect x="119.28" y="667.12" width="12.04" height="12.14" fill="#802040"/>
<rect x="130.71" y="667.12" width="80.66" height="12.14" fill="#7676ec"/>
<rect x="210.77" y="667.12" width="12.04" height="12.14" fill="#a4a4b0"/>
<rect x="222.21" y="667.12" width="65.79" height="12.14" fill="#7676ec"/>
<rect x="88.40" y="678.66" width="20.04" height="12.14" fill="#a4a4b0"/>
<rect x="107.84" y="678.66" width="69.22" height="12.14" fill="#7676ec"/>
<rect x="176.46" y="678.66" width="34.91" height="12.14" fill="#f0f0d8"/>
<rect x="210.77" y="678.66" width="23.48" height="12.14" fill="#7676ec"/>
<rect x="233.65" y="678.66" width="12.04" height="12.14" fill="#a4a4b0"/>
<rect x="245.09" y="678.66" width="42.91" height="12.14" fill="#7676ec"/>
<rect x="88.40" y="690.20" width="88.66" height="12.14" fill="#7676ec"/>
<rect x="176.46" y="690.20" width="23.48" height="12.14" fill="#f0f0d8"/>
<rect x="199.34" y="690.20" width="46.35" height="12.14" fill="#7676ec"/>
<rect x="245.09" y="690.20" width="23.48" height="12.14" fill="#283070"/>
<rect x="267.96" y="690.20" width="20.04" height="12.14" fill="#7676ec"/>
<rect x="88.40" y="701.74" width="54.35" height="12.14" fill="#7676ec"/>
<rect x="142.15" y="701.74" width="12.04" height="12.14" fill="#c8c030"/>
<rect x="153.59" y="701.74" width="23.47" height="12.14" fill="#7676ec"/>
<rect x="176.46" y="701.74" width="23.48" height="12.14" fill="#a4a4b0"/>
<rect x="199.34" y="701.74" width="46.35" height="12.14" fill="#7676ec"/>
<rect x="245.09" y="701.74" width="12.04" height="12.14" fill="#283070"/>
<rect x="256.52" y="701.74" width="12.04" height="12.14" fill="#e01030"/>
<rect x="267.96" y="701.74" width="20.04" height="12.14" fill="#7676ec"/>
<rect x="88.40" y="713.27" width="31.48" height="12.14" fill="#e01030"/>
<rect x="119.28" y="713.27" width="12.04" height="12.14" fill="#802040"/>
<rect x="130.71" y="713.27" width="23.48" height="12.14" fill="#7676ec"/>
<rect x="153.59" y="713.27" width="23.47" height="12.14" fill="#a4a4b0"/>
<rect x="176.46" y="713.27" width="12.04" height="12.14" fill="#c8c030"/>
<rect x="187.90" y="713.27" width="23.48" height="12.14" fill="#7676ec"/>
<rect x="210.77" y="713.27" width="12.04" height="12.14" fill="#a4a4b0"/>
<rect x="222.21" y="713.27" width="23.48" height="12.14" fill="#7676ec"/>
<rect x="245.09" y="713.27" width="23.48" height="12.14" fill="#283070"/>
<rect x="267.96" y="713.27" width="20.04" height="12.14" fill="#7676ec"/>
<rect x="88.40" y="724.81" width="20.04" height="12.14" fill="#283070"/>
<rect x="107.84" y="724.81" width="12.04" height="12.14" fill="#802040"/>
<rect x="119.28" y="724.81" width="126.41" height="12.14" fill="#7676ec"/>
<rect x="245.09" y="724.81" width="12.04" height="12.14" fill="#283070"/>
<rect x="256.52" y="724.81" width="31.48" height="12.14" fill="#e01030"/>
<rect x="88.40" y="736.35" width="20.04" height="12.14" fill="#283070"/>
<rect x="107.84" y="736.35" width="69.22" height="12.14" fill="#7676ec"/>
<rect x="176.46" y="736.35" width="12.04" height="12.14" fill="#283070"/>
<rect x="187.90" y="736.35" width="34.91" height="12.14" fill="#7676ec"/>
<rect x="222.21" y="736.35" width="12.04" height="12.14" fill="#283070"/>
<rect x="233.65" y="736.35" width="23.48" height="12.14" fill="#e01030"/>
<rect x="256.52" y="736.35" width="12.04" height="12.14" fill="#283070"/>
<rect x="267.96" y="736.35" width="20.04" height="12.14" fill="#7676ec"/>
<rect x="88.40" y="747.89" width="65.79" height="12.14" fill="#7676ec"/>
<rect x="153.59" y="747.89" width="12.04" height="12.14" fill="#283070"/>
<rect x="165.02" y="747.89" width="12.04" height="12.14" fill="#e01030"/>
<rect x="176.46" y="747.89" width="23.48" height="12.14" fill="#200008"/>
<rect x="199.34" y="747.89" width="23.48" height="12.14" fill="#283070"/>
<rect x="222.21" y="747.89" width="23.48" height="12.14" fill="#7676ec"/>
<rect x="245.09" y="747.89" width="12.04" height="12.14" fill="#e01030"/>
<rect x="256.52" y="747.89" width="12.04" height="12.14" fill="#283070"/>
<rect x="267.96" y="747.89" width="20.04" height="12.14" fill="#7676ec"/>
<rect x="88.40" y="759.42" width="54.35" height="12.14" fill="#7676ec"/>
<rect x="142.15" y="759.42" width="12.04" height="12.14" fill="#802040"/>
<rect x="153.59" y="759.42" width="12.04" height="12.14" fill="#e01030"/>
<rect x="165.02" y="759.42" width="12.04" height="12.14" fill="#283070"/>
<rect x="176.46" y="759.42" width="23.48" height="12.14" fill="#e01030"/>
<rect x="199.34" y="759.42" width="23.48" height="12.14" fill="#7676ec"/>
<rect x="222.21" y="759.42" width="12.04" height="12.14" fill="#283070"/>
<rect x="233.65" y="759.42" width="12.04" height="12.14" fill="#7676ec"/>
<rect x="245.09" y="759.42" width="23.48" height="12.14" fill="#e01030"/>
<rect x="267.96" y="759.42" width="20.04" height="12.14" fill="#7676ec"/>
<rect x="88.40" y="770.96" width="65.79" height="20.14" fill="#7676ec"/>
<rect x="153.59" y="770.96" width="12.04" height="20.14" fill="#e01030"/>
<rect x="165.02" y="770.96" width="12.04" height="20.14" fill="#283070"/>
<rect x="176.46" y="770.96" width="23.48" height="20.14" fill="#e01030"/>
<rect x="199.34" y="770.96" width="46.35" height="20.14" fill="#7676ec"/>
<rect x="245.09" y="770.96" width="23.48" height="20.14" fill="#e01030"/>
<rect x="267.96" y="770.96" width="20.04" height="20.14" fill="#7676ec"/>
</g>
<g fill="#100008" filter="url(#bl2)"><circle cx="125.0" cy="649.8" r="3.4"/><circle cx="182.2" cy="753.7" r="3.4"/><circle cx="193.6" cy="753.7" r="3.4"/></g>
<path transform="translate(96.40,597.90)" d="M-1.0,56.2 1.0,56.2 3.0,56.2 5.0,56.2 7.0,56.3 9.0,56.6 10.2,57.0 12.0,57.7 13.0,58.2 15.0,59.0 16.0,59.3 18.0,59.8 19.0,60.3 20.0,61.5 20.7,63.0 21.0,64.0 22.0,65.9 22.6,67.0 23.3,68.0 24.0,69.2 24.9,71.0 25.2,72.0 25.7,74.0 26.0,75.3 27.0,76.4 29.0,76.4 30.0,75.3 30.3,74.0 30.8,72.0 31.2,71.0 32.0,69.7 33.0,68.4 34.0,67.5 35.0,66.8 36.7,66.0 38.0,65.5 40.0,65.1 41.0,64.5 41.7,63.0 41.0,61.5 40.0,60.9 38.0,60.4 37.0,60.0 35.4,59.0 34.5,58.0 33.9,57.0 33.3,55.0 33.1,53.0 33.1,51.0 33.2,49.0 33.5,47.0 34.0,45.8 35.0,44.3 36.0,43.5 37.0,43.0 39.0,42.5 41.0,42.4 43.0,42.4 45.0,42.4 47.0,42.4 49.0,42.4 51.0,42.3 53.0,42.1 54.0,41.7 55.2,41.0 56.0,40.0 56.8,38.0 57.0,37.0 57.6,35.0 58.0,33.1 58.2,32.0 58.3,30.0 58.0,28.0 57.7,27.0 56.9,26.0 55.6,25.0 54.0,24.3 52.5,24.0 51.0,23.8 49.0,23.6 47.3,23.0 46.0,22.1 45.1,21.0 44.7,20.0 44.2,18.0 44.0,16.6 43.5,15.0 42.7,14.0 41.0,13.2 40.0,12.9 38.0,12.7 36.0,12.3 35.0,11.9 33.9,11.0 33.0,9.7 32.4,8.0 32.2,6.0 32.2,4.0 32.2,2.0 32.2,0.0 32.2,-1.0M59.7,-1.0 59.7,1.0 59.7,3.0 59.8,5.0 60.0,6.2 61.0,7.6 63.0,8.0 64.6,7.0 65.1,6.0 65.3,4.0 65.3,2.0 65.3,0.0 65.3,-1.0M183.0,38.3 181.0,38.3 179.0,38.3 177.0,38.3 175.0,38.3 173.0,38.3 171.0,38.3 169.0,38.3 167.0,38.3 165.0,38.5 163.9,39.0 163.0,40.3 162.8,42.0 163.0,43.8 163.2,45.0 163.5,47.0 163.7,49.0 163.8,51.0 164.0,52.2 165.0,53.7 166.0,54.1 168.0,54.3 170.0,54.4 172.0,54.4 174.0,54.4 176.0,54.4 178.0,54.4 180.0,54.4 182.0,54.4 183.0,54.4M166.0,117.0 167.9,116.0 168.8,115.0 169.3,114.0 169.9,112.0 170.0,111.0 170.1,109.0 170.0,107.7 169.7,106.0 169.0,104.4 168.0,103.1 167.0,102.4 166.0,102.0 164.0,101.8 162.4,102.0 161.0,102.4 160.0,103.1 159.0,104.1 158.1,106.0 157.9,107.0 157.7,109.0 157.7,111.0 158.0,112.6 158.4,114.0 159.1,115.0 160.1,116.0 162.0,116.9 163.0,117.1 165.0,117.2 166.0,117.0ZM-1.0,128.4 1.0,128.4 3.0,128.4 5.0,128.5 7.0,128.8 8.0,129.1 9.2,130.0 10.0,131.1 10.7,133.0 11.4,134.0 13.0,135.0 14.0,135.2 16.0,135.2 17.2,135.0 18.6,134.0 19.1,133.0 19.6,131.0 20.0,129.7 20.8,128.0 21.5,127.0 22.4,126.0 23.7,125.0 25.0,124.2 26.0,123.8 28.0,123.2 29.0,122.6 29.7,121.0 29.0,119.5 28.0,118.9 26.0,118.4 24.5,118.0 23.0,117.7 21.0,117.2 19.4,117.0 18.0,116.9 16.0,116.9 14.0,116.8 12.0,116.8 10.0,116.8 8.0,116.8 6.0,116.8 4.0,116.8 2.0,116.8 0.0,116.8 -1.0,116.8M183.0,127.8 181.0,127.8 179.0,127.8 177.0,127.8 175.0,127.7 173.0,127.4 171.8,127.0 170.0,126.3 169.0,125.8 167.0,125.0 166.0,124.8 164.0,124.7 162.4,125.0 161.0,125.4 160.0,126.1 159.0,127.1 158.1,129.0 157.9,130.0 157.6,132.0 157.3,134.0 157.0,135.0 156.0,136.0 154.0,136.7 153.0,137.0 151.0,137.8 150.0,138.3 148.2,139.0 147.0,139.4 145.0,139.7 143.0,139.8 141.0,140.0 140.0,140.1 138.0,140.7 137.0,141.3 136.0,142.2 135.3,144.0 136.0,145.8 137.0,146.7 138.0,147.3 140.0,147.9 141.0,148.0 143.0,148.2 145.0,148.4 146.7,149.0 148.0,149.9 148.9,151.0 149.3,152.0 149.7,154.0 149.8,156.0 149.8,158.0 149.8,160.0 149.8,162.0 149.8,164.0 149.8,166.0 149.8,168.0 149.8,170.0 149.8,172.0 149.8,174.0 149.8,176.0 149.8,178.0 149.8,180.0 149.8,182.0 149.8,184.0 149.8,185.0M170.2,185.0 170.2,183.0 170.2,181.0 170.2,179.0 170.2,177.0 170.2,175.0 170.2,173.0 170.2,171.0 170.1,169.0 170.1,167.0 170.0,165.7 169.7,164.0 169.0,162.3 168.0,161.1 167.0,160.3 166.0,159.9 164.0,159.3 163.0,158.7 162.0,157.5 161.6,156.0 161.4,154.0 161.4,152.0 161.4,150.0 161.4,148.0 161.4,146.0 161.5,144.0 162.0,142.0 163.0,141.0 164.0,140.6 166.0,140.2 167.0,140.0 169.0,139.2 170.0,138.7 171.8,138.0 173.0,137.6 175.0,137.3 177.0,137.2 179.0,137.2 181.0,137.2 183.0,137.2M101.2,185.0 101.2,183.0 101.2,181.0 101.2,179.0 101.2,177.0 101.2,175.0 101.2,173.0 101.2,171.0 101.2,169.0 101.2,167.0 101.4,165.0 102.0,163.0 102.4,162.0 103.0,160.7 103.9,159.0 104.4,158.0 104.9,156.0 104.6,154.0 104.0,153.0 103.0,151.9 101.6,151.0 100.0,150.4 98.0,150.1 97.0,150.0 95.0,149.9 93.0,149.7 91.0,149.2 90.0,148.8 88.1,148.0 87.0,147.5 85.0,147.2 83.0,147.6 82.0,148.1 80.3,149.0 79.0,149.6 78.0,150.0 76.0,150.6 74.0,150.8 72.5,151.0 71.0,151.3 69.4,152.0 68.1,153.0 67.3,154.0 66.9,155.0 66.4,157.0 66.0,158.0 65.0,159.0 63.0,159.6 61.4,160.0 60.0,160.5 59.0,161.0 57.5,162.0 56.0,162.9 55.0,163.5 53.6,164.0 52.0,164.6 50.6,165.0 49.5,166.0 49.5,168.0 50.6,169.0 52.0,169.5 53.2,170.0 54.9,171.0 56.0,172.0 56.7,173.0 57.1,174.0 57.6,176.0 57.8,178.0 57.8,180.0 57.8,182.0 57.8,184.0 57.8,185.0M70.4,185.0 70.4,183.0 70.4,181.0 70.4,179.0 70.4,177.0 70.4,175.0 70.4,173.0 70.4,171.0 70.4,169.0 70.5,167.0 71.0,165.0 72.0,164.1 73.0,163.8 75.0,163.9 76.0,164.4 77.0,165.7 77.4,167.0 77.6,169.0 77.6,171.0 77.6,173.0 77.6,175.0 77.6,177.0 77.6,179.0 77.6,181.0 77.6,183.0 77.6,185.0M114.7,-1.0 114.7,1.0 114.7,3.0 114.7,5.0 114.8,7.0 115.0,8.1 115.6,10.0 116.2,11.0 117.2,12.0 119.0,12.9 120.0,13.1 122.0,13.8 123.0,14.7 123.6,16.0 124.0,17.2 124.5,19.0 125.0,20.3 125.6,22.0 126.0,23.1 126.4,25.0 126.6,27.0 126.7,29.0 126.7,31.0 126.7,33.0 126.7,35.0 126.7,37.0 126.7,39.0 126.6,41.0 126.1,43.0 125.7,44.0 124.9,45.0 123.3,46.0 122.0,46.4 120.0,46.7 118.0,47.0 117.0,47.4 116.0,48.0 115.0,49.9 114.8,51.0 114.6,53.0 114.2,55.0 113.7,56.0 112.9,57.0 111.3,58.0 110.0,58.4 108.0,58.6 106.0,58.4 104.7,58.0 103.1,57.0 102.3,56.0 101.9,55.0 101.4,53.0 101.3,51.0 101.3,49.0 101.3,47.0 101.3,45.0 101.3,43.0 101.2,41.0 101.1,39.0 100.8,38.0 100.0,36.8 98.4,36.0 97.0,35.8 95.0,35.6 93.0,35.2 92.0,34.7 91.0,33.9 90.0,32.3 89.6,31.0 89.3,29.0 89.3,27.0 89.3,25.0 89.3,23.0 89.3,21.0 89.3,19.0 89.3,17.0 89.6,15.0 90.0,13.7 91.0,12.1 92.0,11.3 93.0,10.8 95.0,10.4 97.0,10.2 98.1,10.0 100.0,9.0 100.6,8.0 101.0,7.0 101.2,5.0 101.3,3.0 101.3,1.0 101.3,-1.0M156.0,58.0 154.0,58.5 152.0,58.4 150.7,58.0 149.1,57.0 148.3,56.0 147.9,55.0 147.4,53.0 147.2,51.0 147.0,49.2 146.5,48.0 145.0,47.0 144.0,46.9 142.0,46.7 140.0,46.4 138.7,46.0 137.1,45.0 136.3,44.0 135.9,43.0 135.4,41.0 135.3,39.0 135.3,37.0 135.3,35.0 135.3,33.0 135.3,31.0 135.3,29.0 135.3,27.0 135.3,25.0 135.3,23.0 135.3,21.0 135.3,19.0 135.3,17.0 135.6,15.0 136.0,13.7 137.0,12.1 138.0,11.3 139.0,10.9 141.0,10.4 143.0,10.4 145.0,10.6 146.3,11.0 147.9,12.0 148.7,13.0 149.1,14.0 149.6,16.0 149.7,18.0 149.7,20.0 149.7,22.0 149.7,24.0 149.7,26.0 149.7,28.0 149.7,30.0 149.7,32.0 149.7,34.0 149.7,36.0 149.7,38.0 149.8,40.0 150.0,41.8 150.5,43.0 152.0,44.0 153.0,44.2 155.0,44.8 156.0,45.4 157.0,46.5 157.7,48.0 158.0,49.0 158.2,51.0 158.2,53.0 158.0,55.0 157.7,56.0 157.0,57.3 156.0,58.0ZM183.0,30.7 181.0,30.7 179.0,30.7 177.0,30.7 175.0,30.7 173.0,30.7 171.0,30.7 169.0,30.7 167.0,30.7 165.0,30.6 163.0,30.2 162.0,29.5 161.5,28.0 161.9,26.0 162.8,25.0 164.0,24.5 166.0,24.2 168.0,24.1 170.0,24.1 172.0,24.1 174.0,24.1 176.0,24.1 178.0,24.1 180.0,24.1 182.0,24.1 183.0,24.1M77.0,69.1 75.0,69.5 73.0,69.5 71.0,69.1 70.0,68.7 69.0,67.9 68.0,66.3 67.6,65.0 67.4,63.0 67.6,61.0 68.0,59.7 69.0,58.1 70.0,57.3 71.0,56.9 73.0,56.5 75.0,56.5 77.0,56.9 78.0,57.3 79.0,58.1 80.0,59.7 80.4,61.0 80.6,63.0 80.4,65.0 80.0,66.3 79.0,67.9 78.0,68.7 77.0,69.1ZM-1.0,70.1 1.0,70.1 3.0,70.1 5.0,70.3 6.7,71.0 7.8,72.0 8.4,73.0 8.8,75.0 8.9,77.0 8.9,79.0 8.9,81.0 8.9,83.0 8.9,85.0 8.6,87.0 8.0,88.2 7.0,89.2 5.0,89.8 3.0,89.9 1.0,89.9 -1.0,89.9M88.0,127.1 86.0,127.6 84.0,127.6 82.0,127.4 80.1,127.0 79.0,126.6 77.3,126.0 76.0,125.5 74.0,125.1 73.0,125.0 71.0,124.9 69.0,124.9 67.0,124.9 65.0,124.9 63.0,124.8 61.0,124.5 59.8,124.0 58.9,123.0 58.3,121.0 58.3,119.0 59.0,117.5 61.0,117.1 63.0,117.1 65.0,117.1 67.0,117.1 69.0,117.1 71.0,117.1 72.8,117.0 74.0,116.9 76.0,116.2 77.0,115.6 78.0,114.8 79.0,113.8 80.0,112.3 80.6,111.0 80.7,109.0 80.0,107.1 79.4,106.0 78.9,105.0 78.0,103.0 77.7,102.0 77.3,100.0 77.2,98.0 77.2,96.0 77.2,94.0 77.2,92.0 77.2,90.0 77.2,88.0 77.2,86.0 77.4,84.0 77.9,82.0 78.5,81.0 79.3,80.0 80.9,79.0 82.0,78.6 84.0,78.3 86.0,78.2 88.0,78.2 90.0,78.2 92.0,78.2 94.0,78.2 96.0,78.2 98.0,78.2 100.0,78.2 102.0,78.2 104.0,78.2 106.0,78.2 108.0,78.2 110.0,78.2 112.0,78.1 113.0,78.0 114.7,77.0 115.0,75.6 115.2,74.0 115.8,72.0 116.8,71.0 118.0,70.5 120.0,70.3 122.0,70.9 123.0,71.8 123.5,73.0 123.7,75.0 123.2,77.0 122.2,78.0 121.0,78.6 119.0,78.9 118.0,79.1 116.4,80.0 116.0,81.2 115.9,83.0 115.8,85.0 115.7,87.0 115.4,89.0 115.0,90.1 114.0,91.7 113.0,92.5 112.0,93.1 110.0,93.6 108.0,94.0 107.0,94.3 105.9,95.0 105.0,97.0 104.9,98.0 104.7,100.0 104.3,102.0 104.0,103.0 103.1,105.0 102.6,106.0 102.0,107.1 101.2,109.0 100.9,110.0 100.2,112.0 99.3,113.0 98.0,113.6 96.0,114.0 95.0,114.2 93.4,115.0 92.6,116.0 92.0,117.6 91.8,119.0 91.7,121.0 91.4,123.0 91.0,124.3 90.0,125.9 89.0,126.7 88.0,127.1ZM144.0,89.3 142.0,89.6 140.0,89.1 139.0,88.2 138.5,87.0 138.5,85.0 139.0,83.8 140.0,82.9 142.0,82.3 144.0,82.5 145.2,83.0 146.1,84.0 146.5,86.0 146.0,87.7 145.0,88.8 144.0,89.3ZM57.0,116.1 55.0,116.6 53.0,116.7 51.0,116.6 49.0,116.4 47.7,116.0 46.1,115.0 45.3,114.0 44.9,113.0 44.4,111.0 44.4,109.0 44.6,107.0 45.0,105.7 46.0,104.1 47.0,103.3 48.0,102.9 50.0,102.5 52.0,102.5 54.0,102.9 55.0,103.3 56.0,104.1 57.0,105.7 57.4,107.0 57.6,109.0 57.7,111.0 57.7,113.0 57.5,115.0 57.0,116.1ZM122.0,124.1 120.0,124.7 118.0,124.5 116.8,124.0 115.9,123.0 115.4,121.0 115.9,119.0 116.8,118.0 118.0,117.5 120.0,117.3 122.0,117.9 123.0,118.8 123.5,120.0 123.5,122.0 123.0,123.2 122.0,124.1Z" fill="none" stroke="#10103a" stroke-width="1.7" stroke-linejoin="round"/>
</g>
<line x1="96.4" x2="279.4" y1="618.1" y2="618.1" stroke="#000" stroke-width="1.1" opacity="0.5"/>
<line x1="96.4" x2="279.4" y1="652.0" y2="652.0" stroke="#000" stroke-width="1.1" opacity="0.5"/>
<line x1="96.4" x2="279.4" y1="685.4" y2="685.4" stroke="#000" stroke-width="1.1" opacity="0.5"/>
<line x1="96.4" x2="279.4" y1="719.2" y2="719.2" stroke="#000" stroke-width="1.1" opacity="0.5"/>
<line x1="96.4" x2="279.4" y1="752.7" y2="752.7" stroke="#000" stroke-width="1.1" opacity="0.5"/>
<line x1="145.5" x2="145.5" y1="597.9" y2="782.5" stroke="#000" stroke-width="1.1" opacity="0.5"/>
<line x1="224.4" x2="224.4" y1="597.9" y2="782.5" stroke="#000" stroke-width="1.1" opacity="0.5"/>
<path d="M96.4,611.4h2M279.4,611.4h-2M96.4,618.1h3.5M279.4,618.1h-3.5M96.4,624.8h2M279.4,624.8h-2M96.4,631.6h2M279.4,631.6h-2M96.4,638.3h2M279.4,638.3h-2M96.4,645.0h2M279.4,645.0h-2M96.4,651.8h3.5M279.4,651.8h-3.5M96.4,658.5h2M279.4,658.5h-2M96.4,665.2h2M279.4,665.2h-2M96.4,671.9h2M279.4,671.9h-2M96.4,678.7h2M279.4,678.7h-2M96.4,685.4h3.5M279.4,685.4h-3.5M96.4,692.1h2M279.4,692.1h-2M96.4,698.9h2M279.4,698.9h-2M96.4,705.6h2M279.4,705.6h-2M96.4,712.3h2M279.4,712.3h-2M96.4,719.1h3.5M279.4,719.1h-3.5M96.4,725.8h2M279.4,725.8h-2M96.4,732.5h2M279.4,732.5h-2M96.4,739.2h2M279.4,739.2h-2M96.4,746.0h2M279.4,746.0h-2M96.4,752.7h3.5M279.4,752.7h-3.5M96.4,759.4h2M279.4,759.4h-2M96.4,766.2h2M279.4,766.2h-2M96.4,772.9h2M279.4,772.9h-2M96.4,779.6h2M279.4,779.6h-2M106.0,782.5v-2M106.0,597.9v2M115.9,782.5v-2M115.9,597.9v2M125.8,782.5v-2M125.8,597.9v2M135.6,782.5v-2M135.6,597.9v2M145.5,782.5v-3.5M145.5,597.9v3.5M155.4,782.5v-2M155.4,597.9v2M165.2,782.5v-2M165.2,597.9v2M175.1,782.5v-2M175.1,597.9v2M184.9,782.5v-2M184.9,597.9v2M194.8,782.5v-2M194.8,597.9v2M204.7,782.5v-2M204.7,597.9v2M214.5,782.5v-2M214.5,597.9v2M224.4,782.5v-3.5M224.4,597.9v3.5M234.3,782.5v-2M234.3,597.9v2M244.1,782.5v-2M244.1,597.9v2M254.0,782.5v-2M254.0,597.9v2M263.9,782.5v-2M263.9,597.9v2M273.7,782.5v-2M273.7,597.9v2" stroke="#000" stroke-width="0.8" fill="none"/>
<rect x="104.4" y="609.9" width="18" height="15" fill="#fff"/>
<text x="113.9" y="621.5" font-family="'Liberation Serif','DejaVu Serif',serif" font-size="17" text-anchor="middle" fill="#111">m</text>
<rect x="97.0" y="780.3" width="38" height="2.7" fill="#fff"/>
<rect x="97.0" y="748.0" width="38" height="32.3" fill="#d9d9d9"/>
<text x="102.0" y="769.0" font-family="'Liberation Serif','DejaVu Serif',serif" font-size="16" fill="#222"><tspan font-style="italic">β</tspan><tspan dy="4" font-size="10">3</tspan><tspan dx="-6" dy="-12" font-size="9">min</tspan></text>
</g>
<rect x="96.4" y="597.9" width="183.0" height="184.6" fill="none" stroke="#000" stroke-width="1.6"/>
<rect x="286.4" y="597.9" width="7.1" height="184.6" fill="url(#gbeta)" stroke="#000" stroke-width="1.4"/>
<line x1="286.4" x2="293.5" y1="610.2" y2="610.2" stroke="#000" stroke-width="0.9" opacity="0.8"/>
<text x="297.4" y="613.6" font-family="'DejaVu Sans','Liberation Sans',sans-serif" font-size="12.7" fill="#111">2.10</text>
<line x1="286.4" x2="293.5" y1="638.7" y2="638.7" stroke="#000" stroke-width="0.9" opacity="0.8"/>
<text x="297.4" y="642.1" font-family="'DejaVu Sans','Liberation Sans',sans-serif" font-size="12.7" fill="#111">2.03</text>
<line x1="286.4" x2="293.5" y1="667.2" y2="667.2" stroke="#000" stroke-width="0.9" opacity="0.8"/>
<text x="297.4" y="670.6" font-family="'DejaVu Sans','Liberation Sans',sans-serif" font-size="12.7" fill="#111">1.96</text>
<line x1="286.4" x2="293.5" y1="696.4" y2="696.4" stroke="#000" stroke-width="0.9" opacity="0.8"/>
<text x="297.4" y="699.8" font-family="'DejaVu Sans','Liberation Sans',sans-serif" font-size="12.7" fill="#111">1.89</text>
<line x1="286.4" x2="293.5" y1="724.9" y2="724.9" stroke="#000" stroke-width="0.9" opacity="0.8"/>
<text x="297.4" y="728.3" font-family="'DejaVu Sans','Liberation Sans',sans-serif" font-size="12.7" fill="#111">1.82</text>
<line x1="286.4" x2="293.5" y1="753.4" y2="753.4" stroke="#000" stroke-width="0.9" opacity="0.8"/>
<text x="297.4" y="756.8" font-family="'DejaVu Sans','Liberation Sans',sans-serif" font-size="12.7" fill="#111">1.75</text>
<text transform="translate(346.5,690.2) rotate(-90)" text-anchor="middle" font-family="'Liberation Serif','DejaVu Serif',serif" font-size="16.5" fill="#555"><tspan font-style="italic">β</tspan><tspan baseline-shift="sub" font-size="70%">3</tspan><tspan baseline-shift="super" font-size="70%">min</tspan></text>
<clipPath id="cpn"><rect x="371.3" y="597.9" width="184.0" height="184.6"/></clipPath>
<g clip-path="url(#cpn)">
<clipPath id="fpn"><path clip-rule="evenodd" transform="translate(371.30,597.90)" d="M114.0,184.1 112.0,184.3 110.0,184.4 108.0,184.5 106.0,184.5 104.0,184.5 102.0,184.5 100.0,184.5 98.0,184.5 96.0,184.5 94.0,184.5 92.0,184.5 90.0,184.5 88.0,184.5 86.0,184.5 84.0,184.5 82.0,184.5 80.0,184.5 78.0,184.5 76.0,184.5 74.0,184.5 72.0,184.5 70.0,184.5 68.0,184.5 66.0,184.5 64.0,184.5 62.0,184.5 60.0,184.5 58.0,184.5 56.0,184.5 54.0,184.5 52.0,184.5 50.0,184.4 48.0,184.3 46.0,184.1 45.5,183.0 45.4,181.0 45.1,179.0 44.8,178.0 44.0,176.5 43.0,175.3 42.0,174.6 40.6,174.0 39.0,174.0 38.0,174.3 36.9,175.0 35.9,176.0 35.0,177.3 34.4,179.0 34.1,181.0 34.0,183.0 34.0,184.0 32.0,184.3 30.0,184.4 28.0,184.5 26.0,184.5 24.0,184.5 22.0,184.5 20.0,184.5 18.0,184.5 16.0,184.5 14.0,184.5 12.0,184.5 10.0,184.5 8.0,184.5 6.0,184.5 4.0,184.5 2.0,184.5 0.0,184.5 -0.5,183.0 -0.5,181.0 -0.5,179.0 -0.5,177.0 -0.5,175.0 -0.5,173.0 -0.5,171.0 -0.5,169.0 -0.5,167.0 -0.5,165.0 -0.5,163.0 -0.5,161.0 -0.5,159.0 -0.5,157.0 -0.4,155.0 -0.3,153.0 -0.2,151.0 0.0,149.8 2.0,149.8 4.0,149.6 6.0,149.1 7.0,148.6 8.0,147.9 9.0,146.8 10.0,145.0 10.1,144.0 9.9,143.0 9.0,141.2 8.0,140.2 7.0,139.5 6.0,138.9 4.0,138.4 2.0,138.3 0.0,138.3 -0.2,137.0 -0.4,135.0 -0.4,133.0 -0.5,131.0 -0.5,129.0 -0.5,127.0 -0.5,125.0 -0.5,123.0 -0.5,121.0 -0.5,119.0 -0.5,117.0 -0.5,115.0 -0.5,113.0 -0.5,111.0 -0.5,109.0 -0.5,107.0 -0.5,105.0 -0.5,103.0 -0.5,101.0 -0.5,99.0 -0.5,97.0 -0.5,95.0 -0.5,93.0 -0.5,91.0 -0.5,89.0 -0.5,87.0 -0.5,85.0 -0.5,83.0 -0.5,81.0 -0.5,79.0 -0.5,77.0 -0.5,75.0 -0.5,73.0 -0.5,71.0 -0.5,69.0 -0.5,67.0 -0.5,65.0 -0.5,63.0 -0.5,61.0 -0.5,59.0 -0.5,57.0 -0.5,55.0 -0.5,53.0 -0.4,51.0 -0.4,49.0 -0.2,47.0 0.0,45.8 2.0,45.8 4.0,45.8 6.0,45.8 8.0,45.8 10.0,45.8 12.0,45.8 14.0,45.8 16.0,45.8 18.0,45.8 20.0,45.8 22.0,45.8 24.0,45.7 26.0,45.7 28.0,45.4 29.1,45.0 30.8,44.0 31.9,43.0 32.6,42.0 33.2,41.0 33.8,39.0 34.0,37.0 34.0,35.0 34.0,34.0 34.0,32.0 34.1,30.0 34.6,28.0 35.0,27.0 36.0,25.5 37.0,24.5 38.0,23.7 39.1,23.0 40.8,22.0 42.0,21.2 43.0,20.3 44.0,19.2 44.8,18.0 45.4,17.0 46.0,16.0 47.0,14.5 48.0,13.4 49.0,12.5 50.0,11.8 51.4,11.0 53.0,10.0 54.0,9.2 55.0,8.2 55.8,7.0 56.3,6.0 56.8,4.0 57.0,2.0 57.0,0.0 58.0,-0.1 60.0,-0.3 62.0,-0.4 64.0,-0.5 66.0,-0.5 68.0,-0.5 70.0,-0.5 72.0,-0.5 74.0,-0.5 76.0,-0.5 78.0,-0.5 80.0,-0.5 82.0,-0.5 84.0,-0.5 86.0,-0.5 88.0,-0.5 90.0,-0.5 92.0,-0.5 94.0,-0.5 96.0,-0.5 98.0,-0.5 100.0,-0.5 102.0,-0.5 104.0,-0.5 106.0,-0.5 108.0,-0.5 110.0,-0.5 112.0,-0.5 114.0,-0.5 116.0,-0.5 118.0,-0.5 120.0,-0.5 122.0,-0.5 124.0,-0.5 126.0,-0.5 128.0,-0.5 130.0,-0.5 132.0,-0.5 134.0,-0.5 136.0,-0.5 138.0,-0.5 140.0,-0.5 142.0,-0.5 144.0,-0.5 146.0,-0.5 148.0,-0.5 150.0,-0.5 152.0,-0.5 154.0,-0.5 156.0,-0.4 158.0,-0.3 160.0,-0.1 160.5,1.0 160.6,3.0 160.9,5.0 161.2,6.0 162.0,7.5 163.0,8.7 164.0,9.6 165.0,10.3 166.1,11.0 167.8,12.0 169.0,12.9 170.0,13.9 170.8,15.0 171.3,16.0 171.8,18.0 172.0,20.0 172.0,22.0 172.0,24.0 172.0,26.0 172.0,28.0 172.0,30.0 172.0,32.0 172.0,34.0 172.0,36.0 172.0,38.0 172.0,40.0 172.0,42.0 172.0,44.0 172.0,46.0 172.0,48.0 172.1,50.0 172.6,52.0 173.0,53.0 174.0,54.4 175.0,55.4 176.0,56.1 178.0,56.9 179.0,57.1 181.0,57.3 183.0,57.3 183.2,59.0 183.4,61.0 183.5,63.0 183.5,65.0 183.5,67.0 183.5,69.0 183.5,71.0 183.5,73.0 183.5,75.0 183.5,77.0 183.5,79.0 183.5,81.0 183.5,83.0 183.5,85.0 183.5,87.0 183.5,89.0 183.5,91.0 183.5,93.0 183.5,95.0 183.5,97.0 183.5,99.0 183.5,101.0 183.5,103.0 183.5,105.0 183.5,107.0 183.5,109.0 183.4,111.0 183.3,113.0 183.0,115.0 182.0,115.1 180.0,115.1 178.0,115.1 176.0,115.1 174.0,115.1 172.0,115.1 170.0,115.1 168.0,115.2 166.0,115.6 165.0,116.1 163.6,117.0 162.6,118.0 161.9,119.0 161.4,121.0 162.0,123.0 162.7,124.0 163.7,125.0 165.0,125.9 166.0,126.5 167.0,127.1 168.3,128.0 169.5,129.0 170.4,130.0 171.1,131.0 172.0,132.5 172.9,134.0 173.7,135.0 174.6,136.0 175.9,137.0 177.0,137.6 178.6,138.0 180.0,138.2 182.0,138.2 183.1,139.0 183.3,141.0 183.4,143.0 183.5,145.0 183.5,147.0 183.5,149.0 183.5,151.0 183.5,153.0 183.5,155.0 183.4,157.0 183.3,159.0 183.1,161.0 182.0,161.4 180.0,161.4 178.0,161.7 177.0,162.1 175.4,163.0 174.2,164.0 173.4,165.0 172.7,166.0 172.0,167.2 171.0,168.8 170.1,170.0 169.0,171.0 168.0,171.7 167.0,172.2 165.0,172.8 163.0,172.9 161.0,172.9 159.0,172.9 157.0,172.9 155.0,172.9 153.0,172.9 151.0,172.9 149.0,172.9 147.0,172.9 145.0,172.9 143.0,172.9 141.0,172.9 139.0,172.9 137.0,172.9 135.0,172.9 133.0,172.9 131.0,172.9 129.0,172.9 127.0,172.9 125.0,172.9 123.0,173.0 122.0,173.0 120.0,173.4 118.7,174.0 117.3,175.0 116.4,176.0 115.7,177.0 115.0,178.5 114.7,180.0 114.5,182.0 114.5,184.0 114.0,184.1ZM137.2,14.6a4.6,4.6 0 1,0 9.2,0a4.6,4.6 0 1,0 -9.2,0Z"/></clipPath>
<g clip-path="url(#fpn)"><g filter="url(#bl)">
<rect x="363.30" y="589.90" width="43.10" height="20.14" fill="#802040"/>
<rect x="405.80" y="589.90" width="46.60" height="20.14" fill="#7676ec"/>
<rect x="451.80" y="589.90" width="12.10" height="20.14" fill="#a4a4b0"/>
<rect x="463.30" y="589.90" width="12.10" height="20.14" fill="#f0f0d8"/>
<rect x="474.80" y="589.90" width="12.10" height="20.14" fill="#dcdc90"/>
<rect x="486.30" y="589.90" width="58.10" height="20.14" fill="#7676ec"/>
<rect x="543.80" y="589.90" width="20.10" height="20.14" fill="#c8c030"/>
<rect x="363.30" y="609.44" width="54.60" height="12.14" fill="#802040"/>
<rect x="417.30" y="609.44" width="23.60" height="12.14" fill="#7676ec"/>
<rect x="440.30" y="609.44" width="23.60" height="12.14" fill="#c8c030"/>
<rect x="463.30" y="609.44" width="12.10" height="12.14" fill="#f0f0d8"/>
<rect x="474.80" y="609.44" width="12.10" height="12.14" fill="#c8c030"/>
<rect x="486.30" y="609.44" width="46.60" height="12.14" fill="#7676ec"/>
<rect x="532.30" y="609.44" width="31.60" height="12.14" fill="#c8c030"/>
<rect x="363.30" y="620.98" width="66.10" height="12.14" fill="#802040"/>
<rect x="428.80" y="620.98" width="12.10" height="12.14" fill="#7676ec"/>
<rect x="440.30" y="620.98" width="12.10" height="12.14" fill="#a4a4b0"/>
<rect x="451.80" y="620.98" width="23.60" height="12.14" fill="#f0f0d8"/>
<rect x="474.80" y="620.98" width="12.10" height="12.14" fill="#c8c030"/>
<rect x="486.30" y="620.98" width="12.10" height="12.14" fill="#f0f0d8"/>
<rect x="497.80" y="620.98" width="12.10" height="12.14" fill="#7676ec"/>
<rect x="509.30" y="620.98" width="12.10" height="12.14" fill="#f0f0d8"/>
<rect x="520.80" y="620.98" width="12.10" height="12.14" fill="#7676ec"/>
<rect x="532.30" y="620.98" width="31.60" height="12.14" fill="#c8c030"/>
<rect x="363.30" y="632.51" width="31.60" height="12.14" fill="#802040"/>
<rect x="394.30" y="632.51" width="12.10" height="12.14" fill="#200008"/>
<rect x="405.80" y="632.51" width="12.10" height="12.14" fill="#802040"/>
<rect x="417.30" y="632.51" width="23.60" height="12.14" fill="#7676ec"/>
<rect x="440.30" y="632.51" width="23.60" height="12.14" fill="#c8c030"/>
<rect x="463.30" y="632.51" width="35.10" height="12.14" fill="#f0f0d8"/>
<rect x="497.80" y="632.51" width="12.10" height="12.14" fill="#7676ec"/>
<rect x="509.30" y="632.51" width="12.10" height="12.14" fill="#f0f0d8"/>
<rect x="520.80" y="632.51" width="12.10" height="12.14" fill="#c8c030"/>
<rect x="532.30" y="632.51" width="31.60" height="12.14" fill="#283070"/>
<rect x="363.30" y="644.05" width="31.60" height="12.14" fill="#802040"/>
<rect x="394.30" y="644.05" width="12.10" height="12.14" fill="#200008"/>
<rect x="405.80" y="644.05" width="46.60" height="12.14" fill="#7676ec"/>
<rect x="451.80" y="644.05" width="12.10" height="12.14" fill="#c8c030"/>
<rect x="463.30" y="644.05" width="12.10" height="12.14" fill="#f0f0d8"/>
<rect x="474.80" y="644.05" width="23.60" height="12.14" fill="#c8c030"/>
<rect x="497.80" y="644.05" width="12.10" height="12.14" fill="#7676ec"/>
<rect x="509.30" y="644.05" width="12.10" height="12.14" fill="#c8c030"/>
<rect x="520.80" y="644.05" width="12.10" height="12.14" fill="#f0f0d8"/>
<rect x="532.30" y="644.05" width="31.60" height="12.14" fill="#283070"/>
<rect x="363.30" y="655.59" width="20.10" height="12.14" fill="#c8c030"/>
<rect x="382.80" y="655.59" width="12.10" height="12.14" fill="#7676ec"/>
<rect x="394.30" y="655.59" width="12.10" height="12.14" fill="#e01030"/>
<rect x="405.80" y="655.59" width="35.10" height="12.14" fill="#7676ec"/>
<rect x="440.30" y="655.59" width="23.60" height="12.14" fill="#c8c030"/>
<rect x="463.30" y="655.59" width="12.10" height="12.14" fill="#7676ec"/>
<rect x="474.80" y="655.59" width="46.60" height="12.14" fill="#c8c030"/>
<rect x="520.80" y="655.59" width="43.10" height="12.14" fill="#7676ec"/>
<rect x="363.30" y="667.12" width="20.10" height="12.14" fill="#f0f0d8"/>
<rect x="382.80" y="667.12" width="12.10" height="12.14" fill="#c8c030"/>
<rect x="394.30" y="667.12" width="12.10" height="12.14" fill="#802040"/>
<rect x="405.80" y="667.12" width="69.60" height="12.14" fill="#7676ec"/>
<rect x="474.80" y="667.12" width="23.60" height="12.14" fill="#c8c030"/>
<rect x="497.80" y="667.12" width="12.10" height="12.14" fill="#7676ec"/>
<rect x="509.30" y="667.12" width="12.10" height="12.14" fill="#c8c030"/>
<rect x="520.80" y="667.12" width="43.10" height="12.14" fill="#7676ec"/>
<rect x="363.30" y="678.66" width="43.10" height="12.14" fill="#c8c030"/>
<rect x="405.80" y="678.66" width="46.60" height="12.14" fill="#7676ec"/>
<rect x="451.80" y="678.66" width="23.60" height="12.14" fill="#f0f0d8"/>
<rect x="474.80" y="678.66" width="23.60" height="12.14" fill="#c8c030"/>
<rect x="497.80" y="678.66" width="12.10" height="12.14" fill="#7676ec"/>
<rect x="509.30" y="678.66" width="12.10" height="12.14" fill="#c8c030"/>
<rect x="520.80" y="678.66" width="43.10" height="12.14" fill="#7676ec"/>
<rect x="363.30" y="690.20" width="20.10" height="12.14" fill="#7676ec"/>
<rect x="382.80" y="690.20" width="12.10" height="12.14" fill="#c8c030"/>
<rect x="394.30" y="690.20" width="12.10" height="12.14" fill="#7676ec"/>
<rect x="405.80" y="690.20" width="12.10" height="12.14" fill="#c8c030"/>
<rect x="417.30" y="690.20" width="12.10" height="12.14" fill="#7676ec"/>
<rect x="428.80" y="690.20" width="23.60" height="12.14" fill="#c8c030"/>
<rect x="451.80" y="690.20" width="12.10" height="12.14" fill="#f0f0d8"/>
<rect x="463.30" y="690.20" width="23.60" height="12.14" fill="#c8c030"/>
<rect x="486.30" y="690.20" width="77.60" height="12.14" fill="#7676ec"/>
<rect x="363.30" y="701.74" width="31.60" height="12.14" fill="#c8c030"/>
<rect x="394.30" y="701.74" width="23.60" height="12.14" fill="#7676ec"/>
<rect x="417.30" y="701.74" width="35.10" height="12.14" fill="#c8c030"/>
<rect x="451.80" y="701.74" width="12.10" height="12.14" fill="#a4a4b0"/>
<rect x="463.30" y="701.74" width="12.10" height="12.14" fill="#c8c030"/>
<rect x="474.80" y="701.74" width="58.10" height="12.14" fill="#7676ec"/>
<rect x="532.30" y="701.74" width="12.10" height="12.14" fill="#e01030"/>
<rect x="543.80" y="701.74" width="20.10" height="12.14" fill="#7676ec"/>
<rect x="363.30" y="713.27" width="31.60" height="12.14" fill="#802040"/>
<rect x="394.30" y="713.27" width="23.60" height="12.14" fill="#7676ec"/>
<rect x="417.30" y="713.27" width="35.10" height="12.14" fill="#c8c030"/>
<rect x="451.80" y="713.27" width="35.10" height="12.14" fill="#7676ec"/>
<rect x="486.30" y="713.27" width="23.60" height="12.14" fill="#c8c030"/>
<rect x="509.30" y="713.27" width="12.10" height="12.14" fill="#7676ec"/>
<rect x="520.80" y="713.27" width="23.60" height="12.14" fill="#283070"/>
<rect x="543.80" y="713.27" width="20.10" height="12.14" fill="#7676ec"/>
<rect x="363.30" y="724.81" width="20.10" height="12.14" fill="#7676ec"/>
<rect x="382.80" y="724.81" width="12.10" height="12.14" fill="#802040"/>
<rect x="394.30" y="724.81" width="23.60" height="12.14" fill="#7676ec"/>
<rect x="417.30" y="724.81" width="12.10" height="12.14" fill="#c8c030"/>
<rect x="428.80" y="724.81" width="92.60" height="12.14" fill="#7676ec"/>
<rect x="520.80" y="724.81" width="12.10" height="12.14" fill="#e01030"/>
<rect x="532.30" y="724.81" width="31.60" height="12.14" fill="#200008"/>
<rect x="363.30" y="736.35" width="43.10" height="12.14" fill="#7676ec"/>
<rect x="405.80" y="736.35" width="12.10" height="12.14" fill="#5656c4"/>
<rect x="417.30" y="736.35" width="35.10" height="12.14" fill="#7676ec"/>
<rect x="451.80" y="736.35" width="12.10" height="12.14" fill="#e01030"/>
<rect x="463.30" y="736.35" width="46.60" height="12.14" fill="#7676ec"/>
<rect x="509.30" y="736.35" width="35.10" height="12.14" fill="#e01030"/>
<rect x="543.80" y="736.35" width="20.10" height="12.14" fill="#7676ec"/>
<rect x="363.30" y="747.89" width="66.10" height="12.14" fill="#7676ec"/>
<rect x="428.80" y="747.89" width="12.10" height="12.14" fill="#e01030"/>
<rect x="440.30" y="747.89" width="12.10" height="12.14" fill="#7676ec"/>
<rect x="451.80" y="747.89" width="12.10" height="12.14" fill="#200008"/>
<rect x="463.30" y="747.89" width="12.10" height="12.14" fill="#e01030"/>
<rect x="474.80" y="747.89" width="46.60" height="12.14" fill="#7676ec"/>
<rect x="520.80" y="747.89" width="23.60" height="12.14" fill="#e01030"/>
<rect x="543.80" y="747.89" width="20.10" height="12.14" fill="#7676ec"/>
<rect x="363.30" y="759.42" width="54.60" height="12.14" fill="#7676ec"/>
<rect x="417.30" y="759.42" width="23.60" height="12.14" fill="#e01030"/>
<rect x="440.30" y="759.42" width="12.10" height="12.14" fill="#283070"/>
<rect x="451.80" y="759.42" width="23.60" height="12.14" fill="#e01030"/>
<rect x="474.80" y="759.42" width="12.10" height="12.14" fill="#7676ec"/>
<rect x="486.30" y="759.42" width="12.10" height="12.14" fill="#c8c030"/>
<rect x="497.80" y="759.42" width="23.60" height="12.14" fill="#7676ec"/>
<rect x="520.80" y="759.42" width="43.10" height="12.14" fill="#e01030"/>
<rect x="363.30" y="770.96" width="77.60" height="20.14" fill="#7676ec"/>
<rect x="440.30" y="770.96" width="35.10" height="20.14" fill="#e01030"/>
<rect x="474.80" y="770.96" width="46.60" height="20.14" fill="#7676ec"/>
<rect x="520.80" y="770.96" width="43.10" height="20.14" fill="#e01030"/>
</g>
<g fill="#100008" filter="url(#bl2)"><circle cx="400.1" cy="649.8" r="3.4"/><circle cx="538.0" cy="730.6" r="3.4"/><circle cx="457.5" cy="753.7" r="3.4"/></g>
<path transform="translate(371.30,597.90)" d="M-1.0,53.3 1.0,53.3 3.0,53.3 5.0,53.3 7.0,53.3 9.0,53.5 11.0,53.8 12.2,54.0 14.0,54.2 16.0,54.4 18.0,54.8 19.0,55.2 20.3,56.0 21.4,57.0 22.2,58.0 23.0,59.4 23.5,61.0 23.8,63.0 24.0,64.2 24.4,66.0 25.0,67.9 25.5,69.0 26.0,70.6 26.5,72.0 26.9,74.0 27.6,75.0 29.0,75.3 30.0,74.4 30.4,73.0 30.8,71.0 31.1,70.0 31.6,68.0 31.9,66.0 32.0,65.0 32.2,63.0 32.3,61.0 32.5,59.0 32.7,57.0 32.9,55.0 33.0,53.3 33.0,52.0 33.1,50.0 33.5,48.0 34.0,46.5 34.9,45.0 35.9,44.0 37.0,43.2 38.0,42.8 40.0,42.2 41.0,41.7 42.0,40.4 42.3,39.0 42.7,37.0 43.0,36.0 44.0,34.2 45.0,33.1 46.0,32.4 47.1,32.0 49.0,31.5 51.0,31.1 52.0,30.6 53.0,29.0 52.6,27.0 51.3,26.0 50.0,25.7 48.0,25.3 47.0,25.0 45.2,24.0 44.1,23.0 43.4,22.0 43.0,20.9 42.5,19.0 42.1,17.0 41.6,16.0 40.3,15.0 39.0,14.7 37.0,14.5 35.2,14.0 34.0,13.6 33.0,12.9 32.0,11.8 31.0,10.0 30.7,9.0 30.5,7.0 30.4,5.0 30.4,3.0 30.4,1.0 30.4,-1.0M167.8,116.0 168.7,115.0 169.3,114.0 169.9,112.0 170.0,111.0 170.0,109.0 169.8,108.0 169.0,106.3 168.0,105.6 166.0,105.1 164.0,105.6 163.0,106.3 162.2,108.0 162.0,109.0 161.9,111.0 162.0,112.7 162.2,114.0 163.0,115.9 164.0,116.7 166.0,116.9 167.8,116.0ZM-1.0,123.3 1.0,123.3 3.0,123.3 5.0,123.3 7.0,123.5 9.0,124.0 10.0,124.4 11.0,125.1 12.0,126.2 13.0,128.0 13.3,129.0 13.6,131.0 13.9,133.0 14.4,134.0 16.0,135.0 18.0,134.6 19.0,133.2 19.2,132.0 19.3,130.0 19.4,128.0 19.4,126.0 19.3,124.0 19.1,122.0 18.7,121.0 17.2,120.0 16.0,119.8 14.0,119.8 12.0,119.8 10.0,119.8 8.0,119.8 6.0,119.8 4.0,119.8 2.0,119.8 0.0,119.8 -1.0,119.8M184.0,127.0 182.0,127.0 180.0,127.0 178.0,126.9 176.0,126.9 174.0,126.7 172.0,126.2 171.0,125.8 169.1,125.0 168.0,124.5 166.0,124.0 165.0,123.9 163.0,123.9 162.0,124.0 160.0,124.2 158.0,124.4 156.0,124.6 154.0,124.9 153.0,125.3 152.0,126.1 151.0,127.3 150.3,129.0 150.0,130.6 149.9,132.0 149.7,134.0 149.3,136.0 148.9,137.0 148.0,138.1 146.7,139.0 145.0,139.6 143.0,139.9 142.0,140.1 140.3,141.0 139.6,142.0 139.1,144.0 139.6,146.0 140.3,147.0 142.0,147.9 143.0,148.1 145.0,148.4 146.7,149.0 148.0,149.9 148.9,151.0 149.3,152.0 149.7,154.0 149.8,156.0 149.8,158.0 149.8,160.0 149.8,162.0 149.8,164.0 149.8,166.0 149.8,168.0 149.8,170.0 149.8,172.0 149.8,174.0 149.8,176.0 149.8,178.0 149.8,180.0 149.8,182.0 149.8,184.0 149.8,185.0M184.0,162.8 182.0,162.8 180.0,162.8 178.0,162.8 176.0,162.7 174.0,162.3 173.0,161.9 171.9,161.0 171.0,159.7 170.4,158.0 170.2,156.0 170.2,154.0 170.2,152.0 170.2,150.0 170.2,148.0 170.2,146.0 170.3,144.0 170.6,142.0 171.0,141.0 172.0,139.8 173.1,139.0 175.0,138.3 177.0,138.1 179.0,138.1 181.0,138.0 183.0,138.0 184.0,138.0M101.2,185.0 101.2,183.0 101.2,181.0 101.2,179.0 101.2,177.0 101.2,175.0 101.2,173.0 101.2,171.0 101.2,169.0 101.2,167.0 101.2,165.0 101.2,163.0 101.2,161.0 101.2,159.0 101.1,157.0 101.0,155.0 100.8,154.0 100.0,152.3 99.0,151.5 97.5,151.0 96.0,150.7 94.0,150.1 93.0,149.6 92.0,148.7 91.0,147.2 90.5,146.0 90.1,144.0 89.9,143.0 89.0,141.3 88.0,140.5 86.0,140.0 84.0,140.2 82.3,141.0 81.5,142.0 81.0,143.7 80.8,145.0 80.7,147.0 80.4,149.0 80.2,151.0 80.0,153.0 80.0,154.0 79.9,156.0 79.9,158.0 79.7,160.0 79.3,162.0 78.9,163.0 78.2,165.0 77.9,166.0 77.3,168.0 76.8,169.0 75.5,170.0 74.0,170.4 72.0,170.3 71.0,169.9 70.4,168.0 70.0,166.2 69.6,165.0 69.0,163.6 68.3,162.0 67.9,161.0 67.4,159.0 67.2,157.0 67.0,155.0 66.8,154.0 66.0,152.3 65.0,151.5 63.0,151.0 61.0,151.2 59.3,152.0 58.5,153.0 58.0,154.7 57.8,156.0 57.6,158.0 57.0,159.7 56.1,161.0 55.0,161.9 54.0,162.3 52.0,162.8 50.6,163.0 49.0,163.5 48.0,164.3 47.2,166.0 47.2,168.0 48.0,169.7 49.0,170.5 50.8,171.0 52.0,171.1 54.0,171.1 56.0,171.2 58.0,171.2 60.0,171.2 62.0,171.2 64.0,171.2 66.0,171.2 68.0,171.4 69.2,172.0 69.7,174.0 69.8,176.0 69.8,178.0 69.8,180.0 69.8,182.0 69.8,184.0 69.8,185.0M-1.0,58.7 1.0,58.7 3.0,58.7 5.0,58.8 7.0,59.0 8.0,59.3 9.5,60.0 10.6,61.0 11.2,62.0 12.0,64.0 12.5,65.0 13.3,66.0 15.0,67.0 16.0,67.2 18.0,67.9 19.0,68.5 20.0,69.6 20.7,71.0 21.0,72.1 21.2,74.0 21.4,76.0 21.9,78.0 22.3,79.0 23.1,80.0 24.7,81.0 26.0,81.4 28.0,81.7 30.0,81.9 31.0,82.0 33.0,82.8 34.0,83.9 34.4,85.0 34.8,87.0 35.0,88.0 36.0,89.5 37.2,90.0 39.0,90.2 41.0,90.4 43.0,90.9 44.0,91.3 45.0,92.1 46.0,93.7 46.4,95.0 46.7,97.0 46.9,99.0 47.1,100.0 48.0,101.5 49.4,102.0 51.0,102.1 52.0,102.0 54.0,101.0 54.6,100.0 55.0,99.0 55.3,97.0 55.6,95.0 56.0,93.7 57.0,92.1 58.0,91.3 59.0,90.9 61.0,90.4 63.0,90.3 65.0,90.3 67.0,90.3 69.0,90.3 71.0,90.3 73.0,90.2 74.2,90.0 76.0,89.0 76.6,88.0 77.0,86.7 77.2,85.0 77.6,83.0 78.0,81.9 79.0,80.3 80.0,79.5 81.0,78.9 83.0,78.4 85.0,78.2 87.0,78.2 89.0,78.2 91.0,78.2 93.0,78.2 95.0,78.2 97.0,78.1 98.0,78.0 100.0,77.1 100.8,76.0 101.1,75.0 101.3,73.0 101.3,71.0 101.3,69.0 101.3,67.0 101.3,65.0 101.1,63.0 100.8,62.0 100.0,60.9 98.0,60.1 96.0,60.1 94.0,60.9 93.2,62.0 92.9,63.0 92.5,65.0 92.0,66.4 91.0,67.9 90.0,68.7 89.0,69.1 87.0,69.6 85.0,69.7 83.0,69.7 81.0,69.7 79.0,69.7 77.0,69.7 75.0,69.7 73.0,69.6 71.0,69.1 70.0,68.7 69.0,67.9 68.0,66.3 67.6,65.0 67.4,63.0 67.6,61.0 68.0,59.7 69.0,58.1 70.0,57.3 71.0,56.8 73.0,56.4 75.0,56.0 76.0,55.7 77.0,55.0 78.0,53.0 78.1,52.0 78.0,50.1 77.6,49.0 77.0,48.0 75.1,47.0 74.0,46.8 72.0,46.4 70.6,46.0 69.1,45.0 68.3,44.0 67.9,43.0 67.4,41.0 67.4,39.0 67.6,37.0 68.0,35.1 68.4,34.0 69.0,32.3 69.5,31.0 69.9,29.0 69.7,27.0 69.1,25.0 68.7,24.0 68.0,22.0 67.8,21.0 67.4,19.0 67.4,17.0 67.6,15.0 68.0,13.7 69.0,12.1 70.0,11.3 71.0,10.8 73.0,10.4 75.0,10.2 76.2,10.0 78.0,9.4 79.0,8.8 80.0,7.7 80.8,6.0 81.0,4.5 81.1,3.0 81.1,1.0 81.1,-1.0M116.4,-1.0 116.4,1.0 116.4,3.0 116.4,5.0 116.4,7.0 116.3,9.0 116.1,11.0 116.0,12.3 115.9,14.0 115.8,16.0 116.0,17.3 116.9,19.0 118.0,19.7 119.1,20.0 121.0,20.2 123.0,20.6 124.1,21.0 125.7,22.0 126.5,23.0 127.1,24.0 127.6,26.0 127.8,28.0 127.8,30.0 127.8,32.0 127.8,34.0 127.8,36.0 127.8,38.0 127.8,40.0 127.7,42.0 127.6,44.0 127.3,46.0 127.0,47.8 126.9,49.0 126.8,51.0 127.0,53.0 127.4,54.0 128.0,55.0 130.0,56.0 131.0,56.1 132.9,56.0 134.0,55.6 135.0,55.0 136.0,53.0 136.1,52.0 136.2,50.0 136.0,48.0 135.9,47.0 135.5,45.0 135.3,43.0 135.2,41.0 135.2,39.0 135.2,37.0 135.2,35.0 135.2,33.0 135.2,31.0 135.2,29.0 135.3,27.0 135.6,25.0 136.0,23.9 137.0,22.3 138.0,21.5 139.0,21.0 141.0,20.4 143.0,20.3 145.0,20.4 147.0,21.0 148.0,21.5 149.0,22.3 150.0,23.9 150.4,25.0 150.7,27.0 150.9,29.0 151.1,30.0 152.0,32.0 153.0,32.7 154.0,33.0 156.0,33.2 158.0,33.0 159.0,32.1 159.2,31.0 159.3,29.0 159.3,27.0 159.3,25.0 159.3,23.0 159.3,21.0 159.3,19.0 159.3,17.0 159.6,15.0 160.0,13.7 161.0,12.1 162.0,11.3 163.0,10.8 165.0,10.4 167.0,10.0 168.0,9.7 169.0,9.0 170.0,7.0 170.2,6.0 170.3,4.0 170.3,2.0 170.3,0.0 170.3,-1.0M184.0,33.7 182.0,33.7 180.0,33.7 178.0,33.7 176.0,33.7 174.0,33.7 172.0,33.7 170.0,33.7 168.0,33.7 166.0,33.7 164.0,33.7 162.0,33.8 160.9,34.0 160.0,35.0 159.7,37.0 159.7,39.0 159.8,41.0 160.0,43.0 160.1,44.0 160.4,46.0 160.7,48.0 160.8,50.0 160.8,52.0 160.7,54.0 160.4,56.0 160.0,57.2 159.0,58.5 158.0,59.2 156.0,59.7 154.0,59.9 153.0,60.0 151.0,60.9 150.2,62.0 149.9,63.0 149.7,65.0 149.7,67.0 149.7,69.0 149.7,71.0 149.7,73.0 149.7,75.0 149.7,77.0 149.7,79.0 149.7,81.0 149.7,83.0 149.7,85.0 149.6,87.0 149.1,89.0 148.7,90.0 147.9,91.0 146.3,92.0 145.0,92.4 143.0,92.6 141.0,92.4 139.7,92.0 138.1,91.0 137.3,90.0 136.9,89.0 136.4,87.0 136.3,85.0 136.3,83.0 136.3,81.0 136.3,79.0 136.3,77.0 136.2,75.0 136.0,73.0 135.6,72.0 135.0,71.0 133.0,70.0 132.0,69.9 130.1,70.0 129.0,70.4 128.0,71.0 127.0,73.0 126.8,74.0 126.7,76.0 126.7,78.0 126.7,80.0 126.7,82.0 126.7,84.0 126.7,86.0 126.4,88.0 126.0,89.3 125.0,90.9 124.0,91.7 123.0,92.2 121.0,92.6 119.0,93.0 118.0,93.3 117.0,94.0 116.0,95.9 115.8,97.0 115.6,99.0 115.2,101.0 114.7,102.0 113.9,103.0 112.3,104.0 111.0,104.4 109.0,104.7 107.0,105.0 106.0,105.4 105.0,106.0 104.0,107.9 103.8,109.0 103.6,111.0 103.2,113.0 102.7,114.0 101.9,115.0 100.3,116.0 99.0,116.4 97.0,116.6 95.0,116.6 93.0,116.2 92.0,116.0 90.0,115.3 89.0,114.9 87.0,114.3 85.0,114.3 83.3,115.0 82.2,116.0 81.6,117.0 81.0,118.8 80.8,120.0 80.6,122.0 80.2,124.0 79.7,125.0 78.9,126.0 77.3,127.0 76.0,127.4 74.0,127.7 72.0,127.7 70.0,127.7 68.0,127.7 66.0,127.7 64.0,127.7 62.0,127.8 61.0,128.0 59.0,129.0 58.4,130.0 58.0,131.0 57.7,133.0 57.4,135.0 57.0,136.3 56.0,137.9 55.0,138.7 54.0,139.1 52.0,139.5 50.0,139.5 48.4,139.0 47.0,138.2 46.0,137.3 45.2,136.0 44.8,135.0 44.4,133.0 44.3,131.0 44.3,129.0 44.3,127.0 44.3,125.0 44.3,123.0 44.3,121.0 44.3,119.0 44.3,117.0 44.3,115.0 44.3,113.0 44.3,111.0 44.2,109.0 44.0,107.2 43.5,106.0 42.0,105.0 41.0,104.9 39.0,104.7 37.0,104.4 35.7,104.0 34.1,103.0 33.3,102.0 32.8,101.0 32.4,99.0 32.2,97.0 32.0,95.2 31.5,94.0 30.0,93.1 29.0,92.9 27.2,93.0 26.0,93.4 25.0,94.0 24.0,96.0 23.8,97.0 23.7,99.0 23.7,101.0 23.7,103.0 23.7,105.0 23.7,107.0 23.7,109.0 23.4,111.0 23.0,112.1 22.0,113.2 20.0,114.0 19.0,114.1 17.0,114.3 15.0,114.3 13.0,114.3 11.0,114.3 9.0,114.3 7.0,114.3 5.0,114.3 3.0,114.3 1.0,114.3 -1.0,114.3M-1.0,102.3 1.0,102.3 3.0,102.3 5.0,102.2 6.0,102.0 8.0,101.0 8.6,100.0 9.0,98.9 9.1,97.0 9.0,96.0 8.0,94.0 7.0,93.4 6.0,93.0 4.0,92.8 2.0,92.7 0.0,92.7 -1.0,92.7M135.0,127.1 133.0,127.6 131.0,127.7 129.0,127.7 127.0,127.7 125.0,127.7 123.0,127.7 121.0,127.7 119.0,127.6 117.0,127.1 116.0,126.7 115.0,125.9 114.0,124.3 113.6,123.0 113.4,121.0 113.6,119.0 114.0,117.7 115.0,116.1 116.0,115.3 117.0,114.9 119.0,114.4 121.0,114.3 123.0,114.3 125.0,114.3 127.0,114.3 129.0,114.3 131.0,114.3 133.0,114.4 135.0,114.9 136.0,115.3 137.0,116.1 138.0,117.7 138.4,119.0 138.6,121.0 138.4,123.0 138.0,124.3 137.0,125.9 136.0,126.7 135.0,127.1ZM123.0,173.1 121.0,173.5 119.0,173.5 117.0,173.1 116.0,172.7 115.0,171.9 114.0,170.3 113.6,169.0 113.4,167.0 113.6,165.0 114.0,163.7 115.0,162.1 116.0,161.3 117.0,160.9 119.0,160.5 121.0,160.5 123.0,160.9 124.0,161.3 125.0,162.1 126.0,163.7 126.4,165.0 126.6,167.0 126.4,169.0 126.0,170.3 125.0,171.9 124.0,172.7 123.0,173.1Z" fill="none" stroke="#10103a" stroke-width="1.7" stroke-linejoin="round"/>
</g>
<line x1="371.3" x2="555.3" y1="618.1" y2="618.1" stroke="#000" stroke-width="1.1" opacity="0.5"/>
<line x1="371.3" x2="555.3" y1="652.0" y2="652.0" stroke="#000" stroke-width="1.1" opacity="0.5"/>
<line x1="371.3" x2="555.3" y1="685.4" y2="685.4" stroke="#000" stroke-width="1.1" opacity="0.5"/>
<line x1="371.3" x2="555.3" y1="719.2" y2="719.2" stroke="#000" stroke-width="1.1" opacity="0.5"/>
<line x1="371.3" x2="555.3" y1="752.7" y2="752.7" stroke="#000" stroke-width="1.1" opacity="0.5"/>
<line x1="420.4" x2="420.4" y1="597.9" y2="782.5" stroke="#000" stroke-width="1.1" opacity="0.5"/>
<line x1="499.3" x2="499.3" y1="597.9" y2="782.5" stroke="#000" stroke-width="1.1" opacity="0.5"/>
<path d="M371.3,611.4h2M555.3,611.4h-2M371.3,618.1h3.5M555.3,618.1h-3.5M371.3,624.8h2M555.3,624.8h-2M371.3,631.6h2M555.3,631.6h-2M371.3,638.3h2M555.3,638.3h-2M371.3,645.0h2M555.3,645.0h-2M371.3,651.8h3.5M555.3,651.8h-3.5M371.3,658.5h2M555.3,658.5h-2M371.3,665.2h2M555.3,665.2h-2M371.3,671.9h2M555.3,671.9h-2M371.3,678.7h2M555.3,678.7h-2M371.3,685.4h3.5M555.3,685.4h-3.5M371.3,692.1h2M555.3,692.1h-2M371.3,698.9h2M555.3,698.9h-2M371.3,705.6h2M555.3,705.6h-2M371.3,712.3h2M555.3,712.3h-2M371.3,719.1h3.5M555.3,719.1h-3.5M371.3,725.8h2M555.3,725.8h-2M371.3,732.5h2M555.3,732.5h-2M371.3,739.2h2M555.3,739.2h-2M371.3,746.0h2M555.3,746.0h-2M371.3,752.7h3.5M555.3,752.7h-3.5M371.3,759.4h2M555.3,759.4h-2M371.3,766.2h2M555.3,766.2h-2M371.3,772.9h2M555.3,772.9h-2M371.3,779.6h2M555.3,779.6h-2M381.0,782.5v-2M381.0,597.9v2M390.8,782.5v-2M390.8,597.9v2M400.7,782.5v-2M400.7,597.9v2M410.5,782.5v-2M410.5,597.9v2M420.4,782.5v-3.5M420.4,597.9v3.5M430.3,782.5v-2M430.3,597.9v2M440.1,782.5v-2M440.1,597.9v2M450.0,782.5v-2M450.0,597.9v2M459.9,782.5v-2M459.9,597.9v2M469.7,782.5v-2M469.7,597.9v2M479.6,782.5v-2M479.6,597.9v2M489.4,782.5v-2M489.4,597.9v2M499.3,782.5v-3.5M499.3,597.9v3.5M509.2,782.5v-2M509.2,597.9v2M519.0,782.5v-2M519.0,597.9v2M528.9,782.5v-2M528.9,597.9v2M538.8,782.5v-2M538.8,597.9v2M548.6,782.5v-2M548.6,597.9v2" stroke="#000" stroke-width="0.8" fill="none"/>
<rect x="379.3" y="609.9" width="18" height="15" fill="#fff"/>
<text x="388.8" y="621.5" font-family="'Liberation Serif','DejaVu Serif',serif" font-size="17" text-anchor="middle" fill="#111">n</text>
<rect x="372.0" y="781.0" width="41.4" height="2.0" fill="#fff"/>
<rect x="372.0" y="750.0" width="41.4" height="31" fill="#d9d9d9"/>
<text x="376.9" y="769.0" font-family="'Liberation Serif','DejaVu Serif',serif" font-size="16" fill="#222"><tspan font-style="italic">β</tspan><tspan dy="4" font-size="10">3</tspan><tspan dx="-6" dy="-12" font-size="9">max</tspan></text>
</g>
<rect x="371.3" y="597.9" width="184.0" height="184.6" fill="none" stroke="#000" stroke-width="1.6"/>
<rect x="561.7" y="597.9" width="6.9" height="184.6" fill="url(#gbeta)" stroke="#000" stroke-width="1.4"/>
<line x1="561.7" x2="568.6" y1="606.2" y2="606.2" stroke="#000" stroke-width="0.9" opacity="0.8"/>
<text x="572.5" y="609.6" font-family="'DejaVu Sans','Liberation Sans',sans-serif" font-size="12.7" fill="#111">2.25</text>
<line x1="561.7" x2="568.6" y1="632.3" y2="632.3" stroke="#000" stroke-width="0.9" opacity="0.8"/>
<text x="572.5" y="635.7" font-family="'DejaVu Sans','Liberation Sans',sans-serif" font-size="12.7" fill="#111">2.20</text>
<line x1="561.7" x2="568.6" y1="658.9" y2="658.9" stroke="#000" stroke-width="0.9" opacity="0.8"/>
<text x="572.5" y="662.3" font-family="'DejaVu Sans','Liberation Sans',sans-serif" font-size="12.7" fill="#111">2.15</text>
<line x1="561.7" x2="568.6" y1="685.0" y2="685.0" stroke="#000" stroke-width="0.9" opacity="0.8"/>
<text x="572.5" y="688.4" font-family="'DejaVu Sans','Liberation Sans',sans-serif" font-size="12.7" fill="#111">2.10</text>
<line x1="561.7" x2="568.6" y1="711.1" y2="711.1" stroke="#000" stroke-width="0.9" opacity="0.8"/>
<text x="572.5" y="714.5" font-family="'DejaVu Sans','Liberation Sans',sans-serif" font-size="12.7" fill="#111">2.05</text>
<line x1="561.7" x2="568.6" y1="737.7" y2="737.7" stroke="#000" stroke-width="0.9" opacity="0.8"/>
<text x="572.5" y="741.1" font-family="'DejaVu Sans','Liberation Sans',sans-serif" font-size="12.7" fill="#111">2.00</text>
<line x1="561.7" x2="568.6" y1="764.6" y2="764.6" stroke="#000" stroke-width="0.9" opacity="0.8"/>
<text x="572.5" y="768.0" font-family="'DejaVu Sans','Liberation Sans',sans-serif" font-size="12.7" fill="#111">1.95</text>
<text transform="translate(621.6,690.2) rotate(-90)" text-anchor="middle" font-family="'Liberation Serif','DejaVu Serif',serif" font-size="16.5" fill="#555"><tspan font-style="italic">β</tspan><tspan baseline-shift="sub" font-size="70%">3</tspan><tspan baseline-shift="super" font-size="70%">max</tspan></text>
<clipPath id="cpo"><rect x="646.5" y="597.9" width="184.2" height="184.6"/></clipPath>
<g clip-path="url(#cpo)">
<clipPath id="fpo"><path clip-rule="evenodd" transform="translate(646.50,597.90)" d="M62.3,48.5 C64.8,47.2 72.7,47.4 75.4,46.9 C78.1,46.3 76.1,45.5 78.7,45.3 C81.3,45.0 88.8,44.6 91.0,45.3 C93.2,45.9 90.6,48.8 91.8,49.3 C93.0,49.9 94.5,48.7 98.4,48.5 C102.2,48.4 111.5,47.7 114.8,48.5 C118.0,49.3 116.4,51.5 118.0,53.4 C119.7,55.4 122.4,58.6 124.6,60.0 C126.8,61.4 128.7,60.8 131.1,61.6 C133.6,62.5 137.2,63.6 139.3,64.9 C141.5,66.3 143.7,67.7 144.3,69.8 C144.8,72.0 143.4,75.6 142.6,78.0 C141.8,80.5 140.2,83.0 139.3,84.6 C138.5,86.2 137.6,86.0 137.7,87.9 C137.8,89.8 139.9,93.1 140.2,96.1 C140.4,99.1 140.0,102.9 139.3,105.9 C138.7,108.9 137.2,111.9 136.1,114.1 C135.0,116.3 133.9,117.4 132.8,119.0 C131.7,120.7 130.3,122.0 129.5,123.9 C128.7,125.9 128.7,128.9 127.9,130.5 C127.0,132.1 125.7,131.6 124.6,133.8 C123.5,136.0 123.0,141.4 121.3,143.6 C119.7,145.8 116.4,146.9 114.8,146.9 C113.1,146.9 114.2,144.4 111.5,143.6 C108.7,142.8 101.6,142.2 98.4,142.0 C95.1,141.7 94.5,142.2 91.8,142.0 C89.1,141.7 85.2,141.4 82.0,140.3 C78.7,139.2 75.4,136.2 72.1,135.4 C68.9,134.6 64.2,136.8 62.3,135.4 C60.4,134.0 61.7,130.0 60.7,127.2 C59.6,124.5 57.4,121.2 55.7,119.0 C54.1,116.8 52.5,116.6 50.8,114.1 C49.2,111.6 47.1,107.3 45.9,104.3 C44.7,101.3 43.7,98.8 43.4,96.1 C43.2,93.3 43.6,90.1 44.3,87.9 C44.9,85.7 46.7,84.6 47.5,83.0 C48.4,81.3 49.0,80.2 49.2,78.0 C49.3,75.9 48.4,72.6 48.4,69.8 C48.4,67.1 48.0,63.7 49.2,61.6 C50.4,59.6 53.8,58.6 55.7,57.5 C57.7,56.5 59.6,56.6 60.7,55.1 C61.7,53.6 59.8,49.9 62.3,48.5Z"/></clipPath>
<g clip-path="url(#fpo)"><g filter="url(#bl)">
<rect x="638.50" y="589.90" width="200.80" height="23.98" fill="#6464d4"/>
<rect x="638.50" y="613.28" width="200.80" height="15.98" fill="#6464d4"/>
<rect x="638.50" y="628.67" width="200.80" height="15.98" fill="#6464d4"/>
<rect x="638.50" y="644.05" width="200.80" height="15.98" fill="#6464d4"/>
<rect x="638.50" y="659.43" width="200.80" height="15.98" fill="#6464d4"/>
<rect x="638.50" y="674.82" width="200.80" height="15.98" fill="#6464d4"/>
<rect x="638.50" y="690.20" width="200.80" height="15.98" fill="#6464d4"/>
<rect x="638.50" y="705.58" width="200.80" height="15.98" fill="#6464d4"/>
<rect x="638.50" y="720.97" width="200.80" height="15.98" fill="#6464d4"/>
<rect x="638.50" y="736.35" width="200.80" height="15.98" fill="#6464d4"/>
<rect x="638.50" y="751.73" width="200.80" height="15.98" fill="#6464d4"/>
<rect x="638.50" y="767.12" width="200.80" height="23.98" fill="#6464d4"/>
</g>
<g transform="translate(646.50,597.90)"><g filter="url(#bl2)"><ellipse cx="68.9" cy="53.4" rx="7.4" ry="4.9" fill="#5050b8"/><ellipse cx="132.8" cy="104.3" rx="6.6" ry="5.7" fill="#5555c0"/><ellipse cx="75.4" cy="130.5" rx="7.4" ry="3.6" fill="#5a5ac4"/><ellipse cx="101.6" cy="114.1" rx="8.2" ry="6.6" fill="#6262d4"/><ellipse cx="103.3" cy="65.3" rx="8.2" ry="5.2" fill="#c02848"/><ellipse cx="64.3" cy="80.5" rx="4.9" ry="3.6" fill="#803060"/><ellipse cx="88.5" cy="137.1" rx="4.1" ry="3.6" fill="#a02848"/><ellipse cx="47.5" cy="99.3" rx="4.1" ry="4.1" fill="#7a3a70"/><ellipse cx="91.8" cy="71.5" rx="19.7" ry="9.8" fill="#5e5ece"/><path d="M49.2,61.6 C50.7,59.9 54.6,59.8 57.4,59.2 C60.1,58.6 63.1,58.6 65.6,58.0 C68.0,57.5 70.2,56.9 72.1,55.9 C74.0,54.9 76.0,53.3 77.0,51.8 C78.1,50.3 77.3,48.0 78.7,46.9 C80.1,45.8 83.2,45.3 85.2,45.3 C87.3,45.3 89.9,46.1 91.0,46.9 C92.1,47.7 92.8,49.3 91.8,50.2 C90.8,51.0 87.2,51.3 85.2,52.1 C83.3,53.0 81.4,53.8 80.3,55.1 C79.2,56.4 79.2,58.3 78.7,60.0 C78.1,61.7 78.1,63.6 77.0,65.3 C76.0,66.9 74.0,68.9 72.1,70.2 C70.2,71.5 68.0,72.3 65.6,73.1 C63.1,73.9 60.1,74.5 57.4,75.1 C54.7,75.7 51.0,77.6 49.5,76.7 C48.0,75.9 48.4,72.4 48.4,69.8 C48.3,67.3 47.7,63.4 49.2,61.6Z" fill="#aaa860"/><ellipse cx="55.7" cy="68.2" rx="7.4" ry="5.7" fill="#c0c038"/><path d="M77.0,81.3 C78.7,79.7 81.7,78.7 85.2,78.0 C88.8,77.4 94.5,77.1 98.4,77.2 C102.2,77.4 105.5,78.2 108.2,78.9 C110.9,79.5 113.1,80.1 114.8,81.3 C116.4,82.5 116.8,84.6 118.0,86.2 C119.3,87.9 121.2,89.6 122.1,91.2 C123.1,92.7 125.0,94.7 123.8,95.3 C122.5,95.8 117.9,94.7 114.8,94.4 C111.6,94.2 107.9,93.5 104.9,93.6 C101.9,93.7 98.8,94.3 96.7,95.3 C94.7,96.2 93.4,97.3 92.6,99.3 C91.8,101.4 92.1,104.8 91.8,107.5 C91.5,110.3 91.4,113.3 91.0,115.7 C90.6,118.2 90.3,120.7 89.3,122.3 C88.4,123.9 86.5,125.6 85.2,125.6 C84.0,125.6 82.4,124.2 82.0,122.3 C81.6,120.4 82.5,117.1 82.8,114.1 C83.1,111.1 84.0,106.7 83.6,104.3 C83.2,101.8 81.4,101.0 80.3,99.3 C79.2,97.7 77.9,96.3 77.0,94.4 C76.2,92.5 75.4,90.1 75.4,87.9 C75.4,85.7 75.4,83.0 77.0,81.3Z" fill="#9c9cd0"/><ellipse cx="91.8" cy="86.2" rx="15.6" ry="7.4" fill="#c8c840"/><ellipse cx="85.2" cy="89.5" rx="5.7" ry="4.9" fill="#e8e8a8"/><ellipse cx="59.0" cy="93.1" rx="8.2" ry="4.6" fill="#9a9ad8"/><ellipse cx="129.5" cy="66.9" rx="4.6" ry="3.0" fill="#9a9ad8"/><ellipse cx="65.6" cy="121.5" rx="4.1" ry="2.5" fill="#9a9ad8"/><ellipse cx="117.7" cy="137.9" rx="6.2" ry="7.9" fill="#e01030"/><ellipse cx="119.3" cy="141.2" rx="3.6" ry="5.2" fill="#100000"/></g></g>
</g>
<line x1="646.5" x2="830.7" y1="618.1" y2="618.1" stroke="#000" stroke-width="1.1" opacity="0.5"/>
<line x1="646.5" x2="830.7" y1="652.0" y2="652.0" stroke="#000" stroke-width="1.1" opacity="0.5"/>
<line x1="646.5" x2="830.7" y1="685.4" y2="685.4" stroke="#000" stroke-width="1.1" opacity="0.5"/>
<line x1="646.5" x2="830.7" y1="719.2" y2="719.2" stroke="#000" stroke-width="1.1" opacity="0.5"/>
<line x1="646.5" x2="830.7" y1="752.7" y2="752.7" stroke="#000" stroke-width="1.1" opacity="0.5"/>
<line x1="695.6" x2="695.6" y1="597.9" y2="782.5" stroke="#000" stroke-width="1.1" opacity="0.5"/>
<line x1="774.5" x2="774.5" y1="597.9" y2="782.5" stroke="#000" stroke-width="1.1" opacity="0.5"/>
<g transform="translate(646.50,597.90)" fill="none" stroke="#000" stroke-width="1.5" stroke-linejoin="round"><path d="M77.0,81.3 C78.7,79.7 81.7,78.7 85.2,78.0 C88.8,77.4 94.5,77.1 98.4,77.2 C102.2,77.4 105.5,78.2 108.2,78.9 C110.9,79.5 113.1,80.1 114.8,81.3 C116.4,82.5 116.8,84.6 118.0,86.2 C119.3,87.9 121.2,89.6 122.1,91.2 C123.1,92.7 125.0,94.7 123.8,95.3 C122.5,95.8 117.9,94.7 114.8,94.4 C111.6,94.2 107.9,93.5 104.9,93.6 C101.9,93.7 98.8,94.3 96.7,95.3 C94.7,96.2 93.4,97.3 92.6,99.3 C91.8,101.4 92.1,104.8 91.8,107.5 C91.5,110.3 91.4,113.3 91.0,115.7 C90.6,118.2 90.3,120.7 89.3,122.3 C88.4,123.9 86.5,125.6 85.2,125.6 C84.0,125.6 82.4,124.2 82.0,122.3 C81.6,120.4 82.5,117.1 82.8,114.1 C83.1,111.1 84.0,106.7 83.6,104.3 C83.2,101.8 81.4,101.0 80.3,99.3 C79.2,97.7 77.9,96.3 77.0,94.4 C76.2,92.5 75.4,90.1 75.4,87.9 C75.4,85.7 75.4,83.0 77.0,81.3Z"/><path d="M49.2,61.6 C50.7,59.9 54.6,59.8 57.4,59.2 C60.1,58.6 63.1,58.6 65.6,58.0 C68.0,57.5 70.2,56.9 72.1,55.9 C74.0,54.9 76.0,53.3 77.0,51.8 C78.1,50.3 77.3,48.0 78.7,46.9 C80.1,45.8 83.2,45.3 85.2,45.3 C87.3,45.3 89.9,46.1 91.0,46.9 C92.1,47.7 92.8,49.3 91.8,50.2 C90.8,51.0 87.2,51.3 85.2,52.1 C83.3,53.0 81.4,53.8 80.3,55.1 C79.2,56.4 79.2,58.3 78.7,60.0 C78.1,61.7 78.1,63.6 77.0,65.3 C76.0,66.9 74.0,68.9 72.1,70.2 C70.2,71.5 68.0,72.3 65.6,73.1 C63.1,73.9 60.1,74.5 57.4,75.1 C54.7,75.7 51.0,77.6 49.5,76.7 C48.0,75.9 48.4,72.4 48.4,69.8 C48.3,67.3 47.7,63.4 49.2,61.6Z"/><ellipse cx="59.0" cy="93.1" rx="8.2" ry="4.6"/><ellipse cx="129.5" cy="66.9" rx="4.9" ry="3.3"/><ellipse cx="65.6" cy="121.5" rx="4.1" ry="2.5"/><ellipse cx="87.7" cy="92.0" rx="1.6" ry="2.0"/></g>
<path d="M646.5,611.4h2M830.7,611.4h-2M646.5,618.1h3.5M830.7,618.1h-3.5M646.5,624.8h2M830.7,624.8h-2M646.5,631.6h2M830.7,631.6h-2M646.5,638.3h2M830.7,638.3h-2M646.5,645.0h2M830.7,645.0h-2M646.5,651.8h3.5M830.7,651.8h-3.5M646.5,658.5h2M830.7,658.5h-2M646.5,665.2h2M830.7,665.2h-2M646.5,671.9h2M830.7,671.9h-2M646.5,678.7h2M830.7,678.7h-2M646.5,685.4h3.5M830.7,685.4h-3.5M646.5,692.1h2M830.7,692.1h-2M646.5,698.9h2M830.7,698.9h-2M646.5,705.6h2M830.7,705.6h-2M646.5,712.3h2M830.7,712.3h-2M646.5,719.1h3.5M830.7,719.1h-3.5M646.5,725.8h2M830.7,725.8h-2M646.5,732.5h2M830.7,732.5h-2M646.5,739.2h2M830.7,739.2h-2M646.5,746.0h2M830.7,746.0h-2M646.5,752.7h3.5M830.7,752.7h-3.5M646.5,759.4h2M830.7,759.4h-2M646.5,766.2h2M830.7,766.2h-2M646.5,772.9h2M830.7,772.9h-2M646.5,779.6h2M830.7,779.6h-2M656.1,782.5v-2M656.1,597.9v2M666.0,782.5v-2M666.0,597.9v2M675.9,782.5v-2M675.9,597.9v2M685.7,782.5v-2M685.7,597.9v2M695.6,782.5v-3.5M695.6,597.9v3.5M705.5,782.5v-2M705.5,597.9v2M715.3,782.5v-2M715.3,597.9v2M725.2,782.5v-2M725.2,597.9v2M735.1,782.5v-2M735.1,597.9v2M744.9,782.5v-2M744.9,597.9v2M754.8,782.5v-2M754.8,597.9v2M764.6,782.5v-2M764.6,597.9v2M774.5,782.5v-3.5M774.5,597.9v3.5M784.4,782.5v-2M784.4,597.9v2M794.2,782.5v-2M794.2,597.9v2M804.1,782.5v-2M804.1,597.9v2M814.0,782.5v-2M814.0,597.9v2M823.8,782.5v-2M823.8,597.9v2" stroke="#000" stroke-width="0.8" fill="none"/>
<rect x="654.5" y="609.9" width="18" height="15" fill="#fff"/>
<text x="664.0" y="621.5" font-family="'Liberation Serif','DejaVu Serif',serif" font-size="17" text-anchor="middle" fill="#111">o</text>
<rect x="647.0" y="780.3" width="38" height="2.7" fill="#fff"/>
<rect x="647.0" y="748.0" width="38" height="32.3" fill="#d9d9d9"/>
<text x="652.1" y="769.0" font-family="'Liberation Serif','DejaVu Serif',serif" font-size="16" fill="#222"><tspan font-style="italic">β</tspan><tspan dy="4" font-size="10">4</tspan><tspan dx="-6" dy="-12" font-size="9">min</tspan></text>
</g>
<rect x="646.5" y="597.9" width="184.2" height="184.6" fill="none" stroke="#000" stroke-width="1.6"/>
<rect x="835.3" y="597.9" width="7.4" height="184.6" fill="url(#gbeta)" stroke="#000" stroke-width="1.4"/>
<line x1="835.3" x2="842.7" y1="620.4" y2="620.4" stroke="#000" stroke-width="0.9" opacity="0.8"/>
<text x="846.6" y="623.8" font-family="'DejaVu Sans','Liberation Sans',sans-serif" font-size="12.7" fill="#111">1.75</text>
<line x1="835.3" x2="842.7" y1="646.5" y2="646.5" stroke="#000" stroke-width="0.9" opacity="0.8"/>
<text x="846.6" y="649.9" font-family="'DejaVu Sans','Liberation Sans',sans-serif" font-size="12.7" fill="#111">1.70</text>
<line x1="835.3" x2="842.7" y1="672.7" y2="672.7" stroke="#000" stroke-width="0.9" opacity="0.8"/>
<text x="846.6" y="676.1" font-family="'DejaVu Sans','Liberation Sans',sans-serif" font-size="12.7" fill="#111">1.65</text>
<line x1="835.3" x2="842.7" y1="698.8" y2="698.8" stroke="#000" stroke-width="0.9" opacity="0.8"/>
<text x="846.6" y="702.2" font-family="'DejaVu Sans','Liberation Sans',sans-serif" font-size="12.7" fill="#111">1.60</text>
<line x1="835.3" x2="842.7" y1="725.4" y2="725.4" stroke="#000" stroke-width="0.9" opacity="0.8"/>
<text x="846.6" y="728.8" font-family="'DejaVu Sans','Liberation Sans',sans-serif" font-size="12.7" fill="#111">1.55</text>
<line x1="835.3" x2="842.7" y1="751.5" y2="751.5" stroke="#000" stroke-width="0.9" opacity="0.8"/>
<text x="846.6" y="754.9" font-family="'DejaVu Sans','Liberation Sans',sans-serif" font-size="12.7" fill="#111">1.50</text>
<line x1="835.3" x2="842.7" y1="776.5" y2="776.5" stroke="#000" stroke-width="0.9" opacity="0.8"/>
<text x="846.6" y="779.9" font-family="'DejaVu Sans','Liberation Sans',sans-serif" font-size="12.7" fill="#111">1.45</text>
<text transform="translate(895.7,690.2) rotate(-90)" text-anchor="middle" font-family="'Liberation Serif','DejaVu Serif',serif" font-size="16.5" fill="#555"><tspan font-style="italic">β</tspan><tspan baseline-shift="sub" font-size="70%">4</tspan><tspan baseline-shift="super" font-size="70%">min</tspan></text>
<clipPath id="cpP"><rect x="921.4" y="597.9" width="184.0" height="184.6"/></clipPath>
<g clip-path="url(#cpP)">
<clipPath id="fpP"><path clip-rule="evenodd" transform="translate(921.40,597.90)" d="M62.3,48.5 C64.8,47.2 72.7,47.4 75.4,46.9 C78.1,46.3 76.1,45.5 78.7,45.3 C81.3,45.0 88.8,44.6 91.0,45.3 C93.2,45.9 90.6,48.8 91.8,49.3 C93.0,49.9 94.5,48.7 98.4,48.5 C102.2,48.4 111.5,47.7 114.8,48.5 C118.0,49.3 116.4,51.5 118.0,53.4 C119.7,55.4 122.4,58.6 124.6,60.0 C126.8,61.4 128.7,60.8 131.1,61.6 C133.6,62.5 137.2,63.6 139.3,64.9 C141.5,66.3 143.7,67.7 144.3,69.8 C144.8,72.0 143.4,75.6 142.6,78.0 C141.8,80.5 140.2,83.0 139.3,84.6 C138.5,86.2 137.6,86.0 137.7,87.9 C137.8,89.8 139.9,93.1 140.2,96.1 C140.4,99.1 140.0,102.9 139.3,105.9 C138.7,108.9 137.2,111.9 136.1,114.1 C135.0,116.3 133.9,117.4 132.8,119.0 C131.7,120.7 130.3,122.0 129.5,123.9 C128.7,125.9 128.7,128.9 127.9,130.5 C127.0,132.1 125.7,131.6 124.6,133.8 C123.5,136.0 123.0,141.4 121.3,143.6 C119.7,145.8 116.4,146.9 114.8,146.9 C113.1,146.9 114.2,144.4 111.5,143.6 C108.7,142.8 101.6,142.2 98.4,142.0 C95.1,141.7 94.5,142.2 91.8,142.0 C89.1,141.7 85.2,141.4 82.0,140.3 C78.7,139.2 75.4,136.2 72.1,135.4 C68.9,134.6 64.2,136.8 62.3,135.4 C60.4,134.0 61.7,130.0 60.7,127.2 C59.6,124.5 57.4,121.2 55.7,119.0 C54.1,116.8 52.5,116.6 50.8,114.1 C49.2,111.6 47.1,107.3 45.9,104.3 C44.7,101.3 43.7,98.8 43.4,96.1 C43.2,93.3 43.6,90.1 44.3,87.9 C44.9,85.7 46.7,84.6 47.5,83.0 C48.4,81.3 49.0,80.2 49.2,78.0 C49.3,75.9 48.4,72.6 48.4,69.8 C48.4,67.1 48.0,63.7 49.2,61.6 C50.4,59.6 53.8,58.6 55.7,57.5 C57.7,56.5 59.6,56.6 60.7,55.1 C61.7,53.6 59.8,49.9 62.3,48.5Z"/></clipPath>
<g clip-path="url(#fpP)"><g filter="url(#bl)">
<rect x="913.40" y="589.90" width="200.60" height="23.98" fill="#7676ec"/>
<rect x="913.40" y="613.28" width="200.60" height="15.98" fill="#7676ec"/>
<rect x="913.40" y="628.67" width="200.60" height="15.98" fill="#7676ec"/>
<rect x="913.40" y="644.05" width="200.60" height="15.98" fill="#7676ec"/>
<rect x="913.40" y="659.43" width="200.60" height="15.98" fill="#7676ec"/>
<rect x="913.40" y="674.82" width="200.60" height="15.98" fill="#7676ec"/>
<rect x="913.40" y="690.20" width="200.60" height="15.98" fill="#7676ec"/>
<rect x="913.40" y="705.58" width="200.60" height="15.98" fill="#7676ec"/>
<rect x="913.40" y="720.97" width="200.60" height="15.98" fill="#7676ec"/>
<rect x="913.40" y="736.35" width="200.60" height="15.98" fill="#7676ec"/>
<rect x="913.40" y="751.73" width="200.60" height="15.98" fill="#7676ec"/>
<rect x="913.40" y="767.12" width="200.60" height="23.98" fill="#7676ec"/>
</g>
<g transform="translate(921.40,597.90)"><g filter="url(#bl2)"><ellipse cx="68.9" cy="82.1" rx="7.4" ry="4.6" fill="#4444a8"/><ellipse cx="86.9" cy="67.4" rx="6.6" ry="4.6" fill="#4a4ab0"/><ellipse cx="111.5" cy="105.9" rx="7.4" ry="5.2" fill="#5252bc"/><ellipse cx="77.0" cy="117.4" rx="8.2" ry="3.6" fill="#5a5ac4"/><ellipse cx="132.0" cy="109.2" rx="4.9" ry="5.7" fill="#5a5ac4"/><ellipse cx="65.6" cy="55.1" rx="6.6" ry="4.9" fill="#5a5ac4"/><ellipse cx="100.8" cy="69.8" rx="3.0" ry="2.0" fill="#602040"/><ellipse cx="83.6" cy="48.2" rx="8.2" ry="3.6" fill="#b8b030"/><path d="M49.2,63.3 C50.8,61.0 55.7,60.8 59.0,60.0 C62.3,59.2 65.6,58.8 68.9,58.4 C72.1,58.0 76.8,57.0 78.7,57.5 C80.6,58.1 80.9,60.1 80.3,61.6 C79.8,63.1 77.3,65.2 75.4,66.6 C73.5,67.9 71.6,68.9 68.9,69.8 C66.1,70.8 62.3,71.7 59.0,72.3 C55.7,72.9 50.8,75.0 49.2,73.4 C47.5,71.9 47.5,65.5 49.2,63.3Z" fill="#c4c030"/><ellipse cx="103.3" cy="84.9" rx="12.3" ry="3.3" fill="#c4c038"/><ellipse cx="89.3" cy="99.3" rx="5.7" ry="4.1" fill="#a8a870"/><ellipse cx="61.5" cy="93.6" rx="5.7" ry="3.6" fill="#a8a890"/><path d="M80.3,83.8 C81.3,83.0 83.7,82.0 85.2,82.1 C86.7,82.3 88.1,84.6 89.3,84.6 C90.6,84.6 91.3,82.6 92.6,82.1 C94.0,81.6 96.3,81.2 97.5,81.6 C98.8,82.1 99.9,83.6 100.0,84.6 C100.1,85.6 99.3,87.1 98.4,87.9 C97.4,88.7 95.2,88.7 94.3,89.5 C93.3,90.3 93.2,91.6 92.6,92.8 C92.1,94.0 91.8,95.9 91.0,96.9 C90.2,97.8 88.9,98.7 87.7,98.5 C86.5,98.4 84.7,97.3 83.6,96.1 C82.5,94.8 81.8,92.7 81.1,91.2 C80.5,89.6 79.6,88.3 79.5,87.1 C79.4,85.8 79.4,84.6 80.3,83.8Z" fill="#f8f8d8"/><ellipse cx="89.3" cy="139.0" rx="4.1" ry="3.0" fill="#a02848"/><ellipse cx="117.7" cy="137.9" rx="6.2" ry="7.9" fill="#c02030"/><ellipse cx="119.3" cy="141.2" rx="3.6" ry="5.2" fill="#100000"/></g></g>
</g>
<line x1="921.4" x2="1105.4" y1="618.1" y2="618.1" stroke="#000" stroke-width="1.1" opacity="0.5"/>
<line x1="921.4" x2="1105.4" y1="652.0" y2="652.0" stroke="#000" stroke-width="1.1" opacity="0.5"/>
<line x1="921.4" x2="1105.4" y1="685.4" y2="685.4" stroke="#000" stroke-width="1.1" opacity="0.5"/>
<line x1="921.4" x2="1105.4" y1="719.2" y2="719.2" stroke="#000" stroke-width="1.1" opacity="0.5"/>
<line x1="921.4" x2="1105.4" y1="752.7" y2="752.7" stroke="#000" stroke-width="1.1" opacity="0.5"/>
<line x1="970.5" x2="970.5" y1="597.9" y2="782.5" stroke="#000" stroke-width="1.1" opacity="0.5"/>
<line x1="1049.4" x2="1049.4" y1="597.9" y2="782.5" stroke="#000" stroke-width="1.1" opacity="0.5"/>
<g transform="translate(921.40,597.90)" fill="none" stroke="#000" stroke-width="1.5" stroke-linejoin="round"><path d="M80.3,83.8 C81.3,83.0 83.7,82.0 85.2,82.1 C86.7,82.3 88.1,84.6 89.3,84.6 C90.6,84.6 91.3,82.6 92.6,82.1 C94.0,81.6 96.3,81.2 97.5,81.6 C98.8,82.1 99.9,83.6 100.0,84.6 C100.1,85.6 99.3,87.1 98.4,87.9 C97.4,88.7 95.2,88.7 94.3,89.5 C93.3,90.3 93.2,91.6 92.6,92.8 C92.1,94.0 91.8,95.9 91.0,96.9 C90.2,97.8 88.9,98.7 87.7,98.5 C86.5,98.4 84.7,97.3 83.6,96.1 C82.5,94.8 81.8,92.7 81.1,91.2 C80.5,89.6 79.6,88.3 79.5,87.1 C79.4,85.8 79.4,84.6 80.3,83.8Z"/><path d="M113.1,146.1 C113.4,144.6 113.4,139.4 114.8,137.1 C116.1,134.7 119.5,133.1 121.3,132.1 C123.1,131.2 124.7,131.5 125.4,131.3" stroke="#800010"/></g>
<path d="M921.4,611.4h2M1105.4,611.4h-2M921.4,618.1h3.5M1105.4,618.1h-3.5M921.4,624.8h2M1105.4,624.8h-2M921.4,631.6h2M1105.4,631.6h-2M921.4,638.3h2M1105.4,638.3h-2M921.4,645.0h2M1105.4,645.0h-2M921.4,651.8h3.5M1105.4,651.8h-3.5M921.4,658.5h2M1105.4,658.5h-2M921.4,665.2h2M1105.4,665.2h-2M921.4,671.9h2M1105.4,671.9h-2M921.4,678.7h2M1105.4,678.7h-2M921.4,685.4h3.5M1105.4,685.4h-3.5M921.4,692.1h2M1105.4,692.1h-2M921.4,698.9h2M1105.4,698.9h-2M921.4,705.6h2M1105.4,705.6h-2M921.4,712.3h2M1105.4,712.3h-2M921.4,719.1h3.5M1105.4,719.1h-3.5M921.4,725.8h2M1105.4,725.8h-2M921.4,732.5h2M1105.4,732.5h-2M921.4,739.2h2M1105.4,739.2h-2M921.4,746.0h2M1105.4,746.0h-2M921.4,752.7h3.5M1105.4,752.7h-3.5M921.4,759.4h2M1105.4,759.4h-2M921.4,766.2h2M1105.4,766.2h-2M921.4,772.9h2M1105.4,772.9h-2M921.4,779.6h2M1105.4,779.6h-2M931.0,782.5v-2M931.0,597.9v2M940.9,782.5v-2M940.9,597.9v2M950.8,782.5v-2M950.8,597.9v2M960.6,782.5v-2M960.6,597.9v2M970.5,782.5v-3.5M970.5,597.9v3.5M980.4,782.5v-2M980.4,597.9v2M990.2,782.5v-2M990.2,597.9v2M1000.1,782.5v-2M1000.1,597.9v2M1010.0,782.5v-2M1010.0,597.9v2M1019.8,782.5v-2M1019.8,597.9v2M1029.7,782.5v-2M1029.7,597.9v2M1039.5,782.5v-2M1039.5,597.9v2M1049.4,782.5v-3.5M1049.4,597.9v3.5M1059.3,782.5v-2M1059.3,597.9v2M1069.1,782.5v-2M1069.1,597.9v2M1079.0,782.5v-2M1079.0,597.9v2M1088.8,782.5v-2M1088.8,597.9v2M1098.7,782.5v-2M1098.7,597.9v2" stroke="#000" stroke-width="0.8" fill="none"/>
<rect x="929.4" y="609.9" width="18" height="15" fill="#fff"/>
<text x="938.9" y="621.5" font-family="'Liberation Serif','DejaVu Serif',serif" font-size="17" text-anchor="middle" fill="#111">P</text>
<rect x="922.0" y="780.3" width="41" height="2.7" fill="#fff"/>
<rect x="922.0" y="748.0" width="41" height="32.3" fill="#d9d9d9"/>
<text x="927.0" y="769.0" font-family="'Liberation Serif','DejaVu Serif',serif" font-size="16" fill="#222"><tspan font-style="italic">β</tspan><tspan dy="4" font-size="10">4</tspan><tspan dx="-6" dy="-12" font-size="9">max</tspan></text>
</g>
<rect x="921.4" y="597.9" width="184.0" height="184.6" fill="none" stroke="#000" stroke-width="1.6"/>
<rect x="1110.7" y="597.9" width="6.7" height="184.6" fill="url(#gbeta)" stroke="#000" stroke-width="1.4"/>
<line x1="1110.7" x2="1117.4" y1="600.0" y2="600.0" stroke="#000" stroke-width="0.9" opacity="0.8"/>
<text x="1121.3" y="603.4" font-family="'DejaVu Sans','Liberation Sans',sans-serif" font-size="12.7" fill="#111">1.85</text>
<line x1="1110.7" x2="1117.4" y1="629.2" y2="629.2" stroke="#000" stroke-width="0.9" opacity="0.8"/>
<text x="1121.3" y="632.6" font-family="'DejaVu Sans','Liberation Sans',sans-serif" font-size="12.7" fill="#111">1.80</text>
<line x1="1110.7" x2="1117.4" y1="660.8" y2="660.8" stroke="#000" stroke-width="0.9" opacity="0.8"/>
<text x="1121.3" y="664.2" font-family="'DejaVu Sans','Liberation Sans',sans-serif" font-size="12.7" fill="#111">1.75</text>
<line x1="1110.7" x2="1117.4" y1="691.0" y2="691.0" stroke="#000" stroke-width="0.9" opacity="0.8"/>
<text x="1121.3" y="694.4" font-family="'DejaVu Sans','Liberation Sans',sans-serif" font-size="12.7" fill="#111">1.70</text>
<line x1="1110.7" x2="1117.4" y1="721.8" y2="721.8" stroke="#000" stroke-width="0.9" opacity="0.8"/>
<text x="1121.3" y="725.2" font-family="'DejaVu Sans','Liberation Sans',sans-serif" font-size="12.7" fill="#111">1.65</text>
<line x1="1110.7" x2="1117.4" y1="752.0" y2="752.0" stroke="#000" stroke-width="0.9" opacity="0.8"/>
<text x="1121.3" y="755.4" font-family="'DejaVu Sans','Liberation Sans',sans-serif" font-size="12.7" fill="#111">1.60</text>
<text transform="translate(1170.4,690.2) rotate(-90)" text-anchor="middle" font-family="'Liberation Serif','DejaVu Serif',serif" font-size="16.5" fill="#555"><tspan font-style="italic">β</tspan><tspan baseline-shift="sub" font-size="70%">4</tspan><tspan baseline-shift="super" font-size="70%">max</tspan></text>
<text x="88" y="69.5" text-anchor="end" font-family="'DejaVu Sans','Liberation Sans',sans-serif" font-size="12.9" fill="#111">-53.2°</text>
<text x="88" y="103.4" text-anchor="end" font-family="'DejaVu Sans','Liberation Sans',sans-serif" font-size="12.9" fill="#111">-53.3°</text>
<text x="88" y="136.8" text-anchor="end" font-family="'DejaVu Sans','Liberation Sans',sans-serif" font-size="12.9" fill="#111">-53.4°</text>
<text x="88" y="170.6" text-anchor="end" font-family="'DejaVu Sans','Liberation Sans',sans-serif" font-size="12.9" fill="#111">-53.5°</text>
<text x="88" y="204.1" text-anchor="end" font-family="'DejaVu Sans','Liberation Sans',sans-serif" font-size="12.9" fill="#111">-53.6°</text>
<text transform="translate(36.8,136.6) rotate(-90)" text-anchor="middle" font-family="'DejaVu Sans','Liberation Sans',sans-serif" font-size="13.5" fill="#111">Dec (J2000)</text>
<text x="88" y="253.6" text-anchor="end" font-family="'DejaVu Sans','Liberation Sans',sans-serif" font-size="12.9" fill="#111">-53.2°</text>
<text x="88" y="287.5" text-anchor="end" font-family="'DejaVu Sans','Liberation Sans',sans-serif" font-size="12.9" fill="#111">-53.3°</text>
<text x="88" y="320.9" text-anchor="end" font-family="'DejaVu Sans','Liberation Sans',sans-serif" font-size="12.9" fill="#111">-53.4°</text>
<text x="88" y="354.7" text-anchor="end" font-family="'DejaVu Sans','Liberation Sans',sans-serif" font-size="12.9" fill="#111">-53.5°</text>
<text x="88" y="388.2" text-anchor="end" font-family="'DejaVu Sans','Liberation Sans',sans-serif" font-size="12.9" fill="#111">-53.6°</text>
<text transform="translate(36.8,320.7) rotate(-90)" text-anchor="middle" font-family="'DejaVu Sans','Liberation Sans',sans-serif" font-size="13.5" fill="#111">Dec (J2000)</text>
<text x="88" y="438.1" text-anchor="end" font-family="'DejaVu Sans','Liberation Sans',sans-serif" font-size="12.9" fill="#111">-53.2°</text>
<text x="88" y="472.0" text-anchor="end" font-family="'DejaVu Sans','Liberation Sans',sans-serif" font-size="12.9" fill="#111">-53.3°</text>
<text x="88" y="505.4" text-anchor="end" font-family="'DejaVu Sans','Liberation Sans',sans-serif" font-size="12.9" fill="#111">-53.4°</text>
<text x="88" y="539.2" text-anchor="end" font-family="'DejaVu Sans','Liberation Sans',sans-serif" font-size="12.9" fill="#111">-53.5°</text>
<text x="88" y="572.7" text-anchor="end" font-family="'DejaVu Sans','Liberation Sans',sans-serif" font-size="12.9" fill="#111">-53.6°</text>
<text transform="translate(36.8,505.2) rotate(-90)" text-anchor="middle" font-family="'DejaVu Sans','Liberation Sans',sans-serif" font-size="13.5" fill="#111">Dec (J2000)</text>
<text x="88" y="622.3" text-anchor="end" font-family="'DejaVu Sans','Liberation Sans',sans-serif" font-size="12.9" fill="#111">-53.2°</text>
<text x="88" y="656.2" text-anchor="end" font-family="'DejaVu Sans','Liberation Sans',sans-serif" font-size="12.9" fill="#111">-53.3°</text>
<text x="88" y="689.6" text-anchor="end" font-family="'DejaVu Sans','Liberation Sans',sans-serif" font-size="12.9" fill="#111">-53.4°</text>
<text x="88" y="723.4" text-anchor="end" font-family="'DejaVu Sans','Liberation Sans',sans-serif" font-size="12.9" fill="#111">-53.5°</text>
<text x="88" y="756.9" text-anchor="end" font-family="'DejaVu Sans','Liberation Sans',sans-serif" font-size="12.9" fill="#111">-53.6°</text>
<text transform="translate(36.8,689.4) rotate(-90)" text-anchor="middle" font-family="'DejaVu Sans','Liberation Sans',sans-serif" font-size="13.5" fill="#111">Dec (J2000)</text>
<text x="146.3" y="798.7" text-anchor="middle" font-family="'DejaVu Sans','Liberation Sans',sans-serif" font-size="13" fill="#111">224.0°</text>
<text x="224.9" y="798.7" text-anchor="middle" font-family="'DejaVu Sans','Liberation Sans',sans-serif" font-size="13" fill="#111">223.6°</text>
<text x="187.9" y="818.5" text-anchor="middle" font-family="'DejaVu Sans','Liberation Sans',sans-serif" font-size="13.3" fill="#111">RA (J2000)</text>
<text x="421.2" y="798.7" text-anchor="middle" font-family="'DejaVu Sans','Liberation Sans',sans-serif" font-size="13" fill="#111">224.0°</text>
<text x="499.8" y="798.7" text-anchor="middle" font-family="'DejaVu Sans','Liberation Sans',sans-serif" font-size="13" fill="#111">223.6°</text>
<text x="463.3" y="818.5" text-anchor="middle" font-family="'DejaVu Sans','Liberation Sans',sans-serif" font-size="13.3" fill="#111">RA (J2000)</text>
<text x="696.4" y="798.7" text-anchor="middle" font-family="'DejaVu Sans','Liberation Sans',sans-serif" font-size="13" fill="#111">224.0°</text>
<text x="775.0" y="798.7" text-anchor="middle" font-family="'DejaVu Sans','Liberation Sans',sans-serif" font-size="13" fill="#111">223.6°</text>
<text x="738.6" y="818.5" text-anchor="middle" font-family="'DejaVu Sans','Liberation Sans',sans-serif" font-size="13.3" fill="#111">RA (J2000)</text>
<text x="971.3" y="798.7" text-anchor="middle" font-family="'DejaVu Sans','Liberation Sans',sans-serif" font-size="13" fill="#111">224.0°</text>
<text x="1049.9" y="798.7" text-anchor="middle" font-family="'DejaVu Sans','Liberation Sans',sans-serif" font-size="13" fill="#111">223.6°</text>
<text x="1013.4" y="818.5" text-anchor="middle" font-family="'DejaVu Sans','Liberation Sans',sans-serif" font-size="13.3" fill="#111">RA (J2000)</text>
<rect x="147" y="52.5" width="124.5" height="23.3" fill="#fff"/>
<text x="209.2" y="68.3" text-anchor="middle" font-family="'DejaVu Sans','Liberation Sans',sans-serif" font-size="16.8" fill="#111">G320.84+5.09</text>
</svg></body></html>
